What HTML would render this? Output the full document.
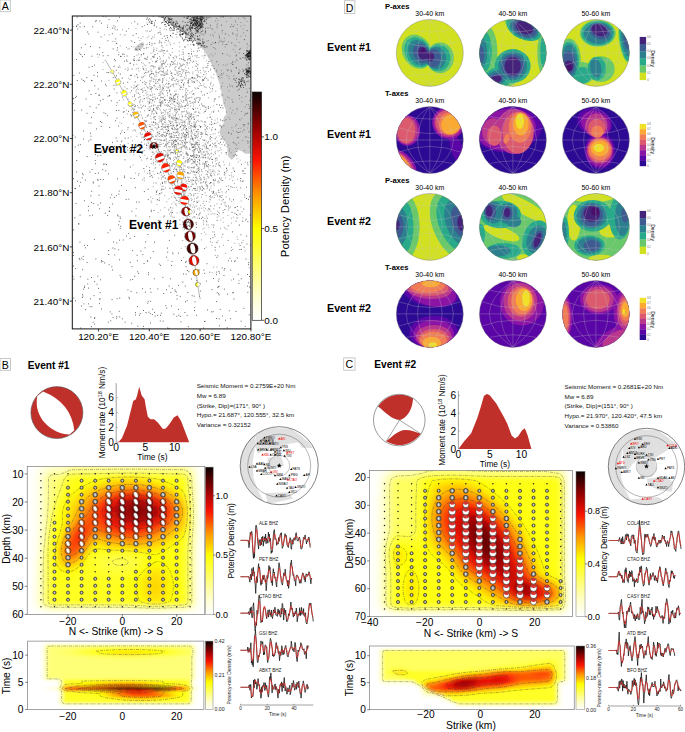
<!DOCTYPE html>
<html><head><meta charset="utf-8"><style>
html,body{margin:0;padding:0;background:#fff;width:685px;height:732px;overflow:hidden}
svg{display:block;font-family:"Liberation Sans",sans-serif}
</style></head><body>
<svg width="685" height="732" viewBox="0 0 685 732">
<defs>
<filter id="bl3" x="-10%" y="-10%" width="120%" height="120%"><feGaussianBlur stdDeviation="2.6"/></filter>
</defs>
<rect x="0" y="0" width="10.3" height="11.7" fill="#fff" stroke="#bbb" stroke-width="0.8"/>
<text x="5.2" y="9.9" font-size="10.6" text-anchor="middle">A</text>
<defs><clipPath id="cA"><rect x="72.3" y="16.0" width="178.6" height="312.9"/></clipPath></defs>
<g clip-path="url(#cA)">
<path d="M159.5 15.5 L173.1 26.3 L187.4 34.5 L197.7 42.7 L205.8 52.9 L210.9 63.1 L216.1 73.4 L220.1 85.6 L222 94.8 L223.2 103.4 L225.7 109.5 L226.3 114.4 L223.8 116.9 L223.2 120.6 L223.8 123 L220.8 126.7 L219.5 131.7 L220.8 136.6 L223.8 140.3 L226.9 144 L227.5 151.3 L228.1 156.3 L231.8 160 L234.3 157.5 L236.1 152.6 L238.6 150.1 L241.7 151.3 L245.3 153.8 L252 153.8 L252 14Z" fill="#cbcbcb"/>
<path d="M134.5 50.5 C134 47 138 44.5 141 42.5 C144 41.5 145 44 143.5 46.5 C141.5 49.5 137 52.5 134.5 50.5Z" fill="#cbcbcb"/>
<path d="M219.8 16h.9M170 16.7h.9M195.2 17h.9M210.4 17.3h.9M220.6 17.1h.9M223.1 17.3h.9M242.5 17.3h.9M162.9 17.9h.9M203.2 18.1h.9M204.8 17.7h.9M216.1 18.3h.9M230.4 17.9h.9M238 18.5h.9M244.1 18h.9M171.8 18.6h.9M189.8 19.4h.9M198.1 19.3h.9M244.5 18.7h.9M167.1 20.4h.9M201.7 20.1h.9M182.8 21.4h.9M215 20.9h.9M217.6 20.6h.9M234.9 20.7h.9M246.5 21.4h.9M149.2 21.6h.9M173.7 22.3h.9M181.9 21.7h.9M190.6 22.1h.9M226 21.6h.9M235.3 22.2h.9M131.2 23h.9M146.4 22.9h.9M172.2 22.9h.9M240.4 22.5h.9M169.8 24.3h.9M217 23.8h.9M231.1 24.3h.9M107.2 25.1h.9M178.8 25.2h.9M186.8 24.7h.9M199.3 24.5h.9M199.5 24.6h.9M201.7 25h.9M216.5 24.8h.9M220.8 25.4h.9M221.2 25h.9M233.7 25h.9M237.1 24.7h.9M243.8 25.2h.9M144 25.5h.9M186 25.5h.9M187.6 25.6h.9M216.6 26.5h.9M240.5 26.3h.9M115.1 26.9h.9M189.8 27.1h.9M196.9 26.8h.9M172.8 27.5h.9M173.9 28.4h.9M189.6 27.5h.9M192.5 28.2h.9M210.1 27.7h.9M216.6 28h.9M128 28.5h.9M135.6 28.6h.9M163.7 29.3h.9M190 29.1h.9M200.1 29.2h.9M211.3 29h.9M212 29h.9M236.6 28.7h.9M242.7 28.9h.9M114.9 29.8h.9M122 29.6h.9M151.1 30h.9M166 29.6h.9M170.9 30h.9M185.4 30.3h.9M202.2 30h.9M145.4 30.9h.9M146.9 30.9h.9M159.6 30.9h.9M184.1 31.2h.9M190.7 30.9h.9M205.1 31.1h.9M237.1 30.7h.9M191.4 32.3h.9M205.2 32.2h.9M214.3 32.2h.9M157.6 32.9h.9M160.3 32.7h.9M172.6 33.1h.9M221.8 33.2h.9M232.3 32.8h.9M243.2 32.8h.9M119.9 34.4h.9M178.8 33.8h.9M201 34h.9M202.5 34h.9M236.9 34.1h.9M104 34.8h.9M108.7 34.9h.9M154.2 34.9h.9M179.2 35.3h.9M194.6 35.5h.9M203.3 35h.9M209.9 34.9h.9M212.3 34.8h.9M218.5 35h.9M228.4 35.3h.9M235.5 35h.9M148.5 36h.9M166.2 35.7h.9M167 35.7h.9M213.1 36.2h.9M236.7 36.2h.9M240.5 36.2h.9M245 35.8h.9M142.6 36.7h.9M152.1 36.8h.9M153.7 37.3h.9M171.7 37.1h.9M176.4 37.1h.9M218.8 37h.9M219.1 37h.9M138.2 37.6h.9M146.8 37.7h.9M190.8 37.9h.9M219.3 38.2h.9M223.9 38.3h.9M140.6 38.5h.9M161.9 38.5h.9M165.1 38.7h.9M190.7 38.9h.9M236.2 39.2h.9M139.3 40.5h.9M168.1 40.3h.9M189.2 40.5h.9M207.9 40.5h.9M220.6 40.2h.9M112.3 41.4h.9M130.7 40.6h.9M159 40.7h.9M165.6 40.5h.9M165.7 40.5h.9M206.5 41.1h.9M219 41.1h.9M223.8 41h.9M114.4 41.5h.9M131.5 41.5h.9M159.4 41.7h.9M160.8 42.3h.9M167.7 41.5h.9M178.8 42.4h.9M215.2 42.4h.9M220.8 41.7h.9M222.5 41.8h.9M222.6 42.2h.9M228.1 41.9h.9M238.7 42.4h.9M116.3 43.4h.9M149.1 42.6h.9M149.3 42.8h.9M151.5 43.2h.9M160.9 43.2h.9M164.5 42.7h.9M169.4 42.9h.9M173.6 43.3h.9M212.3 42.6h.9M214.3 43.3h.9M218.2 42.7h.9M246.6 43.4h.9M141 44.4h.9M146.9 44.2h.9M151.7 44h.9M211.2 44.4h.9M222.2 44.4h.9M142.2 44.6h.9M145.8 44.9h.9M166.4 45h.9M170 44.5h.9M187.5 44.8h.9M190.3 44.7h.9M192.7 44.7h.9M197 45.1h.9M210.2 44.8h.9M224.7 44.7h.9M234.4 45.3h.9M246.8 44.9h.9M119.8 46.1h.9M131.2 46.4h.9M138.3 46.5h.9M151.4 45.8h.9M161 45.8h.9M161.7 45.9h.9M235.5 46.1h.9M248.9 45.8h.9M133.5 46.8h.9M179.3 46.7h.9M184.6 47.5h.9M203.3 47.2h.9M206.9 46.8h.9M224.7 47h.9M126.1 47.5h.9M147.7 47.6h.9M153.5 47.9h.9M156.3 48.3h.9M162.5 47.6h.9M172 48.5h.9M198.7 47.8h.9M200.3 47.6h.9M205.4 47.5h.9M212.8 47.5h.9M214.2 48h.9M240.2 48.4h.9M246.8 47.9h.9M127.6 49h.9M128.9 48.8h.9M135.3 48.9h.9M182.6 49.4h.9M190.7 49.3h.9M215.2 48.9h.9M232.9 49.4h.9M136.6 49.9h.9M140 50.3h.9M153 50h.9M153.7 49.7h.9M155.9 50.4h.9M161.3 49.6h.9M153.4 51.3h.9M158.6 51.2h.9M159.9 51.3h.9M161.4 51.1h.9M161.7 50.6h.9M163.1 50.7h.9M166.7 51.3h.9M166.7 50.7h.9M178.8 51.4h.9M191.1 51.4h.9M193 51.4h.9M199.1 50.5h.9M118.3 52.1h.9M152.7 52.1h.9M171.9 52.4h.9M182.3 51.9h.9M204.3 52.5h.9M234.9 52h.9M150.6 53.2h.9M162.8 52.9h.9M164.4 53.3h.9M183.1 52.7h.9M238.9 53h.9M248.7 53.4h.9M122.8 53.9h.9M123.9 54.4h.9M138.1 54h.9M143.1 54.3h.9M155 54.4h.9M157.1 53.6h.9M168.8 53.9h.9M183.1 54.2h.9M189 53.7h.9M191 53.8h.9M210.8 54.2h.9M214.5 53.7h.9M136.5 55.3h.9M154.1 54.5h.9M179.1 55.2h.9M181.6 54.6h.9M203.8 55.1h.9M204.9 55.2h.9M226.8 54.7h.9M236.2 54.9h.9M123.9 56.4h.9M134 56.4h.9M140.8 55.9h.9M153.7 56h.9M159 56.5h.9M163 55.8h.9M174.7 56.1h.9M176.3 56.4h.9M188.5 56.1h.9M192.1 56.2h.9M194.4 55.7h.9M195.5 56h.9M196.8 55.6h.9M201.6 55.9h.9M204.3 55.9h.9M208.5 56h.9M212.4 55.9h.9M229.5 56h.9M247 55.9h.9M250.6 56.4h.9M97.6 57.2h.9M133.6 56.7h.9M139.2 57.5h.9M152.1 56.5h.9M152.5 56.9h.9M153.8 57.2h.9M168.4 57.2h.9M172.7 57.4h.9M183 57h.9M189.9 57h.9M196.5 57.3h.9M247.5 57.5h.9M144.3 58.2h.9M145.5 58.5h.9M159.8 58h.9M168.8 58.1h.9M172.8 58h.9M173.6 58.2h.9M176 57.6h.9M188.2 58.5h.9M189.1 58.5h.9M198.4 57.6h.9M203.6 58h.9M239.6 58.3h.9M239.8 58.3h.9M133.8 58.6h.9M146.8 59.3h.9M150.7 58.9h.9M159.7 59.3h.9M179 58.7h.9M180.7 58.6h.9M181 59.3h.9M183.1 59.2h.9M183.3 59.2h.9M187.5 59.5h.9M188.9 58.9h.9M190 58.8h.9M236.1 59.3h.9M240.4 58.9h.9M104.7 60.4h.9M138.6 60.4h.9M139.3 59.8h.9M146.1 59.6h.9M165.9 60.1h.9M174.8 60.2h.9M182.5 59.7h.9M187.2 60.1h.9M133.6 60.6h.9M136.4 60.6h.9M152 61.4h.9M156.8 60.6h.9M161.6 61.1h.9M162.9 60.7h.9M163.1 61.4h.9M165.7 61.2h.9M183.6 60.9h.9M195.7 61.3h.9M206.2 60.8h.9M208.3 61.5h.9M211.3 60.9h.9M232.2 61.4h.9M236.8 60.7h.9M246.8 60.6h.9M155 62h.9M155.6 61.7h.9M155.7 61.9h.9M160.2 62h.9M171 61.6h.9M171.2 61.8h.9M171.9 61.9h.9M173.7 61.6h.9M192.3 62.4h.9M208.7 61.7h.9M232.2 62.4h.9M234.7 62h.9M102.5 62.6h.9M129.3 63.4h.9M141 62.6h.9M142.7 63.3h.9M148.6 62.7h.9M149.3 62.9h.9M172.8 62.7h.9M177.1 62.9h.9M186.3 62.9h.9M186.8 62.7h.9M187.2 63.1h.9M189 62.9h.9M230.6 63.5h.9M136.4 64.2h.9M161.5 64.2h.9M161.6 63.6h.9M161.9 63.7h.9M163 63.6h.9M163.4 63.5h.9M164.1 64h.9M167.3 64.3h.9M169.8 63.9h.9M169.9 64.5h.9M172 64.4h.9M172.9 64h.9M174.1 64h.9M174.7 64h.9M176.7 64.4h.9M179 63.7h.9M180 64.2h.9M181.8 64.2h.9M183.1 64.2h.9M196.2 63.5h.9M226.9 64.2h.9M231.9 64.4h.9M143.9 64.9h.9M161 65.1h.9M161.5 64.6h.9M183.8 64.6h.9M186.6 65h.9M197.1 64.9h.9M197.6 64.7h.9M211.3 65.5h.9M217.9 64.8h.9M222.8 64.9h.9M225.3 65.3h.9M246.3 64.7h.9M250.4 65h.9M114.1 66.2h.9M119.2 65.9h.9M145.5 65.6h.9M149.9 66.3h.9M151 65.8h.9M152.9 66.3h.9M159.6 66.1h.9M162.2 66h.9M170.3 65.6h.9M175.6 66.5h.9M180.4 66.1h.9M180.6 65.8h.9M180.8 66.1h.9M182 65.5h.9M195 66.2h.9M196 66.3h.9M212.7 66h.9M247.6 65.6h.9M113.1 66.6h.9M119.6 67.3h.9M142.3 66.6h.9M158.6 67.4h.9M160.9 67.1h.9M169.2 66.8h.9M175 67.1h.9M179.4 66.9h.9M184.9 67.1h.9M192.2 67.2h.9M127.5 67.9h.9M153 68h.9M159.4 68.1h.9M162.6 68.1h.9M163 68.3h.9M174.1 68h.9M178.3 68.1h.9M178.6 68.1h.9M188 68.4h.9M197.1 68.3h.9M207.2 67.8h.9M235.6 68.2h.9M246.4 67.7h.9M124.9 69h.9M127.8 69.5h.9M135.8 68.9h.9M143 69.3h.9M145.8 68.8h.9M150.5 69.2h.9M158.4 69h.9M158.9 69.4h.9M160.5 68.9h.9M178.5 68.7h.9M181.2 69h.9M197 68.7h.9M210 69.1h.9M226.7 69.5h.9M242.1 69.2h.9M249.6 68.8h.9M102.5 69.5h.9M127.2 70.5h.9M143.4 69.8h.9M145.7 70.3h.9M163.2 70.3h.9M167.1 70h.9M174.6 69.9h.9M175.3 70.1h.9M181.9 69.6h.9M182.6 70.5h.9M183.6 69.7h.9M195.5 70.3h.9M199.9 70.5h.9M210.2 70.2h.9M216.2 70h.9M221.2 70.3h.9M228.1 70.1h.9M230.6 70.1h.9M238.6 69.7h.9M244.7 69.5h.9M247.2 70.1h.9M138.4 70.9h.9M147.9 71.2h.9M149.7 70.8h.9M155.5 71.1h.9M160.4 71.1h.9M162.7 71.5h.9M167.1 70.9h.9M170.1 71.1h.9M176.6 71.2h.9M179.6 71.4h.9M185.4 70.6h.9M186.2 70.8h.9M197.4 70.6h.9M203.2 70.7h.9M205.5 71.2h.9M208 71.3h.9M226.9 70.9h.9M230.7 70.9h.9M239.5 71h.9M111.3 71.9h.9M145.4 72.4h.9M148 72h.9M155.5 72.3h.9M155.8 72.4h.9M159 71.7h.9M162.9 72.4h.9M165.6 72h.9M178.1 71.9h.9M179.5 71.5h.9M183.3 71.6h.9M185.7 72.5h.9M187.8 71.9h.9M192.5 72.1h.9M198.1 72.2h.9M204.5 72h.9M216.1 71.7h.9M231 71.8h.9M238.8 72.4h.9M118.3 73.1h.9M144 73.4h.9M144.8 72.8h.9M146.6 72.6h.9M153.1 73.4h.9M157.5 72.8h.9M158.2 72.7h.9M163.9 73.2h.9M166.9 73.2h.9M170.7 73.3h.9M170.8 72.8h.9M171.4 73.1h.9M176.3 73h.9M177 73.1h.9M182.1 72.9h.9M185 72.9h.9M185.2 73.3h.9M187.5 72.5h.9M189.2 73h.9M200.4 72.8h.9M223.2 73.1h.9M149.6 74.3h.9M150.2 74.5h.9M152.9 74.3h.9M156 74.1h.9M165.2 73.9h.9M171.1 73.8h.9M173.9 74.3h.9M178.6 74.1h.9M179.8 73.6h.9M192.2 73.8h.9M205.9 73.7h.9M220.9 73.6h.9M221.5 74.3h.9M244.6 74.5h.9M130 75.4h.9M149.3 75.4h.9M154.4 75.2h.9M160.4 74.8h.9M160.9 75h.9M164.5 75.1h.9M167.5 74.5h.9M175.2 74.7h.9M181 74.8h.9M185.3 75h.9M196 75.1h.9M197.3 75.5h.9M197.4 74.8h.9M213.5 74.5h.9M219.4 75.2h.9M221.6 75.1h.9M226.4 75.4h.9M130.2 75.7h.9M134.4 76.2h.9M136.8 76.1h.9M142.9 76.3h.9M144.5 75.7h.9M149 76.4h.9M156.3 76.2h.9M171 75.6h.9M172.1 76.4h.9M180.1 76.5h.9M181 76.2h.9M185.8 76.2h.9M198.5 76.4h.9M233.3 75.8h.9M140.9 77.1h.9M142.6 77.2h.9M151.3 77.4h.9M154.6 76.7h.9M184.1 77.3h.9M192.3 77.3h.9M198.7 76.8h.9M199.8 77.2h.9M201.8 76.7h.9M205.3 77.4h.9M210.8 77.2h.9M228.4 76.6h.9M246.6 77.5h.9M248.9 76.6h.9M114.9 77.7h.9M121.6 78.1h.9M122.1 78.1h.9M128.3 78.3h.9M141.8 77.9h.9M150.5 77.8h.9M163.8 77.9h.9M169 78.1h.9M171.9 78.3h.9M172.9 78h.9M173.3 78.3h.9M185.7 78.4h.9M191.3 78h.9M191.9 78.1h.9M192.2 77.8h.9M212.7 78.2h.9M219.3 77.8h.9M221.4 77.7h.9M250.6 77.6h.9M151.4 78.8h.9M153.3 78.7h.9M155.7 79.3h.9M159.2 79.2h.9M162.1 78.6h.9M162.4 79.1h.9M182.5 79.3h.9M184.8 78.9h.9M190 79.1h.9M193.4 78.8h.9M195.6 78.9h.9M206.2 78.6h.9M228.7 78.7h.9M234.3 78.9h.9M242.9 78.5h.9M108.5 80.4h.9M129.6 79.5h.9M140.1 80.5h.9M150.5 80.4h.9M153.5 79.5h.9M155.2 80.2h.9M157.9 79.7h.9M158.1 80.1h.9M158.5 80h.9M159.6 80.2h.9M166 80.2h.9M171.1 79.6h.9M171.6 80.1h.9M171.9 80.1h.9M174 80.3h.9M178.5 80.4h.9M180.7 79.9h.9M191.4 80.5h.9M203.1 80.4h.9M203.2 79.7h.9M115.2 80.6h.9M144.2 81.4h.9M148.9 81h.9M168.4 81.4h.9M175.3 80.9h.9M177.1 81.5h.9M181.7 80.8h.9M182.2 80.6h.9M187.7 80.5h.9M187.9 80.6h.9M188 81.4h.9M194.2 81.4h.9M196.5 80.7h.9M196.9 80.9h.9M201.8 81h.9M134.6 82.2h.9M134.8 81.7h.9M150.4 81.6h.9M153.1 81.6h.9M154.9 81.8h.9M157.2 81.5h.9M161.7 82.1h.9M162 81.7h.9M177.9 81.8h.9M187.9 82.3h.9M193.1 81.7h.9M199.1 82.3h.9M240.5 81.7h.9M145.3 82.9h.9M145.9 82.6h.9M149.1 83.3h.9M156.3 83.2h.9M157.7 83.1h.9M162.1 82.6h.9M166.2 83.4h.9M168.5 83.5h.9M184 82.9h.9M210.2 83.4h.9M210.6 82.8h.9M222.4 83.1h.9M143.9 83.9h.9M145 84.5h.9M155 83.5h.9M164.9 84.3h.9M167.7 84.2h.9M173.3 84h.9M175.5 83.6h.9M175.9 84.4h.9M177.6 83.7h.9M187.9 83.6h.9M200 83.5h.9M203.6 83.8h.9M133.9 85.3h.9M149.4 84.7h.9M154.2 85.4h.9M159.3 85h.9M162.8 84.9h.9M171.4 85.1h.9M172.5 84.6h.9M172.9 85.1h.9M178.7 85.2h.9M183 85.2h.9M183.3 85.1h.9M210 84.8h.9M213.2 84.9h.9M229.2 84.8h.9M146.1 86h.9M149.6 86.5h.9M153.3 85.7h.9M159.4 85.5h.9M164.3 86.3h.9M169.9 85.9h.9M180.5 86.1h.9M188.2 86h.9M189.4 86.3h.9M198.7 86h.9M202.8 85.7h.9M211.9 86.1h.9M221.2 86.3h.9M231.7 85.9h.9M124.5 86.9h.9M130.9 87.2h.9M135.1 86.9h.9M136.2 86.5h.9M147.5 87.2h.9M150.6 86.7h.9M154.6 86.7h.9M157.6 87.2h.9M159.4 87h.9M160.2 86.8h.9M166.4 87.2h.9M167.7 86.9h.9M168.2 87.4h.9M169.8 86.6h.9M173.3 86.8h.9M180.1 87.3h.9M180.5 87.2h.9M180.8 87.5h.9M182.9 87.3h.9M209.1 87.1h.9M220.6 87h.9M227.1 87h.9M229.9 86.5h.9M232.2 86.8h.9M133.2 88.1h.9M134.2 87.9h.9M137.1 88.1h.9M143.7 87.8h.9M147 87.7h.9M148.5 88.2h.9M151 88.3h.9M151.4 87.8h.9M152.1 87.7h.9M155.8 88.4h.9M159.8 88.2h.9M162.3 88.1h.9M167.7 88.3h.9M194.5 87.8h.9M196.8 88h.9M205.7 87.7h.9M248.9 88.4h.9M141.2 89.4h.9M141.8 88.8h.9M150.2 88.7h.9M155.3 89.3h.9M161.9 89.4h.9M179.4 89h.9M179.7 89.5h.9M182.2 89.5h.9M185.4 88.6h.9M185.9 89h.9M195.1 88.9h.9M210.3 88.6h.9M219.8 88.9h.9M246.2 89.1h.9M136.2 89.8h.9M137.8 89.5h.9M140.4 89.5h.9M150.2 89.5h.9M150.8 89.7h.9M159.5 89.7h.9M161.5 90.2h.9M163.4 90.4h.9M169.2 90.5h.9M169.3 89.9h.9M187 90.4h.9M237.4 90.5h.9M135.5 91.2h.9M142.1 90.6h.9M143.2 91.1h.9M169.2 90.8h.9M173.9 91.3h.9M175.6 90.8h.9M185 90.8h.9M192 90.8h.9M211.7 91.1h.9M215.3 91.3h.9M228.5 90.8h.9M120.3 92h.9M142.2 92.5h.9M146.5 91.9h.9M151.2 91.6h.9M159.9 91.9h.9M160.8 91.8h.9M169.1 91.7h.9M186.3 92.5h.9M190.8 91.8h.9M209.6 92.2h.9M246.9 91.8h.9M129.8 92.8h.9M136.4 93h.9M145.4 93.2h.9M158.5 93.4h.9M159.7 93.1h.9M161.9 93h.9M167.2 92.6h.9M185.2 93.2h.9M189.4 93h.9M193.1 93.5h.9M246.7 92.6h.9M126.4 94.2h.9M152.3 94.2h.9M154.1 94.3h.9M161.8 93.8h.9M162.9 94h.9M167 93.7h.9M170.1 94.4h.9M170.1 94.2h.9M174.8 94.4h.9M174.9 94h.9M175.6 94.1h.9M175.9 94.3h.9M177.7 94.1h.9M186.8 94.3h.9M192.2 94.4h.9M193.4 93.7h.9M220.8 94.1h.9M134.3 94.5h.9M139.3 94.5h.9M146.3 95h.9M147.6 94.7h.9M149.7 95.1h.9M150 95.4h.9M151.6 95.2h.9M159.5 95.3h.9M159.7 94.7h.9M170.7 94.9h.9M174 95.4h.9M184.7 95.2h.9M185 94.8h.9M193.5 94.7h.9M202.2 95.1h.9M222.3 95h.9M134 95.6h.9M143.4 95.7h.9M158.6 95.6h.9M164.4 96.2h.9M167.1 95.7h.9M172.9 96.4h.9M173.3 95.8h.9M174.8 95.8h.9M177.6 96.1h.9M182 96.3h.9M186 95.9h.9M220.9 95.8h.9M245.2 96.4h.9M107.4 96.5h.9M132.2 96.8h.9M133.8 96.6h.9M139.5 97.1h.9M139.7 96.6h.9M147.8 96.8h.9M154.4 97h.9M160 97.3h.9M160.6 97.4h.9M162.2 97.3h.9M169.5 97.1h.9M173 97.5h.9M182.4 97.2h.9M183.3 96.7h.9M185.7 96.9h.9M190.6 97.4h.9M191.5 97.2h.9M227.3 97.1h.9M241.3 97.4h.9M138 97.7h.9M145.9 98h.9M147.3 98.2h.9M155 98.4h.9M157.3 98.2h.9M160.9 97.7h.9M162.7 97.8h.9M162.9 97.7h.9M169.1 98.2h.9M169.7 97.9h.9M170.4 97.9h.9M171 98.2h.9M171.1 98.3h.9M173.1 98.1h.9M185.5 97.5h.9M187.5 98.2h.9M187.8 98.4h.9M189 97.7h.9M195.8 98.3h.9M200.2 98.1h.9M208.2 97.9h.9M228.7 98h.9M127.6 98.9h.9M142.8 99.1h.9M148.9 98.7h.9M150.3 99.3h.9M150.7 99.5h.9M157 98.5h.9M164.7 99.4h.9M169.7 99.3h.9M171.9 99.1h.9M174.4 98.9h.9M174.5 99h.9M174.7 99.2h.9M177.4 99.2h.9M185.3 98.6h.9M193.9 99h.9M194.2 98.8h.9M214.2 99h.9M239.1 98.8h.9M123.2 99.9h.9M140.3 99.5h.9M149.4 99.8h.9M151.9 100h.9M154.9 99.6h.9M159.1 100h.9M160 99.8h.9M163.9 99.6h.9M164.9 100.4h.9M166.8 100.3h.9M171.7 100.4h.9M173.4 99.8h.9M173.6 100h.9M180.5 100h.9M185.5 99.5h.9M185.5 100.3h.9M185.7 100h.9M186.4 100.4h.9M194.8 99.9h.9M213.7 100h.9M225 99.8h.9M231.6 99.6h.9M250.6 99.6h.9M118.9 100.5h.9M133.9 100.5h.9M139.4 101.4h.9M139.6 100.8h.9M142.1 101.3h.9M147.3 101.2h.9M152 100.8h.9M170.2 101h.9M173.9 101.5h.9M177.2 100.6h.9M183.2 100.6h.9M183.3 101h.9M189.7 101.2h.9M195.2 100.7h.9M199.1 100.6h.9M249.1 100.5h.9M149.7 101.9h.9M154 102h.9M158.9 102h.9M169 102.1h.9M172.8 101.7h.9M173.5 102h.9M178.4 102.1h.9M180.9 101.6h.9M182.6 102.4h.9M186.9 102h.9M189.2 101.5h.9M192.3 102.3h.9M193.6 102h.9M194.4 102.3h.9M194.9 102.3h.9M197.9 101.7h.9M198 102.5h.9M213.8 101.6h.9M241.4 101.9h.9M131.1 103.3h.9M139.3 102.8h.9M148.9 102.8h.9M149.2 103.3h.9M151.4 103.1h.9M159.7 102.8h.9M159.8 102.8h.9M160.1 102.9h.9M160.7 103.4h.9M161.1 102.9h.9M162.3 102.8h.9M162.4 103.1h.9M165.1 102.5h.9M168 102.5h.9M171.3 103.2h.9M176.5 103h.9M177 103.5h.9M177.2 103h.9M179.5 103.5h.9M186.8 103.2h.9M189.9 103.5h.9M191.5 102.9h.9M224.3 103h.9M133.9 104.4h.9M147.8 104h.9M167.4 104.2h.9M172.5 104.1h.9M178.7 104.1h.9M187.7 104.2h.9M192.9 103.9h.9M246.3 104.5h.9M116.1 105.5h.9M132.2 105.5h.9M132.8 105.1h.9M140.3 104.9h.9M153 105.1h.9M154.6 105.2h.9M159.4 105.4h.9M160.6 104.6h.9M163.8 105.1h.9M165.4 105.1h.9M166.2 105.2h.9M167.8 105.4h.9M170.1 104.6h.9M173.9 105.4h.9M177.8 104.8h.9M180.9 105.1h.9M186.2 104.9h.9M199.1 105.3h.9M202.2 105.4h.9M248 104.7h.9M250.8 105.4h.9M134.5 106.3h.9M135 105.9h.9M135.1 105.9h.9M137.1 105.7h.9M143.2 105.6h.9M151.1 105.7h.9M153.1 105.9h.9M160.2 106.2h.9M160.5 106.2h.9M167 106.3h.9M168.2 105.8h.9M175.4 106.2h.9M177.8 106.4h.9M179.3 105.8h.9M181.8 106.3h.9M183.9 106.5h.9M184.6 106h.9M190 106.1h.9M193.1 106.2h.9M204 106h.9M212.8 105.8h.9M249.1 106.3h.9M133.9 106.8h.9M137.7 107.2h.9M142.2 106.6h.9M148.7 106.6h.9M150.6 106.7h.9M156.6 106.9h.9M169.2 106.5h.9M170.5 107.1h.9M178.4 107.1h.9M179.8 107.2h.9M180.7 107h.9M182 106.7h.9M204.6 107.4h.9M205 107.2h.9M244.8 106.9h.9M123.4 108h.9M138.9 107.9h.9M140.7 107.6h.9M140.9 108.2h.9M148.8 107.8h.9M153.1 108.5h.9M156.9 108h.9M157.8 107.5h.9M171.4 108h.9M172.4 108.1h.9M174.5 107.7h.9M187.5 108.3h.9M191.9 108.3h.9M195.1 108.2h.9M197 108.2h.9M206.3 107.9h.9M210.1 107.5h.9M229.8 108.2h.9M236.4 108.3h.9M133.5 109h.9M147.4 108.8h.9M150.1 109.2h.9M153.2 108.6h.9M158.8 109h.9M168.5 109.2h.9M170.2 109.2h.9M174.1 109.4h.9M174.2 109.1h.9M175.4 109.5h.9M175.9 109h.9M177.6 108.9h.9M178.8 108.9h.9M184.2 108.6h.9M192.5 108.5h.9M192.8 109.4h.9M199.9 109.2h.9M126.1 110.4h.9M131.4 109.9h.9M148.7 110.5h.9M148.8 110.5h.9M148.9 110.4h.9M149.3 110.5h.9M152.6 109.9h.9M157 109.6h.9M160.2 110.2h.9M162.9 109.8h.9M165.7 109.6h.9M175.2 110h.9M176.3 110.1h.9M178.3 109.6h.9M178.9 109.6h.9M179 109.9h.9M205.7 109.7h.9M232.3 110.3h.9M236.7 109.7h.9M144.1 110.8h.9M151.3 110.9h.9M153.7 110.6h.9M155.1 111h.9M164.2 110.7h.9M165 111.3h.9M169 111.5h.9M169.8 110.9h.9M174.2 111h.9M184.2 111.2h.9M186 111h.9M203.9 111.3h.9M213.5 110.9h.9M132 112.4h.9M137.4 112h.9M140 111.9h.9M152 111.6h.9M155.7 112.3h.9M160.7 112.1h.9M175.5 112.2h.9M177 111.5h.9M181.1 111.9h.9M182 111.9h.9M182.9 111.7h.9M186.3 112.1h.9M187.5 112.4h.9M194.6 112.3h.9M194.8 111.9h.9M195.5 111.8h.9M211.4 112h.9M226 112h.9M240.9 111.5h.9M133.1 112.7h.9M151.5 112.9h.9M161.2 113.4h.9M161.5 113h.9M162.8 112.6h.9M165.3 112.9h.9M167.3 113.1h.9M167.5 112.6h.9M176.3 112.6h.9M189.3 113h.9M199.4 113.3h.9M203.4 112.9h.9M231.2 112.9h.9M247.3 112.9h.9M126.8 114.1h.9M132.8 114.1h.9M147.8 114.3h.9M151.2 114.2h.9M156.4 113.5h.9M164.4 114.4h.9M169.6 113.9h.9M172.5 114h.9M175.7 113.6h.9M180.7 114.1h.9M186.3 114.1h.9M187.3 113.5h.9M188.5 114.1h.9M193.4 114.4h.9M209.5 114.2h.9M234.7 113.8h.9M245.5 114.2h.9M247 113.7h.9M130.1 114.6h.9M139.1 115h.9M140.9 115.1h.9M167.4 114.7h.9M168.7 115.4h.9M169.5 115.3h.9M175.2 114.6h.9M178.2 114.8h.9M185 115h.9M189.4 115.3h.9M190.2 114.7h.9M191.2 114.9h.9M244.1 115.4h.9M147 116.1h.9M150.1 116.1h.9M158.7 116.2h.9M161.7 116h.9M168.5 116.4h.9M169.6 116.3h.9M173.4 115.8h.9M174.7 115.5h.9M175.1 116.1h.9M182.2 115.8h.9M188.1 116h.9M191.3 116h.9M193.3 116.5h.9M195.8 116h.9M197.4 115.6h.9M197.9 115.8h.9M123 117.5h.9M145.4 117.3h.9M153.6 117.1h.9M154 116.7h.9M155.1 116.6h.9M160.5 117.2h.9M164.9 116.8h.9M171.6 117h.9M173.4 117.4h.9M179 117.1h.9M181.6 116.8h.9M182 116.8h.9M184.6 116.6h.9M185.6 116.6h.9M189.2 117.2h.9M189.6 116.9h.9M190.1 116.5h.9M190.4 117h.9M228.6 117.5h.9M153.1 117.6h.9M158.7 118.2h.9M161.9 118h.9M163 118.1h.9M163.5 117.6h.9M164.9 118.4h.9M168.9 117.5h.9M171.9 117.6h.9M174.4 118.1h.9M176.1 118.3h.9M176.7 118.3h.9M177.5 118.4h.9M187.1 117.6h.9M187.9 118.2h.9M188.1 118.4h.9M190.8 118.3h.9M192.6 117.5h.9M193.5 117.8h.9M206.8 118h.9M209.4 117.5h.9M241.5 118.4h.9M150.6 118.9h.9M153.7 118.8h.9M154.8 119.4h.9M161.4 118.8h.9M163.2 119.1h.9M163.5 119.4h.9M172.3 118.7h.9M173.6 118.7h.9M175.6 118.9h.9M176.2 118.8h.9M176.9 119.1h.9M179.6 119.5h.9M185.7 119.4h.9M187.8 119.4h.9M189.2 119.2h.9M191 119h.9M193.7 118.9h.9M216.9 118.9h.9M229.5 119.5h.9M144.2 120.3h.9M146.3 120.4h.9M155.1 119.6h.9M159.6 120.2h.9M160.6 119.8h.9M161.6 120.2h.9M161.6 120.1h.9M164 119.5h.9M164.8 120.1h.9M172.7 119.6h.9M174.8 120.1h.9M178.2 119.8h.9M180.7 120.3h.9M181.4 119.8h.9M193.8 119.6h.9M194.2 119.5h.9M197.3 120.3h.9M214.5 120.1h.9M224.6 120.4h.9M225.7 119.5h.9M239.1 119.6h.9M239.7 119.9h.9M250 120.1h.9M250.4 119.5h.9M144.6 120.6h.9M145.7 121.5h.9M159.5 121.3h.9M168.3 120.5h.9M169.7 121.1h.9M174.6 120.6h.9M175.6 120.7h.9M182.5 121h.9M184.6 121h.9M188.3 120.9h.9M188.8 121.4h.9M189.8 121.2h.9M195.8 121.3h.9M200.6 120.9h.9M201.7 121.5h.9M119.4 122.3h.9M144.7 121.6h.9M145.5 121.9h.9M151.3 122.2h.9M160.8 121.7h.9M161 121.9h.9M168.8 121.6h.9M169.5 122.1h.9M171.4 121.6h.9M172.3 122.1h.9M175.9 122h.9M180.7 122.5h.9M182.7 122.1h.9M189 122.1h.9M193.6 121.9h.9M198.4 121.5h.9M204.2 121.9h.9M204.6 121.9h.9M205.1 122.1h.9M217.4 122.1h.9M144.2 123.2h.9M154.7 122.8h.9M155.3 122.7h.9M158.5 122.6h.9M161.7 123.4h.9M165.4 122.7h.9M170.2 123.4h.9M170.4 123.2h.9M174.9 122.7h.9M176 122.9h.9M177.5 122.7h.9M179.2 123.1h.9M182.2 122.5h.9M184.7 122.8h.9M187.6 123h.9M189.1 123.1h.9M190.8 123.4h.9M193.4 122.9h.9M195.5 122.7h.9M214 123.3h.9M214 123.4h.9M215.6 123.4h.9M121.2 123.5h.9M132.9 123.9h.9M139.1 123.9h.9M155.3 124.5h.9M155.7 123.6h.9M157.4 124.1h.9M161.9 124.5h.9M163 123.8h.9M164.7 124.5h.9M170 123.8h.9M172.7 124.1h.9M181.3 124.2h.9M184.2 124.3h.9M187.5 124.2h.9M194.8 123.6h.9M203.9 124.5h.9M209.4 124.1h.9M212.4 124.1h.9M242.7 124.5h.9M141.8 125.3h.9M144.8 125.5h.9M148.8 124.7h.9M150.7 124.8h.9M152 124.9h.9M153.5 125.4h.9M157.8 125h.9M167.5 124.7h.9M168.3 124.9h.9M173.4 125.4h.9M177 125.2h.9M177.2 125h.9M179.3 124.5h.9M182 125.3h.9M184.9 125.5h.9M189.1 124.8h.9M190 125.4h.9M193.5 124.9h.9M194.4 124.8h.9M195.2 124.7h.9M205.3 125.4h.9M219.4 125.1h.9M236.2 124.6h.9M243.2 124.6h.9M244.2 124.6h.9M247.8 124.8h.9M142 126.2h.9M144.2 126.2h.9M146 126h.9M162.3 126h.9M165.4 126.3h.9M166.6 126.3h.9M166.8 126.4h.9M168.7 126.5h.9M170.2 125.6h.9M171 125.7h.9M172.5 126.5h.9M176.7 125.6h.9M176.9 125.7h.9M181.4 125.8h.9M183 125.9h.9M183.2 125.8h.9M184.2 126.1h.9M185.7 126.2h.9M190.9 125.6h.9M191.2 125.8h.9M193.4 126h.9M194.2 126.3h.9M194.2 126.3h.9M194.2 126h.9M194.8 126.1h.9M196.4 126.3h.9M199 125.6h.9M200.4 126.4h.9M204.6 126.3h.9M207 126.5h.9M223.4 125.8h.9M235 126h.9M243.3 126.4h.9M244.4 125.6h.9M140.4 127.3h.9M146 127.5h.9M148.9 126.5h.9M149.6 126.5h.9M150.3 126.8h.9M157.9 127.2h.9M158.1 126.8h.9M158.5 127.3h.9M160.9 126.5h.9M161.2 126.7h.9M163.2 127h.9M163.7 127.1h.9M164.7 127.1h.9M167 126.8h.9M168 126.9h.9M176 126.7h.9M180.2 127.3h.9M188.4 126.9h.9M190.4 127.2h.9M191.8 126.6h.9M193.4 127.1h.9M193.8 127h.9M194.2 126.7h.9M199.8 127.3h.9M200.3 127.4h.9M206.1 127.5h.9M143.6 127.9h.9M154.7 127.7h.9M156.6 128.2h.9M161.9 128.3h.9M167.3 127.7h.9M168.1 128.2h.9M171.1 128.4h.9M171.6 127.9h.9M172.1 128.5h.9M173.8 127.6h.9M174.9 128.4h.9M179.3 127.7h.9M183.1 128.1h.9M188.7 128.3h.9M190.3 128.3h.9M194.8 127.9h.9M195 127.5h.9M206.2 128.4h.9M209.2 128h.9M212 127.6h.9M231.4 127.8h.9M240.5 128.2h.9M247.3 128h.9M143.4 129.2h.9M143.7 129.4h.9M151.5 129.3h.9M151.6 129.1h.9M156.5 129h.9M160.4 129.4h.9M161.3 129.3h.9M165.4 129.3h.9M166.1 129.3h.9M171.9 129.2h.9M172.4 129.5h.9M174.3 129.1h.9M176.8 128.8h.9M182.8 128.6h.9M186 128.7h.9M186.3 129.1h.9M206.8 129h.9M211.4 129.4h.9M215 129h.9M238.1 128.5h.9M121.7 130.5h.9M127.4 129.6h.9M141.3 130.5h.9M150.4 129.5h.9M162.7 129.7h.9M166.8 130.1h.9M168.2 130.4h.9M174.3 129.9h.9M175.9 129.6h.9M176.4 130h.9M177.3 129.9h.9M181.3 130.1h.9M181.6 130.1h.9M183.5 129.7h.9M187.5 130.3h.9M191 129.8h.9M193.1 130h.9M194.4 129.7h.9M197.7 129.8h.9M204.4 129.8h.9M205.1 129.7h.9M211.1 130.1h.9M243.6 129.7h.9M243.7 130h.9M249.9 129.8h.9M132.5 130.6h.9M135 131h.9M149.5 131.3h.9M152.7 130.6h.9M167.1 131.2h.9M168.3 130.5h.9M190.8 130.9h.9M190.9 131.1h.9M191.3 131.3h.9M196.2 131.3h.9M205.6 131.4h.9M232.6 130.9h.9M121.3 132h.9M150.7 132.1h.9M157.7 131.9h.9M159.3 131.8h.9M163.6 132.1h.9M165 132.2h.9M166.7 132h.9M168.6 131.7h.9M172.7 132.2h.9M175.7 132.3h.9M176.3 132.4h.9M176.6 132h.9M177.3 131.9h.9M177.9 132.2h.9M186.1 132.1h.9M186.3 132.2h.9M188.3 131.9h.9M190.6 132.1h.9M195.7 131.5h.9M196.4 131.9h.9M196.5 132.1h.9M198.4 131.8h.9M201.2 132.5h.9M228.1 132.2h.9M236.3 131.5h.9M239.8 131.7h.9M242 131.7h.9M248.6 132.1h.9M248.6 131.6h.9M163.5 132.5h.9M166.5 133.5h.9M169.3 133.3h.9M174.9 133h.9M182.8 132.7h.9M183.1 132.9h.9M187 132.9h.9M191.9 133h.9M194.4 133.3h.9M200.3 132.8h.9M202.3 133.3h.9M205.2 132.9h.9M217.9 132.5h.9M227.9 133h.9M228.5 133h.9M236.9 132.7h.9M142 134.2h.9M145.2 134.2h.9M147.9 134.1h.9M156.6 134.5h.9M158.5 133.6h.9M158.8 134h.9M159.2 133.5h.9M167 133.5h.9M168.3 134.4h.9M169 134h.9M170.7 133.6h.9M170.7 133.8h.9M171.4 134.1h.9M178.9 133.8h.9M181.2 133.6h.9M181.6 133.9h.9M183.4 133.6h.9M185.4 134.3h.9M187.7 134.4h.9M188.2 133.8h.9M191.1 134h.9M193.5 134.2h.9M197.3 134.1h.9M198 133.8h.9M199.9 134.4h.9M201.5 134.5h.9M205 134.2h.9M205.7 134.3h.9M205.8 134.4h.9M212.8 134h.9M214.6 133.7h.9M140.8 134.6h.9M148.6 135.1h.9M151.8 134.7h.9M161.5 134.8h.9M163.1 134.8h.9M165.8 135.5h.9M166.1 135.5h.9M173.4 135.2h.9M178.3 135h.9M178.3 135.2h.9M182.3 135.1h.9M184 134.8h.9M184 134.9h.9M185.1 134.8h.9M186.1 135.3h.9M186.2 135.3h.9M187.7 134.9h.9M194.3 135.1h.9M195.5 135.2h.9M206.5 134.6h.9M207.3 135.1h.9M210.3 134.6h.9M136.5 136.4h.9M155 136h.9M155.8 136.4h.9M157.4 135.8h.9M158.9 136.5h.9M161.7 136.2h.9M165.3 136.3h.9M169.3 136.1h.9M170.7 136h.9M174.2 136h.9M175.5 135.5h.9M175.9 135.6h.9M181.5 135.9h.9M183.9 136.4h.9M184.8 136.3h.9M186 136.2h.9M186.1 135.6h.9M190.6 136h.9M190.7 135.7h.9M194.4 135.6h.9M195.1 135.9h.9M196.5 135.8h.9M197.8 136.2h.9M218.7 136h.9M130.5 136.9h.9M141.3 137.2h.9M142.6 137.2h.9M143.6 136.6h.9M144.3 137.2h.9M149.1 136.8h.9M161.8 136.5h.9M164.8 136.7h.9M169.4 137.3h.9M170.1 136.6h.9M171.3 137.5h.9M171.3 137.3h.9M172.9 137.5h.9M174.2 137.4h.9M182.8 136.7h.9M184 137.1h.9M184.9 137.3h.9M187.8 137h.9M188.3 137.1h.9M191 136.9h.9M192 137.3h.9M196 137h.9M201.2 136.7h.9M215.8 137.2h.9M222.1 137h.9M244.9 137.1h.9M245.9 136.7h.9M247.7 137.5h.9M143.3 137.7h.9M151.2 137.9h.9M170.3 138.1h.9M177.2 137.7h.9M178.5 137.6h.9M180.7 137.6h.9M181 138.1h.9M181 137.8h.9M185.6 137.9h.9M195.2 138h.9M197.2 137.6h.9M199.9 138.4h.9M209.3 138h.9M236.8 137.8h.9M153.9 139.3h.9M154.9 139.4h.9M156.6 139.1h.9M165.7 139.1h.9M165.7 138.8h.9M178 138.9h.9M184.4 138.8h.9M190.4 139.1h.9M190.6 138.6h.9M192 138.7h.9M192.1 139h.9M192.9 138.8h.9M202.3 139.5h.9M209.7 138.8h.9M209.8 139.3h.9M220.3 139.1h.9M223.7 139.3h.9M143.6 140.2h.9M149.8 140.1h.9M157.8 140h.9M159.4 139.5h.9M159.9 140.2h.9M160.9 140.1h.9M161.3 140.4h.9M163.6 140.1h.9M163.9 140.1h.9M164 140.4h.9M169.5 140.3h.9M171.1 140.4h.9M172 140.4h.9M172.6 140.1h.9M174 140.5h.9M174.8 140h.9M177 139.9h.9M180.4 140.3h.9M182.1 140.5h.9M185.1 140.1h.9M192.8 139.9h.9M197.5 140.1h.9M204.1 140.4h.9M204.3 140h.9M242.2 140.4h.9M132.1 140.7h.9M163.3 140.8h.9M165.6 140.8h.9M168.8 140.7h.9M174.5 140.8h.9M175 140.9h.9M175.4 141.3h.9M176.1 141.4h.9M176.1 141.2h.9M179.3 140.6h.9M183.2 140.9h.9M189.7 141.3h.9M192.7 141h.9M198.7 140.6h.9M203.2 140.5h.9M205.9 141.2h.9M208.1 141.4h.9M210.3 141.2h.9M216.6 141.1h.9M246.8 141.1h.9M120.8 141.9h.9M147.7 142.3h.9M155.8 141.8h.9M159.5 142.5h.9M166.3 141.8h.9M168.5 142.2h.9M173.4 141.7h.9M180.9 141.8h.9M181.7 142.3h.9M184 142.2h.9M185.4 141.6h.9M186.5 142.1h.9M194.7 142h.9M196.1 142h.9M196.9 142.5h.9M223 142.1h.9M233 142.1h.9M247.5 141.9h.9M248.7 141.8h.9M127.7 143.3h.9M162.8 143.4h.9M166.4 143.2h.9M168.4 142.5h.9M171.3 143.2h.9M171.3 142.7h.9M173.5 142.6h.9M177.4 143.1h.9M177.9 143.1h.9M181.9 143.2h.9M184.1 143h.9M184.6 143.1h.9M184.8 142.9h.9M186.3 142.8h.9M186.7 142.5h.9M189.3 142.7h.9M190.4 143.3h.9M195.5 143h.9M195.5 143.4h.9M196.3 143.1h.9M196.9 142.6h.9M198.7 142.8h.9M204.7 143.1h.9M207 142.9h.9M207.7 142.8h.9M212 143.4h.9M214.7 142.9h.9M218.1 143.4h.9M232.7 142.6h.9M234.4 143.4h.9M238.2 143h.9M135.5 144.4h.9M144 144.2h.9M146 144.2h.9M148 143.6h.9M149.8 144.2h.9M154.1 143.8h.9M158.7 144.3h.9M161 144.2h.9M165.1 144.3h.9M165.9 144.3h.9M167 143.6h.9M167.5 144h.9M171.3 144.3h.9M172.2 144.3h.9M173.2 143.5h.9M175.4 144.3h.9M177.9 143.7h.9M179.7 144.2h.9M180.5 144.4h.9M185.2 144.1h.9M191.4 143.7h.9M191.5 144.3h.9M191.7 144.5h.9M192 144.4h.9M193.7 144.1h.9M194.9 144.4h.9M204.8 144.3h.9M213.3 144.4h.9M214.5 143.5h.9M218.9 143.9h.9M225.7 143.8h.9M235.5 144.2h.9M247.5 143.5h.9M130.9 144.9h.9M140.5 144.7h.9M158.5 144.6h.9M160.3 144.5h.9M165.3 145.3h.9M165.9 145.3h.9M171.1 145.1h.9M173.9 145.2h.9M174.5 144.6h.9M176.3 145.1h.9M177.9 144.8h.9M182.6 145h.9M184.2 145.5h.9M184.5 145.2h.9M190.7 144.6h.9M191.2 145.4h.9M193.3 144.7h.9M194.1 145.2h.9M194.5 144.8h.9M197.1 145h.9M197.7 144.9h.9M198.7 144.6h.9M199 144.7h.9M203.3 145.2h.9M205.8 145h.9M209.2 145.5h.9M209.4 145.5h.9M209.9 144.5h.9M214.5 145.4h.9M221.4 144.5h.9M224.4 144.8h.9M227.9 144.9h.9M236.2 145.2h.9M147.4 145.7h.9M152.4 145.7h.9M158.4 146h.9M159.6 146.5h.9M163.8 146.4h.9M164.3 146.2h.9M165.9 146.1h.9M169.4 146.5h.9M173 145.9h.9M174 146.2h.9M175.6 146.3h.9M182.8 145.9h.9M193.9 146h.9M201.9 145.9h.9M203.8 146.4h.9M205.9 146h.9M210 145.6h.9M215.3 145.6h.9M215.7 145.6h.9M224.2 145.6h.9M226.5 146.4h.9M134.1 147h.9M148.8 147.2h.9M151.9 147.1h.9M152.9 146.7h.9M156.8 147h.9M168.3 146.6h.9M171.8 147.2h.9M172.1 146.5h.9M173.8 146.7h.9M174.2 147.3h.9M175.4 146.8h.9M181.6 146.5h.9M183.6 146.7h.9M183.8 146.7h.9M184.6 147.4h.9M185.6 146.9h.9M186.1 146.8h.9M191.5 147.2h.9M192 146.9h.9M192.6 147.1h.9M192.8 146.7h.9M195.2 146.6h.9M198.1 147.1h.9M198.3 146.5h.9M205.8 146.6h.9M212 146.8h.9M214.5 146.9h.9M216.4 147.1h.9M248.7 146.8h.9M146.3 148h.9M149.4 148.2h.9M158.3 148.1h.9M166.4 147.7h.9M169.4 147.8h.9M176.1 147.9h.9M179.3 148.1h.9M180.5 148h.9M180.9 147.7h.9M181.5 147.6h.9M186.7 147.6h.9M189 148.3h.9M192.3 147.6h.9M194.4 147.5h.9M195.6 148.4h.9M198.9 147.7h.9M204.6 148.1h.9M207.2 148.3h.9M219.8 148h.9M235.2 148.4h.9M237.2 148.4h.9M148.7 149h.9M150.4 149.3h.9M152.3 149.5h.9M173.9 148.8h.9M175.6 149h.9M177.8 148.8h.9M185.3 148.6h.9M186.6 149.2h.9M188.9 149.3h.9M189.6 149.3h.9M197.1 148.7h.9M199.1 149.4h.9M199.3 148.7h.9M200.3 148.6h.9M201.8 149.2h.9M206.4 148.6h.9M207.7 148.5h.9M229.3 148.7h.9M152 149.9h.9M155.6 149.7h.9M158 149.8h.9M163.5 150.4h.9M167.3 150.2h.9M167.8 150.2h.9M169.4 150.4h.9M169.9 149.6h.9M173.4 150.1h.9M181.2 149.9h.9M193.5 149.7h.9M194.4 149.9h.9M197.2 150.2h.9M201.8 149.5h.9M208.8 150h.9M211.1 149.8h.9M220.7 149.8h.9M243.9 150.4h.9M142.7 151h.9M144.3 150.7h.9M164.4 150.8h.9M169.3 150.8h.9M174 150.8h.9M175.1 150.8h.9M176.6 150.7h.9M177.1 151h.9M178.2 150.7h.9M180.6 151.5h.9M191.8 150.8h.9M192.6 151h.9M193.5 151h.9M198.4 151.4h.9M199.6 150.7h.9M200 150.7h.9M206.5 151h.9M214.8 151.3h.9M217.5 151h.9M218.8 150.6h.9M229 150.9h.9M236.4 151.5h.9M129.4 152.2h.9M142.1 151.8h.9M151.7 152.3h.9M152.1 152h.9M153.1 152.2h.9M158.8 151.7h.9M158.8 151.6h.9M160.8 151.5h.9M165.4 151.9h.9M167.7 152h.9M170 152.4h.9M174.1 152.1h.9M177.5 151.6h.9M177.9 151.9h.9M178.6 151.7h.9M179.3 152.4h.9M180.4 151.6h.9M185.6 152h.9M193.3 152h.9M193.7 152.3h.9M198.3 152.2h.9M198.6 152.4h.9M200.1 151.9h.9M201.4 152h.9M203.6 151.8h.9M205.8 151.8h.9M207.3 152.2h.9M153.8 153.4h.9M160.2 152.9h.9M162.6 153.2h.9M166.7 153.2h.9M172.1 152.6h.9M172.7 153.2h.9M172.9 152.5h.9M175.3 152.5h.9M182.5 153h.9M185.8 153h.9M185.9 153.4h.9M186.2 153.1h.9M198.3 152.5h.9M211 153.2h.9M214.4 152.7h.9M220.9 152.9h.9M226 152.5h.9M230.6 152.8h.9M161.6 153.8h.9M166.7 154.1h.9M170.3 153.8h.9M174.8 154.2h.9M177.1 154.3h.9M185.6 154.2h.9M187 153.5h.9M193 153.7h.9M193.6 154.4h.9M200.9 153.9h.9M201.5 154.2h.9M205.2 154.2h.9M207.2 154.2h.9M207.9 153.7h.9M210.4 153.9h.9M215.1 153.7h.9M225.9 154.4h.9M133.3 154.7h.9M144.4 155.2h.9M152.6 154.8h.9M164.5 155.1h.9M165.4 154.8h.9M167.4 155.2h.9M167.9 155.1h.9M168.5 154.5h.9M179.9 154.8h.9M180.8 154.9h.9M180.9 155.1h.9M186.4 154.7h.9M187 154.7h.9M192 155.5h.9M193.2 154.9h.9M195.6 155.4h.9M195.9 154.6h.9M197.2 155.1h.9M202.8 155.2h.9M204.1 155h.9M204.8 155h.9M208.9 155h.9M213.1 154.8h.9M233.8 155.5h.9M138.9 156.2h.9M151.1 156.5h.9M157.5 155.9h.9M157.9 156h.9M158.1 156.1h.9M163.6 156.3h.9M165.1 156.2h.9M165.4 155.6h.9M166.8 156.2h.9M167.3 155.5h.9M167.4 156.1h.9M167.6 155.7h.9M178.4 156.5h.9M183.4 156.4h.9M187.5 155.6h.9M190.6 155.5h.9M191.2 156.3h.9M191.6 156.2h.9M192.5 156h.9M193.3 155.8h.9M194.2 155.8h.9M197.6 155.8h.9M199.1 156.4h.9M204.9 155.7h.9M218.7 155.8h.9M232.9 155.8h.9M159.1 157.5h.9M167.5 156.9h.9M174.6 156.9h.9M175.3 157.4h.9M177 156.6h.9M178.9 156.6h.9M191.4 156.5h.9M193.5 157.2h.9M194.2 156.7h.9M196.2 157h.9M197.8 157.4h.9M201.6 156.9h.9M203 157.2h.9M207.7 157.2h.9M211 156.5h.9M146.5 158.3h.9M147.1 158h.9M163.4 158.2h.9M167.4 157.8h.9M168.6 158.2h.9M169.3 157.6h.9M169.8 158.4h.9M169.9 158.1h.9M173.2 158.1h.9M175.9 157.9h.9M183.4 158h.9M186.7 157.7h.9M189.1 158.4h.9M189.2 158.3h.9M193.1 157.7h.9M195.1 157.7h.9M199.6 157.8h.9M202.4 158h.9M202.7 157.6h.9M205.4 158h.9M207.5 157.9h.9M210 157.9h.9M215.3 158.2h.9M216.6 157.9h.9M146.4 159h.9M150.4 159.2h.9M150.4 159.5h.9M151.3 158.6h.9M166.5 159.5h.9M169.6 158.9h.9M175.9 158.8h.9M182.8 158.5h.9M188.1 159.3h.9M191.6 159.5h.9M194.2 159.4h.9M197.6 159.3h.9M211.5 159.3h.9M212.1 159.5h.9M214.8 158.9h.9M215.6 158.7h.9M236.5 158.8h.9M141.2 160.1h.9M153.1 160h.9M158.1 160.3h.9M166 160.1h.9M170.2 159.6h.9M174 159.6h.9M177.7 160.2h.9M178.1 159.8h.9M187.2 160h.9M187.6 159.6h.9M187.7 159.8h.9M190.4 159.6h.9M195 160.1h.9M216.6 160.2h.9M239.8 160.2h.9M173.1 160.6h.9M177.2 160.6h.9M179.8 161.4h.9M186.7 160.7h.9M188.5 160.9h.9M189.6 161h.9M192.4 160.7h.9M194.4 161.3h.9M194.5 161.3h.9M207 161.5h.9M214.9 161.1h.9M157.3 162.3h.9M166.4 161.6h.9M167.3 162.5h.9M178 162.2h.9M178.4 162.4h.9M180 162.1h.9M183.8 162.1h.9M187.1 162h.9M187.3 161.9h.9M187.6 162.2h.9M192.7 162.4h.9M194.7 162.3h.9M196.9 161.9h.9M197.1 161.7h.9M204.9 162.4h.9M205.3 162.1h.9M212.2 162h.9M223 161.9h.9M237.8 162h.9M244.8 162.2h.9M151.2 163.4h.9M153.1 162.6h.9M164.5 163h.9M166.6 163h.9M174.7 162.6h.9M176.6 162.7h.9M176.8 162.9h.9M178 162.6h.9M181.4 162.9h.9M181.8 163.3h.9M185.3 162.9h.9M194.1 162.8h.9M198.7 163h.9M199.2 163.2h.9M202.6 163.2h.9M204.3 163.5h.9M211.9 163h.9M217.9 163h.9M219.2 162.5h.9M229.1 163.2h.9M152.9 163.9h.9M163.9 163.9h.9M166.7 163.6h.9M166.8 163.6h.9M169.1 163.7h.9M172 163.9h.9M173.2 164.1h.9M173.2 163.7h.9M174.2 164.4h.9M179.1 163.6h.9M180.1 164.1h.9M180.2 163.7h.9M181 164.1h.9M182.6 164h.9M190.9 163.9h.9M192.4 163.5h.9M195.2 164.1h.9M199.4 164.4h.9M202.4 164.2h.9M203.5 164.1h.9M205.4 164.1h.9M206 163.9h.9M215.7 164.1h.9M215.9 163.6h.9M132.6 165.1h.9M154.8 164.7h.9M159.3 164.9h.9M167.4 164.9h.9M169.2 164.9h.9M172 165.1h.9M175.3 164.9h.9M183.6 165.2h.9M196 164.8h.9M196.1 165h.9M196.6 164.7h.9M204.1 164.9h.9M204.2 165.3h.9M218 164.7h.9M223.8 164.7h.9M228.8 165.4h.9M164.6 166.1h.9M169 165.8h.9M169 165.8h.9M170.8 165.8h.9M171.6 166.4h.9M180.3 166h.9M183.5 166.2h.9M184.8 166h.9M196.8 166.3h.9M206.8 166.4h.9M207.6 166.4h.9M209.7 165.7h.9M212.5 166.2h.9M212.9 165.8h.9M215.2 166.2h.9M218.8 165.9h.9M129.6 166.9h.9M130 167.1h.9M146 166.5h.9M149.1 167.4h.9M166.2 166.8h.9M175.4 166.7h.9M177.6 167.2h.9M179.3 167h.9M180 166.9h.9M180.8 167.4h.9M187.3 167.4h.9M187.5 166.8h.9M188.9 167.1h.9M191.8 167.4h.9M193.1 167.3h.9M193.9 166.8h.9M198.6 167.2h.9M204.2 167h.9M204.2 166.7h.9M206.4 166.7h.9M219.9 166.9h.9M154.5 168.3h.9M155.2 167.7h.9M163.4 168.2h.9M174.4 167.9h.9M181.3 168h.9M190.6 167.6h.9M191 167.7h.9M192.7 168.1h.9M194 167.8h.9M198.1 168.2h.9M198.5 168.1h.9M208.2 167.9h.9M164.1 168.6h.9M166.6 169.2h.9M173.9 168.8h.9M175.6 169.4h.9M176 169.4h.9M176 169.4h.9M180.5 169.5h.9M181.2 169.4h.9M188.4 168.6h.9M196.6 169.1h.9M197.6 168.6h.9M203.6 168.5h.9M226 168.7h.9M165.3 169.9h.9M167.6 170.1h.9M173 169.6h.9M175.4 169.5h.9M176.5 169.8h.9M179 170.2h.9M184.4 169.7h.9M190.4 170.2h.9M197.8 170.2h.9M198.3 170.4h.9M198.8 169.6h.9M201 169.5h.9M208.6 169.9h.9M210.3 170.1h.9M212.5 169.8h.9M233.4 170.2h.9M143.9 171.1h.9M152.6 171.4h.9M170.2 170.7h.9M175.9 171h.9M182.1 170.9h.9M183 171.1h.9M184 171.4h.9M191.2 171.3h.9M192.9 171h.9M201.2 171h.9M205.5 170.5h.9M206.9 171.5h.9M211.7 171.4h.9M213.5 171h.9M217.9 170.8h.9M219 171.4h.9M172.7 171.8h.9M182.4 172.2h.9M184.5 172.2h.9M187.4 172.4h.9M192.3 171.8h.9M193.4 172.4h.9M193.8 171.6h.9M194.3 172.5h.9M195.7 171.7h.9M199.2 171.7h.9M201.8 171.9h.9M207.5 172h.9M207.5 172h.9M212.4 171.7h.9M214.6 172h.9M225.8 171.8h.9M250.3 172.2h.9M135.2 173.1h.9M147.2 173.3h.9M149.3 172.9h.9M163.1 173.2h.9M170.5 172.9h.9M181.7 173.2h.9M186.8 172.5h.9M187 173.1h.9M187.4 172.6h.9M188.4 173.2h.9M189.9 173h.9M198 173.3h.9M209.5 173h.9M210.9 173.2h.9M224.7 173.3h.9M231.3 172.7h.9M242.7 173.5h.9M153.8 174.3h.9M158.7 173.7h.9M168 174.2h.9M170.9 173.6h.9M181.2 174.2h.9M181.2 174.1h.9M182.9 174.4h.9M188.4 173.8h.9M206.5 174.1h.9M213.5 174h.9M217.1 174.3h.9M218.5 173.9h.9M223.9 174.4h.9M137.9 175.4h.9M160.9 175.2h.9M193.7 174.6h.9M195.2 175.2h.9M199.2 175h.9M200.9 175h.9M205.7 174.6h.9M207.1 174.8h.9M214.2 175.1h.9M224.3 175.1h.9M228.8 175.5h.9M230.9 175.1h.9M164.1 175.5h.9M168.3 176.3h.9M172 176.3h.9M177.6 175.6h.9M179.1 175.9h.9M180.7 176.4h.9M181.3 176.2h.9M183 175.9h.9M210.5 175.5h.9M161.4 177.5h.9M162.6 177h.9M172.2 176.8h.9M178.4 176.9h.9M181 177.5h.9M184.8 177.4h.9M185.1 177.3h.9M187.4 177.1h.9M188.9 177.4h.9M192.9 177.3h.9M195.4 177.3h.9M199.1 176.6h.9M203.4 177.2h.9M203.9 177.3h.9M207.3 176.6h.9M208.5 176.9h.9M231.4 177.1h.9M233.1 176.9h.9M158.2 178.2h.9M170.2 177.9h.9M173.9 178.3h.9M174.4 177.8h.9M178.7 178h.9M179.6 178.4h.9M184.5 177.9h.9M187.6 177.8h.9M196.4 178.5h.9M200.2 177.7h.9M208.3 177.9h.9M221.1 177.8h.9M225 177.9h.9M160.9 179.1h.9M165.4 178.9h.9M171.5 178.9h.9M173.8 179h.9M176.3 179h.9M177.1 179.1h.9M177.8 178.8h.9M183.1 178.5h.9M188.1 179.3h.9M199.4 178.7h.9M200.8 179h.9M203.7 179.2h.9M204 179.3h.9M205.9 178.8h.9M215 179.3h.9M229.4 179.2h.9M237.2 179.2h.9M142.1 179.9h.9M172.9 180.2h.9M173.5 179.9h.9M174.6 179.7h.9M177.6 180.5h.9M181.7 180.1h.9M184.7 179.8h.9M190 180.2h.9M191.6 180h.9M191.7 180h.9M195 180.2h.9M196.3 180.3h.9M196.7 180h.9M199.8 180.1h.9M200.5 179.7h.9M232.2 180.5h.9M143.8 180.6h.9M165.6 181.5h.9M170.3 181.1h.9M177.3 180.7h.9M186.3 180.9h.9M188 181.3h.9M194.7 181.3h.9M198 181.2h.9M205.7 181.2h.9M212.9 180.6h.9M213.9 180.7h.9M215 180.7h.9M218 180.8h.9M220.8 180.7h.9M243.1 180.9h.9M168.9 182.2h.9M176.9 182.1h.9M181 182.4h.9M185.4 182h.9M189 181.7h.9M191.4 182h.9M200.4 182.3h.9M203 182h.9M203.3 181.7h.9M205 182.3h.9M205.5 182.2h.9M217.3 181.6h.9M219 182.2h.9M153 182.9h.9M165.5 183h.9M168.6 182.8h.9M174 183.1h.9M180.7 183.3h.9M195.1 182.7h.9M195.8 183.4h.9M199.9 183.2h.9M201.5 182.8h.9M205.3 183.4h.9M210.2 183.1h.9M210.9 182.6h.9M213.6 183h.9M217.6 183.1h.9M159.9 184.1h.9M170.4 183.8h.9M177.5 183.9h.9M182.9 183.9h.9M186.7 183.6h.9M191.9 184h.9M193.2 184.2h.9M196 184.3h.9M209 183.6h.9M213.3 184.1h.9M233.9 183.5h.9M171.4 184.8h.9M174.2 184.6h.9M179.8 185.2h.9M180.8 184.5h.9M191.6 184.7h.9M205.6 185.4h.9M206 184.5h.9M206.8 185.4h.9M213.8 185.3h.9M161.4 186h.9M172 185.7h.9M190.4 186.4h.9M201.4 186.2h.9M201.6 186.3h.9M206.5 186.5h.9M206.9 186.1h.9M210.7 186.1h.9M226.1 186.4h.9M228 185.8h.9M152.6 186.6h.9M162.6 186.6h.9M174.9 187.2h.9M179.4 187.3h.9M183.5 187.3h.9M188.2 186.5h.9M188.2 187.4h.9M190.8 186.6h.9M197.3 186.6h.9M199 186.9h.9M199.8 187.1h.9M202.2 187.4h.9M231.8 187.4h.9M233.7 187.5h.9M236 187.3h.9M165 188h.9M169.8 188.1h.9M172 188.2h.9M176.7 188h.9M185.2 187.5h.9M193.5 188.5h.9M197.4 188.2h.9M199.7 188.3h.9M207.3 187.7h.9M210.5 188.2h.9M162.4 189.3h.9M163.4 189.4h.9M169.3 188.6h.9M173.1 188.7h.9M174.1 189.2h.9M186.5 188.7h.9M189 189.5h.9M193 188.6h.9M194.1 188.5h.9M194.5 188.6h.9M194.5 189h.9M195.1 188.5h.9M203.8 189.3h.9M206.6 188.7h.9M220.1 189.3h.9M160.8 190.2h.9M174.3 190.1h.9M185.2 190.5h.9M185.7 190.4h.9M191.9 190.2h.9M194.9 190.5h.9M195.6 190.2h.9M196.9 190.1h.9M201.8 190.4h.9M208.9 190.3h.9M209 189.8h.9M218.2 190.1h.9M236.9 190.1h.9M156.7 190.6h.9M175.8 191.3h.9M177.7 190.8h.9M182.6 190.5h.9M184.4 191.1h.9M198.9 191.1h.9M213.2 191.2h.9M218 190.7h.9M226 191.3h.9M161.3 192.5h.9M174.5 191.9h.9M185.2 191.9h.9M211.3 191.6h.9M213 192.1h.9M221.7 191.9h.9M171.7 193.5h.9M183.3 192.8h.9M195.2 193.5h.9M197.5 193.4h.9M204.6 192.7h.9M213 192.5h.9M215.8 193h.9M217.9 192.6h.9M219.3 192.7h.9M225.4 192.7h.9M155.8 194.5h.9M160.4 193.7h.9M176.2 194.5h.9M178.4 194h.9M179.8 194h.9M183.3 194.4h.9M184.6 193.9h.9M193.5 193.7h.9M214.4 193.9h.9M158.6 194.7h.9M178.6 195.4h.9M180.9 195.3h.9M191 194.8h.9M193.4 195.3h.9M214.4 195.3h.9M216.3 194.7h.9M164.3 195.6h.9M173.4 196h.9M183.1 195.8h.9M187.8 195.5h.9M190.5 195.7h.9M193.2 195.9h.9M205.7 195.7h.9M210.1 195.7h.9M219 196h.9M220.4 195.7h.9M221.7 195.6h.9M150.4 196.9h.9M171.2 197h.9M174.1 197.4h.9M185.6 197.1h.9M197.5 196.7h.9M201 197.1h.9M209.2 196.5h.9M212.1 196.8h.9M219.2 196.9h.9M220.1 196.7h.9M221.2 197.5h.9M225.7 197h.9M244.3 197.2h.9M152.3 198.5h.9M159 198h.9M186.7 198h.9M190.6 198.4h.9M196 198.2h.9M197.2 197.9h.9M213.7 197.6h.9M168.6 198.9h.9M181.9 199.2h.9M186.8 199h.9M191.6 199.4h.9M194 198.9h.9M209.4 199.1h.9M229.2 198.6h.9M157.4 199.9h.9M175.7 200.1h.9M183.2 199.8h.9M210 199.8h.9M218.9 199.9h.9M229.4 199.9h.9M150.7 201h.9M183.3 200.8h.9M186.6 200.9h.9M188 201h.9M190.9 200.6h.9M194.1 201.3h.9M196.4 201.2h.9M198.4 201.1h.9M203.4 201.3h.9M221.6 200.7h.9M231.2 201.4h.9M240.7 201h.9M150.7 202.4h.9M166.4 201.9h.9M173.5 202.1h.9M178.3 201.5h.9M186.6 201.8h.9M193 202h.9M197.2 202.5h.9M206 201.5h.9M208.8 202h.9M223.5 202.3h.9M224.9 202.3h.9M180.7 202.8h.9M183.8 203.4h.9M185.1 203.1h.9M202.7 203.3h.9M171.4 203.8h.9M175.3 204.4h.9M175.5 203.8h.9M178.8 203.6h.9M188.2 203.8h.9M216.4 203.8h.9M224.3 204h.9M156.5 204.6h.9M188.7 204.7h.9M190 205.1h.9M192.9 205h.9M200 205.3h.9M203.9 205.5h.9M225.5 205.5h.9M175.9 205.8h.9M185 206.1h.9M189.7 206.2h.9M194.5 206.4h.9M196.3 206h.9M213.9 205.6h.9M225.8 206.5h.9M187.1 206.6h.9M191.9 207.2h.9M230 207h.9M240.5 207h.9M164.4 207.6h.9M172.5 208h.9M193.9 207.6h.9M198.8 208h.9M200.9 208.3h.9M203.4 207.8h.9M234.4 207.6h.9M135.8 208.6h.9M168.5 209.2h.9M186.5 209.5h.9M197.2 208.8h.9M205.1 208.7h.9M207.9 208.5h.9M208.7 209.4h.9M213.4 208.8h.9M159.9 210.2h.9M168.2 210.3h.9M171.4 210.2h.9M183.7 210h.9M185.3 210.2h.9M188.9 210h.9M193.7 210.1h.9M198.8 210h.9M207.5 210.4h.9M227.8 210.2h.9M183.2 211.3h.9M203.6 210.9h.9M210.3 211.2h.9M216.8 211.1h.9M222.6 210.5h.9M179.7 212.1h.9M181 212.1h.9M182.1 212.2h.9M187.3 211.8h.9M194 211.8h.9M218 212.4h.9M241.5 211.6h.9M157.9 212.6h.9M176.7 212.9h.9M181.6 213.5h.9M189.5 212.6h.9M193.5 213h.9M219 213.3h.9M168.9 214h.9M171.2 213.8h.9M199.1 213.8h.9M207.8 214.2h.9M210.8 214.1h.9M212.4 213.9h.9M214.4 213.9h.9M227.5 215.4h.9M237.3 215.2h.9M189.3 216.4h.9M206.1 216h.9M218.4 216h.9M163 217.1h.9M172.3 217.2h.9M173.6 217.4h.9M201.9 217h.9M202.4 217.5h.9M216.8 217.2h.9M233.2 217.2h.9M182.5 218h.9M192.2 217.8h.9M194.6 217.7h.9M197.2 218.1h.9M204.4 218.4h.9M222.8 217.9h.9M230.9 218.3h.9M242.3 217.9h.9M130.8 220.2h.9M202.9 220.4h.9M220.5 220h.9M173.2 220.9h.9M205.8 220.7h.9M244.8 220.6h.9M182 221.7h.9M196.1 222.3h.9M203.1 222.1h.9M222.7 222.3h.9M194.9 222.8h.9M231 223.1h.9M179.7 224.4h.9M189.2 223.8h.9M203.2 224.3h.9M189 224.6h.9M206 224.9h.9M207.7 225.1h.9M211.4 224.7h.9M213.4 224.6h.9M238.7 225h.9M239.1 225.2h.9M173.8 225.8h.9M213.4 225.7h.9M213 227.3h.9M223.8 227.4h.9M203.8 228.2h.9M208.4 227.7h.9M190.3 229.5h.9M202.5 229.2h.9M220.1 228.6h.9M224.7 228.5h.9M226.5 229.2h.9M204.1 232.1h.9M212.3 231.8h.9M213.9 232.1h.9M188.3 232.5h.9M184.4 233.7h.9M195.1 233.7h.9M200.9 233.6h.9M205.4 234.3h.9M189.9 235.3h.9M214.5 236.6h.9M221.4 237.1h.9M236.7 237h.9M189.2 238h.9M194.1 237.7h.9M237.3 239.5h.9M182.3 240.5h.9M200.9 239.9h.9M242.7 240.4h.9M192.2 240.7h.9M217.6 240.9h.9M188.7 242h.9M210 241.7h.9M211.8 242.5h.9M215.9 242.4h.9M216.7 242.7h.9M234.4 243.2h.9M238.6 243.7h.9M194.7 245.2h.9M211.5 245.3h.9M223.1 245.2h.9M184.8 246.8h.9M187.6 247.4h.9M205.8 247.1h.9M219 246.8h.9M231 247.4h.9M180.7 248.3h.9M232.4 249.5h.9M244.5 250.9h.9M172 252.7h.9M192.1 252.6h.9M225 253.4h.9M194.3 255.3h.9M191.1 256.2h.9M214.8 255.5h.9M183.3 257.4h.9M167.5 260.1h.9M213.2 267.1h.9M216.4 267.1h.9M248.7 267.7h.9M211.7 272.8h.9M231.2 280.1h.9M238.6 280.7h.9M249.9 287.8h.9" stroke="#555" stroke-width=".8" fill="none" opacity=".75"/>
<path d="M81.7 16.1h.9M102.7 16.4h.9M152.8 16.2h.9M166.3 16.4h.9M193.7 16.5h.9M197.2 16.1h.9M197.4 16.3h.9M199.5 16.3h.9M199.9 16.5h.9M200.5 16.4h.9M201.4 16h.9M201.7 16.3h.9M203.4 16.1h.9M76.7 17.1h.9M105.5 16.8h.9M119.2 17.3h.9M158.4 16.6h.9M159.7 17h.9M161.3 17h.9M161.9 17.4h.9M162.9 17.2h.9M165.1 17.5h.9M167.6 17.2h.9M183.7 17.4h.9M187.5 17h.9M187.6 16.6h.9M188 16.6h.9M189.9 16.5h.9M192 17.1h.9M193.4 17.2h.9M195.5 16.9h.9M195.6 17.1h.9M196.4 16.9h.9M197 17.3h.9M197.4 16.6h.9M199.3 17.1h.9M200.6 17.3h.9M201.6 17.4h.9M201.6 17.1h.9M202.1 17.3h.9M222.4 16.5h.9M146.9 17.9h.9M164.8 18.2h.9M168.3 18.3h.9M169.4 18.3h.9M186 18h.9M187 18.3h.9M187.3 18.4h.9M191.3 17.9h.9M191.7 17.8h.9M193.5 18.4h.9M193.5 17.7h.9M193.6 18h.9M193.8 17.9h.9M194.6 18.1h.9M196.1 18h.9M196.4 17.7h.9M197.4 18.2h.9M198.9 18h.9M200.1 18h.9M200.1 18.4h.9M201.3 18h.9M203.2 18.2h.9M203.3 18.1h.9M206.5 17.5h.9M208.5 17.7h.9M146.3 19.3h.9M148.9 18.8h.9M164 18.8h.9M164.2 19.3h.9M168.2 19.1h.9M168.5 18.9h.9M169.3 19h.9M169.5 19.5h.9M170.5 19.4h.9M170.7 19.4h.9M171.3 19.2h.9M190 19h.9M192.9 19.2h.9M193.6 19.2h.9M195.5 18.7h.9M196.3 18.6h.9M196.5 18.5h.9M197.3 19.3h.9M197.5 18.6h.9M197.6 18.8h.9M198.6 18.5h.9M199.5 19h.9M199.7 18.8h.9M200.6 19.4h.9M200.6 19.5h.9M201 18.9h.9M201.9 18.9h.9M202 19.1h.9M204.3 19.2h.9M206.4 18.8h.9M95.7 20.5h.9M108.6 19.6h.9M148.1 20h.9M150.2 20h.9M154.9 20.4h.9M163.5 20.1h.9M164.1 20.4h.9M169.6 19.8h.9M189.5 19.6h.9M190.8 19.5h.9M192.4 20.2h.9M192.5 20.5h.9M193 20h.9M193.2 20.1h.9M193.3 19.9h.9M193.6 20h.9M193.6 20.1h.9M193.6 20.2h.9M193.7 20.4h.9M194.3 20h.9M194.9 20.4h.9M195.1 19.5h.9M196.5 19.8h.9M196.7 20.5h.9M199.7 20.3h.9M199.7 20.1h.9M199.8 20h.9M199.9 19.8h.9M201 19.9h.9M201.1 20.2h.9M201.5 19.7h.9M204.1 20.5h.9M205.7 19.8h.9M99.4 20.9h.9M117 20.8h.9M151.9 21.3h.9M165.4 21.4h.9M168.4 21.4h.9M168.5 20.7h.9M171.6 21h.9M175.7 21.2h.9M189.6 21.2h.9M191.4 20.9h.9M191.4 20.6h.9M194 21.1h.9M194.6 21.2h.9M195 20.8h.9M195 21.1h.9M195.8 20.8h.9M195.9 21h.9M196.9 21h.9M197.2 20.6h.9M197.2 20.7h.9M198.3 21.3h.9M198.5 21.5h.9M200.5 21h.9M200.9 21.2h.9M201.2 21.1h.9M202.8 21.4h.9M203.8 21.4h.9M95.3 21.6h.9M134.3 21.7h.9M148.8 22.3h.9M150.9 22h.9M151 21.7h.9M162.1 22.4h.9M163.5 22h.9M164.9 21.6h.9M165.5 22h.9M165.8 21.9h.9M168.3 22.5h.9M168.6 22.2h.9M169.1 22.4h.9M170.3 21.8h.9M173 22h.9M173.3 22.5h.9M176.5 22.1h.9M187.4 22.4h.9M188.7 21.8h.9M191.1 22.3h.9M191.8 22.3h.9M192.8 21.6h.9M195.7 21.6h.9M196 21.6h.9M196 22.1h.9M196 21.6h.9M196.8 22.4h.9M197.6 22h.9M198.4 22h.9M199.3 22h.9M200.6 22.1h.9M200.7 22.1h.9M200.8 22h.9M204.5 21.5h.9M79.7 23h.9M101.1 23.2h.9M150.6 23.3h.9M151.4 23.5h.9M151.5 23.4h.9M154.1 22.9h.9M161.1 23h.9M166.1 22.6h.9M166.9 23.5h.9M167.8 23h.9M169.9 22.6h.9M170.8 22.9h.9M172.6 23h.9M177.2 23.3h.9M184.8 22.5h.9M190 23h.9M190.4 23.4h.9M190.9 23.4h.9M191.2 22.9h.9M191.8 22.7h.9M193.7 23.4h.9M193.9 22.5h.9M194.6 23.2h.9M194.9 23.5h.9M194.9 23.4h.9M195.2 22.9h.9M195.6 23.2h.9M196.2 22.8h.9M196.7 22.8h.9M196.9 23.4h.9M197 23.1h.9M197.1 23.2h.9M197.6 23h.9M199.1 23.1h.9M199.2 22.9h.9M200 23.3h.9M201.5 23.4h.9M201.7 22.7h.9M206 23.1h.9M137.2 24h.9M147.1 24.5h.9M167.7 24h.9M171.5 24.2h.9M172.7 24.1h.9M174.8 24.4h.9M175.1 24.2h.9M175.2 23.7h.9M176.3 23.8h.9M190 24h.9M191.2 23.5h.9M192.4 24.3h.9M192.5 24.4h.9M193.3 24h.9M193.8 23.7h.9M195.2 24.1h.9M195.5 24h.9M196.6 23.9h.9M197 23.5h.9M197.3 24h.9M197.7 23.9h.9M199.7 23.9h.9M199.7 24h.9M199.9 24.5h.9M200.1 24.2h.9M200.1 24.4h.9M200.6 23.6h.9M201.1 24.2h.9M202.1 24.1h.9M202.4 23.9h.9M77.5 24.7h.9M153.9 24.9h.9M164.2 24.7h.9M164.9 24.6h.9M168.2 25.5h.9M168.4 24.9h.9M168.8 25.5h.9M171.3 25h.9M172.3 25.4h.9M174.6 25.3h.9M185.9 24.9h.9M187.3 25.4h.9M190.1 25.3h.9M192.7 25.3h.9M192.8 24.9h.9M192.9 24.9h.9M192.9 25.1h.9M193.5 24.7h.9M194.5 25.4h.9M194.8 24.8h.9M195 25.2h.9M195.4 24.9h.9M195.8 25.5h.9M196.1 25.2h.9M196.1 25.4h.9M196.5 24.5h.9M196.7 25.2h.9M197.7 24.8h.9M198.2 25.4h.9M198.8 25.2h.9M199 25.1h.9M199.5 24.8h.9M202.7 24.6h.9M209.9 25.3h.9M76.2 26.1h.9M113.4 25.8h.9M153.7 25.7h.9M165.6 26.5h.9M172.7 25.5h.9M175.6 26.1h.9M175.9 25.9h.9M178 26.4h.9M178.5 26.4h.9M179.1 25.9h.9M179.3 25.8h.9M183.5 25.6h.9M189.9 25.7h.9M191.7 25.8h.9M191.9 25.8h.9M192.4 26h.9M194.3 26.4h.9M197.8 26.1h.9M197.9 26.3h.9M198.4 25.9h.9M198.8 25.9h.9M198.8 25.8h.9M199.6 26.1h.9M200 26.4h.9M200.4 25.8h.9M200.7 25.7h.9M201.5 25.7h.9M201.6 26h.9M72.6 26.6h.9M76 26.5h.9M79.6 26.9h.9M83.9 26.6h.9M92.3 26.8h.9M107.1 27.3h.9M141.7 26.6h.9M156.2 27h.9M170.2 27.4h.9M173.3 26.8h.9M173.6 26.6h.9M174.6 26.9h.9M175.9 27.1h.9M177.2 26.6h.9M179 26.7h.9M179.2 27.2h.9M180.5 27.1h.9M183.1 26.9h.9M185 26.8h.9M189.4 26.6h.9M190.7 27.2h.9M195.7 27h.9M196 27.3h.9M196.7 27.5h.9M197.1 26.6h.9M199.8 27.2h.9M200.4 27.4h.9M200.6 26.9h.9M201.1 26.7h.9M202.3 26.7h.9M202.6 27.2h.9M230.3 26.8h.9M232.6 26.6h.9M111.9 28.1h.9M113.8 28.1h.9M159.6 28.3h.9M169.9 27.6h.9M170.8 28.4h.9M173.6 28h.9M179.7 27.8h.9M181.8 27.6h.9M181.8 28.5h.9M182.3 28.3h.9M183.1 27.8h.9M187.8 28.1h.9M189.2 27.8h.9M191 28.2h.9M191 27.8h.9M191.7 27.7h.9M192 27.7h.9M192.2 28.2h.9M195.1 28.3h.9M195.5 27.8h.9M197.2 28.3h.9M197.7 27.8h.9M199.2 28.2h.9M200.2 27.8h.9M200.6 27.8h.9M201.4 27.7h.9M205.2 28.3h.9M207.6 27.9h.9M77.4 29h.9M169 28.8h.9M173.7 28.8h.9M177.3 29h.9M177.6 28.6h.9M178 29.3h.9M179.8 29.4h.9M181.6 28.7h.9M183.2 29h.9M186.4 29.3h.9M189.4 28.6h.9M189.6 29.4h.9M189.6 28.8h.9M190 29.2h.9M194.1 28.5h.9M194.9 28.9h.9M195.8 29.1h.9M198.2 29.3h.9M199.1 28.6h.9M116.8 29.8h.9M172.1 30.1h.9M173.3 30.4h.9M173.8 30.1h.9M176.2 29.7h.9M179.7 30.4h.9M181.7 29.9h.9M183.2 30.2h.9M187.2 30.2h.9M187.2 29.7h.9M195.5 30.1h.9M197.6 30h.9M197.7 29.6h.9M125.9 31.2h.9M149.5 31.4h.9M169.7 30.7h.9M179.8 30.9h.9M180.5 30.8h.9M181.4 31.5h.9M182.4 31.2h.9M189.8 31h.9M190.4 30.7h.9M195.8 31.2h.9M196.3 30.9h.9M196.8 30.5h.9M197.1 30.7h.9M197.4 31.3h.9M200.8 31.5h.9M202.3 31h.9M205.1 31.1h.9M221.8 30.7h.9M246.7 30.6h.9M87.2 32h.9M97.6 32.2h.9M176.8 32.1h.9M179.3 31.7h.9M182.5 31.6h.9M184.5 31.9h.9M184.8 32.1h.9M185.6 32.3h.9M188.4 32.4h.9M197.2 32.1h.9M198.1 31.8h.9M158.5 32.7h.9M172.6 33.4h.9M180.2 32.9h.9M183 33.1h.9M183.9 33h.9M185.3 33.4h.9M185.4 33.2h.9M185.4 33.5h.9M190.9 33.3h.9M194.9 33.3h.9M196.3 32.9h.9M199.7 32.9h.9M204.7 33h.9M88.3 34h.9M111.9 33.7h.9M135.8 33.7h.9M160.4 34.3h.9M181.4 34.3h.9M181.5 34.3h.9M182 34.1h.9M182 34.4h.9M182.4 33.6h.9M182.9 34h.9M185.6 34.4h.9M185.6 34.1h.9M186.6 34.1h.9M187 34.2h.9M188.1 34h.9M190 34.1h.9M191.9 33.6h.9M224.9 33.9h.9M232.4 34h.9M124.5 35h.9M132.7 35.4h.9M175.6 34.5h.9M179.3 34.6h.9M180.1 35h.9M180.3 34.8h.9M182.1 34.6h.9M185.6 35.5h.9M190.9 35h.9M192.8 35.2h.9M192.9 34.6h.9M163.8 36.1h.9M170.1 35.6h.9M170.2 35.8h.9M187.4 35.9h.9M188.6 35.8h.9M190.2 36.4h.9M191 35.6h.9M191.8 36.1h.9M197 36.3h.9M197.2 36.5h.9M199.3 35.7h.9M100.6 36.9h.9M180.4 36.6h.9M185 36.9h.9M186.1 37.2h.9M189.4 37.3h.9M190.1 36.7h.9M191.8 36.8h.9M192.7 37.1h.9M167.1 37.7h.9M181.8 37.9h.9M185.3 37.7h.9M187.4 37.7h.9M188.9 38.5h.9M189.4 38.4h.9M190.4 38.4h.9M190.6 38.2h.9M194.3 38.4h.9M115.3 38.9h.9M151.3 38.7h.9M182 38.9h.9M183.8 39.4h.9M185.5 39.4h.9M188.6 38.7h.9M188.6 38.6h.9M189.6 38.9h.9M191.5 39.4h.9M197.2 38.9h.9M197.5 39.3h.9M198.3 39h.9M199.3 39.1h.9M202.5 39.2h.9M183.5 40.3h.9M187.1 40.2h.9M189.1 40h.9M189.6 40.3h.9M194.4 39.8h.9M197.7 39.7h.9M199.6 40.3h.9M243.9 39.6h.9M107.4 40.8h.9M183.2 40.9h.9M186.9 40.8h.9M188.1 41h.9M189.3 40.5h.9M191.1 40.6h.9M192.6 40.9h.9M193.2 40.7h.9M194.8 40.7h.9M202.3 41.3h.9M191.9 41.7h.9M192.2 42.2h.9M202.6 42.4h.9M203.8 42.2h.9M115.8 43.5h.9M134.2 42.6h.9M154.4 43.4h.9M158.7 42.9h.9M196.3 43.3h.9M196.5 42.9h.9M196.7 43.5h.9M197.9 43h.9M199 43h.9M199.3 43.5h.9M200.2 43.5h.9M202.3 43.1h.9M215.1 42.5h.9M231.3 43h.9M84.8 44.4h.9M192.9 44.3h.9M197.4 44h.9M198.2 43.8h.9M200.1 43.6h.9M203.1 43.6h.9M226.3 44.4h.9M149.2 44.7h.9M193.1 45.1h.9M193.8 45h.9M198.4 44.5h.9M198.4 45h.9M200.6 45h.9M201.2 45.3h.9M202.5 45.4h.9M200.7 46.1h.9M202.5 46.2h.9M204.3 45.5h.9M90.1 46.6h.9M184.5 46.6h.9M204.3 47.1h.9M206.3 46.6h.9M80.9 47.8h.9M99.3 47.7h.9M117 47.8h.9M143.6 48.4h.9M146 47.9h.9M197.8 48.2h.9M112.7 48.9h.9M135.7 49.3h.9M139.1 49.2h.9M239.2 49.3h.9M116.7 50.1h.9M246.2 50.4h.9M249.9 49.5h.9M163.8 50.6h.9M197.1 51.1h.9M246.7 50.6h.9M247.2 51.4h.9M247.7 50.9h.9M248.8 51.4h.9M248.9 51.3h.9M249.2 51.5h.9M249.5 50.5h.9M249.6 51.1h.9M246.4 52h.9M247.8 52.2h.9M248.1 52.4h.9M248.6 52.3h.9M248.6 52.4h.9M249.3 51.7h.9M249.3 52.5h.9M249.9 51.9h.9M250 52.4h.9M79.3 53.2h.9M102.3 52.6h.9M247.7 53.5h.9M247.9 53.4h.9M248 52.8h.9M248.2 53.5h.9M248.3 52.8h.9M248.9 53.5h.9M249 52.6h.9M249.2 53.4h.9M249.4 52.5h.9M249.5 53.1h.9M249.5 53.4h.9M96.8 54.1h.9M122.2 54.2h.9M143.3 53.5h.9M187.9 53.7h.9M191 53.9h.9M222.2 53.6h.9M243 53.5h.9M245.9 54.4h.9M246.1 54.1h.9M247 53.9h.9M247.4 53.6h.9M247.5 54.2h.9M247.5 53.7h.9M247.8 54h.9M248 53.7h.9M248.3 53.9h.9M248.4 54.1h.9M248.5 53.6h.9M248.8 54.2h.9M249.4 53.9h.9M249.8 54h.9M250.1 53.5h.9M250.6 53.8h.9M250.9 54.2h.9M80.4 54.5h.9M84 54.6h.9M98.8 54.8h.9M118.2 54.8h.9M140.8 54.5h.9M170.2 55.2h.9M244.7 55.2h.9M245.2 55.3h.9M246.3 55.4h.9M246.7 54.5h.9M246.8 54.7h.9M247.2 54.6h.9M247.2 54.9h.9M247.8 55.2h.9M248.5 55.5h.9M249.6 54.9h.9M250.4 54.8h.9M250.5 55.1h.9M91.4 56.2h.9M102.7 55.8h.9M107.5 55.6h.9M120.1 56.4h.9M126.6 56h.9M235.7 55.8h.9M245.5 56h.9M246.4 55.7h.9M246.5 56h.9M246.6 56.2h.9M246.7 56h.9M247.4 56.3h.9M247.5 56.3h.9M247.9 56h.9M248 56.1h.9M248.6 56h.9M248.7 56.4h.9M248.9 55.7h.9M248.9 56.2h.9M249.3 56.1h.9M250 56.3h.9M250.2 55.8h.9M82 56.6h.9M120.6 56.5h.9M147.1 57h.9M153.2 57h.9M242.5 57.5h.9M244.9 57.3h.9M246.5 57.3h.9M247.3 56.8h.9M247.3 56.7h.9M248 56.9h.9M248 57h.9M248.1 57h.9M248.4 56.6h.9M248.5 56.8h.9M249.8 56.6h.9M250.3 57.2h.9M250.7 56.8h.9M157.1 58.2h.9M247.1 57.8h.9M249.5 57.6h.9M144.7 58.9h.9M244.6 58.7h.9M246.3 59.1h.9M247.8 59h.9M248.4 58.9h.9M248.5 59.3h.9M249.2 59.2h.9M249.3 59.3h.9M249.5 58.7h.9M249.8 58.6h.9M76 59.6h.9M114.1 59.6h.9M126.2 60h.9M133.2 59.9h.9M133.9 60.4h.9M138.2 60.2h.9M246.1 59.8h.9M249.3 59.9h.9M250.6 59.6h.9M114.9 60.8h.9M124 61.1h.9M126.6 61.4h.9M155.7 61.2h.9M184.5 60.7h.9M190.2 60.7h.9M193.2 61.3h.9M216.3 61.7h.9M130.1 63.2h.9M164.7 62.6h.9M248.2 62.8h.9M207.5 63.6h.9M232.5 64.3h.9M94 65.1h.9M133.3 64.8h.9M152.4 66h.9M165.6 66.4h.9M207.4 65.7h.9M88.6 67.2h.9M91.8 66.5h.9M117.9 67.1h.9M154.6 66.9h.9M205.6 67.4h.9M137.8 68.3h.9M142.7 68.4h.9M202.6 67.9h.9M235.9 67.7h.9M247.7 68.4h.9M248 67.8h.9M249 67.6h.9M131.5 69h.9M158.3 68.7h.9M213.7 68.5h.9M245.6 69.3h.9M245.8 68.8h.9M249.1 68.6h.9M115.8 70.3h.9M243.3 70.4h.9M245.7 70.3h.9M246 70.1h.9M247.1 70.4h.9M247.6 69.5h.9M248.3 70.3h.9M248.7 69.8h.9M151.3 71.3h.9M246.4 70.6h.9M246.6 71.3h.9M246.8 71.5h.9M247.2 71.4h.9M247.3 71h.9M247.7 71.4h.9M248.1 70.9h.9M248.3 71h.9M248.5 71.4h.9M249.2 71.2h.9M249.2 71.3h.9M249.3 71.2h.9M250.1 71.4h.9M97 72.4h.9M161.6 71.7h.9M242.6 71.7h.9M245.8 72h.9M246.2 71.8h.9M246.3 72h.9M247.4 72h.9M247.6 71.9h.9M247.7 71.5h.9M247.8 71.5h.9M247.8 72.1h.9M248 72h.9M248.1 71.9h.9M248.7 72.5h.9M249.8 71.7h.9M78.9 73h.9M106.6 72.5h.9M108.2 72.6h.9M150.9 73.3h.9M238.1 73.2h.9M238.4 73.3h.9M245.6 72.8h.9M246.5 72.6h.9M247 73.2h.9M248.3 72.7h.9M249.7 73.2h.9M249.8 72.9h.9M250.6 73.5h.9M119.9 74.2h.9M136.3 74.4h.9M151.6 73.6h.9M166.3 74.1h.9M244 73.5h.9M246.1 74.1h.9M247 73.6h.9M247.7 74h.9M249.4 73.8h.9M250 73.5h.9M73.4 75.4h.9M93.6 75.3h.9M130.9 75.2h.9M162.5 74.9h.9M163.6 75.4h.9M177.6 75.2h.9M203.3 74.6h.9M245.7 74.8h.9M245.8 74.6h.9M246.8 74.9h.9M247.4 75.1h.9M249.9 75.1h.9M97.2 76.2h.9M116 75.8h.9M246.2 76h.9M247.7 75.8h.9M248.1 76.1h.9M197.1 77h.9M217.9 76.6h.9M242.4 77.5h.9M246.3 77.4h.9M247.5 77.3h.9M249.5 76.5h.9M250.6 77.1h.9M250.7 76.9h.9M86.4 77.7h.9M112.8 77.5h.9M137.3 77.7h.9M191.6 77.5h.9M194.2 78h.9M204.1 78.3h.9M235.8 78.4h.9M241 78.2h.9M242.4 78.2h.9M81.3 79.1h.9M118.3 79.1h.9M176.4 79.3h.9M188.5 79h.9M233.4 79.1h.9M238.3 79.2h.9M239 79.4h.9M76.8 80.5h.9M82.9 80.4h.9M91.4 80.4h.9M162.5 80.2h.9M202.3 79.7h.9M202.6 80.2h.9M207.6 80.1h.9M240.7 79.9h.9M240.9 79.7h.9M242.4 79.9h.9M84.3 81.3h.9M91.4 80.6h.9M101.2 81h.9M234.7 80.6h.9M239.6 80.9h.9M240.4 81.5h.9M241.6 80.6h.9M243.5 81.1h.9M243.7 81h.9M247.8 81.1h.9M127.3 82.3h.9M142.3 82.3h.9M187.4 82.4h.9M191.7 82.1h.9M193.9 82.5h.9M235.8 82.4h.9M238.4 81.8h.9M241.1 81.6h.9M241.3 81.8h.9M243.6 82.2h.9M244.2 82.5h.9M246.5 81.7h.9M123 83.2h.9M180.9 82.5h.9M238.4 83.1h.9M238.8 82.8h.9M239 83.1h.9M105 84.3h.9M168.4 83.8h.9M183 84.1h.9M241.1 83.6h.9M244.7 83.9h.9M113.5 85.3h.9M115.6 85.3h.9M137.4 85h.9M200.6 85.3h.9M238 85h.9M238.6 84.9h.9M240 85.4h.9M240.1 85.2h.9M241.4 84.7h.9M241.9 84.7h.9M245 85h.9M94.4 85.9h.9M105.8 85.9h.9M136.1 86.2h.9M236.7 86.2h.9M239.9 85.7h.9M242.7 85.6h.9M162.5 87.1h.9M204.4 86.9h.9M236.4 86.8h.9M240.1 86.6h.9M240.7 87.4h.9M162.9 88.4h.9M197.9 88.4h.9M243 87.6h.9M97.8 89.1h.9M113.7 89h.9M126.6 88.8h.9M157.2 89.5h.9M212 88.8h.9M238.7 89.2h.9M122.9 90.2h.9M144.8 90.4h.9M88.6 90.8h.9M124.6 91.3h.9M131 90.8h.9M166.4 90.6h.9M122.7 91.8h.9M200.8 91.8h.9M95.4 93.5h.9M116.5 92.8h.9M138 93.1h.9M206.8 93.4h.9M90.6 94.4h.9M98.6 95.5h.9M98.8 94.9h.9M203.9 94.9h.9M238.8 95.5h.9M76 96.3h.9M108.7 95.8h.9M109.2 95.7h.9M75 97.5h.9M122.2 97.1h.9M152.5 97.3h.9M177 97.2h.9M218.6 96.9h.9M72.6 98.3h.9M196.6 97.7h.9M198.5 97.6h.9M73.2 98.7h.9M85.6 99.1h.9M102.6 99.4h.9M135.2 99h.9M144.1 98.7h.9M171.4 98.8h.9M199.4 99.2h.9M214.8 98.8h.9M152.6 100.1h.9M164.1 100h.9M100.1 100.8h.9M110.9 100.8h.9M162.3 101h.9M169.2 100.6h.9M128.8 102.2h.9M148.8 102.1h.9M160.8 101.7h.9M174.4 101.7h.9M232.4 102h.9M116.7 102.6h.9M72.8 103.6h.9M201.2 104h.9M98.4 104.6h.9M160.1 105.1h.9M216.5 104.6h.9M219.1 105h.9M221.4 105.4h.9M144.9 106.2h.9M157.6 105.6h.9M185.1 105.9h.9M187.4 105.6h.9M202.6 106.1h.9M89.7 106.6h.9M207.9 106.7h.9M95.8 107.9h.9M155.9 108.1h.9M208.1 108.3h.9M220 107.6h.9M222.5 107.9h.9M248.7 108.5h.9M133.7 109.2h.9M193.2 109.5h.9M74.2 110.3h.9M81.2 110h.9M116.1 110.4h.9M153.2 109.8h.9M118.4 110.5h.9M128 111.4h.9M205 111.3h.9M218 111h.9M122.9 112.2h.9M123.7 111.6h.9M198.2 112.2h.9M213 112h.9M86.5 113.3h.9M93.3 112.5h.9M103.5 112.8h.9M156.1 113.2h.9M105.4 113.7h.9M153.4 113.9h.9M190.8 113.8h.9M245.5 113.5h.9M131.4 115.2h.9M133.7 114.9h.9M107.3 115.7h.9M130.8 116h.9M138 116.4h.9M147.6 115.7h.9M162.7 115.8h.9M91.1 117.4h.9M209.9 117h.9M116.5 118.2h.9M134.5 118.2h.9M141.9 118h.9M171 117.9h.9M175.6 118.1h.9M211.4 119.2h.9M220.1 119.9h.9M99.9 121.5h.9M115.2 120.8h.9M222.2 120.7h.9M101.3 122.4h.9M153.1 122.3h.9M153.3 122.1h.9M164.4 122.1h.9M184 121.9h.9M211.1 121.9h.9M88.5 123h.9M90.6 123.2h.9M247.8 123.2h.9M210.9 124.4h.9M144.6 124.7h.9M176.3 125.2h.9M100.7 126.4h.9M118 126.1h.9M172.7 125.6h.9M219.8 125.9h.9M164.8 127.3h.9M180 126.5h.9M184.4 127.3h.9M200.1 126.7h.9M221.2 127h.9M109.3 127.6h.9M127.6 127.6h.9M96.1 128.9h.9M177.5 128.9h.9M185.9 128.6h.9M134.3 129.9h.9M168 130.4h.9M185.3 130h.9M197.5 129.5h.9M214.7 129.7h.9M83 131h.9M124.1 132.5h.9M147.1 131.5h.9M238.4 132.5h.9M90 133.2h.9M139.9 133h.9M156.9 132.6h.9M173.5 132.7h.9M186.4 132.5h.9M120.1 133.7h.9M165.9 133.9h.9M201.3 133.9h.9M230.9 133.9h.9M72.5 135.4h.9M161.8 134.7h.9M90.5 136.2h.9M160.5 135.7h.9M163.8 135.9h.9M171.5 136.3h.9M210.1 136.4h.9M74.8 137.1h.9M146.9 136.7h.9M152.6 136.7h.9M176.4 137.4h.9M237.7 137.4h.9M115.7 138h.9M124.6 138.2h.9M127.8 138h.9M194.7 137.9h.9M211.3 137.6h.9M72.3 138.5h.9M83 139.1h.9M144 139.5h.9M184.8 139.4h.9M191.9 139h.9M214.8 138.8h.9M221.4 139h.9M90.4 139.7h.9M175.4 140.1h.9M88.3 141h.9M116.7 141.1h.9M121.3 141.1h.9M141.2 142.2h.9M173.1 141.9h.9M220.1 142.3h.9M112 142.6h.9M196.5 144.2h.9M77.8 145.2h.9M79.9 144.7h.9M119.9 144.8h.9M174.9 144.6h.9M114.1 146.4h.9M122 145.9h.9M136.1 146.3h.9M146 145.5h.9M74.7 147h.9M127 147.4h.9M139.3 147h.9M192.8 147.4h.9M116.8 148.1h.9M132.7 147.6h.9M141.7 147.6h.9M206.1 147.8h.9M108.8 149.4h.9M117 148.5h.9M117.6 149.3h.9M129.3 148.6h.9M176.4 149.2h.9M195.2 149.1h.9M127.4 150.1h.9M157.9 150.1h.9M193.8 149.8h.9M101.1 151h.9M79 151.7h.9M109.9 152.2h.9M171.2 152.4h.9M203.3 152.1h.9M102.6 153.3h.9M175 153.3h.9M225.5 152.8h.9M141.6 153.6h.9M95.1 154.7h.9M100.4 155.5h.9M187.6 154.9h.9M235.3 154.7h.9M97.3 155.9h.9M190 155.8h.9M199.1 155.9h.9M236.4 155.7h.9M86.7 156.6h.9M160.1 157h.9M250.3 156.8h.9M140.1 157.5h.9M196 157.5h.9M204.8 157.6h.9M191.4 159.3h.9M208.9 159.1h.9M211.6 159.4h.9M76.3 160.5h.9M124.6 159.8h.9M199 160.1h.9M199.2 160.2h.9M94.8 160.6h.9M185.2 161h.9M155.3 161.9h.9M193.3 161.6h.9M205.4 161.6h.9M249.7 161.8h.9M247.2 162.9h.9M95 163.7h.9M103.1 164.2h.9M104.4 164.1h.9M241 164.3h.9M106.1 164.6h.9M165.5 165.1h.9M208 164.7h.9M219.3 165.4h.9M247.5 164.8h.9M167.5 165.6h.9M206.3 165.6h.9M143.4 168.5h.9M163.5 167.7h.9M226.1 168.2h.9M232.6 168.1h.9M244.6 168.3h.9M91.7 169.5h.9M182.8 169.2h.9M102.3 169.6h.9M149.1 170.4h.9M226.7 170.3h.9M105.3 170.8h.9M149.5 170.9h.9M242.3 171.1h.9M242.7 170.8h.9M76.2 171.9h.9M89.5 172h.9M160.1 171.9h.9M173.2 171.6h.9M176.9 171.8h.9M197.2 171.9h.9M224 172.3h.9M234.1 171.5h.9M97.9 173.1h.9M157.1 173.3h.9M160.5 172.7h.9M196.1 172.6h.9M82 173.7h.9M94.8 173.5h.9M108.2 173.9h.9M138.5 173.8h.9M149.6 173.9h.9M244.5 173.6h.9M82.7 174.8h.9M180.9 174.6h.9M210.2 174.9h.9M124.1 176.1h.9M149.5 176.4h.9M151.2 175.6h.9M162.6 176.3h.9M211.2 176h.9M151.9 177.3h.9M195.6 177.3h.9M81.9 177.9h.9M124.2 177.6h.9M130.5 178.2h.9M143.7 178h.9M164.7 177.9h.9M219 178h.9M240.3 178.5h.9M73.1 178.7h.9M99.9 179.4h.9M102.8 179.5h.9M117.1 178.8h.9M133.9 178.5h.9M220.4 179.2h.9M84.9 180.1h.9M97.2 179.9h.9M97.6 180h.9M175.3 179.6h.9M193.1 180.4h.9M213.1 179.7h.9M222.3 180.5h.9M77.1 181.2h.9M240.2 180.9h.9M242.1 181.3h.9M80.2 182.3h.9M92.9 182.1h.9M161.9 182.4h.9M164 182h.9M176.9 181.6h.9M92.8 183h.9M155.6 183h.9M162.1 183.5h.9M210.2 182.6h.9M79.1 186h.9M98.5 186h.9M121.1 185.7h.9M230.5 186.7h.9M246 187.2h.9M74.5 188.4h.9M134.9 187.7h.9M203.2 188.4h.9M240.3 187.9h.9M74.9 188.6h.9M147.7 189.4h.9M161.2 189.1h.9M199.8 189.2h.9M126 190.4h.9M201.8 190.1h.9M228.2 189.7h.9M91.3 191.3h.9M118.7 191.1h.9M143.9 191.6h.9M155.9 192h.9M156.1 191.9h.9M212.8 191.9h.9M159.2 193.5h.9M212.4 193.4h.9M118.4 194.2h.9M181.2 194.4h.9M189.7 193.6h.9M201.7 194.5h.9M98.6 195.2h.9M111.3 194.8h.9M244.2 195h.9M90.4 195.8h.9M115.9 195.7h.9M217 196h.9M113.9 197.4h.9M178.5 197.4h.9M210.4 197.2h.9M249.2 196.7h.9M109.9 197.9h.9M175.1 198h.9M246.1 198.5h.9M128.4 199.2h.9M222.7 199.4h.9M248.1 199.3h.9M125.7 199.5h.9M147.8 199.6h.9M156.8 199.7h.9M158.9 200.3h.9M176.5 200.3h.9M233 199.8h.9M84 200.8h.9M136.2 202.1h.9M138.6 202.1h.9M91.2 202.5h.9M100.2 202.9h.9M196.7 202.6h.9M75.5 203.6h.9M93.3 203.6h.9M112.2 204.1h.9M220.8 204.1h.9M97.6 204.9h.9M87.9 206.4h.9M210.3 206h.9M228.2 206h.9M236.9 206.5h.9M234.8 207.4h.9M109.1 207.6h.9M170.2 207.7h.9M219.3 207.8h.9M228.5 208.1h.9M99 208.8h.9M209.3 209.1h.9M224.4 209.5h.9M243.3 209.1h.9M150.8 210.1h.9M153.6 210.5h.9M237.4 210.4h.9M88.2 210.7h.9M108.8 211.2h.9M108.8 211.3h.9M131.5 211.2h.9M150.9 211.4h.9M170.5 212.2h.9M172.1 212.4h.9M182.4 212.1h.9M231.6 212.3h.9M104.9 213.2h.9M187.5 213h.9M199.7 213h.9M222.7 212.6h.9M234.4 213.3h.9M196 214.3h.9M216.9 214.5h.9M236 214.4h.9M239.6 214.1h.9M79.6 215.1h.9M91.9 215.2h.9M117.3 215.1h.9M198.5 215h.9M249.8 215.2h.9M89.4 215.7h.9M107.3 215.6h.9M117.6 216h.9M135.4 215.9h.9M163.8 216h.9M170.6 216h.9M119.7 216.9h.9M149.2 216.8h.9M193.7 216.7h.9M74.4 217.8h.9M119.8 218.4h.9M199 218.3h.9M206.8 218.2h.9M236.6 218h.9M201.2 218.6h.9M245.7 219.3h.9M157.9 220.3h.9M179.4 219.9h.9M216.7 220.4h.9M118.8 221.3h.9M235.6 221.2h.9M242.3 221.2h.9M186.1 222.3h.9M206.3 221.7h.9M247.4 221.7h.9M78 223.9h.9M78.5 223.9h.9M146.8 224.2h.9M196 224.2h.9M118.2 224.8h.9M141.2 225.2h.9M120.3 226.3h.9M227.8 225.8h.9M135.2 227.3h.9M145.4 227.3h.9M183.1 226.9h.9M195.9 227.4h.9M119.8 228.3h.9M130.7 228.2h.9M182.6 227.6h.9M184.1 229h.9M73.2 229.9h.9M109.8 230.1h.9M157.9 229.9h.9M162.8 231.2h.9M232.1 231.9h.9M107.6 232.8h.9M194.3 232.9h.9M128.3 233.6h.9M147.4 234.5h.9M222.3 234.3h.9M174.2 235.2h.9M214.2 234.7h.9M240.5 234.8h.9M126.1 236h.9M134.2 236.5h.9M246.2 236.1h.9M212.5 237.7h.9M129.6 238.5h.9M209.9 238.7h.9M93.9 239.6h.9M119.1 240.2h.9M122.8 240h.9M168.9 240.4h.9M227.6 240.4h.9M79.5 242.1h.9M113.1 242h.9M145.2 241.8h.9M154.1 242.2h.9M116.4 242.8h.9M241.4 242.8h.9M246.5 244h.9M84 245.3h.9M250.2 245.1h.9M87 245.5h.9M239.7 245.5h.9M196.8 246.5h.9M214.7 247.3h.9M243.6 247.1h.9M84.9 247.8h.9M112.4 248h.9M144.6 247.8h.9M167.1 248.1h.9M190.6 248.2h.9M114.5 248.8h.9M204.2 248.6h.9M241 249.5h.9M118.2 249.8h.9M214.8 250.1h.9M239.4 249.5h.9M108.1 250.7h.9M132.2 250.6h.9M140.4 251.1h.9M230.8 250.6h.9M73 252.4h.9M152.8 251.5h.9M167.2 252.1h.9M177.9 253.1h.9M108.4 254.5h.9M172.6 253.8h.9M114.3 254.9h.9M136.6 255.3h.9M142.4 254.6h.9M191.6 255.2h.9M73.1 255.6h.9M82.8 256.4h.9M217.3 255.9h.9M166.2 257.1h.9M78.9 258.4h.9M81.3 258.2h.9M150.2 257.9h.9M216.4 257.6h.9M229.5 258.2h.9M236.7 258h.9M95.4 259h.9M245.5 259h.9M79.4 259.7h.9M82.7 259.7h.9M119 259.8h.9M181 260.5h.9M101 260.6h.9M136.9 260.8h.9M146.9 261.2h.9M147.2 260.8h.9M171.5 261.4h.9M185.7 261.4h.9M191.9 261.3h.9M227.9 260.7h.9M231.1 261h.9M234.1 261.3h.9M234.8 260.8h.9M100.9 261.9h.9M102.4 261.6h.9M129.8 262.3h.9M185.3 262.4h.9M196.8 262.2h.9M86.7 262.5h.9M104.2 262.9h.9M189.8 262.9h.9M248.2 262.7h.9M143.6 263.5h.9M158.8 264.1h.9M189.2 263.8h.9M206.5 263.7h.9M108.6 264.8h.9M160.1 265.3h.9M248 264.7h.9M73 266.1h.9M171.2 265.5h.9M111.4 266.8h.9M131.7 266.6h.9M185.6 266.8h.9M221.7 267.9h.9M75.2 268.5h.9M224.3 268.5h.9M82.2 269.7h.9M112.1 269.9h.9M198.7 269.9h.9M203.4 270.1h.9M223.7 270.1h.9M230.2 270.1h.9M186.9 270.5h.9M218.5 271.4h.9M137.2 271.8h.9M188.5 271.7h.9M209.3 272.2h.9M216.3 272.1h.9M138.2 273.4h.9M148 272.7h.9M204.2 273.4h.9M219 273.2h.9M183.1 274h.9M185.6 274.2h.9M237.8 274.3h.9M247 274.5h.9M119.6 275.3h.9M148.1 274.7h.9M216 274.6h.9M223.5 275.5h.9M72.6 276.4h.9M97.4 276.1h.9M134.3 276.3h.9M249.1 276.5h.9M79.9 276.7h.9M120.5 277.3h.9M162.4 277.3h.9M91 277.5h.9M213 278.5h.9M73.5 279.1h.9M87.4 279.2h.9M132.2 279.4h.9M153.8 278.8h.9M169.9 278.8h.9M191.1 279h.9M218.6 279h.9M233.1 279h.9M240.8 278.8h.9M100 279.8h.9M130.1 279.9h.9M196.4 280.5h.9M205.9 281h.9M217.9 281.2h.9M94.2 281.6h.9M182.4 282h.9M197.3 282.7h.9M238.5 283.4h.9M248.2 282.8h.9M87.3 283.9h.9M96.6 284.2h.9M199.7 283.7h.9M178 285.4h.9M84.2 286h.9M168.7 286h.9M184.8 286h.9M218.6 286.3h.9M247.1 286.1h.9M217.3 287.3h.9M218.1 286.8h.9M249.2 287h.9M84.1 287.5h.9M88 288.1h.9M98.1 288.4h.9M171.8 288.4h.9M83.2 289.1h.9M142.1 288.7h.9M149.8 288.8h.9M157.4 288.9h.9M223.9 289.1h.9M127.5 289.9h.9M166.1 289.8h.9M174.6 289.9h.9M211.6 289.6h.9M130.7 291.4h.9M174.8 291.3h.9M200.2 291.1h.9M144.9 292.2h.9M150.6 292.2h.9M170.4 292.4h.9M175.9 292.1h.9M232.7 292.5h.9M247.4 292.4h.9M99.7 292.7h.9M136.4 292.7h.9M163.2 293.5h.9M187.4 292.5h.9M216.8 292.7h.9M232.5 292.9h.9M218 293.7h.9M227.1 294.1h.9M82.1 294.7h.9M176.6 295.4h.9M218.7 294.9h.9M82.5 296.1h.9M93.5 295.6h.9M179.8 296.4h.9M191.7 295.7h.9M193.7 296.2h.9M199 296.3h.9M81.9 297.5h.9M128.5 297.3h.9M73.3 298.1h.9M119.3 298h.9M199.6 298.1h.9M90.1 298.8h.9M99.3 299.1h.9M99.6 298.9h.9M116.7 298.7h.9M129.1 298.6h.9M176.5 299h.9M233.5 299h.9M111.6 299.6h.9M75.1 300.8h.9M147.7 301.2h.9M150 301.4h.9M186.7 300.7h.9M185 301.8h.9M194.6 301.9h.9M216 301.6h.9M147.4 303.2h.9M83.5 303.9h.9M88 303.9h.9M99 303.6h.9M250.6 305.5h.9M81 306h.9M165.4 305.6h.9M171.1 306h.9M89.6 306.6h.9M91.4 306.7h.9M137 306.6h.9M194.2 307.5h.9M166.3 308.1h.9M243.4 308.4h.9M101.1 309h.9M152.2 309.2h.9M178 309.4h.9M219.8 309.4h.9M85.2 309.6h.9M207.1 309.9h.9M118.8 311.3h.9M143 310.5h.9M194.1 310.6h.9M228.8 310.8h.9M235.6 311.5h.9M109.8 311.9h.9M148.4 312.2h.9M154.1 312.4h.9M211.2 311.9h.9M212.7 311.7h.9M135 312.6h.9M145.6 312.6h.9M160.8 313.2h.9M184.4 312.5h.9M111.5 314h.9M139.8 313.5h.9M149.8 313.5h.9M151.9 314.5h.9M173.4 314.2h.9M135.1 315h.9M139 315.2h.9M157.2 315.4h.9M160.1 315.3h.9M178.4 315.2h.9M186.7 315.3h.9M196 315.3h.9M248.8 314.8h.9M154.6 316.1h.9M176.4 316.3h.9M179.9 316.4h.9M222 316h.9M90.5 317.1h.9M116.4 316.6h.9M119.3 316.9h.9M94 318.4h.9M94.4 317.7h.9M112.7 317.6h.9M116 318.2h.9M121.9 318.8h.9M216 318.5h.9M218.7 318.9h.9M230 318.7h.9M225.1 320.2h.9M110.3 320.8h.9M159.8 321h.9M162.7 321.1h.9M204.3 321.5h.9M204.4 321.3h.9M240.7 321.2h.9M92.7 322.2h.9M107.9 322.1h.9M124.7 322.2h.9M180.5 321.8h.9M131.3 323.2h.9M150.1 323h.9M94.2 324h.9M137.4 326.1h.9M218.9 325.8h.9M244.8 326.3h.9M91 326.7h.9M143 326.5h.9M187.9 326.7h.9M80.3 328h.9M167.2 328h.9M168.5 328.4h.9M203.2 328.1h.9M226.7 327.8h.9M142.5 328.5h.9" stroke="#1a1a1a" stroke-width=".9" fill="none" opacity=".8"/>
<path d="M105.8 60.8 L112.4 71.8 L118.2 82.3 L124.4 93.4 L130.1 104.2 L136.1 114.9 L142 125.8 L148.2 136.5 L154 147 L159.9 157.5 L165.9 168 L171.8 179.7 L178.3 190.2 L184.4 200.2 L186.1 211.5 L188.3 224.2 L190.1 236.2 L192.5 248.5 L194 260.6 L196.1 272.5 L197.7 284.5 L199.6 296.6" stroke="#888" stroke-width=".6" fill="none"/>
<path d="M176.8 151.1 L179.1 163.4 L180.3 175.6 L183.5 187.7 L186.1 211.5" stroke="#999" stroke-width=".5" fill="none"/>
<g transform="translate(112.4 71.8) rotate(-20)"><circle r="1.6" fill="#fff" stroke="#555" stroke-width=".45"/><path d="M-1.6 -0.2A1.6 1.6 0 0 1 1.6 -0.2Z" fill="#ffff44"/><path d="M-1.4 0.8A1.6 1.6 0 0 0 1.4 0.8Z" fill="#ffff44"/></g>
<g transform="translate(118.2 82.3) rotate(-20)"><circle r="2.6" fill="#fff" stroke="#555" stroke-width=".45"/><path d="M-2.6 -0.4A2.6 2.6 0 0 1 2.6 -0.4Z" fill="#ffff16"/><path d="M-2.3 1.3A2.6 2.6 0 0 0 2.3 1.3Z" fill="#ffff16"/></g>
<g transform="translate(124.4 93.4) rotate(-20)"><circle r="2.6" fill="#fff" stroke="#555" stroke-width=".45"/><path d="M-2.6 -0.4A2.6 2.6 0 0 1 2.6 -0.4Z" fill="#ffff0a"/><path d="M-2.3 1.3A2.6 2.6 0 0 0 2.3 1.3Z" fill="#ffff0a"/></g>
<g transform="translate(130.1 104.2) rotate(-20)"><circle r="2.1" fill="#fff" stroke="#555" stroke-width=".45"/><path d="M-2.1 -0.3A2.1 2.1 0 0 1 2.1 -0.3Z" fill="#ffff1c"/><path d="M-1.8 1.1A2.1 2.1 0 0 0 1.8 1.1Z" fill="#ffff1c"/></g>
<g transform="translate(136.1 114.9) rotate(-20)"><circle r="2.8" fill="#fff" stroke="#555" stroke-width=".45"/><path d="M-2.8 -0.4A2.8 2.8 0 0 1 2.8 -0.4Z" fill="#ffba00"/><path d="M-2.4 1.4A2.8 2.8 0 0 0 2.4 1.4Z" fill="#ffba00"/></g>
<g transform="translate(142 125.8) rotate(-20)"><circle r="3.3" fill="#fff" stroke="#555" stroke-width=".45"/><path d="M-3.3 -0.5A3.3 3.3 0 0 1 3.3 -0.5Z" fill="#fc5400"/><path d="M-2.9 1.6A3.3 3.3 0 0 0 2.9 1.6Z" fill="#fc5400"/></g>
<g transform="translate(148.2 136.5) rotate(-20)"><circle r="3.6" fill="#fff" stroke="#555" stroke-width=".45"/><path d="M-3.6 -0.5A3.6 3.6 0 0 1 3.6 -0.5Z" fill="#ea1000"/><path d="M-3.1 1.8A3.6 3.6 0 0 0 3.1 1.8Z" fill="#ea1000"/></g>
<g transform="translate(159.9 157.5) rotate(-20)"><circle r="4.6" fill="#fff" stroke="#555" stroke-width=".45"/><path d="M-4.5 -0.7A4.6 4.6 0 0 1 4.5 -0.7Z" fill="#d90d00"/><path d="M-4 2.3A4.6 4.6 0 0 0 4 2.3Z" fill="#d90d00"/></g>
<g transform="translate(165.9 168) rotate(-20)"><circle r="4.2" fill="#fff" stroke="#555" stroke-width=".45"/><path d="M-4.2 -0.6A4.2 4.2 0 0 1 4.2 -0.6Z" fill="#fb2300"/><path d="M-3.6 2.1A4.2 4.2 0 0 0 3.6 2.1Z" fill="#fb2300"/></g>
<g transform="translate(176.8 151.1) rotate(10)"><circle r="1.5" fill="#fff" stroke="#555" stroke-width=".45"/><path d="M-1.5 -0.2A1.5 1.5 0 0 1 1.5 -0.2Z" fill="#ffff1c"/><path d="M-1.3 0.8A1.5 1.5 0 0 0 1.3 0.8Z" fill="#ffff1c"/></g>
<g transform="translate(179.1 163.4) rotate(10)"><circle r="2.8" fill="#fff" stroke="#555" stroke-width=".45"/><path d="M-2.8 -0.4A2.8 2.8 0 0 1 2.8 -0.4Z" fill="#fffe00"/><path d="M-2.4 1.4A2.8 2.8 0 0 0 2.4 1.4Z" fill="#fffe00"/></g>
<g transform="translate(180.3 175.6) rotate(10)"><circle r="3.5" fill="#fff" stroke="#555" stroke-width=".45"/><path d="M-3.5 -0.5A3.5 3.5 0 0 1 3.5 -0.5Z" fill="#ffa400"/><path d="M-3 1.8A3.5 3.5 0 0 0 3 1.8Z" fill="#ffa400"/></g>
<g transform="translate(171.8 179.7) rotate(-20)"><circle r="3.8" fill="#fff" stroke="#555" stroke-width=".45"/><path d="M-3.8 -0.6A3.8 3.8 0 0 1 3.8 -0.6Z" fill="#fc4600"/><path d="M-3.3 1.9A3.8 3.8 0 0 0 3.3 1.9Z" fill="#fc4600"/></g>
<g transform="translate(183.5 187.7) rotate(10)"><circle r="3.5" fill="#fff" stroke="#555" stroke-width=".45"/><path d="M-3.5 -0.5A3.5 3.5 0 0 1 3.5 -0.5Z" fill="#f51300"/><path d="M-3 1.8A3.5 3.5 0 0 0 3 1.8Z" fill="#f51300"/></g>
<g transform="translate(178.3 190.2) rotate(10)"><circle r="4.5" fill="#fff" stroke="#555" stroke-width=".45"/><path d="M-4.4 -0.7A4.5 4.5 0 0 1 4.4 -0.7Z" fill="#ea1000"/><path d="M-3.9 2.2A4.5 4.5 0 0 0 3.9 2.2Z" fill="#ea1000"/></g>
<g transform="translate(184.4 200.2) rotate(10)"><circle r="4.5" fill="#fff" stroke="#555" stroke-width=".45"/><path d="M-4.4 -0.7A4.5 4.5 0 0 1 4.4 -0.7Z" fill="#fa1c00"/><path d="M-3.9 2.2A4.5 4.5 0 0 0 3.9 2.2Z" fill="#fa1c00"/></g>
<circle cx="186.1" cy="211.5" r="4.5" fill="#940000" stroke="#333" stroke-width=".5"/>
<ellipse cx="186.4" cy="211.7" rx="1.9" ry="4" fill="#fff" transform="rotate(-10 186.1 211.5)"/>
<circle cx="189.9" cy="211.8" r="2.1" fill="#ffff1c" stroke="#333" stroke-width=".5"/>
<path d="M189.9 209.7 A2.1 2.1 0 0 1 189.9 213.9 Z" fill="#fff"/>
<circle cx="154" cy="146.6" r="4.1" fill="#7f0000" stroke="#333" stroke-width=".5"/>
<ellipse cx="154.3" cy="146.8" rx="1.7" ry="3.7" fill="#fff" transform="rotate(-10 154 146.6)"/>
<circle cx="188.3" cy="224.2" r="5.2" fill="#4d0000" stroke="#333" stroke-width=".5"/>
<ellipse cx="188.6" cy="224.4" rx="2.2" ry="4.7" fill="#fff" transform="rotate(-10 188.3 224.2)"/>
<circle cx="190.1" cy="236.2" r="5.3" fill="#710000" stroke="#333" stroke-width=".5"/>
<ellipse cx="190.4" cy="236.4" rx="2.2" ry="4.8" fill="#fff" transform="rotate(-10 190.1 236.2)"/>
<circle cx="192.5" cy="248.5" r="5.6" fill="#3f0000" stroke="#333" stroke-width=".5"/>
<ellipse cx="192.8" cy="248.7" rx="2.4" ry="5" fill="#fff" transform="rotate(-10 192.5 248.5)"/>
<circle cx="194" cy="260.6" r="5" fill="#df0e00" stroke="#333" stroke-width=".5"/>
<ellipse cx="194.3" cy="260.8" rx="2.1" ry="4.5" fill="#fff" transform="rotate(-10 194 260.6)"/>
<circle cx="196.1" cy="272.5" r="3.2" fill="#ffaa00" stroke="#333" stroke-width=".5"/>
<ellipse cx="196.4" cy="272.7" rx="1.3" ry="2.9" fill="#fff" transform="rotate(-10 196.1 272.5)"/>
<circle cx="197.7" cy="284.5" r="2.2" fill="#ffff1c" stroke="#333" stroke-width=".5"/>
<path d="M197.7 282.3 A2.2 2.2 0 0 1 197.7 286.7 Z" fill="#fff"/>
<path d="M150 148.2A4.1 4.1 0 0 0 158 148.2Z" fill="#fff"/>
<path d="M154 143.3 L154.8 145.5 L157.1 145.6 L155.3 147 L155.9 149.3 L154 148 L152.1 149.3 L152.7 147 L150.9 145.6 L153.2 145.5Z" fill="#000" stroke="none" stroke-width=".5"/>
<path d="M188.3 220.6 L189.2 223 L191.7 223.1 L189.7 224.7 L190.4 227.1 L188.3 225.7 L186.2 227.1 L186.9 224.7 L184.9 223.1 L187.4 223Z" fill="#fff" stroke="#000" stroke-width=".5"/>
</g>
<rect x="72.3" y="16.0" width="178.6" height="312.9" fill="none" stroke="#111" stroke-width="1"/>
<text x="93.7" y="152.5" font-size="12" font-weight="bold">Event #2</text>
<text x="129" y="228.7" font-size="12" font-weight="bold">Event #1</text>
<line x1="69.8" y1="30.1" x2="72.3" y2="30.1" stroke="#111" stroke-width=".8"/>
<text x="69.3" y="33.7" font-size="9.9" text-anchor="end">22.40°N</text>
<line x1="69.8" y1="84.3" x2="72.3" y2="84.3" stroke="#111" stroke-width=".8"/>
<text x="69.3" y="87.9" font-size="9.9" text-anchor="end">22.20°N</text>
<line x1="69.8" y1="138.5" x2="72.3" y2="138.5" stroke="#111" stroke-width=".8"/>
<text x="69.3" y="142.1" font-size="9.9" text-anchor="end">22.00°N</text>
<line x1="69.8" y1="192.7" x2="72.3" y2="192.7" stroke="#111" stroke-width=".8"/>
<text x="69.3" y="196.3" font-size="9.9" text-anchor="end">21.80°N</text>
<line x1="69.8" y1="246.9" x2="72.3" y2="246.9" stroke="#111" stroke-width=".8"/>
<text x="69.3" y="250.5" font-size="9.9" text-anchor="end">21.60°N</text>
<line x1="69.8" y1="301.1" x2="72.3" y2="301.1" stroke="#111" stroke-width=".8"/>
<text x="69.3" y="304.7" font-size="9.9" text-anchor="end">21.40°N</text>
<line x1="98.5" y1="328.9" x2="98.5" y2="331.4" stroke="#111" stroke-width=".8"/>
<text x="98.5" y="339.8" font-size="9.9" text-anchor="middle">120.20°E</text>
<line x1="149.3" y1="328.9" x2="149.3" y2="331.4" stroke="#111" stroke-width=".8"/>
<text x="149.3" y="339.8" font-size="9.9" text-anchor="middle">120.40°E</text>
<line x1="200.1" y1="328.9" x2="200.1" y2="331.4" stroke="#111" stroke-width=".8"/>
<text x="200.1" y="339.8" font-size="9.9" text-anchor="middle">120.60°E</text>
<line x1="250.9" y1="328.9" x2="250.9" y2="331.4" stroke="#111" stroke-width=".8"/>
<text x="250.9" y="339.8" font-size="9.9" text-anchor="middle">120.80°E</text>
<defs><linearGradient id="gHot" x1="0" y1="1" x2="0" y2="0"><stop offset="0.000" stop-color="#ffffff"/><stop offset="0.050" stop-color="#ffffe8"/><stop offset="0.100" stop-color="#ffffd1"/><stop offset="0.150" stop-color="#ffffb3"/><stop offset="0.200" stop-color="#ffff8f"/><stop offset="0.250" stop-color="#ffff6b"/><stop offset="0.300" stop-color="#ffff47"/><stop offset="0.350" stop-color="#ffff24"/><stop offset="0.400" stop-color="#ffff00"/><stop offset="0.450" stop-color="#ffdc00"/><stop offset="0.500" stop-color="#ffb900"/><stop offset="0.550" stop-color="#ff9600"/><stop offset="0.600" stop-color="#fd6b00"/><stop offset="0.650" stop-color="#fc3f00"/><stop offset="0.700" stop-color="#fa1400"/><stop offset="0.750" stop-color="#d70c00"/><stop offset="0.800" stop-color="#b50500"/><stop offset="0.850" stop-color="#8e0000"/><stop offset="0.900" stop-color="#620000"/><stop offset="0.950" stop-color="#360000"/><stop offset="1.000" stop-color="#0a0000"/></linearGradient></defs>
<rect x="252.2" y="92" width="9.4" height="228.3" fill="url(#gHot)" stroke="#222" stroke-width=".7"/>
<line x1="261.6" y1="136.9" x2="264" y2="136.9" stroke="#111" stroke-width=".7"/>
<text x="264.2" y="140.4" font-size="9.9">1.0</text>
<line x1="261.6" y1="228.6" x2="264" y2="228.6" stroke="#111" stroke-width=".7"/>
<text x="264.2" y="232.1" font-size="9.9">0.5</text>
<line x1="261.6" y1="320.3" x2="264" y2="320.3" stroke="#111" stroke-width=".7"/>
<text x="264.2" y="323.8" font-size="9.9">0.0</text>
<text x="289.4" y="206.3" font-size="11.3" text-anchor="middle" transform="rotate(-90 289.4 206.3)">Potency Density (m)</text>
<rect x="344.4" y="0.7" width="10.5" height="12.8" fill="#fff" stroke="#bbb" stroke-width="0.8"/>
<text x="349.6" y="11.7" font-size="10.6" text-anchor="middle">D</text>
<text x="384.9" y="8.8" font-size="7.6" font-weight="bold">P-axes</text>
<text x="327" y="51" font-size="11.8" font-weight="bold" textLength="44" lengthAdjust="spacingAndGlyphs">Event #1</text>
<text x="429.8" y="15.8" font-size="6.95" text-anchor="middle">30-40 km</text>
<defs><clipPath id="d00"><circle cx="429.8" cy="52.9" r="33.5"/></clipPath></defs>
<g clip-path="url(#d00)">
<rect x="395.4" y="18.4" width="68.9" height="68.9" fill="#d2e11f"/>
<ellipse cx="417" cy="51.7" rx="14.3" ry="17.9" fill="#68c86a" transform="rotate(-30 417 51.7)"/>
<ellipse cx="440" cy="57.9" rx="13.8" ry="15.3" fill="#68c86a"/>
<ellipse cx="417.7" cy="52.2" rx="12.3" ry="15.8" fill="#27a98a" transform="rotate(-30 417.7 52.2)"/>
<ellipse cx="438.4" cy="57.9" rx="11.8" ry="13.3" fill="#27a98a"/>
<ellipse cx="419.3" cy="52.7" rx="10.2" ry="13.3" fill="#2c7f8e" transform="rotate(-30 419.3 52.7)"/>
<ellipse cx="436.4" cy="58.1" rx="9.7" ry="11.2" fill="#2c7f8e"/>
<ellipse cx="421.4" cy="53.3" rx="7.7" ry="10.2" fill="#3e5a91" transform="rotate(-30 421.4 53.3)"/>
<ellipse cx="433.3" cy="58.1" rx="7.7" ry="9" fill="#3e5a91"/>
<ellipse cx="422.8" cy="53.3" rx="4.9" ry="6.5" fill="#46237a" transform="rotate(-20 422.8 53.3)"/>
<ellipse cx="430.3" cy="56.6" rx="3.9" ry="4.9" fill="#46237a"/>
<ellipse cx="422.8" cy="50.7" rx="1.6" ry="3.1" fill="#48106a" transform="rotate(30 422.8 50.7)"/>
<ellipse cx="429.4" cy="56" rx="1.2" ry="2.5" fill="#48106a"/>
<path d="M429.8 19.4 Q454.3 52.9 429.8 86.3M429.8 19.4 Q405.3 52.9 429.8 86.3M429.8 19.4 Q477.1 52.9 429.8 86.3M429.8 19.4 Q382.5 52.9 429.8 86.3M429.8 19.4V86.3M396.4 52.9H463.2M398.7 65.1 Q429.8 53.5 460.9 65.1M398.7 40.7 Q429.8 52.3 460.9 40.7M406.1 76.5 Q429.8 71.2 453.5 76.5M406.1 29.3 Q429.8 34.6 453.5 29.3" stroke="#c8c8c8" stroke-width=".5" fill="none" opacity=".55"/>
</g>
<circle cx="429.8" cy="52.9" r="33.5" fill="none" stroke="#777" stroke-width=".4"/>
<text x="512.9" y="15.8" font-size="6.95" text-anchor="middle">40-50 km</text>
<defs><clipPath id="d01"><circle cx="512.9" cy="52.9" r="33.5"/></clipPath></defs>
<g clip-path="url(#d01)">
<rect x="478.4" y="18.4" width="68.9" height="68.9" fill="#d2e11f"/>
<ellipse cx="486.2" cy="51.7" rx="11.2" ry="26.6" fill="#68c86a"/>
<ellipse cx="501.5" cy="74.2" rx="23.5" ry="14.3" fill="#68c86a" transform="rotate(-20 501.5 74.2)"/>
<ellipse cx="525" cy="26.2" rx="21.5" ry="12.3" fill="#68c86a" transform="rotate(25 525 26.2)"/>
<ellipse cx="543.4" cy="52.7" rx="6.1" ry="22.5" fill="#68c86a"/>
<ellipse cx="484.1" cy="51.7" rx="7.7" ry="20.4" fill="#27a98a"/>
<ellipse cx="496.4" cy="79.3" rx="19.4" ry="11.2" fill="#27a98a" transform="rotate(-30 496.4 79.3)"/>
<ellipse cx="524" cy="28.2" rx="18.4" ry="11.2" fill="#27a98a" transform="rotate(25 524 28.2)"/>
<ellipse cx="512.7" cy="66" rx="17.9" ry="16.9" fill="#27a98a"/>
<ellipse cx="543.9" cy="51.7" rx="3.6" ry="16.3" fill="#27a98a"/>
<ellipse cx="482.1" cy="52.7" rx="5.1" ry="14.3" fill="#2c7f8e"/>
<ellipse cx="493.3" cy="80.3" rx="15.3" ry="8.2" fill="#2c7f8e" transform="rotate(-30 493.3 80.3)"/>
<ellipse cx="524" cy="28.2" rx="15.3" ry="9.7" fill="#2c7f8e" transform="rotate(25 524 28.2)"/>
<ellipse cx="512.7" cy="66" rx="14.3" ry="14.3" fill="#2c7f8e"/>
<ellipse cx="480" cy="54.8" rx="4.1" ry="9.2" fill="#3e5a91"/>
<ellipse cx="492.3" cy="81.4" rx="12.3" ry="6.1" fill="#3e5a91" transform="rotate(-30 492.3 81.4)"/>
<ellipse cx="524.5" cy="28.2" rx="12.8" ry="8.2" fill="#3e5a91" transform="rotate(25 524.5 28.2)"/>
<ellipse cx="512.7" cy="66" rx="11.2" ry="11.8" fill="#3e5a91"/>
<ellipse cx="492.3" cy="81.9" rx="10.2" ry="4.6" fill="#46237a" transform="rotate(-30 492.3 81.9)"/>
<ellipse cx="524.5" cy="27.7" rx="9.2" ry="6.1" fill="#46237a" transform="rotate(25 524.5 27.7)"/>
<ellipse cx="512.7" cy="66" rx="8.2" ry="9.2" fill="#46237a"/>
<path d="M512.9 19.4 Q537.4 52.9 512.9 86.3M512.9 19.4 Q488.4 52.9 512.9 86.3M512.9 19.4 Q560.2 52.9 512.9 86.3M512.9 19.4 Q465.6 52.9 512.9 86.3M512.9 19.4V86.3M479.4 52.9H546.4M481.8 65.1 Q512.9 53.5 544 65.1M481.8 40.7 Q512.9 52.3 544 40.7M489.2 76.5 Q512.9 71.2 536.6 76.5M489.2 29.3 Q512.9 34.6 536.6 29.3" stroke="#c8c8c8" stroke-width=".5" fill="none" opacity=".55"/>
</g>
<circle cx="512.9" cy="52.9" r="33.5" fill="none" stroke="#777" stroke-width=".4"/>
<text x="595.9" y="15.8" font-size="6.95" text-anchor="middle">50-60 km</text>
<defs><clipPath id="d02"><circle cx="595.9" cy="52.9" r="33.5"/></clipPath></defs>
<g clip-path="url(#d02)">
<rect x="561.4" y="18.4" width="68.9" height="68.9" fill="#d2e11f"/>
<ellipse cx="597.8" cy="33.3" rx="17.9" ry="13.3" fill="#68c86a"/>
<ellipse cx="569.2" cy="61.9" rx="11.8" ry="23.5" fill="#68c86a"/>
<ellipse cx="600.9" cy="69.1" rx="13.8" ry="12.8" fill="#68c86a"/>
<ellipse cx="581.4" cy="73.2" rx="13.3" ry="11.2" fill="#68c86a"/>
<ellipse cx="625.4" cy="42.5" rx="6.1" ry="20.4" fill="#68c86a" transform="rotate(-10 625.4 42.5)"/>
<ellipse cx="597.8" cy="33.3" rx="16.3" ry="12.3" fill="#27a98a"/>
<ellipse cx="569.2" cy="61.9" rx="9.7" ry="20.4" fill="#27a98a"/>
<ellipse cx="596.8" cy="68.6" rx="9.2" ry="11.8" fill="#27a98a"/>
<ellipse cx="582.5" cy="75.2" rx="9.2" ry="8.2" fill="#27a98a"/>
<ellipse cx="624.9" cy="42.5" rx="4.6" ry="18.4" fill="#27a98a" transform="rotate(-10 624.9 42.5)"/>
<ellipse cx="598.3" cy="33.3" rx="14.3" ry="10.7" fill="#2c7f8e"/>
<ellipse cx="569.2" cy="61.9" rx="8.2" ry="17.4" fill="#2c7f8e"/>
<ellipse cx="595.7" cy="68.1" rx="5.6" ry="9.7" fill="#2c7f8e" transform="rotate(-10 595.7 68.1)"/>
<ellipse cx="625.4" cy="41.5" rx="3.6" ry="15.3" fill="#2c7f8e" transform="rotate(-10 625.4 41.5)"/>
<ellipse cx="599.8" cy="31.3" rx="10.7" ry="7.7" fill="#3e5a91" transform="rotate(20 599.8 31.3)"/>
<ellipse cx="568.7" cy="63" rx="6.6" ry="12.3" fill="#3e5a91"/>
<ellipse cx="626.4" cy="40.5" rx="2.6" ry="9.2" fill="#3e5a91" transform="rotate(-10 626.4 40.5)"/>
<ellipse cx="599.3" cy="30.3" rx="8.2" ry="5.6" fill="#46237a" transform="rotate(20 599.3 30.3)"/>
<ellipse cx="568.7" cy="66" rx="4.6" ry="5.6" fill="#46237a"/>
<ellipse cx="569.2" cy="68.1" rx="2.6" ry="3.1" fill="#48106a"/>
<path d="M595.9 19.4 Q620.4 52.9 595.9 86.3M595.9 19.4 Q571.4 52.9 595.9 86.3M595.9 19.4 Q643.2 52.9 595.9 86.3M595.9 19.4 Q548.6 52.9 595.9 86.3M595.9 19.4V86.3M562.4 52.9H629.4M564.8 65.1 Q595.9 53.5 627 65.1M564.8 40.7 Q595.9 52.3 627 40.7M572.2 76.5 Q595.9 71.2 619.6 76.5M572.2 29.3 Q595.9 34.6 619.6 29.3" stroke="#c8c8c8" stroke-width=".5" fill="none" opacity=".55"/>
</g>
<circle cx="595.9" cy="52.9" r="33.5" fill="none" stroke="#777" stroke-width=".4"/>
<rect x="639.7" y="36.9" width="6.4" height="7.4" fill="#46237a"/>
<text x="647.2" y="37.9" font-size="2.6" fill="#666">0.6</text>
<rect x="639.7" y="44" width="6.4" height="7.4" fill="#3e5a91"/>
<text x="647.2" y="45" font-size="2.6" fill="#666">0.5</text>
<rect x="639.7" y="51.2" width="6.4" height="7.4" fill="#2c7f8e"/>
<text x="647.2" y="52.2" font-size="2.6" fill="#666">0.4</text>
<rect x="639.7" y="58.3" width="6.4" height="7.4" fill="#27a98a"/>
<text x="647.2" y="59.3" font-size="2.6" fill="#666">0.3</text>
<rect x="639.7" y="65.5" width="6.4" height="7.4" fill="#68c86a"/>
<text x="647.2" y="66.5" font-size="2.6" fill="#666">0.2</text>
<rect x="639.7" y="72.7" width="6.4" height="7.4" fill="#d2e11f"/>
<text x="647.2" y="73.7" font-size="2.6" fill="#666">0.1</text>
<text x="647.2" y="80.8" font-size="2.6" fill="#666">0</text>
<text x="651.3" y="58.6" font-size="5" text-anchor="middle" transform="rotate(90 651.3 58.6)">Density</text>
<text x="384.9" y="95.9" font-size="7.6" font-weight="bold">T-axes</text>
<text x="327" y="138.1" font-size="11.8" font-weight="bold" textLength="44" lengthAdjust="spacingAndGlyphs">Event #1</text>
<text x="429.8" y="102.9" font-size="6.95" text-anchor="middle">30-40 km</text>
<defs><clipPath id="d10"><circle cx="429.8" cy="140" r="33.5"/></clipPath></defs>
<g clip-path="url(#d10)">
<rect x="395.4" y="105.5" width="68.9" height="68.9" fill="#2d0a94"/>
<ellipse cx="457.3" cy="150" rx="6.1" ry="17.4" fill="#5a05a5" transform="rotate(-20 457.3 150)"/>
<ellipse cx="407.3" cy="130.5" rx="12.8" ry="15.3" fill="#8c14a5"/>
<ellipse cx="448.1" cy="123.4" rx="16.3" ry="15.3" fill="#8c14a5" transform="rotate(40 448.1 123.4)"/>
<ellipse cx="406.2" cy="162.2" rx="6.1" ry="14.3" fill="#8c14a5" transform="rotate(-40 406.2 162.2)"/>
<ellipse cx="406.8" cy="130.5" rx="11" ry="13.8" fill="#b9378c"/>
<ellipse cx="448.1" cy="123.2" rx="14.3" ry="13.5" fill="#b9378c" transform="rotate(40 448.1 123.2)"/>
<ellipse cx="405.2" cy="162.2" rx="4.6" ry="12.3" fill="#b9378c" transform="rotate(-40 405.2 162.2)"/>
<ellipse cx="406.2" cy="130.5" rx="9.2" ry="12.8" fill="#dc5a6e"/>
<ellipse cx="448.1" cy="122.9" rx="12.8" ry="12.3" fill="#dc5a6e" transform="rotate(40 448.1 122.9)"/>
<ellipse cx="404.7" cy="162.2" rx="3.6" ry="11.2" fill="#dc5a6e" transform="rotate(-40 404.7 162.2)"/>
<ellipse cx="450.2" cy="123.4" rx="11.2" ry="11.4" fill="#f07d55" transform="rotate(40 450.2 123.4)"/>
<ellipse cx="404.2" cy="161.7" rx="2.6" ry="9.7" fill="#f07d55" transform="rotate(-40 404.2 161.7)"/>
<ellipse cx="451" cy="124.2" rx="9.4" ry="10.4" fill="#faaa32" transform="rotate(40 451 124.2)"/>
<ellipse cx="403.7" cy="161.2" rx="1.8" ry="8.2" fill="#faaa32" transform="rotate(-40 403.7 161.2)"/>
<path d="M429.8 106.5 Q454.3 140 429.8 173.4M429.8 106.5 Q405.3 140 429.8 173.4M429.8 106.5 Q477.1 140 429.8 173.4M429.8 106.5 Q382.5 140 429.8 173.4M429.8 106.5V173.4M396.4 140H463.2M398.7 152.2 Q429.8 140.6 460.9 152.2M398.7 127.8 Q429.8 139.4 460.9 127.8M406.1 163.6 Q429.8 158.3 453.5 163.6M406.1 116.4 Q429.8 121.7 453.5 116.4" stroke="#c8c8c8" stroke-width=".5" fill="none" opacity=".55"/>
</g>
<circle cx="429.8" cy="140" r="33.5" fill="none" stroke="#777" stroke-width=".4"/>
<text x="512.9" y="102.9" font-size="6.95" text-anchor="middle">40-50 km</text>
<defs><clipPath id="d11"><circle cx="512.9" cy="140" r="33.5"/></clipPath></defs>
<g clip-path="url(#d11)">
<rect x="478.4" y="105.5" width="68.9" height="68.9" fill="#2d0a94"/>
<ellipse cx="508.7" cy="128.5" rx="33.7" ry="23.5" fill="#5a05a5" transform="rotate(-10 508.7 128.5)"/>
<ellipse cx="506.6" cy="129.5" rx="29.6" ry="20.4" fill="#8c14a5" transform="rotate(-10 506.6 129.5)"/>
<ellipse cx="514.8" cy="131.6" rx="19.4" ry="22.5" fill="#b9378c"/>
<ellipse cx="493.3" cy="131.6" rx="11.2" ry="13.3" fill="#b9378c"/>
<ellipse cx="517.9" cy="132.6" rx="15.3" ry="20.9" fill="#dc5a6e"/>
<ellipse cx="494.3" cy="135.7" rx="7.2" ry="10.2" fill="#dc5a6e"/>
<ellipse cx="519.9" cy="127.5" rx="11.2" ry="15.3" fill="#f07d55"/>
<ellipse cx="506.6" cy="138.7" rx="2.6" ry="5.1" fill="#f07d55" transform="rotate(20 506.6 138.7)"/>
<ellipse cx="520.9" cy="124.4" rx="7.7" ry="11.2" fill="#faaa32"/>
<ellipse cx="519.9" cy="121.3" rx="4.1" ry="7.7" fill="#f0e128"/>
<path d="M512.9 106.5 Q537.4 140 512.9 173.4M512.9 106.5 Q488.4 140 512.9 173.4M512.9 106.5 Q560.2 140 512.9 173.4M512.9 106.5 Q465.6 140 512.9 173.4M512.9 106.5V173.4M479.4 140H546.4M481.8 152.2 Q512.9 140.6 544 152.2M481.8 127.8 Q512.9 139.4 544 127.8M489.2 163.6 Q512.9 158.3 536.6 163.6M489.2 116.4 Q512.9 121.7 536.6 116.4" stroke="#c8c8c8" stroke-width=".5" fill="none" opacity=".55"/>
</g>
<circle cx="512.9" cy="140" r="33.5" fill="none" stroke="#777" stroke-width=".4"/>
<text x="595.9" y="102.9" font-size="6.95" text-anchor="middle">50-60 km</text>
<defs><clipPath id="d12"><circle cx="595.9" cy="140" r="33.5"/></clipPath></defs>
<g clip-path="url(#d12)">
<rect x="561.4" y="105.5" width="68.9" height="68.9" fill="#2d0a94"/>
<ellipse cx="594.7" cy="122.4" rx="17.9" ry="13.8" fill="#5a05a5" transform="rotate(20 594.7 122.4)"/>
<ellipse cx="599.8" cy="151" rx="15.3" ry="17.9" fill="#5a05a5"/>
<ellipse cx="595.7" cy="123.4" rx="15.3" ry="11.8" fill="#8c14a5" transform="rotate(20 595.7 123.4)"/>
<ellipse cx="599.8" cy="151" rx="13.8" ry="15.8" fill="#8c14a5"/>
<ellipse cx="596.3" cy="125.4" rx="11.2" ry="11.8" fill="#b9378c" transform="rotate(10 596.3 125.4)"/>
<ellipse cx="599.8" cy="150.5" rx="12.8" ry="13.3" fill="#b9378c"/>
<ellipse cx="596.8" cy="128" rx="8.7" ry="9.2" fill="#dc5a6e"/>
<ellipse cx="599.8" cy="150" rx="12.1" ry="12.3" fill="#dc5a6e"/>
<ellipse cx="597.3" cy="131.6" rx="6.1" ry="6.1" fill="#f07d55"/>
<ellipse cx="599.8" cy="149.5" rx="11" ry="10.7" fill="#f07d55"/>
<ellipse cx="599.8" cy="148.4" rx="9" ry="8" fill="#faaa32"/>
<ellipse cx="598.8" cy="147.9" rx="5.3" ry="4.1" fill="#f0e128"/>
<path d="M595.9 106.5 Q620.4 140 595.9 173.4M595.9 106.5 Q571.4 140 595.9 173.4M595.9 106.5 Q643.2 140 595.9 173.4M595.9 106.5 Q548.6 140 595.9 173.4M595.9 106.5V173.4M562.4 140H629.4M564.8 152.2 Q595.9 140.6 627 152.2M564.8 127.8 Q595.9 139.4 627 127.8M572.2 163.6 Q595.9 158.3 619.6 163.6M572.2 116.4 Q595.9 121.7 619.6 116.4" stroke="#c8c8c8" stroke-width=".5" fill="none" opacity=".55"/>
</g>
<circle cx="595.9" cy="140" r="33.5" fill="none" stroke="#777" stroke-width=".4"/>
<rect x="639.7" y="123.9" width="6.4" height="5.5" fill="#f0e128"/>
<text x="647.2" y="124.9" font-size="2.6" fill="#666">0.8</text>
<rect x="639.7" y="129.2" width="6.4" height="5.5" fill="#faaa32"/>
<text x="647.2" y="130.2" font-size="2.6" fill="#666">0.7</text>
<rect x="639.7" y="134.4" width="6.4" height="5.5" fill="#f07d55"/>
<text x="647.2" y="135.4" font-size="2.6" fill="#666">0.6</text>
<rect x="639.7" y="139.7" width="6.4" height="5.5" fill="#dc5a6e"/>
<text x="647.2" y="140.7" font-size="2.6" fill="#666">0.5</text>
<rect x="639.7" y="144.9" width="6.4" height="5.5" fill="#b9378c"/>
<text x="647.2" y="145.9" font-size="2.6" fill="#666">0.4</text>
<rect x="639.7" y="150.2" width="6.4" height="5.5" fill="#8c14a5"/>
<text x="647.2" y="151.2" font-size="2.6" fill="#666">0.3</text>
<rect x="639.7" y="155.4" width="6.4" height="5.5" fill="#5a05a5"/>
<text x="647.2" y="156.4" font-size="2.6" fill="#666">0.2</text>
<rect x="639.7" y="160.7" width="6.4" height="5.5" fill="#2d0a94"/>
<text x="647.2" y="161.7" font-size="2.6" fill="#666">0.1</text>
<text x="647.2" y="166.9" font-size="2.6" fill="#666">0</text>
<text x="651.3" y="145.7" font-size="5" text-anchor="middle" transform="rotate(90 651.3 145.7)">Density</text>
<text x="384.9" y="182.8" font-size="7.6" font-weight="bold">P-axes</text>
<text x="327" y="225" font-size="11.8" font-weight="bold" textLength="44" lengthAdjust="spacingAndGlyphs">Event #2</text>
<text x="429.8" y="189.8" font-size="6.95" text-anchor="middle">30-40 km</text>
<defs><clipPath id="d20"><circle cx="429.8" cy="226.9" r="33.5"/></clipPath></defs>
<g clip-path="url(#d20)">
<rect x="395.4" y="192.4" width="68.9" height="68.9" fill="#d2e11f"/>
<ellipse cx="402.2" cy="226.7" rx="17.4" ry="34.7" fill="#68c86a"/>
<ellipse cx="455.3" cy="225.7" rx="22" ry="37.8" fill="#68c86a" transform="rotate(-25 455.3 225.7)"/>
<ellipse cx="399.1" cy="226.7" rx="14.3" ry="30.7" fill="#27a98a"/>
<ellipse cx="457.8" cy="223.7" rx="18.4" ry="31.7" fill="#27a98a" transform="rotate(-25 457.8 223.7)"/>
<ellipse cx="395.5" cy="226.2" rx="12.3" ry="21.5" fill="#2c7f8e"/>
<ellipse cx="460.4" cy="222.7" rx="14.3" ry="24.5" fill="#2c7f8e" transform="rotate(-22 460.4 222.7)"/>
<ellipse cx="394" cy="225.7" rx="9.7" ry="14.3" fill="#3e5a91"/>
<ellipse cx="462.4" cy="221.6" rx="10.7" ry="17.4" fill="#3e5a91" transform="rotate(-20 462.4 221.6)"/>
<ellipse cx="396.5" cy="224.7" rx="3.1" ry="5.6" fill="#46237a"/>
<ellipse cx="461.9" cy="222.7" rx="4.6" ry="8.2" fill="#46237a"/>
<path d="M429.8 193.4 Q454.3 226.9 429.8 260.4M429.8 193.4 Q405.3 226.9 429.8 260.4M429.8 193.4 Q477.1 226.9 429.8 260.4M429.8 193.4 Q382.5 226.9 429.8 260.4M429.8 193.4V260.4M396.4 226.9H463.2M398.7 239.1 Q429.8 227.5 460.9 239.1M398.7 214.7 Q429.8 226.3 460.9 214.7M406.1 250.5 Q429.8 245.2 453.5 250.5M406.1 203.3 Q429.8 208.6 453.5 203.3" stroke="#c8c8c8" stroke-width=".5" fill="none" opacity=".55"/>
</g>
<circle cx="429.8" cy="226.9" r="33.5" fill="none" stroke="#777" stroke-width=".4"/>
<text x="512.9" y="189.8" font-size="6.95" text-anchor="middle">40-50 km</text>
<defs><clipPath id="d21"><circle cx="512.9" cy="226.9" r="33.5"/></clipPath></defs>
<g clip-path="url(#d21)">
<rect x="478.4" y="192.4" width="68.9" height="68.9" fill="#68c86a"/>
<ellipse cx="526" cy="208.3" rx="27.6" ry="6.9" fill="#d2e11f" transform="rotate(30 526 208.3)"/>
<ellipse cx="501.5" cy="232.9" rx="18.9" ry="5.9" fill="#d2e11f" transform="rotate(20 501.5 232.9)"/>
<ellipse cx="524" cy="257.9" rx="7.2" ry="3.6" fill="#d2e11f"/>
<ellipse cx="500.5" cy="214.5" rx="20.4" ry="13.8" fill="#27a98a"/>
<ellipse cx="535.7" cy="238.5" rx="12.8" ry="18.9" fill="#27a98a" transform="rotate(20 535.7 238.5)"/>
<ellipse cx="503.5" cy="250.8" rx="17.4" ry="7.7" fill="#27a98a"/>
<ellipse cx="480" cy="234.9" rx="5.1" ry="11.2" fill="#27a98a"/>
<ellipse cx="493.3" cy="212.4" rx="9.4" ry="11" fill="#2c7f8e"/>
<ellipse cx="507.6" cy="213.7" rx="10" ry="10.4" fill="#2c7f8e"/>
<ellipse cx="513.8" cy="221.6" rx="7.4" ry="5.9" fill="#2c7f8e"/>
<ellipse cx="536.5" cy="239.2" rx="9.4" ry="14.3" fill="#2c7f8e" transform="rotate(20 536.5 239.2)"/>
<ellipse cx="498.4" cy="250.8" rx="12.1" ry="5.6" fill="#2c7f8e"/>
<ellipse cx="490.3" cy="211.4" rx="5.9" ry="8.7" fill="#3e5a91"/>
<ellipse cx="507.1" cy="213.5" rx="5.6" ry="7.2" fill="#3e5a91"/>
<ellipse cx="537.3" cy="240" rx="5.1" ry="10.2" fill="#3e5a91" transform="rotate(20 537.3 240)"/>
<ellipse cx="489.2" cy="211.4" rx="3.3" ry="5.9" fill="#46237a"/>
<ellipse cx="507.1" cy="212.6" rx="3.1" ry="4.6" fill="#46237a"/>
<ellipse cx="537.5" cy="240.2" rx="2.9" ry="7.7" fill="#46237a" transform="rotate(20 537.5 240.2)"/>
<path d="M512.9 193.4 Q537.4 226.9 512.9 260.4M512.9 193.4 Q488.4 226.9 512.9 260.4M512.9 193.4 Q560.2 226.9 512.9 260.4M512.9 193.4 Q465.6 226.9 512.9 260.4M512.9 193.4V260.4M479.4 226.9H546.4M481.8 239.1 Q512.9 227.5 544 239.1M481.8 214.7 Q512.9 226.3 544 214.7M489.2 250.5 Q512.9 245.2 536.6 250.5M489.2 203.3 Q512.9 208.6 536.6 203.3" stroke="#c8c8c8" stroke-width=".5" fill="none" opacity=".55"/>
</g>
<circle cx="512.9" cy="226.9" r="33.5" fill="none" stroke="#777" stroke-width=".4"/>
<text x="595.9" y="189.8" font-size="6.95" text-anchor="middle">50-60 km</text>
<defs><clipPath id="d22"><circle cx="595.9" cy="226.9" r="33.5"/></clipPath></defs>
<g clip-path="url(#d22)">
<rect x="561.4" y="192.4" width="68.9" height="68.9" fill="#68c86a"/>
<ellipse cx="591.7" cy="196.1" rx="23.5" ry="6.1" fill="#d2e11f"/>
<ellipse cx="573.8" cy="222.7" rx="6.6" ry="17.9" fill="#d2e11f"/>
<ellipse cx="610" cy="231.3" rx="10.7" ry="6.3" fill="#d2e11f"/>
<ellipse cx="601.9" cy="258.9" rx="13.3" ry="4.1" fill="#d2e11f"/>
<ellipse cx="592.7" cy="215.7" rx="18.9" ry="15.8" fill="#27a98a"/>
<ellipse cx="619.8" cy="217.5" rx="10.7" ry="22" fill="#27a98a"/>
<ellipse cx="589.6" cy="245.6" rx="15.3" ry="10.2" fill="#27a98a"/>
<ellipse cx="564.6" cy="232.9" rx="4.3" ry="16.3" fill="#27a98a"/>
<ellipse cx="591.7" cy="215.5" rx="15.1" ry="13.1" fill="#2c7f8e"/>
<ellipse cx="622.3" cy="217.5" rx="7.4" ry="18.2" fill="#2c7f8e"/>
<ellipse cx="589.6" cy="245.6" rx="12.3" ry="8.4" fill="#2c7f8e"/>
<ellipse cx="563.6" cy="233.9" rx="2.9" ry="12.3" fill="#2c7f8e"/>
<ellipse cx="591.7" cy="215.5" rx="11.2" ry="11" fill="#3e5a91"/>
<ellipse cx="625.2" cy="214.5" rx="3.9" ry="8.2" fill="#3e5a91"/>
<ellipse cx="591.7" cy="245.6" rx="8" ry="5.6" fill="#3e5a91"/>
<ellipse cx="591.7" cy="214" rx="8.2" ry="8" fill="#46237a"/>
<ellipse cx="595.2" cy="211.4" rx="4.1" ry="4.1" fill="#48106a"/>
<path d="M595.9 193.4 Q620.4 226.9 595.9 260.4M595.9 193.4 Q571.4 226.9 595.9 260.4M595.9 193.4 Q643.2 226.9 595.9 260.4M595.9 193.4 Q548.6 226.9 595.9 260.4M595.9 193.4V260.4M562.4 226.9H629.4M564.8 239.1 Q595.9 227.5 627 239.1M564.8 214.7 Q595.9 226.3 627 214.7M572.2 250.5 Q595.9 245.2 619.6 250.5M572.2 203.3 Q595.9 208.6 619.6 203.3" stroke="#c8c8c8" stroke-width=".5" fill="none" opacity=".55"/>
</g>
<circle cx="595.9" cy="226.9" r="33.5" fill="none" stroke="#777" stroke-width=".4"/>
<rect x="639.7" y="210.9" width="6.4" height="7.4" fill="#46237a"/>
<text x="647.2" y="211.9" font-size="2.6" fill="#666">0.6</text>
<rect x="639.7" y="218.1" width="6.4" height="7.4" fill="#3e5a91"/>
<text x="647.2" y="219.1" font-size="2.6" fill="#666">0.5</text>
<rect x="639.7" y="225.2" width="6.4" height="7.4" fill="#2c7f8e"/>
<text x="647.2" y="226.2" font-size="2.6" fill="#666">0.4</text>
<rect x="639.7" y="232.3" width="6.4" height="7.4" fill="#27a98a"/>
<text x="647.2" y="233.3" font-size="2.6" fill="#666">0.3</text>
<rect x="639.7" y="239.5" width="6.4" height="7.4" fill="#68c86a"/>
<text x="647.2" y="240.5" font-size="2.6" fill="#666">0.2</text>
<rect x="639.7" y="246.7" width="6.4" height="7.4" fill="#d2e11f"/>
<text x="647.2" y="247.7" font-size="2.6" fill="#666">0.1</text>
<text x="647.2" y="254.8" font-size="2.6" fill="#666">0</text>
<text x="651.3" y="232.6" font-size="5" text-anchor="middle" transform="rotate(90 651.3 232.6)">Density</text>
<text x="384.9" y="269.8" font-size="7.6" font-weight="bold">T-axes</text>
<text x="327" y="312" font-size="11.8" font-weight="bold" textLength="44" lengthAdjust="spacingAndGlyphs">Event #2</text>
<text x="429.8" y="276.8" font-size="6.95" text-anchor="middle">30-40 km</text>
<defs><clipPath id="d30"><circle cx="429.8" cy="313.9" r="33.5"/></clipPath></defs>
<g clip-path="url(#d30)">
<rect x="395.4" y="279.4" width="68.9" height="68.9" fill="#2d0a94"/>
<ellipse cx="430.8" cy="292.3" rx="28.6" ry="14.3" fill="#5a05a5" transform="rotate(10 430.8 292.3)"/>
<ellipse cx="433.8" cy="333.2" rx="24.5" ry="17.4" fill="#5a05a5"/>
<ellipse cx="432.8" cy="293.3" rx="23.5" ry="12.8" fill="#8c14a5" transform="rotate(10 432.8 293.3)"/>
<ellipse cx="433.8" cy="334.2" rx="20.4" ry="14.3" fill="#8c14a5"/>
<ellipse cx="428.7" cy="288.7" rx="23" ry="10.2" fill="#b9378c" transform="rotate(5 428.7 288.7)"/>
<ellipse cx="433.8" cy="336.7" rx="17.9" ry="11.8" fill="#b9378c"/>
<ellipse cx="427.7" cy="286.7" rx="20.9" ry="9" fill="#dc5a6e" transform="rotate(5 427.7 286.7)"/>
<ellipse cx="433.8" cy="338.8" rx="15.3" ry="9.7" fill="#dc5a6e"/>
<ellipse cx="427.7" cy="285.1" rx="17.4" ry="7.7" fill="#f07d55"/>
<ellipse cx="433.3" cy="340.3" rx="13.3" ry="8.7" fill="#f07d55"/>
<ellipse cx="430.8" cy="283.1" rx="9.2" ry="4.1" fill="#faaa32"/>
<ellipse cx="431.8" cy="342.9" rx="9.2" ry="6.1" fill="#faaa32"/>
<ellipse cx="432.8" cy="345.4" rx="4.1" ry="3.1" fill="#f0e128"/>
<path d="M429.8 280.4 Q454.3 313.9 429.8 347.3M429.8 280.4 Q405.3 313.9 429.8 347.3M429.8 280.4 Q477.1 313.9 429.8 347.3M429.8 280.4 Q382.5 313.9 429.8 347.3M429.8 280.4V347.3M396.4 313.9H463.2M398.7 326.1 Q429.8 314.5 460.9 326.1M398.7 301.7 Q429.8 313.3 460.9 301.7M406.1 337.5 Q429.8 332.2 453.5 337.5M406.1 290.3 Q429.8 295.6 453.5 290.3" stroke="#c8c8c8" stroke-width=".5" fill="none" opacity=".55"/>
</g>
<circle cx="429.8" cy="313.9" r="33.5" fill="none" stroke="#777" stroke-width=".4"/>
<text x="512.9" y="276.8" font-size="6.95" text-anchor="middle">40-50 km</text>
<defs><clipPath id="d31"><circle cx="512.9" cy="313.9" r="33.5"/></clipPath></defs>
<g clip-path="url(#d31)">
<rect x="478.4" y="279.4" width="68.9" height="68.9" fill="#5a05a5"/>
<ellipse cx="498.4" cy="340.3" rx="12.3" ry="9.2" fill="#5a05a5" transform="rotate(-30 498.4 340.3)"/>
<ellipse cx="521.9" cy="302.5" rx="22" ry="23" fill="#8c14a5"/>
<ellipse cx="520.4" cy="302" rx="16.9" ry="18.9" fill="#b9378c"/>
<ellipse cx="520.9" cy="301.5" rx="13.3" ry="15.3" fill="#dc5a6e"/>
<ellipse cx="521.9" cy="301" rx="10.7" ry="13.3" fill="#f07d55"/>
<ellipse cx="524" cy="299.9" rx="8.2" ry="11.2" fill="#faaa32"/>
<ellipse cx="526" cy="298.4" rx="3.9" ry="8.2" fill="#f0e128"/>
<path d="M512.9 280.4 Q537.4 313.9 512.9 347.3M512.9 280.4 Q488.4 313.9 512.9 347.3M512.9 280.4 Q560.2 313.9 512.9 347.3M512.9 280.4 Q465.6 313.9 512.9 347.3M512.9 280.4V347.3M479.4 313.9H546.4M481.8 326.1 Q512.9 314.5 544 326.1M481.8 301.7 Q512.9 313.3 544 301.7M489.2 337.5 Q512.9 332.2 536.6 337.5M489.2 290.3 Q512.9 295.6 536.6 290.3" stroke="#c8c8c8" stroke-width=".5" fill="none" opacity=".55"/>
</g>
<circle cx="512.9" cy="313.9" r="33.5" fill="none" stroke="#777" stroke-width=".4"/>
<text x="595.9" y="276.8" font-size="6.95" text-anchor="middle">50-60 km</text>
<defs><clipPath id="d32"><circle cx="595.9" cy="313.9" r="33.5"/></clipPath></defs>
<g clip-path="url(#d32)">
<rect x="561.4" y="279.4" width="68.9" height="68.9" fill="#5a05a5"/>
<ellipse cx="598.8" cy="299.4" rx="18.9" ry="14.8" fill="#8c14a5"/>
<ellipse cx="625.4" cy="311.7" rx="11.8" ry="22" fill="#8c14a5"/>
<ellipse cx="564.1" cy="317.8" rx="8.2" ry="22.5" fill="#8c14a5"/>
<ellipse cx="614.1" cy="339.3" rx="21.5" ry="10.2" fill="#8c14a5" transform="rotate(-30 614.1 339.3)"/>
<ellipse cx="598.3" cy="299.4" rx="15.3" ry="12.8" fill="#b9378c"/>
<ellipse cx="625.4" cy="311.7" rx="8.7" ry="17.9" fill="#b9378c"/>
<ellipse cx="616.2" cy="339.3" rx="15.3" ry="7.2" fill="#b9378c" transform="rotate(-30 616.2 339.3)"/>
<ellipse cx="564.1" cy="317.8" rx="6.6" ry="19.4" fill="#b9378c"/>
<ellipse cx="598" cy="299.4" rx="11.8" ry="10.2" fill="#dc5a6e"/>
<ellipse cx="625.9" cy="310.7" rx="7.4" ry="14.3" fill="#dc5a6e"/>
<ellipse cx="564.1" cy="317.8" rx="5.6" ry="16.3" fill="#dc5a6e"/>
<ellipse cx="625.9" cy="310.2" rx="5.8" ry="11" fill="#f07d55"/>
<ellipse cx="564.1" cy="317.8" rx="4.1" ry="13.3" fill="#f07d55"/>
<ellipse cx="625.4" cy="309.7" rx="3.9" ry="7.4" fill="#faaa32"/>
<ellipse cx="623.8" cy="311.7" rx="1.2" ry="2.9" fill="#f0e128"/>
<path d="M595.9 280.4 Q620.4 313.9 595.9 347.3M595.9 280.4 Q571.4 313.9 595.9 347.3M595.9 280.4 Q643.2 313.9 595.9 347.3M595.9 280.4 Q548.6 313.9 595.9 347.3M595.9 280.4V347.3M562.4 313.9H629.4M564.8 326.1 Q595.9 314.5 627 326.1M564.8 301.7 Q595.9 313.3 627 301.7M572.2 337.5 Q595.9 332.2 619.6 337.5M572.2 290.3 Q595.9 295.6 619.6 290.3" stroke="#c8c8c8" stroke-width=".5" fill="none" opacity=".55"/>
</g>
<circle cx="595.9" cy="313.9" r="33.5" fill="none" stroke="#777" stroke-width=".4"/>
<rect x="639.7" y="297.8" width="6.4" height="5.5" fill="#f0e128"/>
<text x="647.2" y="298.8" font-size="2.6" fill="#666">0.8</text>
<rect x="639.7" y="303" width="6.4" height="5.5" fill="#faaa32"/>
<text x="647.2" y="304" font-size="2.6" fill="#666">0.7</text>
<rect x="639.7" y="308.3" width="6.4" height="5.5" fill="#f07d55"/>
<text x="647.2" y="309.3" font-size="2.6" fill="#666">0.6</text>
<rect x="639.7" y="313.5" width="6.4" height="5.5" fill="#dc5a6e"/>
<text x="647.2" y="314.5" font-size="2.6" fill="#666">0.5</text>
<rect x="639.7" y="318.8" width="6.4" height="5.5" fill="#b9378c"/>
<text x="647.2" y="319.8" font-size="2.6" fill="#666">0.4</text>
<rect x="639.7" y="324" width="6.4" height="5.5" fill="#8c14a5"/>
<text x="647.2" y="325" font-size="2.6" fill="#666">0.3</text>
<rect x="639.7" y="329.3" width="6.4" height="5.5" fill="#5a05a5"/>
<text x="647.2" y="330.3" font-size="2.6" fill="#666">0.2</text>
<rect x="639.7" y="334.5" width="6.4" height="5.5" fill="#2d0a94"/>
<text x="647.2" y="335.5" font-size="2.6" fill="#666">0.1</text>
<text x="647.2" y="340.8" font-size="2.6" fill="#666">0</text>
<text x="651.3" y="319.6" font-size="5" text-anchor="middle" transform="rotate(90 651.3 319.6)">Density</text>
<rect x="0" y="358.6" width="10.4" height="11.7" fill="#fff" stroke="#bbb" stroke-width="0.8"/>
<text x="5.2" y="368.5" font-size="10.6" text-anchor="middle">B</text>
<text x="27.8" y="368.5" font-size="10.5" font-weight="bold" textLength="41.7" lengthAdjust="spacingAndGlyphs">Event #1</text>
<circle cx="56.9" cy="412.6" r="26" fill="#c0302a" stroke="#555" stroke-width=".6"/>
<path d="M43 391.4 Q71 402.4 74.3 430.3 L69.6 434.6 C52 434 33 418 37.3 396 Z" fill="#fff"/>
<path d="M116.2 442.3 L119.1 441.5 L122 437.9 L127.1 425.5 L133.2 401 L135.9 399.2 L137.3 394.8 L139.2 386.8 L141.7 395.5 L144.6 399.2 L145.8 406.5 L147.8 416.7 L150.5 419.3 L154.1 419.3 L157.8 422.6 L162.9 429.1 L165.8 428.4 L169.5 424 L173.8 417.4 L177.5 415.3 L181.1 421.1 L189.2 442.3Z" fill="#c0302a"/>
<path d="M116.2 383.1V442.3" stroke="#888" stroke-width=".8"/>
<line x1="116.2" y1="442.3" x2="117.7" y2="442.3" stroke="#888" stroke-width=".6"/>
<text x="114" y="445.9" font-size="10.2" text-anchor="end">0</text>
<line x1="116.2" y1="427.4" x2="117.7" y2="427.4" stroke="#888" stroke-width=".6"/>
<text x="114" y="431" font-size="10.2" text-anchor="end">2</text>
<line x1="116.2" y1="412.5" x2="117.7" y2="412.5" stroke="#888" stroke-width=".6"/>
<text x="114" y="416.1" font-size="10.2" text-anchor="end">4</text>
<line x1="116.2" y1="397.6" x2="117.7" y2="397.6" stroke="#888" stroke-width=".6"/>
<text x="114" y="401.2" font-size="10.2" text-anchor="end">6</text>
<text x="116.2" y="451.4" font-size="10.2" text-anchor="middle">0</text>
<text x="145.4" y="451.4" font-size="10.2" text-anchor="middle">5</text>
<text x="174.6" y="451.4" font-size="10.2" text-anchor="middle">10</text>
<text x="152.4" y="459.8" font-size="8.3" text-anchor="middle">Time (s)</text>
<text x="104.6" y="412.5" font-size="8.3" text-anchor="middle" transform="rotate(-90 104.6 412.5)">Moment rate (10<tspan font-size="5.5" dy="-3">18</tspan><tspan dy="3"> Nm/s)</tspan></text>
<text x="196.7" y="387.8" font-size="6.25" fill="#111">Seismic Moment = 0.2759E+20 Nm</text>
<text x="196.7" y="397.7" font-size="6.25" fill="#111">Mw = 6.89</text>
<text x="196.7" y="407.5" font-size="6.25" fill="#111">(Strike, Dip)=(171°, 90° )</text>
<text x="196.7" y="417.4" font-size="6.25" fill="#111">Hypo.= 21.687°, 120.555°, 32.5 km</text>
<text x="196.7" y="427.2" font-size="6.25" fill="#111">Variance = 0.32152</text>
<defs><clipPath id="sm279"><circle cx="279.2" cy="465.7" r="39"/></clipPath></defs>
<circle cx="279.2" cy="465.7" r="39" fill="#fff"/>
<g clip-path="url(#sm279)">
<path d="M236.3 422.8 L255.8 432.6 L255.1 446.2 L252.7 461.8 L253.5 477.4 L257.4 489.1 L263.6 501.6 L236.3 508.6Z" fill="#e0e0e0"/>
<path d="M255.8 432.6 L271.4 427.9 L290.9 428.6 L303.4 437.6 L298.8 442.3 L287.1 444.2 L279.2 449.3 L267.6 448.1 L257.8 454 L255.1 446.2Z" fill="#e0e0e0"/>
<path d="M267.6 457.9 L281.2 455.9 L283.9 465.7 L277.3 468 L267.6 465.7Z" fill="#e0e0e0"/>
<path d="M265.6 493 L289 492.2 L292.9 498.8 L267.6 503.9Z" fill="#e0e0e0"/>
<path d="M290.9 430.6 L308.5 441.5 L312.8 448.1 L301.9 447.8Z" fill="#e0e0e0"/>
</g>
<circle cx="279.2" cy="465.7" r="39" fill="none" stroke="#333" stroke-width=".6"/>
<circle cx="279.2" cy="465.7" r="31.5" fill="none" stroke="#444" stroke-width=".4"/>
<circle cx="279.2" cy="465.7" r="10.5" fill="none" stroke="#555" stroke-width=".35"/>
<path d="M279.2 463.1 L279.9 464.8 L281.7 464.9 L280.3 466 L280.8 467.8 L279.2 466.8 L277.7 467.8 L278.2 466 L276.8 464.9 L278.6 464.8Z" fill="#000" stroke="none" stroke-width=".5"/>
<path d="M264.4 436.4l1.2 2h-2.4z" fill="#000"/>
<text x="265.7" y="438.6" font-size="3" fill="#000">KMBO</text>
<path d="M279.2 437.6l1.2 2h-2.4z" fill="#e00"/>
<text x="280.6" y="439.8" font-size="3" fill="#e00">AKI</text>
<path d="M260.9 439.5l1.2 2h-2.4z" fill="#000"/>
<text x="262.2" y="441.7" font-size="3" fill="#000">PALK</text>
<path d="M266.4 439.5l1.2 2h-2.4z" fill="#000"/>
<text x="267.7" y="441.7" font-size="3" fill="#000">HYB</text>
<path d="M257.8 442.3l1.2 2h-2.4z" fill="#000"/>
<text x="259.1" y="444.5" font-size="3" fill="#000">ANTO</text>
<path d="M263.6 442.3l1.2 2h-2.4z" fill="#000"/>
<text x="264.9" y="444.5" font-size="3" fill="#000">KURK</text>
<path d="M269.9 442.3l1.2 2h-2.4z" fill="#000"/>
<text x="271.2" y="444.5" font-size="3" fill="#000">TATO</text>
<path d="M280.8 446.2l1.2 2h-2.4z" fill="#000"/>
<text x="282.1" y="448.4" font-size="3" fill="#000">YSS</text>
<path d="M283.9 449.3l1.2 2h-2.4z" fill="#000"/>
<text x="285.2" y="451.5" font-size="3" fill="#000">INU</text>
<path d="M258.2 448.5l1.2 2h-2.4z" fill="#000"/>
<text x="259.5" y="450.7" font-size="3" fill="#000">BRVK</text>
<path d="M266.8 448.5l1.2 2h-2.4z" fill="#000"/>
<text x="268.1" y="450.7" font-size="3" fill="#000">LZH</text>
<path d="M271.1 448.5l1.2 2h-2.4z" fill="#000"/>
<text x="272.4" y="450.7" font-size="3" fill="#000">WMQ</text>
<path d="M275 450.5l1.2 2h-2.4z" fill="#000"/>
<text x="276.3" y="452.7" font-size="3" fill="#000">BJT</text>
<path d="M287.1 451.6l1.2 2h-2.4z" fill="#e00"/>
<text x="288.4" y="453.8" font-size="3" fill="#e00">PET</text>
<path d="M262.5 453.6l1.2 2h-2.4z" fill="#e00"/>
<text x="263.8" y="455.8" font-size="3" fill="#e00">KBL</text>
<path d="M270.7 453.6l1.2 2h-2.4z" fill="#000"/>
<text x="272" y="455.8" font-size="3" fill="#000">CHTO</text>
<path d="M275 453.6l1.2 2h-2.4z" fill="#000"/>
<text x="276.3" y="455.8" font-size="3" fill="#000">QIZ</text>
<path d="M284.7 454.8l1.2 2h-2.4z" fill="#000"/>
<text x="286" y="456.9" font-size="3" fill="#000">TIXI</text>
<path d="M257 462.6l1.2 2h-2.4z" fill="#000"/>
<text x="258.3" y="464.8" font-size="3" fill="#000">AAK</text>
<path d="M264.4 463.3l1.2 2h-2.4z" fill="#000"/>
<text x="265.7" y="465.5" font-size="3" fill="#000">NIL</text>
<path d="M249.6 465.7l1.2 2h-2.4z" fill="#000"/>
<text x="250.9" y="467.9" font-size="3" fill="#000">LSA</text>
<path d="M265.2 466.8l1.2 2h-2.4z" fill="#000"/>
<text x="266.5" y="469" font-size="3" fill="#000">GUMO</text>
<path d="M257 469.6l1.2 2h-2.4z" fill="#000"/>
<text x="258.3" y="471.8" font-size="3" fill="#000">MBAR</text>
<path d="M271.1 470.7l1.2 2h-2.4z" fill="#e00"/>
<text x="272.4" y="472.9" font-size="3" fill="#e00">GSI</text>
<path d="M261.3 473.1l1.2 2h-2.4z" fill="#000"/>
<text x="262.6" y="475.3" font-size="3" fill="#000">COCO</text>
<path d="M291.3 468l1.2 2h-2.4z" fill="#000"/>
<text x="292.6" y="470.2" font-size="3" fill="#000">PATS</text>
<path d="M275 474.2l1.2 2h-2.4z" fill="#000"/>
<text x="276.3" y="476.4" font-size="3" fill="#000">SBM</text>
<path d="M289.4 474.2l1.2 2h-2.4z" fill="#000"/>
<text x="290.7" y="476.4" font-size="3" fill="#000">PMG</text>
<path d="M304.2 473.9l1.2 2h-2.4z" fill="#000"/>
<text x="305.5" y="476.1" font-size="3" fill="#000">AFI</text>
<path d="M280.4 478.1l1.2 2h-2.4z" fill="#000"/>
<text x="281.7" y="480.3" font-size="3" fill="#000">MAKZ</text>
<path d="M287.8 478.5l1.2 2h-2.4z" fill="#e00"/>
<text x="289.1" y="480.7" font-size="3" fill="#e00">CTAO</text>
<path d="M277.3 482.8l1.2 2h-2.4z" fill="#000"/>
<text x="278.6" y="485" font-size="3" fill="#000">NWAO</text>
<path d="M287.1 486.7l1.2 2h-2.4z" fill="#000"/>
<text x="288.4" y="488.9" font-size="3" fill="#000">TAU</text>
<path d="M295.6 485.9l1.2 2h-2.4z" fill="#000"/>
<text x="296.9" y="488.1" font-size="3" fill="#000">SNZO</text>
<path d="M289.4 491l1.2 2h-2.4z" fill="#000"/>
<text x="290.7" y="493.2" font-size="3" fill="#000">WCI</text>
<path d="M276.5 494.5l1.2 2h-2.4z" fill="#000"/>
<text x="277.8" y="496.7" font-size="3" fill="#000">CASY</text>
<defs><clipPath id="hB"><rect x="27.2" y="466.4" width="177.6" height="148"/></clipPath><filter id="hBf" x="-5%" y="-5%" width="110%" height="110%"><feGaussianBlur stdDeviation="2.6"/></filter></defs>
<g clip-path="url(#hB)"><g filter="url(#hBf)">
<path fill="#ffffff" d="M22.2 461.4h10.3v5.3h-10.3zM202.2 461.4h15.3v5.3h-15.3zM22.2 466.4h10.3v5.3h-10.3zM202.2 466.4h15.3v5.3h-15.3zM22.2 471.4h10.3v5.3h-10.3zM202.2 471.4h15.3v5.3h-15.3zM22.2 476.4h10.3v5.3h-10.3zM202.2 476.4h15.3v5.3h-15.3zM22.2 481.4h10.3v5.3h-10.3zM202.2 481.4h15.3v5.3h-15.3zM22.2 486.4h10.3v5.3h-10.3zM202.2 486.4h15.3v5.3h-15.3zM22.2 491.4h10.3v5.3h-10.3zM202.2 491.4h15.3v5.3h-15.3zM22.2 496.4h10.3v5.3h-10.3zM202.2 496.4h15.3v5.3h-15.3zM22.2 501.4h10.3v5.3h-10.3zM202.2 501.4h15.3v5.3h-15.3zM22.2 506.4h10.3v5.3h-10.3zM202.2 506.4h15.3v5.3h-15.3zM22.2 511.4h10.3v5.3h-10.3zM202.2 511.4h15.3v5.3h-15.3zM22.2 516.4h10.3v5.3h-10.3zM202.2 516.4h15.3v5.3h-15.3zM22.2 521.4h10.3v5.3h-10.3zM202.2 521.4h15.3v5.3h-15.3zM22.2 526.4h10.3v5.3h-10.3zM202.2 526.4h15.3v5.3h-15.3zM22.2 531.4h10.3v5.3h-10.3zM202.2 531.4h15.3v5.3h-15.3zM22.2 536.4h10.3v5.3h-10.3zM202.2 536.4h15.3v5.3h-15.3zM22.2 541.4h10.3v5.3h-10.3zM202.2 541.4h15.3v5.3h-15.3zM22.2 546.4h10.3v5.3h-10.3zM202.2 546.4h15.3v5.3h-15.3zM22.2 551.4h10.3v5.3h-10.3zM202.2 551.4h15.3v5.3h-15.3zM22.2 556.4h10.3v5.3h-10.3zM202.2 556.4h15.3v5.3h-15.3zM22.2 561.4h10.3v5.3h-10.3zM202.2 561.4h15.3v5.3h-15.3zM22.2 566.4h10.3v5.3h-10.3zM202.2 566.4h15.3v5.3h-15.3zM22.2 571.4h10.3v5.3h-10.3zM202.2 571.4h15.3v5.3h-15.3zM22.2 576.4h10.3v5.3h-10.3zM202.2 576.4h15.3v5.3h-15.3zM22.2 581.4h10.3v5.3h-10.3zM202.2 581.4h15.3v5.3h-15.3zM22.2 586.4h10.3v5.3h-10.3zM202.2 586.4h15.3v5.3h-15.3zM22.2 591.4h10.3v5.3h-10.3zM202.2 591.4h15.3v5.3h-15.3zM22.2 596.4h10.3v5.3h-10.3zM202.2 596.4h15.3v5.3h-15.3zM22.2 601.4h10.3v5.3h-10.3zM202.2 601.4h15.3v5.3h-15.3zM22.2 606.4h10.3v5.3h-10.3zM202.2 606.4h15.3v5.3h-15.3zM22.2 611.4h120.3v5.3h-120.3zM167.2 611.4h50.3v5.3h-50.3zM22.2 616.4h195.3v5.3h-195.3zM22.2 621.4h195.3v5.3h-195.3z"/>
<path fill="#fffffa" d="M32.2 461.4h5.3v5.3h-5.3zM197.2 461.4h5.3v5.3h-5.3zM32.2 466.4h5.3v5.3h-5.3zM197.2 466.4h5.3v5.3h-5.3zM32.2 606.4h5.3v5.3h-5.3zM197.2 606.4h5.3v5.3h-5.3zM142.2 611.4h25.3v5.3h-25.3z"/>
<path fill="#fffff0" d="M37.2 461.4h5.3v5.3h-5.3zM197.2 481.4h5.3v5.3h-5.3zM197.2 486.4h5.3v5.3h-5.3zM197.2 491.4h5.3v5.3h-5.3zM197.2 496.4h5.3v5.3h-5.3zM197.2 501.4h5.3v5.3h-5.3zM197.2 521.4h5.3v5.3h-5.3zM197.2 526.4h5.3v5.3h-5.3zM197.2 531.4h5.3v5.3h-5.3zM197.2 536.4h5.3v5.3h-5.3zM197.2 541.4h5.3v5.3h-5.3zM32.2 556.4h5.3v5.3h-5.3zM32.2 561.4h5.3v5.3h-5.3zM32.2 566.4h5.3v5.3h-5.3zM32.2 571.4h5.3v5.3h-5.3zM32.2 576.4h5.3v5.3h-5.3zM32.2 601.4h5.3v5.3h-5.3z"/>
<path fill="#ffffe0" d="M42.2 461.4h5.3v5.3h-5.3zM192.2 466.4h5.3v5.3h-5.3zM37.2 471.4h5.3v5.3h-5.3z"/>
<path fill="#ffffd1" d="M47.2 461.4h5.3v5.3h-5.3zM192.2 471.4h5.3v5.3h-5.3zM37.2 546.4h5.3v5.3h-5.3zM37.2 551.4h5.3v5.3h-5.3z"/>
<path fill="#ffffcc" d="M52.2 461.4h10.3v5.3h-10.3zM47.2 466.4h5.3v5.3h-5.3zM37.2 556.4h5.3v5.3h-5.3zM47.2 606.4h5.3v5.3h-5.3z"/>
<path fill="#ffffc6" d="M62.2 461.4h5.3v5.3h-5.3zM187.2 461.4h5.3v5.3h-5.3zM52.2 466.4h10.3v5.3h-10.3zM42.2 471.4h5.3v5.3h-5.3zM192.2 476.4h5.3v5.3h-5.3zM192.2 481.4h5.3v5.3h-5.3zM192.2 541.4h5.3v5.3h-5.3zM192.2 546.4h5.3v5.3h-5.3zM192.2 551.4h5.3v5.3h-5.3zM192.2 556.4h5.3v5.3h-5.3zM37.2 561.4h5.3v5.3h-5.3zM192.2 561.4h5.3v5.3h-5.3zM37.2 566.4h5.3v5.3h-5.3zM192.2 566.4h5.3v5.3h-5.3zM37.2 571.4h5.3v5.3h-5.3zM192.2 571.4h5.3v5.3h-5.3zM37.2 576.4h5.3v5.3h-5.3zM192.2 576.4h5.3v5.3h-5.3zM37.2 581.4h5.3v5.3h-5.3zM192.2 581.4h5.3v5.3h-5.3zM37.2 586.4h5.3v5.3h-5.3zM192.2 586.4h5.3v5.3h-5.3zM37.2 591.4h5.3v5.3h-5.3zM192.2 591.4h5.3v5.3h-5.3zM37.2 596.4h5.3v5.3h-5.3zM192.2 596.4h5.3v5.3h-5.3zM37.2 601.4h5.3v5.3h-5.3zM192.2 601.4h5.3v5.3h-5.3zM52.2 606.4h75.3v5.3h-75.3zM182.2 606.4h5.3v5.3h-5.3z"/>
<path fill="#ffffb7" d="M67.2 461.4h5.3v5.3h-5.3zM192.2 496.4h5.3v5.3h-5.3zM192.2 526.4h5.3v5.3h-5.3zM137.2 606.4h5.3v5.3h-5.3zM167.2 606.4h5.3v5.3h-5.3z"/>
<path fill="#ffffa7" d="M72.2 461.4h110.3v5.3h-110.3zM67.2 466.4h5.3v5.3h-5.3zM42.2 526.4h5.3v5.3h-5.3zM152.2 606.4h5.3v5.3h-5.3z"/>
<path fill="#ffffaf" d="M182.2 461.4h5.3v5.3h-5.3zM42.2 476.4h5.3v5.3h-5.3zM42.2 481.4h5.3v5.3h-5.3zM42.2 486.4h5.3v5.3h-5.3zM42.2 491.4h5.3v5.3h-5.3zM42.2 496.4h5.3v5.3h-5.3zM42.2 501.4h5.3v5.3h-5.3zM192.2 501.4h5.3v5.3h-5.3zM42.2 506.4h5.3v5.3h-5.3zM192.2 506.4h5.3v5.3h-5.3zM42.2 511.4h5.3v5.3h-5.3zM192.2 511.4h5.3v5.3h-5.3zM42.2 516.4h5.3v5.3h-5.3zM192.2 516.4h5.3v5.3h-5.3zM42.2 521.4h5.3v5.3h-5.3zM192.2 521.4h5.3v5.3h-5.3zM142.2 606.4h10.3v5.3h-10.3zM157.2 606.4h10.3v5.3h-10.3z"/>
<path fill="#ffffe6" d="M192.2 461.4h5.3v5.3h-5.3z"/>
<path fill="#ffffeb" d="M37.2 466.4h5.3v5.3h-5.3zM197.2 506.4h5.3v5.3h-5.3zM197.2 511.4h5.3v5.3h-5.3zM197.2 516.4h5.3v5.3h-5.3zM32.2 581.4h5.3v5.3h-5.3zM32.2 586.4h5.3v5.3h-5.3zM32.2 591.4h5.3v5.3h-5.3zM32.2 596.4h5.3v5.3h-5.3zM37.2 606.4h5.3v5.3h-5.3zM192.2 606.4h5.3v5.3h-5.3z"/>
<path fill="#ffffdb" d="M42.2 466.4h5.3v5.3h-5.3zM37.2 476.4h5.3v5.3h-5.3zM37.2 481.4h5.3v5.3h-5.3zM37.2 486.4h5.3v5.3h-5.3zM37.2 491.4h5.3v5.3h-5.3zM37.2 496.4h5.3v5.3h-5.3zM37.2 501.4h5.3v5.3h-5.3zM37.2 506.4h5.3v5.3h-5.3zM37.2 511.4h5.3v5.3h-5.3zM37.2 516.4h5.3v5.3h-5.3zM37.2 521.4h5.3v5.3h-5.3zM37.2 526.4h5.3v5.3h-5.3zM37.2 531.4h5.3v5.3h-5.3zM42.2 606.4h5.3v5.3h-5.3z"/>
<path fill="#ffffbe" d="M62.2 466.4h5.3v5.3h-5.3zM187.2 466.4h5.3v5.3h-5.3zM192.2 486.4h5.3v5.3h-5.3zM192.2 491.4h5.3v5.3h-5.3zM192.2 531.4h5.3v5.3h-5.3zM192.2 536.4h5.3v5.3h-5.3zM127.2 606.4h10.3v5.3h-10.3zM172.2 606.4h10.3v5.3h-10.3z"/>
<path fill="#ffff97" d="M72.2 466.4h110.3v5.3h-110.3zM52.2 471.4h10.3v5.3h-10.3zM42.2 536.4h5.3v5.3h-5.3z"/>
<path fill="#ffff9f" d="M182.2 466.4h5.3v5.3h-5.3zM47.2 471.4h5.3v5.3h-5.3zM42.2 531.4h5.3v5.3h-5.3z"/>
<path fill="#fffff5" d="M32.2 471.4h5.3v5.3h-5.3zM197.2 471.4h5.3v5.3h-5.3zM32.2 476.4h5.3v5.3h-5.3zM197.2 476.4h5.3v5.3h-5.3zM32.2 481.4h5.3v5.3h-5.3zM32.2 486.4h5.3v5.3h-5.3zM32.2 491.4h5.3v5.3h-5.3zM32.2 496.4h5.3v5.3h-5.3zM32.2 501.4h5.3v5.3h-5.3zM32.2 506.4h5.3v5.3h-5.3zM32.2 511.4h5.3v5.3h-5.3zM32.2 516.4h5.3v5.3h-5.3zM32.2 521.4h5.3v5.3h-5.3zM32.2 526.4h5.3v5.3h-5.3zM32.2 531.4h5.3v5.3h-5.3zM32.2 536.4h5.3v5.3h-5.3zM32.2 541.4h5.3v5.3h-5.3zM32.2 546.4h5.3v5.3h-5.3zM197.2 546.4h5.3v5.3h-5.3zM32.2 551.4h5.3v5.3h-5.3zM197.2 551.4h5.3v5.3h-5.3zM197.2 556.4h5.3v5.3h-5.3zM197.2 561.4h5.3v5.3h-5.3zM197.2 566.4h5.3v5.3h-5.3zM197.2 571.4h5.3v5.3h-5.3zM197.2 576.4h5.3v5.3h-5.3zM197.2 581.4h5.3v5.3h-5.3zM197.2 586.4h5.3v5.3h-5.3zM197.2 591.4h5.3v5.3h-5.3zM197.2 596.4h5.3v5.3h-5.3zM197.2 601.4h5.3v5.3h-5.3z"/>
<path fill="#ffff77" d="M62.2 471.4h5.3v5.3h-5.3zM52.2 476.4h5.3v5.3h-5.3zM52.2 481.4h5.3v5.3h-5.3zM52.2 486.4h5.3v5.3h-5.3zM42.2 551.4h5.3v5.3h-5.3zM42.2 556.4h5.3v5.3h-5.3zM42.2 561.4h5.3v5.3h-5.3zM42.2 566.4h5.3v5.3h-5.3zM42.2 571.4h5.3v5.3h-5.3zM42.2 576.4h5.3v5.3h-5.3zM42.2 581.4h5.3v5.3h-5.3zM42.2 586.4h5.3v5.3h-5.3zM42.2 591.4h5.3v5.3h-5.3zM42.2 596.4h5.3v5.3h-5.3z"/>
<path fill="#ffff4f" d="M67.2 471.4h5.3v5.3h-5.3zM182.2 471.4h5.3v5.3h-5.3zM57.2 486.4h5.3v5.3h-5.3zM52.2 501.4h5.3v5.3h-5.3zM47.2 526.4h5.3v5.3h-5.3zM187.2 531.4h5.3v5.3h-5.3zM117.2 561.4h5.3v5.3h-5.3z"/>
<path fill="#ffff47" d="M72.2 471.4h25.3v5.3h-25.3zM162.2 471.4h20.3v5.3h-20.3zM187.2 496.4h5.3v5.3h-5.3zM187.2 526.4h5.3v5.3h-5.3zM112.2 556.4h15.3v5.3h-15.3zM112.2 561.4h5.3v5.3h-5.3zM122.2 561.4h5.3v5.3h-5.3z"/>
<path fill="#ffff3f" d="M97.2 471.4h15.3v5.3h-15.3zM147.2 471.4h15.3v5.3h-15.3zM62.2 476.4h5.3v5.3h-5.3zM57.2 491.4h5.3v5.3h-5.3zM187.2 501.4h5.3v5.3h-5.3zM52.2 506.4h5.3v5.3h-5.3zM187.2 521.4h5.3v5.3h-5.3zM47.2 531.4h5.3v5.3h-5.3zM107.2 556.4h5.3v5.3h-5.3zM127.2 556.4h5.3v5.3h-5.3zM107.2 561.4h5.3v5.3h-5.3zM127.2 561.4h5.3v5.3h-5.3zM47.2 601.4h5.3v5.3h-5.3z"/>
<path fill="#ffff38" d="M112.2 471.4h35.3v5.3h-35.3zM187.2 506.4h5.3v5.3h-5.3zM187.2 511.4h5.3v5.3h-5.3zM187.2 516.4h5.3v5.3h-5.3zM47.2 536.4h5.3v5.3h-5.3zM102.2 556.4h5.3v5.3h-5.3zM102.2 561.4h5.3v5.3h-5.3zM132.2 561.4h5.3v5.3h-5.3zM112.2 566.4h15.3v5.3h-15.3zM47.2 571.4h5.3v5.3h-5.3zM47.2 576.4h5.3v5.3h-5.3zM47.2 581.4h5.3v5.3h-5.3zM47.2 586.4h5.3v5.3h-5.3zM47.2 591.4h5.3v5.3h-5.3zM47.2 596.4h5.3v5.3h-5.3z"/>
<path fill="#ffff87" d="M187.2 471.4h5.3v5.3h-5.3zM47.2 476.4h5.3v5.3h-5.3zM47.2 481.4h5.3v5.3h-5.3zM47.2 486.4h5.3v5.3h-5.3zM47.2 491.4h5.3v5.3h-5.3zM47.2 496.4h5.3v5.3h-5.3zM42.2 541.4h5.3v5.3h-5.3z"/>
<path fill="#ffff6f" d="M57.2 476.4h5.3v5.3h-5.3zM52.2 491.4h5.3v5.3h-5.3zM47.2 511.4h5.3v5.3h-5.3zM187.2 601.4h5.3v5.3h-5.3z"/>
<path fill="#ffff20" d="M67.2 476.4h5.3v5.3h-5.3zM182.2 476.4h5.3v5.3h-5.3zM62.2 486.4h5.3v5.3h-5.3zM52.2 516.4h5.3v5.3h-5.3zM182.2 546.4h5.3v5.3h-5.3zM97.2 551.4h20.3v5.3h-20.3zM122.2 551.4h10.3v5.3h-10.3zM182.2 551.4h5.3v5.3h-5.3zM182.2 556.4h5.3v5.3h-5.3zM87.2 561.4h5.3v5.3h-5.3zM182.2 561.4h5.3v5.3h-5.3zM87.2 566.4h10.3v5.3h-10.3zM132.2 566.4h5.3v5.3h-5.3zM182.2 566.4h5.3v5.3h-5.3zM82.2 571.4h25.3v5.3h-25.3zM122.2 571.4h5.3v5.3h-5.3zM182.2 571.4h5.3v5.3h-5.3zM77.2 576.4h45.3v5.3h-45.3zM182.2 576.4h5.3v5.3h-5.3zM52.2 581.4h5.3v5.3h-5.3zM67.2 581.4h50.3v5.3h-50.3zM182.2 581.4h5.3v5.3h-5.3zM52.2 586.4h60.3v5.3h-60.3zM182.2 586.4h5.3v5.3h-5.3zM52.2 591.4h60.3v5.3h-60.3zM182.2 591.4h5.3v5.3h-5.3zM52.2 596.4h65.3v5.3h-65.3zM182.2 596.4h5.3v5.3h-5.3zM127.2 601.4h5.3v5.3h-5.3zM177.2 601.4h5.3v5.3h-5.3z"/>
<path fill="#ffff18" d="M72.2 476.4h10.3v5.3h-10.3zM177.2 476.4h5.3v5.3h-5.3zM67.2 481.4h5.3v5.3h-5.3zM182.2 481.4h5.3v5.3h-5.3zM57.2 501.4h5.3v5.3h-5.3zM52.2 521.4h5.3v5.3h-5.3zM52.2 526.4h5.3v5.3h-5.3zM52.2 531.4h5.3v5.3h-5.3zM182.2 541.4h5.3v5.3h-5.3zM92.2 551.4h5.3v5.3h-5.3zM132.2 551.4h5.3v5.3h-5.3zM177.2 551.4h5.3v5.3h-5.3zM87.2 556.4h5.3v5.3h-5.3zM142.2 556.4h5.3v5.3h-5.3zM177.2 556.4h5.3v5.3h-5.3zM177.2 561.4h5.3v5.3h-5.3zM82.2 566.4h5.3v5.3h-5.3zM52.2 571.4h5.3v5.3h-5.3zM77.2 571.4h5.3v5.3h-5.3zM127.2 571.4h5.3v5.3h-5.3zM52.2 576.4h25.3v5.3h-25.3zM122.2 576.4h5.3v5.3h-5.3zM57.2 581.4h10.3v5.3h-10.3zM117.2 581.4h10.3v5.3h-10.3zM112.2 586.4h15.3v5.3h-15.3zM112.2 591.4h15.3v5.3h-15.3zM117.2 596.4h10.3v5.3h-10.3zM132.2 601.4h5.3v5.3h-5.3zM172.2 601.4h5.3v5.3h-5.3z"/>
<path fill="#ffff10" d="M82.2 476.4h10.3v5.3h-10.3zM167.2 476.4h10.3v5.3h-10.3zM72.2 481.4h10.3v5.3h-10.3zM177.2 481.4h5.3v5.3h-5.3zM67.2 486.4h5.3v5.3h-5.3zM182.2 486.4h5.3v5.3h-5.3zM62.2 491.4h5.3v5.3h-5.3zM52.2 536.4h5.3v5.3h-5.3zM182.2 536.4h5.3v5.3h-5.3zM52.2 541.4h5.3v5.3h-5.3zM172.2 546.4h10.3v5.3h-10.3zM137.2 551.4h5.3v5.3h-5.3zM167.2 551.4h10.3v5.3h-10.3zM167.2 556.4h10.3v5.3h-10.3zM82.2 561.4h5.3v5.3h-5.3zM142.2 561.4h5.3v5.3h-5.3zM172.2 561.4h5.3v5.3h-5.3zM52.2 566.4h5.3v5.3h-5.3zM77.2 566.4h5.3v5.3h-5.3zM137.2 566.4h5.3v5.3h-5.3zM177.2 566.4h5.3v5.3h-5.3zM57.2 571.4h5.3v5.3h-5.3zM72.2 571.4h5.3v5.3h-5.3zM132.2 571.4h5.3v5.3h-5.3zM177.2 571.4h5.3v5.3h-5.3zM127.2 576.4h5.3v5.3h-5.3zM177.2 576.4h5.3v5.3h-5.3zM127.2 581.4h5.3v5.3h-5.3zM177.2 581.4h5.3v5.3h-5.3zM127.2 586.4h5.3v5.3h-5.3zM177.2 586.4h5.3v5.3h-5.3zM127.2 591.4h5.3v5.3h-5.3zM177.2 591.4h5.3v5.3h-5.3zM127.2 596.4h5.3v5.3h-5.3zM177.2 596.4h5.3v5.3h-5.3zM137.2 601.4h5.3v5.3h-5.3zM167.2 601.4h5.3v5.3h-5.3z"/>
<path fill="#ffff08" d="M92.2 476.4h5.3v5.3h-5.3zM157.2 476.4h10.3v5.3h-10.3zM82.2 481.4h5.3v5.3h-5.3zM172.2 481.4h5.3v5.3h-5.3zM72.2 486.4h5.3v5.3h-5.3zM67.2 491.4h5.3v5.3h-5.3zM62.2 496.4h5.3v5.3h-5.3zM57.2 506.4h5.3v5.3h-5.3zM57.2 511.4h5.3v5.3h-5.3zM57.2 516.4h5.3v5.3h-5.3zM57.2 521.4h5.3v5.3h-5.3zM57.2 526.4h5.3v5.3h-5.3zM177.2 541.4h5.3v5.3h-5.3zM52.2 546.4h5.3v5.3h-5.3zM167.2 546.4h5.3v5.3h-5.3zM52.2 551.4h5.3v5.3h-5.3zM87.2 551.4h5.3v5.3h-5.3zM142.2 551.4h5.3v5.3h-5.3zM162.2 551.4h5.3v5.3h-5.3zM52.2 556.4h5.3v5.3h-5.3zM147.2 556.4h5.3v5.3h-5.3zM162.2 556.4h5.3v5.3h-5.3zM52.2 561.4h5.3v5.3h-5.3zM147.2 561.4h5.3v5.3h-5.3zM167.2 561.4h5.3v5.3h-5.3zM172.2 566.4h5.3v5.3h-5.3zM62.2 571.4h10.3v5.3h-10.3zM172.2 571.4h5.3v5.3h-5.3zM132.2 576.4h5.3v5.3h-5.3zM172.2 576.4h5.3v5.3h-5.3zM132.2 581.4h5.3v5.3h-5.3zM132.2 586.4h5.3v5.3h-5.3zM132.2 591.4h5.3v5.3h-5.3zM172.2 591.4h5.3v5.3h-5.3zM132.2 596.4h5.3v5.3h-5.3zM172.2 596.4h5.3v5.3h-5.3zM142.2 601.4h5.3v5.3h-5.3zM162.2 601.4h5.3v5.3h-5.3z"/>
<path fill="#ffff00" d="M97.2 476.4h10.3v5.3h-10.3zM152.2 476.4h5.3v5.3h-5.3zM87.2 481.4h5.3v5.3h-5.3zM167.2 481.4h5.3v5.3h-5.3zM77.2 486.4h5.3v5.3h-5.3zM177.2 486.4h5.3v5.3h-5.3zM182.2 491.4h5.3v5.3h-5.3zM62.2 501.4h5.3v5.3h-5.3zM57.2 531.4h5.3v5.3h-5.3zM182.2 531.4h5.3v5.3h-5.3zM172.2 541.4h5.3v5.3h-5.3zM92.2 546.4h10.3v5.3h-10.3zM162.2 546.4h5.3v5.3h-5.3zM147.2 551.4h15.3v5.3h-15.3zM152.2 556.4h10.3v5.3h-10.3zM152.2 561.4h15.3v5.3h-15.3zM57.2 566.4h5.3v5.3h-5.3zM142.2 566.4h5.3v5.3h-5.3zM167.2 566.4h5.3v5.3h-5.3zM137.2 571.4h5.3v5.3h-5.3zM167.2 571.4h5.3v5.3h-5.3zM172.2 581.4h5.3v5.3h-5.3zM172.2 586.4h5.3v5.3h-5.3zM137.2 596.4h5.3v5.3h-5.3zM167.2 596.4h5.3v5.3h-5.3zM147.2 601.4h5.3v5.3h-5.3zM157.2 601.4h5.3v5.3h-5.3z"/>
<path fill="#fff700" d="M107.2 476.4h5.3v5.3h-5.3zM147.2 476.4h5.3v5.3h-5.3zM72.2 491.4h5.3v5.3h-5.3zM67.2 496.4h5.3v5.3h-5.3zM62.2 506.4h5.3v5.3h-5.3zM62.2 511.4h5.3v5.3h-5.3zM62.2 516.4h5.3v5.3h-5.3zM177.2 536.4h5.3v5.3h-5.3zM167.2 541.4h5.3v5.3h-5.3zM102.2 546.4h10.3v5.3h-10.3zM82.2 556.4h5.3v5.3h-5.3zM72.2 566.4h5.3v5.3h-5.3zM147.2 566.4h5.3v5.3h-5.3zM162.2 566.4h5.3v5.3h-5.3zM142.2 571.4h5.3v5.3h-5.3zM137.2 576.4h5.3v5.3h-5.3zM167.2 576.4h5.3v5.3h-5.3zM137.2 581.4h5.3v5.3h-5.3zM167.2 581.4h5.3v5.3h-5.3zM137.2 586.4h5.3v5.3h-5.3zM167.2 586.4h5.3v5.3h-5.3zM137.2 591.4h5.3v5.3h-5.3zM167.2 591.4h5.3v5.3h-5.3zM152.2 601.4h5.3v5.3h-5.3z"/>
<path fill="#ffef00" d="M112.2 476.4h10.3v5.3h-10.3zM137.2 476.4h10.3v5.3h-10.3zM92.2 481.4h5.3v5.3h-5.3zM162.2 481.4h5.3v5.3h-5.3zM82.2 486.4h5.3v5.3h-5.3zM172.2 486.4h5.3v5.3h-5.3zM182.2 496.4h5.3v5.3h-5.3zM67.2 501.4h5.3v5.3h-5.3zM62.2 521.4h5.3v5.3h-5.3zM182.2 526.4h5.3v5.3h-5.3zM57.2 536.4h5.3v5.3h-5.3zM172.2 536.4h5.3v5.3h-5.3zM112.2 546.4h15.3v5.3h-15.3zM152.2 546.4h10.3v5.3h-10.3zM77.2 561.4h5.3v5.3h-5.3zM62.2 566.4h10.3v5.3h-10.3zM152.2 566.4h10.3v5.3h-10.3zM162.2 571.4h5.3v5.3h-5.3zM142.2 596.4h5.3v5.3h-5.3zM162.2 596.4h5.3v5.3h-5.3z"/>
<path fill="#ffe800" d="M122.2 476.4h15.3v5.3h-15.3zM97.2 481.4h5.3v5.3h-5.3zM157.2 481.4h5.3v5.3h-5.3zM77.2 491.4h5.3v5.3h-5.3zM177.2 491.4h5.3v5.3h-5.3zM72.2 496.4h5.3v5.3h-5.3zM67.2 506.4h5.3v5.3h-5.3zM177.2 531.4h5.3v5.3h-5.3zM162.2 541.4h5.3v5.3h-5.3zM127.2 546.4h25.3v5.3h-25.3zM57.2 561.4h5.3v5.3h-5.3zM147.2 571.4h5.3v5.3h-5.3zM157.2 571.4h5.3v5.3h-5.3zM142.2 576.4h5.3v5.3h-5.3zM162.2 576.4h5.3v5.3h-5.3zM142.2 581.4h5.3v5.3h-5.3zM162.2 581.4h5.3v5.3h-5.3zM142.2 586.4h5.3v5.3h-5.3zM162.2 586.4h5.3v5.3h-5.3zM142.2 591.4h5.3v5.3h-5.3zM162.2 591.4h5.3v5.3h-5.3zM147.2 596.4h5.3v5.3h-5.3zM157.2 596.4h5.3v5.3h-5.3z"/>
<path fill="#ffff67" d="M187.2 476.4h5.3v5.3h-5.3zM47.2 516.4h5.3v5.3h-5.3zM187.2 546.4h5.3v5.3h-5.3zM187.2 551.4h5.3v5.3h-5.3zM187.2 556.4h5.3v5.3h-5.3zM187.2 561.4h5.3v5.3h-5.3zM187.2 566.4h5.3v5.3h-5.3zM187.2 571.4h5.3v5.3h-5.3zM187.2 576.4h5.3v5.3h-5.3zM187.2 581.4h5.3v5.3h-5.3zM187.2 586.4h5.3v5.3h-5.3zM187.2 591.4h5.3v5.3h-5.3zM187.2 596.4h5.3v5.3h-5.3z"/>
<path fill="#ffff5f" d="M57.2 481.4h5.3v5.3h-5.3zM187.2 481.4h5.3v5.3h-5.3zM187.2 486.4h5.3v5.3h-5.3zM52.2 496.4h5.3v5.3h-5.3zM187.2 536.4h5.3v5.3h-5.3zM187.2 541.4h5.3v5.3h-5.3z"/>
<path fill="#ffff30" d="M62.2 481.4h5.3v5.3h-5.3zM52.2 511.4h5.3v5.3h-5.3zM47.2 541.4h5.3v5.3h-5.3zM47.2 546.4h5.3v5.3h-5.3zM47.2 551.4h5.3v5.3h-5.3zM47.2 556.4h5.3v5.3h-5.3zM97.2 556.4h5.3v5.3h-5.3zM132.2 556.4h5.3v5.3h-5.3zM47.2 561.4h5.3v5.3h-5.3zM97.2 561.4h5.3v5.3h-5.3zM47.2 566.4h5.3v5.3h-5.3zM102.2 566.4h10.3v5.3h-10.3zM127.2 566.4h5.3v5.3h-5.3zM182.2 601.4h5.3v5.3h-5.3z"/>
<path fill="#ffe000" d="M102.2 481.4h5.3v5.3h-5.3zM152.2 481.4h5.3v5.3h-5.3zM87.2 486.4h5.3v5.3h-5.3zM167.2 486.4h5.3v5.3h-5.3zM182.2 501.4h5.3v5.3h-5.3zM67.2 511.4h5.3v5.3h-5.3zM182.2 521.4h5.3v5.3h-5.3zM62.2 526.4h5.3v5.3h-5.3zM57.2 541.4h5.3v5.3h-5.3zM92.2 541.4h10.3v5.3h-10.3zM87.2 546.4h5.3v5.3h-5.3zM152.2 571.4h5.3v5.3h-5.3zM147.2 576.4h5.3v5.3h-5.3zM157.2 576.4h5.3v5.3h-5.3zM147.2 591.4h5.3v5.3h-5.3zM157.2 591.4h5.3v5.3h-5.3zM152.2 596.4h5.3v5.3h-5.3z"/>
<path fill="#ffd000" d="M107.2 481.4h5.3v5.3h-5.3zM147.2 481.4h5.3v5.3h-5.3zM92.2 486.4h5.3v5.3h-5.3zM162.2 486.4h5.3v5.3h-5.3zM172.2 491.4h5.3v5.3h-5.3zM177.2 496.4h5.3v5.3h-5.3zM72.2 506.4h5.3v5.3h-5.3zM182.2 506.4h5.3v5.3h-5.3zM182.2 511.4h5.3v5.3h-5.3zM177.2 526.4h5.3v5.3h-5.3zM172.2 531.4h5.3v5.3h-5.3zM102.2 541.4h5.3v5.3h-5.3zM152.2 541.4h5.3v5.3h-5.3zM57.2 546.4h5.3v5.3h-5.3zM57.2 551.4h5.3v5.3h-5.3zM82.2 551.4h5.3v5.3h-5.3zM72.2 561.4h5.3v5.3h-5.3z"/>
<path fill="#ffc900" d="M112.2 481.4h5.3v5.3h-5.3zM142.2 481.4h5.3v5.3h-5.3zM67.2 521.4h5.3v5.3h-5.3zM62.2 531.4h5.3v5.3h-5.3zM162.2 536.4h5.3v5.3h-5.3zM107.2 541.4h5.3v5.3h-5.3zM77.2 556.4h5.3v5.3h-5.3zM62.2 561.4h5.3v5.3h-5.3z"/>
<path fill="#ffc100" d="M117.2 481.4h25.3v5.3h-25.3zM97.2 486.4h5.3v5.3h-5.3zM157.2 486.4h5.3v5.3h-5.3zM87.2 491.4h5.3v5.3h-5.3zM82.2 496.4h5.3v5.3h-5.3zM77.2 501.4h5.3v5.3h-5.3zM72.2 511.4h5.3v5.3h-5.3zM177.2 521.4h5.3v5.3h-5.3zM167.2 531.4h5.3v5.3h-5.3zM112.2 541.4h5.3v5.3h-5.3zM147.2 541.4h5.3v5.3h-5.3zM67.2 561.4h5.3v5.3h-5.3z"/>
<path fill="#ffb100" d="M102.2 486.4h5.3v5.3h-5.3zM92.2 491.4h5.3v5.3h-5.3zM172.2 496.4h5.3v5.3h-5.3zM177.2 501.4h5.3v5.3h-5.3zM77.2 506.4h5.3v5.3h-5.3zM72.2 516.4h5.3v5.3h-5.3zM177.2 516.4h5.3v5.3h-5.3zM92.2 536.4h5.3v5.3h-5.3zM127.2 541.4h10.3v5.3h-10.3z"/>
<path fill="#ffa200" d="M107.2 486.4h5.3v5.3h-5.3zM162.2 491.4h5.3v5.3h-5.3zM87.2 496.4h5.3v5.3h-5.3zM177.2 506.4h5.3v5.3h-5.3zM77.2 511.4h5.3v5.3h-5.3zM177.2 511.4h5.3v5.3h-5.3zM172.2 521.4h5.3v5.3h-5.3zM67.2 526.4h5.3v5.3h-5.3zM167.2 526.4h5.3v5.3h-5.3zM82.2 546.4h5.3v5.3h-5.3z"/>
<path fill="#ff9a00" d="M112.2 486.4h5.3v5.3h-5.3zM147.2 486.4h5.3v5.3h-5.3zM97.2 491.4h5.3v5.3h-5.3zM107.2 536.4h5.3v5.3h-5.3zM147.2 536.4h5.3v5.3h-5.3zM72.2 556.4h5.3v5.3h-5.3z"/>
<path fill="#fe8800" d="M117.2 486.4h10.3v5.3h-10.3zM137.2 486.4h5.3v5.3h-5.3zM92.2 496.4h5.3v5.3h-5.3zM167.2 496.4h5.3v5.3h-5.3zM87.2 501.4h5.3v5.3h-5.3zM172.2 501.4h5.3v5.3h-5.3zM77.2 516.4h5.3v5.3h-5.3zM172.2 516.4h5.3v5.3h-5.3zM92.2 531.4h10.3v5.3h-10.3zM117.2 536.4h5.3v5.3h-5.3zM137.2 536.4h5.3v5.3h-5.3zM62.2 546.4h5.3v5.3h-5.3z"/>
<path fill="#fe7e00" d="M127.2 486.4h10.3v5.3h-10.3zM102.2 491.4h5.3v5.3h-5.3zM157.2 491.4h5.3v5.3h-5.3zM82.2 511.4h5.3v5.3h-5.3zM162.2 526.4h5.3v5.3h-5.3zM67.2 531.4h5.3v5.3h-5.3zM102.2 531.4h5.3v5.3h-5.3zM152.2 531.4h5.3v5.3h-5.3zM122.2 536.4h15.3v5.3h-15.3z"/>
<path fill="#ff9100" d="M142.2 486.4h5.3v5.3h-5.3zM82.2 506.4h5.3v5.3h-5.3zM72.2 521.4h5.3v5.3h-5.3zM157.2 531.4h5.3v5.3h-5.3zM87.2 536.4h5.3v5.3h-5.3zM112.2 536.4h5.3v5.3h-5.3zM142.2 536.4h5.3v5.3h-5.3zM62.2 541.4h5.3v5.3h-5.3zM62.2 551.4h5.3v5.3h-5.3zM77.2 551.4h5.3v5.3h-5.3zM67.2 556.4h5.3v5.3h-5.3z"/>
<path fill="#ffa900" d="M152.2 486.4h5.3v5.3h-5.3zM82.2 501.4h5.3v5.3h-5.3zM162.2 531.4h5.3v5.3h-5.3zM62.2 536.4h5.3v5.3h-5.3zM102.2 536.4h5.3v5.3h-5.3zM152.2 536.4h5.3v5.3h-5.3zM62.2 556.4h5.3v5.3h-5.3z"/>
<path fill="#ffd800" d="M82.2 491.4h5.3v5.3h-5.3zM77.2 496.4h5.3v5.3h-5.3zM72.2 501.4h5.3v5.3h-5.3zM67.2 516.4h5.3v5.3h-5.3zM182.2 516.4h5.3v5.3h-5.3zM167.2 536.4h5.3v5.3h-5.3zM157.2 541.4h5.3v5.3h-5.3zM57.2 556.4h5.3v5.3h-5.3zM152.2 576.4h5.3v5.3h-5.3zM147.2 581.4h15.3v5.3h-15.3zM147.2 586.4h15.3v5.3h-15.3zM152.2 591.4h5.3v5.3h-5.3z"/>
<path fill="#fd6b00" d="M107.2 491.4h5.3v5.3h-5.3zM97.2 496.4h5.3v5.3h-5.3zM92.2 526.4h5.3v5.3h-5.3zM107.2 531.4h5.3v5.3h-5.3z"/>
<path fill="#fc4e00" d="M112.2 491.4h5.3v5.3h-5.3zM102.2 496.4h5.3v5.3h-5.3zM92.2 506.4h5.3v5.3h-5.3zM87.2 516.4h5.3v5.3h-5.3zM87.2 521.4h10.3v5.3h-10.3zM162.2 521.4h5.3v5.3h-5.3zM87.2 526.4h5.3v5.3h-5.3zM102.2 526.4h5.3v5.3h-5.3zM117.2 531.4h5.3v5.3h-5.3zM137.2 531.4h5.3v5.3h-5.3zM82.2 536.4h5.3v5.3h-5.3zM67.2 541.4h5.3v5.3h-5.3zM67.2 546.4h5.3v5.3h-5.3z"/>
<path fill="#fb3b00" d="M117.2 491.4h5.3v5.3h-5.3zM167.2 506.4h5.3v5.3h-5.3zM167.2 511.4h5.3v5.3h-5.3zM107.2 526.4h5.3v5.3h-5.3zM72.2 531.4h5.3v5.3h-5.3zM72.2 541.4h10.3v5.3h-10.3z"/>
<path fill="#fb3100" d="M122.2 491.4h5.3v5.3h-5.3zM142.2 491.4h5.3v5.3h-5.3zM157.2 496.4h5.3v5.3h-5.3zM97.2 516.4h5.3v5.3h-5.3zM102.2 521.4h5.3v5.3h-5.3zM77.2 526.4h10.3v5.3h-10.3zM147.2 526.4h5.3v5.3h-5.3zM82.2 531.4h5.3v5.3h-5.3zM72.2 536.4h5.3v5.3h-5.3z"/>
<path fill="#fb2700" d="M127.2 491.4h15.3v5.3h-15.3zM107.2 496.4h5.3v5.3h-5.3zM162.2 501.4h5.3v5.3h-5.3zM97.2 506.4h5.3v5.3h-5.3zM97.2 511.4h5.3v5.3h-5.3zM162.2 516.4h5.3v5.3h-5.3zM157.2 521.4h5.3v5.3h-5.3zM112.2 526.4h5.3v5.3h-5.3zM77.2 531.4h5.3v5.3h-5.3zM77.2 536.4h5.3v5.3h-5.3z"/>
<path fill="#fc4400" d="M147.2 491.4h5.3v5.3h-5.3zM97.2 501.4h5.3v5.3h-5.3zM92.2 511.4h5.3v5.3h-5.3zM92.2 516.4h5.3v5.3h-5.3zM82.2 521.4h5.3v5.3h-5.3zM97.2 521.4h5.3v5.3h-5.3zM152.2 526.4h5.3v5.3h-5.3zM122.2 531.4h15.3v5.3h-15.3zM72.2 546.4h5.3v5.3h-5.3z"/>
<path fill="#fd6100" d="M152.2 491.4h5.3v5.3h-5.3zM92.2 501.4h5.3v5.3h-5.3zM87.2 511.4h5.3v5.3h-5.3zM82.2 516.4h5.3v5.3h-5.3zM72.2 526.4h5.3v5.3h-5.3zM97.2 526.4h5.3v5.3h-5.3zM157.2 526.4h5.3v5.3h-5.3zM87.2 531.4h5.3v5.3h-5.3zM147.2 531.4h5.3v5.3h-5.3zM77.2 546.4h5.3v5.3h-5.3zM67.2 551.4h10.3v5.3h-10.3z"/>
<path fill="#ffb900" d="M167.2 491.4h5.3v5.3h-5.3zM172.2 526.4h5.3v5.3h-5.3zM97.2 536.4h5.3v5.3h-5.3zM157.2 536.4h5.3v5.3h-5.3zM87.2 541.4h5.3v5.3h-5.3zM117.2 541.4h10.3v5.3h-10.3zM137.2 541.4h10.3v5.3h-10.3z"/>
<path fill="#ffff57" d="M187.2 491.4h5.3v5.3h-5.3zM47.2 521.4h5.3v5.3h-5.3z"/>
<path fill="#ffff28" d="M57.2 496.4h5.3v5.3h-5.3zM117.2 551.4h5.3v5.3h-5.3zM92.2 556.4h5.3v5.3h-5.3zM137.2 556.4h5.3v5.3h-5.3zM92.2 561.4h5.3v5.3h-5.3zM137.2 561.4h5.3v5.3h-5.3zM97.2 566.4h5.3v5.3h-5.3zM107.2 571.4h15.3v5.3h-15.3zM52.2 601.4h75.3v5.3h-75.3z"/>
<path fill="#fa1400" d="M112.2 496.4h5.3v5.3h-5.3zM102.2 516.4h5.3v5.3h-5.3zM107.2 521.4h5.3v5.3h-5.3zM122.2 526.4h20.3v5.3h-20.3z"/>
<path fill="#e30f00" d="M117.2 496.4h5.3v5.3h-5.3zM157.2 501.4h5.3v5.3h-5.3zM107.2 516.4h5.3v5.3h-5.3zM157.2 516.4h5.3v5.3h-5.3zM117.2 521.4h5.3v5.3h-5.3zM147.2 521.4h5.3v5.3h-5.3z"/>
<path fill="#d40b00" d="M122.2 496.4h5.3v5.3h-5.3zM107.2 506.4h5.3v5.3h-5.3zM107.2 511.4h5.3v5.3h-5.3zM112.2 516.4h5.3v5.3h-5.3zM127.2 521.4h5.3v5.3h-5.3zM142.2 521.4h5.3v5.3h-5.3z"/>
<path fill="#cc0a00" d="M127.2 496.4h5.3v5.3h-5.3zM142.2 496.4h5.3v5.3h-5.3zM112.2 501.4h5.3v5.3h-5.3zM157.2 506.4h5.3v5.3h-5.3zM157.2 511.4h5.3v5.3h-5.3zM152.2 516.4h5.3v5.3h-5.3zM132.2 521.4h10.3v5.3h-10.3z"/>
<path fill="#c40800" d="M132.2 496.4h10.3v5.3h-10.3zM152.2 501.4h5.3v5.3h-5.3zM112.2 511.4h5.3v5.3h-5.3zM117.2 516.4h5.3v5.3h-5.3z"/>
<path fill="#db0d00" d="M147.2 496.4h5.3v5.3h-5.3zM122.2 521.4h5.3v5.3h-5.3z"/>
<path fill="#f21200" d="M152.2 496.4h5.3v5.3h-5.3zM102.2 506.4h5.3v5.3h-5.3zM162.2 506.4h5.3v5.3h-5.3zM102.2 511.4h5.3v5.3h-5.3zM162.2 511.4h5.3v5.3h-5.3zM152.2 521.4h5.3v5.3h-5.3z"/>
<path fill="#fd5700" d="M162.2 496.4h5.3v5.3h-5.3zM167.2 501.4h5.3v5.3h-5.3zM167.2 516.4h5.3v5.3h-5.3zM77.2 521.4h5.3v5.3h-5.3zM112.2 531.4h5.3v5.3h-5.3zM142.2 531.4h5.3v5.3h-5.3zM67.2 536.4h5.3v5.3h-5.3z"/>
<path fill="#ffff7f" d="M47.2 501.4h5.3v5.3h-5.3zM47.2 506.4h5.3v5.3h-5.3zM42.2 546.4h5.3v5.3h-5.3zM42.2 601.4h5.3v5.3h-5.3z"/>
<path fill="#fa1e00" d="M102.2 501.4h5.3v5.3h-5.3zM117.2 526.4h5.3v5.3h-5.3zM142.2 526.4h5.3v5.3h-5.3z"/>
<path fill="#eb1100" d="M107.2 501.4h5.3v5.3h-5.3zM112.2 521.4h5.3v5.3h-5.3z"/>
<path fill="#bc0600" d="M117.2 501.4h5.3v5.3h-5.3zM112.2 506.4h5.3v5.3h-5.3z"/>
<path fill="#ad0300" d="M122.2 501.4h5.3v5.3h-5.3zM147.2 501.4h5.3v5.3h-5.3zM117.2 506.4h5.3v5.3h-5.3zM152.2 506.4h5.3v5.3h-5.3zM117.2 511.4h5.3v5.3h-5.3zM152.2 511.4h5.3v5.3h-5.3zM127.2 516.4h5.3v5.3h-5.3zM142.2 516.4h5.3v5.3h-5.3z"/>
<path fill="#9d0000" d="M127.2 501.4h15.3v5.3h-15.3zM122.2 506.4h5.3v5.3h-5.3zM147.2 506.4h5.3v5.3h-5.3zM122.2 511.4h5.3v5.3h-5.3zM147.2 511.4h5.3v5.3h-5.3z"/>
<path fill="#a50100" d="M142.2 501.4h5.3v5.3h-5.3zM132.2 516.4h10.3v5.3h-10.3z"/>
<path fill="#fe7400" d="M87.2 506.4h5.3v5.3h-5.3zM172.2 506.4h5.3v5.3h-5.3zM172.2 511.4h5.3v5.3h-5.3zM167.2 521.4h5.3v5.3h-5.3zM82.2 541.4h5.3v5.3h-5.3z"/>
<path fill="#890000" d="M127.2 506.4h15.3v5.3h-15.3zM132.2 511.4h10.3v5.3h-10.3z"/>
<path fill="#930000" d="M142.2 506.4h5.3v5.3h-5.3zM127.2 511.4h5.3v5.3h-5.3zM142.2 511.4h5.3v5.3h-5.3z"/>
<path fill="#b50500" d="M122.2 516.4h5.3v5.3h-5.3zM147.2 516.4h5.3v5.3h-5.3z"/>
<path fill="#ffffd6" d="M37.2 536.4h5.3v5.3h-5.3zM37.2 541.4h5.3v5.3h-5.3zM187.2 606.4h5.3v5.3h-5.3z"/>
</g>
<path d="M69.7 470.4 67.2 471.4 64.7 472.4 62.2 473.5 60.8 473.9 59.7 474.3 57.2 474.5 54.7 474.5 52.2 474.8 49.7 476.1 49.4 476.4 48.5 478.9 48.5 481.4 48.5 483.9 48.5 486.4 48.5 488.9 48.4 491.4 48.4 493.9 48.4 496.4 48.3 498.9 48.2 501.4 48.2 503.9 48.1 506.4 47.9 508.9 47.8 511.4 47.6 513.9 47.4 516.4 47.2 518.6 47.2 518.9 46.9 521.4 46.6 523.9 46.3 526.4 46 528.9 45.8 531.4 45.5 533.9 45.2 536.4 45 538.9 44.7 541.4 44.7 541.6 44.5 543.9 44.2 546.4 44 548.9 43.8 551.4 43.6 553.9 43.5 556.4 43.4 558.9 43.3 561.4 43.2 563.9 43.2 566.4 43.2 568.9 43.2 571.4 43.2 573.9 43.2 576.4 43.2 578.9 43.2 581.4 43.2 583.9 43.2 586.4 43.2 588.9 43.2 591.4 43.2 593.9 43.2 596.4 43.2 598.9 43.2 601.4 43.7 603.9 44.7 604.7 47.2 606.1 47.9 606.4 49.7 606.9 52.2 607.2 54.7 607.3 57.2 607.3 59.7 607.3 62.2 607.3 64.7 607.3 67.2 607.3 69.7 607.3 72.2 607.3 74.7 607.3 77.2 607.3 79.7 607.3 82.2 607.3 84.7 607.3 87.2 607.3 89.7 607.3 92.2 607.3 94.7 607.3 97.2 607.3 99.7 607.3 102.2 607.3 104.7 607.3 107.2 607.3 109.7 607.3 112.2 607.3 114.7 607.3 117.2 607.3 119.7 607.3 122.2 607.4 124.7 607.4 127.2 607.4 129.7 607.5 132.2 607.5 134.7 607.6 137.2 607.7 139.7 607.8 142.2 607.9 144.7 608 147.2 608.1 149.7 608.2 152.2 608.2 154.7 608.2 157.2 608.2 159.7 608.2 162.2 608.1 164.7 608 167.2 607.9 169.7 607.8 172.2 607.7 174.7 607.6 177.2 607.6 179.7 607.5 182.2 607.4 184.7 607.3 187.2 606.7 188.1 606.4 189.7 605.5 191.4 603.9 191.8 601.4 191.8 598.9 191.8 596.4 191.8 593.9 191.9 591.4 191.9 588.9 191.9 586.4 191.9 583.9 191.9 581.4 191.8 578.9 191.8 576.4 191.8 573.9 191.8 571.4 191.8 568.9 191.8 566.4 191.8 563.9 191.8 561.4 191.8 558.9 191.8 556.4 191.8 553.9 191.8 551.4 191.9 548.9 191.9 546.4 192 543.9 192.1 541.4 192.2 539.5 192.2 538.9 192.4 536.4 192.5 533.9 192.7 531.4 192.9 528.9 193 526.4 193.2 523.9 193.3 521.4 193.4 518.9 193.5 516.4 193.5 513.9 193.5 511.4 193.4 508.9 193.3 506.4 193.2 503.9 193 501.4 192.8 498.9 192.6 496.4 192.5 493.9 192.3 491.4 192.2 489.7 192.2 488.9 192 486.4 191.9 483.9 191.9 481.4 191.8 478.9 191.5 476.4 190.1 473.9 189.7 473.4 187.5 471.4 187.2 471.2 184.7 469.9 182.2 469.6 179.7 469.6 177.2 469.6 174.7 469.6 172.2 469.6 169.7 469.5 167.2 469.5 164.7 469.5 162.2 469.5 159.7 469.4 157.2 469.4 154.7 469.4 152.2 469.3 149.7 469.3 147.2 469.3 144.7 469.3 142.2 469.2 139.7 469.2 137.2 469.2 134.7 469.2 132.2 469.2 129.7 469.2 127.2 469.2 124.7 469.2 122.2 469.2 119.7 469.2 117.2 469.2 114.7 469.2 112.2 469.3 109.7 469.3 107.2 469.3 104.7 469.4 102.2 469.4 99.7 469.4 97.2 469.4 94.7 469.5 92.2 469.5 89.7 469.5 87.2 469.5 84.7 469.6 82.2 469.6 79.7 469.6 77.2 469.6 74.7 469.6 72.2 469.8 69.7 470.4M67.2 471.4 67.2 471.4M87.2 473.9 85.9 473.9 84.7 473.9 82.2 474 79.7 474 77.2 474 74.7 474.1 72.2 474.1 69.7 474.6 67.2 475.7 66.1 476.4 64.7 478.2 64.2 478.9 63.3 481.4 62.5 483.9 62.2 484.7 61.6 486.4 60.7 488.9 59.8 491.4 59.7 491.6 58.8 493.9 57.9 496.4 57.2 498.5 57.1 498.9 56.2 501.4 55.3 503.9 54.7 505.9 54.5 506.4 53.8 508.9 53.2 511.4 52.6 513.9 52.2 515.4 52 516.4 51.5 518.9 51.1 521.4 50.7 523.9 50.4 526.4 50 528.9 49.7 530.6 49.6 531.4 49.3 533.9 49 536.4 48.8 538.9 48.6 541.4 48.4 543.9 48.2 546.4 48.1 548.9 48 551.4 48 553.9 48 556.4 48 558.9 48 561.4 48 563.9 48 566.4 48.1 568.9 48.1 571.4 48.1 573.9 48.1 576.4 48.1 578.9 48.1 581.4 48.2 583.9 48.2 586.4 48.2 588.9 48.2 591.4 48.2 593.9 48.2 596.4 48.2 598.9 48.2 601.4 49.2 603.9 49.7 604.1 52.2 604.8 54.7 604.9 57.2 604.9 59.7 604.9 62.2 604.9 64.7 604.9 67.2 604.9 69.7 604.9 72.2 604.9 74.7 604.9 77.2 604.9 79.7 604.9 82.2 604.9 84.7 604.9 87.2 604.9 89.7 604.9 92.2 604.9 94.7 604.9 97.2 604.9 99.7 604.9 102.2 604.9 104.7 604.9 107.2 604.9 109.7 604.9 112.2 605 114.7 605 117.2 605 119.7 605 122.2 605 124.7 605.1 127.2 605.1 129.7 605.2 132.2 605.3 134.7 605.4 137.2 605.6 139.7 605.7 142.2 605.9 144.7 606 147.2 606.2 149.7 606.3 152.2 606.3 154.7 606.4 157.2 606.3 159.7 606.3 162.2 606.2 164.7 606.1 167.2 605.9 169.7 605.8 172.2 605.6 174.7 605.5 177.2 605.3 179.7 605.2 182.2 605.1 184.7 604.9 187.1 603.9 187.2 603.7 187.9 601.4 187.9 598.9 187.9 596.4 187.9 593.9 187.9 591.4 187.9 588.9 188 586.4 188 583.9 187.9 581.4 187.9 578.9 187.9 576.4 187.9 573.9 187.9 571.4 187.9 568.9 187.9 566.4 187.8 563.9 187.8 561.4 187.8 558.9 187.8 556.4 187.8 553.9 187.9 551.4 188 548.9 188.1 546.4 188.2 543.9 188.4 541.4 188.6 538.9 188.8 536.4 189.1 533.9 189.4 531.4 189.6 528.9 189.7 528.1 189.8 526.4 190 523.9 190.2 521.4 190.3 518.9 190.4 516.4 190.5 513.9 190.5 511.4 190.4 508.9 190.3 506.4 190.1 503.9 189.9 501.4 189.7 499.8 189.6 498.9 189.3 496.4 189 493.9 188.7 491.4 188.5 488.9 188.3 486.4 188.1 483.9 188 481.4 187.9 478.9 187.2 476.4 184.7 474.5 182.2 474.1 179.7 474 177.2 474 174.7 473.9 172.3 473.9 172.2 473.9 169.7 473.9 167.2 473.8 164.7 473.7 162.2 473.7 159.7 473.6 157.2 473.6 154.7 473.5 152.2 473.4 149.7 473.4 147.2 473.3 144.7 473.3 142.2 473.2 139.7 473.2 137.2 473.1 134.7 473.1 132.2 473.1 129.7 473.1 127.2 473.1 124.7 473.1 122.2 473.1 119.7 473.2 117.2 473.2 114.7 473.2 112.2 473.3 109.7 473.3 107.2 473.4 104.7 473.5 102.2 473.5 99.7 473.6 97.2 473.7 94.7 473.7 92.2 473.8 89.7 473.8 87.2 473.9M187.2 476.4 187.2 476.4M119.7 558.7 117.6 558.9 117.2 559 114.7 559.9 112.2 561.4 113.5 563.9 114.7 564.4 117.2 565.1 119.7 565.4 122.2 565.3 124.7 564.8 127.2 563.9 127.2 563.9 128.4 561.4 127.2 560.5 124.7 559.3 123.3 558.9 122.2 558.8 119.7 558.7M102.2 478.9 102 478.9 99.7 479.5 97.2 480.2 94.7 481.1 93.9 481.4 92.2 482 89.7 483 87.9 483.9 87.2 484.2 84.7 485.4 82.9 486.4 82.2 486.8 79.7 488.3 78.9 488.9 77.2 490 75.4 491.4 74.7 492 72.5 493.9 72.2 494.2 70.1 496.4 69.7 496.9 68 498.9 67.2 500.1 66.3 501.4 65 503.9 64.7 504.5 63.9 506.4 63.1 508.9 62.6 511.4 62.4 513.9 62.3 516.4 62.4 518.9 62.4 521.4 62.2 523.9 62.2 524.1 61.8 526.4 61.1 528.9 60.4 531.4 59.7 533.9 59.7 534.1 58.8 536.4 58 538.9 57.4 541.4 57.2 542.1 56.6 543.9 56 546.4 55.6 548.9 55.3 551.4 55.2 553.9 55.2 556.4 55.4 558.9 55.8 561.4 56.6 563.9 57.2 565.3 57.8 566.4 59.6 568.9 59.7 569 62.2 570.9 63.6 571.4 64.7 571.8 67.2 572.1 69.7 571.8 70.7 571.4 72.2 571 74.7 569.8 75.9 568.9 77.2 568.1 79.1 566.4 79.7 565.9 81.6 563.9 82.2 563.2 83.7 561.4 84.7 560 85.5 558.9 87.2 556.4 89.2 553.9 89.7 553.2 91.5 551.4 92.2 550.6 94.7 549.1 96 548.9 97.2 548.7 99.7 548.9 100.1 548.9 102.2 549.2 104.7 549.5 107.2 549.7 109.7 549.9 112.2 550 114.7 550.2 117.2 550.3 119.7 550.4 122.2 550.5 124.7 550.7 127.2 550.8 129.7 551 132.2 551.2 133.8 551.4 134.7 551.5 137.2 551.8 139.7 552.2 142.2 552.6 144.7 553 147.2 553.5 149.7 553.9 149.8 553.9 152.2 554.4 154.7 554.7 157.2 554.4 158.2 553.9 159.7 553.4 162.2 552 163 551.4 164.7 550.4 166.9 548.9 167.2 548.7 169.7 547.2 170.8 546.4 172.2 545.6 174.6 543.9 174.7 543.9 177.2 542.2 178.3 541.4 179.7 540.4 181.7 538.9 182.2 538.5 183.4 536.4 184.7 533.9 184.7 533.8 185.2 531.4 185.7 528.9 186.2 526.4 186.6 523.9 186.9 521.4 187.2 518.9 187.2 518.4 187.3 516.4 187.4 513.9 187.4 511.4 187.3 508.9 187.2 507.7 187.1 506.4 186.7 503.9 186.3 501.4 185.7 498.9 185.2 496.4 184.7 494.6 184.3 493.9 182.8 491.4 182.2 490.4 179.9 488.9 179.7 488.8 177.2 487.2 175.7 486.4 174.7 485.8 172.2 484.5 170.7 483.9 169.7 483.4 167.2 482.3 164.7 481.5 164.5 481.4 162.2 480.5 159.7 479.7 157.2 479.1 156.4 478.9 154.7 478.7 152.2 478.4 149.7 478.1 147.2 477.8 144.7 477.6 142.2 477.4 139.7 477.3 137.2 477.2 134.7 477.1 132.2 477 129.7 477 127.2 477 124.7 477.1 122.2 477.1 119.7 477.2 117.2 477.4 114.7 477.5 112.2 477.7 109.7 478 107.2 478.2 104.7 478.5 102.2 478.9M87.2 556.4 87.2 556.4M154.7 562.3 152.4 563.9 152.2 564 149.7 565.8 149.1 566.4 147.2 567.8 146 568.9 144.7 570 143.2 571.4 142.2 572.4 140.8 573.9 139.7 575.4 139 576.4 137.8 578.9 137.2 580.9 137 581.4 136.6 583.9 136.5 586.4 136.6 588.9 136.9 591.4 137.2 593.4 137.3 593.9 137.9 596.4 138.7 598.9 139.7 601.2 139.8 601.4 142.2 602.2 144.7 602.9 147.2 603.6 149 603.9 149.7 603.9 152.2 604 154.7 604 157.2 604 159.7 604 160.8 603.9 162.2 603.7 164.7 603.1 167.2 602.3 169.7 601.5 170.1 601.4 171.2 598.9 172 596.4 172.2 595.5 172.6 593.9 173 591.4 173.3 588.9 173.4 586.4 173.3 583.9 173.1 581.4 172.6 578.9 172.2 577.1 172 576.4 171.2 573.9 170.1 571.4 169.7 570.6 168.7 568.9 167.2 566.9 166.7 566.4 164.7 564.4 164 563.9 162.2 562.6 159.7 561.7 157.2 561.6 154.7 562.3M112.2 486.3 111.6 486.4 109.7 486.8 107.2 487.5 104.7 488.2 102.8 488.9 102.2 489.1 99.7 490.1 97.2 491.2 96.8 491.4 94.7 492.5 92.2 493.9 89.7 495.6 88.6 496.4 87.2 497.5 85.6 498.9 84.7 499.9 83.3 501.4 82.2 502.8 81.3 503.9 79.8 506.4 79.7 506.6 78.5 508.9 77.3 511.4 77.2 511.6 76.2 513.9 75 516.4 74.7 516.9 73.7 518.9 72.3 521.4 72.2 521.6 70.9 523.9 69.7 526.1 69.6 526.4 68.2 528.9 67.2 530.9 67 531.4 65.8 533.9 64.7 536.4 63.7 538.9 62.9 541.4 62.2 543.9 62.2 544 61.7 546.4 61.3 548.9 61.2 551.4 61.3 553.9 61.8 556.4 62.2 557.7 62.7 558.9 64.4 561.4 64.7 561.7 67.2 563.1 69.7 563.4 72.2 562.9 74.7 561.8 75.3 561.4 77.2 560.1 78.5 558.9 79.7 557.7 80.8 556.4 82.2 554.8 82.8 553.9 84.6 551.4 84.7 551.3 86.3 548.9 87.2 547.5 88 546.4 89.7 543.9 92 541.4 92.2 541.1 94.7 539.5 97.2 539 99.7 539.3 102.2 540.1 104.7 540.8 106.7 541.4 107.2 541.5 109.7 542.2 112.2 542.7 114.7 543.1 117.2 543.5 119.7 543.8 121.3 543.9 122.2 544 124.7 544.2 127.2 544.3 129.7 544.3 132.2 544.4 134.7 544.3 137.2 544.2 139.7 544.1 141.7 543.9 142.2 543.9 144.7 543.5 147.2 543.1 149.7 542.6 152.2 541.9 153.7 541.4 154.7 541.1 157.2 540.1 159.7 539 160 538.9 162.2 537.8 164.7 536.4 164.7 536.4 167.2 534.8 168.6 533.9 169.7 533.1 171.8 531.4 172.2 531 174.5 528.9 174.7 528.7 176.8 526.4 177.2 525.9 178.7 523.9 179.7 522.3 180.2 521.4 181.4 518.9 182.2 516.4 182.2 516.2 182.5 513.9 182.5 511.4 182.3 508.9 182.2 508.7 181.5 506.4 180.3 503.9 179.7 503.1 178.5 501.4 177.2 499.9 176.2 498.9 174.7 497.5 173.3 496.4 172.2 495.6 169.7 494 169.5 493.9 167.2 492.6 164.8 491.4 164.7 491.4 162.2 490.2 159.7 489.3 158.5 488.9 157.2 488.4 154.7 487.7 152.2 487 149.7 486.5 149.4 486.4 147.2 485.9 144.7 485.5 142.2 485.1 139.7 484.8 137.2 484.6 134.7 484.5 132.2 484.4 129.7 484.4 127.2 484.4 124.7 484.6 122.2 484.7 119.7 485 117.2 485.3 114.7 485.8 112.2 486.3M92.2 493.9 92.2 493.9M64.7 536.4 64.7 536.4M89.7 543.9 89.7 543.9M119.7 491.1 118.3 491.4 117.2 491.6 114.7 492.2 112.2 492.9 109.7 493.7 109.2 493.9 107.2 494.7 104.7 495.8 103.6 496.4 102.2 497.2 99.7 498.7 99.4 498.9 97.2 500.6 96.3 501.4 94.7 503 93.8 503.9 92.2 506.1 92 506.4 90.4 508.9 89.7 510.3 89.1 511.4 87.6 513.9 87.2 514.5 85.8 516.4 84.7 517.4 83.3 518.9 82.2 519.7 80.5 521.4 79.7 522 77.9 523.9 77.2 524.6 75.7 526.4 74.7 527.6 73.8 528.9 72.2 531.2 72.1 531.4 70.8 533.9 69.7 536 69.5 536.4 68.6 538.9 67.7 541.4 67.2 543.3 67.1 543.9 66.7 546.4 66.7 548.9 67.1 551.4 67.2 551.9 68.5 553.9 69.7 555 72.2 555.4 74.7 554.6 75.7 553.9 77.2 552.8 78.6 551.4 79.7 550.3 80.7 548.9 82.2 547 82.6 546.4 84.2 543.9 84.7 543.1 85.7 541.4 87.2 538.9 87.2 538.8 88.6 536.4 89.7 534.6 90.2 533.9 92.1 531.4 92.2 531.3 94.7 529.6 97.2 529.4 99.7 530 102.2 531.1 102.7 531.4 104.7 532.3 107.2 533.3 108.6 533.9 109.7 534.3 112.2 535 114.7 535.7 117.2 536.2 118.2 536.4 119.7 536.6 122.2 537 124.7 537.2 127.2 537.3 129.7 537.4 132.2 537.3 134.7 537.2 137.2 537 139.7 536.7 141.7 536.4 142.2 536.3 144.7 535.8 147.2 535.2 149.7 534.4 151.2 533.9 152.2 533.5 154.7 532.5 157 531.4 157.2 531.3 159.7 530 161.5 528.9 162.2 528.5 164.7 526.7 165.1 526.4 167.2 524.7 168 523.9 169.7 522.1 170.3 521.4 172.1 518.9 172.2 518.7 173.3 516.4 174 513.9 174.2 511.4 173.9 508.9 173 506.4 172.2 505.1 171.5 503.9 169.7 501.8 169.3 501.4 167.2 499.6 166.3 498.9 164.7 497.8 162.2 496.4 159.7 495.2 157.2 494.1 156.5 493.9 154.7 493.3 152.2 492.5 149.7 491.9 147.5 491.4 147.2 491.3 144.7 490.9 142.2 490.5 139.7 490.3 137.2 490.1 134.7 490 132.2 490 129.7 490 127.2 490.2 124.7 490.4 122.2 490.7 119.7 491.1M162.2 496.4 162.2 496.4M122.2 496.1 121 496.4 119.7 496.8 117.2 497.6 114.7 498.5 113.8 498.9 112.2 499.7 109.7 501.2 109.4 501.4 107.2 503.2 106.3 503.9 104.7 505.9 104.3 506.4 103 508.9 102.5 511.4 102.6 513.9 103.3 516.4 104.7 518.6 104.9 518.9 107.2 521.4 107.3 521.4 109.7 523.2 110.8 523.9 112.2 524.7 114.7 525.9 116.1 526.4 117.2 526.8 119.7 527.5 122.2 528.1 124.7 528.6 127.2 528.9 127.4 528.9 129.7 529.1 132.2 529.2 134.7 529.2 137.2 529 138.5 528.9 139.7 528.8 142.2 528.5 144.7 528 147.2 527.4 149.7 526.7 150.4 526.4 152.2 525.8 154.7 524.7 156.3 523.9 157.2 523.4 159.7 521.8 160.2 521.4 162.2 519.7 163 518.9 164.7 516.7 164.9 516.4 166 513.9 166.3 511.4 166 508.9 164.9 506.4 164.7 506.1 163 503.9 162.2 503.2 160.1 501.4 159.7 501.1 157.2 499.7 155.7 498.9 154.7 498.5 152.2 497.5 149.7 496.7 148.6 496.4 147.2 496.1 144.7 495.6 142.2 495.2 139.7 495 137.2 494.8 134.7 494.8 132.2 494.8 129.7 495 127.2 495.2 124.7 495.6 122.2 496.1M127.2 501.4 127.2 501.4 129.7 500.9 132.2 500.6 134.7 500.4 137.2 500.4 139.7 500.6 142.2 500.9 144.7 501.4 144.8 501.4 147.2 502.3 149.7 503.3 150.9 503.9 152.2 504.9 154.1 506.4 154.7 507.3 155.7 508.9 156.2 511.4 155.5 513.9 154.7 515 153.5 516.4 152.2 517.3 149.7 518.8 149.5 518.9 147.2 519.7 144.7 520.4 142.2 520.8 139.7 521.1 137.2 521.1 134.7 521 132.2 520.7 129.7 520.2 127.2 519.6 125.2 518.9 124.7 518.7 122.2 517.4 120.5 516.4 119.7 515.7 117.9 513.9 117.2 512.5 116.7 511.4 116.8 508.9 117.2 508.2 118.2 506.4 119.7 505.1 121.2 503.9 122.2 503.4 124.7 502.3 127.2 501.4" stroke="#333" stroke-width=".45" fill="none" opacity=".8" stroke-dasharray="3 1 1 1"/>
</g>
<rect x="27.2" y="466.4" width="177.6" height="148" fill="none" stroke="#666" stroke-width=".6"/>
<defs><g id="bB15_65"><circle r="1.6" fill="#888" stroke="#111" stroke-width=".55"/><ellipse rx="0.5" ry="1" fill="#ddd" transform="rotate(-25)"/></g></defs>
<use href="#bB15_65" x="81.6" y="480.7"/>
<use href="#bB15_65" x="95.2" y="480.7"/>
<use href="#bB15_65" x="108.7" y="480.7"/>
<use href="#bB15_65" x="122.3" y="480.7"/>
<use href="#bB15_65" x="135.9" y="480.7"/>
<use href="#bB15_65" x="149.4" y="480.7"/>
<use href="#bB15_65" x="163" y="480.7"/>
<use href="#bB15_65" x="176.6" y="480.7"/>
<use href="#bB15_65" x="68" y="487.7"/>
<use href="#bB15_65" x="81.6" y="487.7"/>
<use href="#bB15_65" x="95.2" y="487.7"/>
<defs><g id="bB24_65"><circle r="2.4" fill="#888" stroke="#111" stroke-width=".55"/><ellipse rx="0.8" ry="1.5" fill="#ddd" transform="rotate(-25)"/></g></defs>
<use href="#bB24_65" x="108.7" y="487.7"/>
<use href="#bB24_65" x="122.3" y="487.7"/>
<use href="#bB24_65" x="135.9" y="487.7"/>
<use href="#bB24_65" x="149.4" y="487.7"/>
<use href="#bB15_65" x="163" y="487.7"/>
<use href="#bB15_65" x="176.6" y="487.7"/>
<use href="#bB15_65" x="68" y="494.7"/>
<use href="#bB15_65" x="81.6" y="494.7"/>
<use href="#bB24_65" x="95.2" y="494.7"/>
<defs><g id="bB30_65"><circle r="3" fill="none" stroke="#1a1a1a" stroke-width=".55"/><ellipse rx="1.7" ry="2.8" fill="#fff" stroke="#222" stroke-width=".3" transform="rotate(-25)"/></g></defs>
<use href="#bB30_65" x="108.7" y="494.7"/>
<use href="#bB30_65" x="122.3" y="494.7"/>
<defs><g id="bB34_65"><circle r="3.4" fill="none" stroke="#1a1a1a" stroke-width=".55"/><ellipse rx="1.9" ry="3.2" fill="#fff" stroke="#222" stroke-width=".3" transform="rotate(-25)"/></g></defs>
<use href="#bB34_65" x="135.9" y="494.7"/>
<use href="#bB30_65" x="149.4" y="494.7"/>
<use href="#bB24_65" x="163" y="494.7"/>
<use href="#bB15_65" x="176.6" y="494.7"/>
<use href="#bB15_65" x="68" y="501.7"/>
<use href="#bB24_65" x="81.6" y="501.7"/>
<use href="#bB24_65" x="95.2" y="501.7"/>
<use href="#bB34_65" x="108.7" y="501.7"/>
<use href="#bB34_65" x="122.3" y="501.7"/>
<use href="#bB34_65" x="135.9" y="501.7"/>
<use href="#bB34_65" x="149.4" y="501.7"/>
<use href="#bB30_65" x="163" y="501.7"/>
<use href="#bB24_65" x="176.6" y="501.7"/>
<use href="#bB15_65" x="68" y="508.7"/>
<use href="#bB24_65" x="81.6" y="508.7"/>
<use href="#bB30_65" x="95.2" y="508.7"/>
<use href="#bB34_65" x="108.7" y="508.7"/>
<use href="#bB34_65" x="122.3" y="508.7"/>
<use href="#bB34_65" x="135.9" y="508.7"/>
<use href="#bB34_65" x="149.4" y="508.7"/>
<use href="#bB34_65" x="163" y="508.7"/>
<use href="#bB24_65" x="176.6" y="508.7"/>
<use href="#bB15_65" x="68" y="515.7"/>
<use href="#bB24_65" x="81.6" y="515.7"/>
<use href="#bB30_65" x="95.2" y="515.7"/>
<use href="#bB34_65" x="108.7" y="515.7"/>
<use href="#bB34_65" x="122.3" y="515.7"/>
<use href="#bB34_65" x="135.9" y="515.7"/>
<use href="#bB34_65" x="149.4" y="515.7"/>
<use href="#bB34_65" x="163" y="515.7"/>
<use href="#bB24_65" x="176.6" y="515.7"/>
<use href="#bB15_65" x="54.5" y="522.7"/>
<use href="#bB15_65" x="68" y="522.7"/>
<use href="#bB30_65" x="81.6" y="522.7"/>
<use href="#bB30_65" x="95.2" y="522.7"/>
<use href="#bB34_65" x="108.7" y="522.7"/>
<use href="#bB34_65" x="122.3" y="522.7"/>
<use href="#bB34_65" x="135.9" y="522.7"/>
<use href="#bB34_65" x="149.4" y="522.7"/>
<use href="#bB30_65" x="163" y="522.7"/>
<use href="#bB24_65" x="176.6" y="522.7"/>
<use href="#bB15_65" x="54.5" y="529.7"/>
<use href="#bB24_65" x="68" y="529.7"/>
<use href="#bB30_65" x="81.6" y="529.7"/>
<use href="#bB24_65" x="95.2" y="529.7"/>
<use href="#bB30_65" x="108.7" y="529.7"/>
<use href="#bB34_65" x="122.3" y="529.7"/>
<use href="#bB34_65" x="135.9" y="529.7"/>
<use href="#bB30_65" x="149.4" y="529.7"/>
<use href="#bB24_65" x="163" y="529.7"/>
<use href="#bB15_65" x="176.6" y="529.7"/>
<use href="#bB15_65" x="54.5" y="536.7"/>
<use href="#bB24_65" x="68" y="536.7"/>
<use href="#bB30_65" x="81.6" y="536.7"/>
<use href="#bB24_65" x="95.2" y="536.7"/>
<use href="#bB24_65" x="108.7" y="536.7"/>
<use href="#bB30_65" x="122.3" y="536.7"/>
<use href="#bB30_65" x="135.9" y="536.7"/>
<use href="#bB24_65" x="149.4" y="536.7"/>
<use href="#bB24_65" x="163" y="536.7"/>
<use href="#bB15_65" x="176.6" y="536.7"/>
<use href="#bB15_65" x="54.5" y="543.7"/>
<use href="#bB30_65" x="68" y="543.7"/>
<use href="#bB30_65" x="81.6" y="543.7"/>
<use href="#bB15_65" x="95.2" y="543.7"/>
<use href="#bB15_65" x="108.7" y="543.7"/>
<use href="#bB24_65" x="122.3" y="543.7"/>
<use href="#bB24_65" x="135.9" y="543.7"/>
<use href="#bB24_65" x="149.4" y="543.7"/>
<use href="#bB15_65" x="163" y="543.7"/>
<use href="#bB15_65" x="176.6" y="543.7"/>
<use href="#bB15_65" x="54.5" y="550.7"/>
<use href="#bB30_65" x="68" y="550.7"/>
<use href="#bB24_65" x="81.6" y="550.7"/>
<use href="#bB15_65" x="95.2" y="550.7"/>
<use href="#bB15_65" x="108.7" y="550.7"/>
<use href="#bB15_65" x="122.3" y="550.7"/>
<use href="#bB15_65" x="135.9" y="550.7"/>
<use href="#bB15_65" x="149.4" y="550.7"/>
<use href="#bB15_65" x="163" y="550.7"/>
<use href="#bB15_65" x="176.6" y="550.7"/>
<use href="#bB15_65" x="54.5" y="557.7"/>
<use href="#bB24_65" x="68" y="557.7"/>
<use href="#bB15_65" x="81.6" y="557.7"/>
<use href="#bB15_65" x="149.4" y="557.7"/>
<use href="#bB15_65" x="163" y="557.7"/>
<use href="#bB15_65" x="176.6" y="557.7"/>
<use href="#bB15_65" x="54.5" y="564.7"/>
<use href="#bB24_65" x="68" y="564.7"/>
<use href="#bB15_65" x="81.6" y="564.7"/>
<use href="#bB15_65" x="149.4" y="564.7"/>
<use href="#bB15_65" x="163" y="564.7"/>
<use href="#bB15_65" x="176.6" y="564.7"/>
<use href="#bB15_65" x="54.5" y="571.7"/>
<use href="#bB15_65" x="68" y="571.7"/>
<use href="#bB15_65" x="81.6" y="571.7"/>
<use href="#bB15_65" x="135.9" y="571.7"/>
<use href="#bB15_65" x="149.4" y="571.7"/>
<use href="#bB15_65" x="163" y="571.7"/>
<use href="#bB15_65" x="176.6" y="571.7"/>
<use href="#bB15_65" x="54.5" y="578.7"/>
<use href="#bB15_65" x="68" y="578.7"/>
<use href="#bB15_65" x="81.6" y="578.7"/>
<use href="#bB15_65" x="95.2" y="578.7"/>
<use href="#bB15_65" x="108.7" y="578.7"/>
<use href="#bB15_65" x="122.3" y="578.7"/>
<use href="#bB15_65" x="135.9" y="578.7"/>
<use href="#bB15_65" x="149.4" y="578.7"/>
<use href="#bB15_65" x="163" y="578.7"/>
<use href="#bB15_65" x="176.6" y="578.7"/>
<use href="#bB15_65" x="54.5" y="585.7"/>
<use href="#bB15_65" x="68" y="585.7"/>
<use href="#bB15_65" x="81.6" y="585.7"/>
<use href="#bB15_65" x="95.2" y="585.7"/>
<use href="#bB15_65" x="108.7" y="585.7"/>
<use href="#bB15_65" x="122.3" y="585.7"/>
<use href="#bB15_65" x="135.9" y="585.7"/>
<use href="#bB15_65" x="149.4" y="585.7"/>
<use href="#bB15_65" x="163" y="585.7"/>
<use href="#bB15_65" x="176.6" y="585.7"/>
<use href="#bB15_65" x="54.5" y="592.7"/>
<use href="#bB15_65" x="68" y="592.7"/>
<use href="#bB15_65" x="81.6" y="592.7"/>
<use href="#bB15_65" x="95.2" y="592.7"/>
<use href="#bB15_65" x="108.7" y="592.7"/>
<use href="#bB15_65" x="122.3" y="592.7"/>
<use href="#bB15_65" x="135.9" y="592.7"/>
<use href="#bB15_65" x="149.4" y="592.7"/>
<use href="#bB15_65" x="163" y="592.7"/>
<use href="#bB15_65" x="176.6" y="592.7"/>
<use href="#bB15_65" x="54.5" y="599.7"/>
<use href="#bB15_65" x="68" y="599.7"/>
<use href="#bB15_65" x="81.6" y="599.7"/>
<use href="#bB15_65" x="95.2" y="599.7"/>
<use href="#bB15_65" x="108.7" y="599.7"/>
<use href="#bB15_65" x="122.3" y="599.7"/>
<use href="#bB15_65" x="135.9" y="599.7"/>
<use href="#bB15_65" x="149.4" y="599.7"/>
<use href="#bB15_65" x="163" y="599.7"/>
<use href="#bB15_65" x="176.6" y="599.7"/>
<path d="M40.9 473.7h.01M54.5 473.7h.01M68 473.7h.01M81.6 473.7h.01M95.2 473.7h.01M108.7 473.7h.01M122.3 473.7h.01M135.9 473.7h.01M149.4 473.7h.01M163 473.7h.01M176.6 473.7h.01M190.1 473.7h.01M40.9 480.7h.01M54.5 480.7h.01M68 480.7h.01M190.1 480.7h.01M40.9 487.7h.01M54.5 487.7h.01M190.1 487.7h.01M40.9 494.7h.01M54.5 494.7h.01M190.1 494.7h.01M40.9 501.7h.01M54.5 501.7h.01M190.1 501.7h.01M40.9 508.7h.01M54.5 508.7h.01M190.1 508.7h.01M40.9 515.7h.01M54.5 515.7h.01M190.1 515.7h.01M40.9 522.7h.01M190.1 522.7h.01M40.9 529.7h.01M190.1 529.7h.01M40.9 536.7h.01M190.1 536.7h.01M40.9 543.7h.01M190.1 543.7h.01M40.9 550.7h.01M190.1 550.7h.01M40.9 557.7h.01M95.2 557.7h.01M108.7 557.7h.01M122.3 557.7h.01M135.9 557.7h.01M190.1 557.7h.01M40.9 564.7h.01M95.2 564.7h.01M108.7 564.7h.01M122.3 564.7h.01M135.9 564.7h.01M190.1 564.7h.01M40.9 571.7h.01M95.2 571.7h.01M108.7 571.7h.01M122.3 571.7h.01M190.1 571.7h.01M40.9 578.7h.01M190.1 578.7h.01M40.9 585.7h.01M190.1 585.7h.01M40.9 592.7h.01M190.1 592.7h.01M40.9 599.7h.01M190.1 599.7h.01M40.9 606.7h.01M54.5 606.7h.01M68 606.7h.01M81.6 606.7h.01M95.2 606.7h.01M108.7 606.7h.01M122.3 606.7h.01M135.9 606.7h.01M149.4 606.7h.01M163 606.7h.01M176.6 606.7h.01M190.1 606.7h.01" stroke="#222" stroke-width="1.5" stroke-linecap="round"/>
<rect x="205.4" y="467.1" width="7.8" height="147.3" fill="url(#gHot)" stroke="#777" stroke-width=".5"/>
<line x1="213.2" y1="495.8" x2="215" y2="495.8" stroke="#333" stroke-width=".6"/>
<text x="215.5" y="499" font-size="9">1.0</text>
<line x1="213.2" y1="555.1" x2="215" y2="555.1" stroke="#333" stroke-width=".6"/>
<text x="215.5" y="558.3" font-size="9">0.5</text>
<line x1="213.2" y1="614.4" x2="215" y2="614.4" stroke="#333" stroke-width=".6"/>
<text x="215.5" y="617.6" font-size="9">0.0</text>
<text x="234" y="540.8" font-size="8.4" text-anchor="middle" transform="rotate(-90 234 540.8)">Potency Density (m)</text>
<line x1="24.7" y1="473.9" x2="27.2" y2="473.9" stroke="#333" stroke-width=".6"/>
<text x="23.5" y="477.5" font-size="10.2" text-anchor="end">10</text>
<line x1="24.7" y1="502" x2="27.2" y2="502" stroke="#333" stroke-width=".6"/>
<text x="23.5" y="505.6" font-size="10.2" text-anchor="end">20</text>
<line x1="24.7" y1="530.1" x2="27.2" y2="530.1" stroke="#333" stroke-width=".6"/>
<text x="23.5" y="533.7" font-size="10.2" text-anchor="end">30</text>
<line x1="24.7" y1="558.2" x2="27.2" y2="558.2" stroke="#333" stroke-width=".6"/>
<text x="23.5" y="561.8" font-size="10.2" text-anchor="end">40</text>
<line x1="24.7" y1="586.3" x2="27.2" y2="586.3" stroke="#333" stroke-width=".6"/>
<text x="23.5" y="589.9" font-size="10.2" text-anchor="end">50</text>
<line x1="24.7" y1="614.4" x2="27.2" y2="614.4" stroke="#333" stroke-width=".6"/>
<text x="23.5" y="618" font-size="10.2" text-anchor="end">60</text>
<line x1="67.9" y1="614.4" x2="67.9" y2="616.8" stroke="#333" stroke-width=".6"/>
<text x="67.9" y="625" font-size="10.2" text-anchor="middle">−20</text>
<line x1="122.3" y1="614.4" x2="122.3" y2="616.8" stroke="#333" stroke-width=".6"/>
<text x="122.3" y="625" font-size="10.2" text-anchor="middle">0</text>
<line x1="176.7" y1="614.4" x2="176.7" y2="616.8" stroke="#333" stroke-width=".6"/>
<text x="176.7" y="625" font-size="10.2" text-anchor="middle">20</text>
<text x="116" y="634.7" font-size="10.3" text-anchor="middle">N &lt;- Strike (km) -&gt; S</text>
<text x="10.1" y="538.8" font-size="10.1" text-anchor="middle" transform="rotate(-90 10.1 538.8)">Depth (km)</text>
<defs><clipPath id="hBl"><rect x="27.7" y="641.1" width="176.2" height="68.4"/></clipPath><filter id="hBlf" x="-5%" y="-5%" width="110%" height="110%"><feGaussianBlur stdDeviation="1.6"/></filter></defs>
<g clip-path="url(#hBl)"><g filter="url(#hBlf)">
<path fill="#ffffff" d="M24.2 637.6h189.3v3.8h-189.3zM24.2 641.1h189.3v3.8h-189.3zM24.2 644.6h17.8v3.8h-17.8zM199.2 644.6h14.3v3.8h-14.3zM24.2 648.1h17.8v3.8h-17.8zM202.7 648.1h10.8v3.8h-10.8zM24.2 651.6h17.8v3.8h-17.8zM202.7 651.6h10.8v3.8h-10.8zM24.2 655.1h17.8v3.8h-17.8zM199.2 655.1h14.3v3.8h-14.3zM24.2 658.6h17.8v3.8h-17.8zM199.2 658.6h14.3v3.8h-14.3zM24.2 662.1h17.8v3.8h-17.8zM199.2 662.1h14.3v3.8h-14.3zM24.2 665.6h17.8v3.8h-17.8zM199.2 665.6h14.3v3.8h-14.3zM24.2 669.1h17.8v3.8h-17.8zM199.2 669.1h14.3v3.8h-14.3zM24.2 672.6h17.8v3.8h-17.8zM199.2 672.6h14.3v3.8h-14.3zM24.2 676.1h17.8v3.8h-17.8zM199.2 676.1h14.3v3.8h-14.3zM24.2 679.6h28.3v3.8h-28.3zM195.7 679.6h17.8v3.8h-17.8zM24.2 683.1h35.3v3.8h-35.3zM195.7 683.1h17.8v3.8h-17.8zM24.2 686.6h17.8v3.8h-17.8zM202.7 686.6h10.8v3.8h-10.8zM24.2 690.1h35.3v3.8h-35.3zM195.7 690.1h17.8v3.8h-17.8zM24.2 693.6h35.3v3.8h-35.3zM195.7 693.6h17.8v3.8h-17.8zM24.2 697.1h35.3v3.8h-35.3zM195.7 697.1h17.8v3.8h-17.8zM24.2 700.6h35.3v3.8h-35.3zM195.7 700.6h17.8v3.8h-17.8zM24.2 704.1h35.3v3.8h-35.3zM192.2 704.1h21.3v3.8h-21.3zM24.2 707.6h189.3v3.8h-189.3zM24.2 711.1h189.3v3.8h-189.3zM24.2 714.6h189.3v3.8h-189.3z"/>
<path fill="#ffffe6" d="M41.7 644.6h3.8v3.8h-3.8zM41.7 655.1h3.8v3.8h-3.8zM41.7 658.6h3.8v3.8h-3.8zM41.7 662.1h3.8v3.8h-3.8zM41.7 665.6h3.8v3.8h-3.8zM41.7 669.1h3.8v3.8h-3.8zM41.7 672.6h3.8v3.8h-3.8zM41.7 676.1h3.8v3.8h-3.8z"/>
<path fill="#ffff97" d="M45.2 644.6h3.8v3.8h-3.8z"/>
<path fill="#ffff7f" d="M48.7 644.6h38.8v3.8h-38.8zM174.7 644.6h17.8v3.8h-17.8zM188.7 700.6h3.8v3.8h-3.8z"/>
<path fill="#ffff77" d="M87.2 644.6h31.8v3.8h-31.8zM139.7 644.6h35.3v3.8h-35.3zM48.7 648.1h10.8v3.8h-10.8zM48.7 651.6h7.3v3.8h-7.3zM48.7 655.1h38.8v3.8h-38.8zM174.7 655.1h17.8v3.8h-17.8zM48.7 658.6h143.8v3.8h-143.8zM48.7 662.1h143.8v3.8h-143.8zM48.7 665.6h143.8v3.8h-143.8zM48.7 669.1h143.8v3.8h-143.8zM48.7 672.6h143.8v3.8h-143.8zM48.7 676.1h143.8v3.8h-143.8z"/>
<path fill="#ffff6f" d="M118.7 644.6h21.3v3.8h-21.3zM59.2 648.1h7.3v3.8h-7.3zM55.7 651.6h7.3v3.8h-7.3zM87.2 655.1h10.8v3.8h-10.8zM160.7 655.1h14.3v3.8h-14.3zM188.7 683.1h3.8v3.8h-3.8zM188.7 697.1h3.8v3.8h-3.8z"/>
<path fill="#ffffbe" d="M192.2 644.6h3.8v3.8h-3.8zM192.2 655.1h3.8v3.8h-3.8zM192.2 658.6h3.8v3.8h-3.8zM192.2 662.1h3.8v3.8h-3.8zM192.2 665.6h3.8v3.8h-3.8zM192.2 669.1h3.8v3.8h-3.8zM192.2 672.6h3.8v3.8h-3.8zM192.2 676.1h3.8v3.8h-3.8z"/>
<path fill="#fffffa" d="M195.7 644.6h3.8v3.8h-3.8zM199.2 648.1h3.8v3.8h-3.8zM199.2 651.6h3.8v3.8h-3.8zM195.7 655.1h3.8v3.8h-3.8zM195.7 658.6h3.8v3.8h-3.8zM195.7 662.1h3.8v3.8h-3.8zM195.7 665.6h3.8v3.8h-3.8zM195.7 669.1h3.8v3.8h-3.8zM195.7 672.6h3.8v3.8h-3.8zM195.7 676.1h3.8v3.8h-3.8zM52.2 679.6h7.3v3.8h-7.3zM41.7 686.6h3.8v3.8h-3.8zM199.2 686.6h3.8v3.8h-3.8zM59.2 704.1h3.8v3.8h-3.8z"/>
<path fill="#ffffe0" d="M41.7 648.1h3.8v3.8h-3.8zM41.7 651.6h3.8v3.8h-3.8z"/>
<path fill="#ffff8f" d="M45.2 648.1h3.8v3.8h-3.8zM45.2 651.6h3.8v3.8h-3.8zM45.2 655.1h3.8v3.8h-3.8zM45.2 658.6h3.8v3.8h-3.8zM45.2 662.1h3.8v3.8h-3.8zM45.2 665.6h3.8v3.8h-3.8zM45.2 669.1h3.8v3.8h-3.8zM45.2 672.6h3.8v3.8h-3.8zM45.2 676.1h3.8v3.8h-3.8z"/>
<path fill="#ffff67" d="M66.2 648.1h7.3v3.8h-7.3zM188.7 648.1h3.8v3.8h-3.8zM62.7 651.6h7.3v3.8h-7.3zM97.7 655.1h14.3v3.8h-14.3zM150.2 655.1h10.8v3.8h-10.8zM188.7 679.6h3.8v3.8h-3.8zM188.7 690.1h3.8v3.8h-3.8zM188.7 693.6h3.8v3.8h-3.8z"/>
<path fill="#ffff5f" d="M73.2 648.1h3.8v3.8h-3.8zM185.2 648.1h3.8v3.8h-3.8zM69.7 651.6h3.8v3.8h-3.8zM188.7 651.6h3.8v3.8h-3.8zM111.7 655.1h38.8v3.8h-38.8z"/>
<path fill="#ffff57" d="M76.7 648.1h3.8v3.8h-3.8zM181.7 648.1h3.8v3.8h-3.8zM73.2 651.6h3.8v3.8h-3.8zM185.2 651.6h3.8v3.8h-3.8z"/>
<path fill="#ffff4f" d="M80.2 648.1h3.8v3.8h-3.8zM178.2 648.1h3.8v3.8h-3.8zM76.7 651.6h3.8v3.8h-3.8zM181.7 651.6h3.8v3.8h-3.8z"/>
<path fill="#ffff47" d="M83.7 648.1h3.8v3.8h-3.8zM174.7 648.1h3.8v3.8h-3.8zM178.2 651.6h3.8v3.8h-3.8z"/>
<path fill="#ffff3f" d="M87.2 648.1h3.8v3.8h-3.8zM171.2 648.1h3.8v3.8h-3.8zM80.2 651.6h3.8v3.8h-3.8zM62.7 700.6h3.8v3.8h-3.8z"/>
<path fill="#ffff30" d="M90.7 648.1h3.8v3.8h-3.8zM87.2 651.6h3.8v3.8h-3.8zM171.2 651.6h3.8v3.8h-3.8zM62.7 690.1h3.8v3.8h-3.8zM62.7 693.6h3.8v3.8h-3.8zM62.7 697.1h3.8v3.8h-3.8z"/>
<path fill="#ffff28" d="M94.2 648.1h3.8v3.8h-3.8zM164.2 648.1h3.8v3.8h-3.8zM167.7 651.6h3.8v3.8h-3.8zM62.7 679.6h3.8v3.8h-3.8zM185.2 679.6h3.8v3.8h-3.8zM62.7 683.1h3.8v3.8h-3.8zM181.7 683.1h7.3v3.8h-7.3zM66.2 690.1h10.8v3.8h-10.8zM66.2 693.6h24.8v3.8h-24.8zM66.2 697.1h35.3v3.8h-35.3zM181.7 697.1h7.3v3.8h-7.3z"/>
<path fill="#ffff20" d="M97.7 648.1h3.8v3.8h-3.8zM160.7 648.1h3.8v3.8h-3.8zM90.7 651.6h3.8v3.8h-3.8zM66.2 679.6h3.8v3.8h-3.8zM174.7 679.6h10.8v3.8h-10.8zM66.2 683.1h7.3v3.8h-7.3zM174.7 683.1h7.3v3.8h-7.3zM188.7 686.6h3.8v3.8h-3.8zM76.7 690.1h7.3v3.8h-7.3zM185.2 690.1h3.8v3.8h-3.8zM90.7 693.6h3.8v3.8h-3.8zM101.2 697.1h7.3v3.8h-7.3zM174.7 697.1h7.3v3.8h-7.3z"/>
<path fill="#ffff18" d="M101.2 648.1h3.8v3.8h-3.8zM157.2 648.1h3.8v3.8h-3.8zM94.2 651.6h3.8v3.8h-3.8zM164.2 651.6h3.8v3.8h-3.8zM69.7 679.6h7.3v3.8h-7.3zM167.7 679.6h7.3v3.8h-7.3zM73.2 683.1h3.8v3.8h-3.8zM171.2 683.1h3.8v3.8h-3.8zM83.7 690.1h3.8v3.8h-3.8zM181.7 690.1h3.8v3.8h-3.8zM94.2 693.6h3.8v3.8h-3.8zM185.2 693.6h3.8v3.8h-3.8zM108.2 697.1h3.8v3.8h-3.8zM171.2 697.1h3.8v3.8h-3.8z"/>
<path fill="#ffff10" d="M104.7 648.1h3.8v3.8h-3.8zM153.7 648.1h3.8v3.8h-3.8zM97.7 651.6h3.8v3.8h-3.8zM160.7 651.6h3.8v3.8h-3.8zM76.7 679.6h7.3v3.8h-7.3zM160.7 679.6h7.3v3.8h-7.3zM167.7 683.1h3.8v3.8h-3.8zM87.2 690.1h3.8v3.8h-3.8zM178.2 690.1h3.8v3.8h-3.8zM97.7 693.6h3.8v3.8h-3.8zM181.7 693.6h3.8v3.8h-3.8zM111.7 697.1h3.8v3.8h-3.8zM167.7 697.1h3.8v3.8h-3.8z"/>
<path fill="#ffff08" d="M108.2 648.1h3.8v3.8h-3.8zM146.7 648.1h7.3v3.8h-7.3zM101.2 651.6h3.8v3.8h-3.8zM157.2 651.6h3.8v3.8h-3.8zM83.7 679.6h7.3v3.8h-7.3zM153.7 679.6h7.3v3.8h-7.3zM76.7 683.1h3.8v3.8h-3.8zM90.7 690.1h3.8v3.8h-3.8zM115.2 697.1h3.8v3.8h-3.8zM164.2 697.1h3.8v3.8h-3.8z"/>
<path fill="#ffff00" d="M111.7 648.1h7.3v3.8h-7.3zM143.2 648.1h3.8v3.8h-3.8zM104.7 651.6h3.8v3.8h-3.8zM153.7 651.6h3.8v3.8h-3.8zM90.7 679.6h7.3v3.8h-7.3zM146.7 679.6h7.3v3.8h-7.3zM80.2 683.1h3.8v3.8h-3.8zM164.2 683.1h3.8v3.8h-3.8zM174.7 690.1h3.8v3.8h-3.8zM101.2 693.6h3.8v3.8h-3.8zM178.2 693.6h3.8v3.8h-3.8zM118.7 697.1h3.8v3.8h-3.8zM160.7 697.1h3.8v3.8h-3.8z"/>
<path fill="#fff700" d="M118.7 648.1h24.8v3.8h-24.8zM108.2 651.6h3.8v3.8h-3.8zM150.2 651.6h3.8v3.8h-3.8zM97.7 679.6h10.8v3.8h-10.8zM136.2 679.6h10.8v3.8h-10.8zM94.2 690.1h3.8v3.8h-3.8zM122.2 697.1h3.8v3.8h-3.8zM157.2 697.1h3.8v3.8h-3.8z"/>
<path fill="#ffff38" d="M167.7 648.1h3.8v3.8h-3.8zM83.7 651.6h3.8v3.8h-3.8zM174.7 651.6h3.8v3.8h-3.8zM59.2 686.6h3.8v3.8h-3.8zM66.2 700.6h122.8v3.8h-122.8z"/>
<path fill="#ffffaf" d="M192.2 648.1h3.8v3.8h-3.8zM192.2 651.6h3.8v3.8h-3.8zM59.2 690.1h3.8v3.8h-3.8zM59.2 693.6h3.8v3.8h-3.8zM59.2 697.1h3.8v3.8h-3.8z"/>
<path fill="#fffff5" d="M195.7 648.1h3.8v3.8h-3.8zM45.2 686.6h3.8v3.8h-3.8zM188.7 704.1h3.8v3.8h-3.8z"/>
<path fill="#ffef00" d="M111.7 651.6h7.3v3.8h-7.3zM139.7 651.6h10.8v3.8h-10.8zM108.2 679.6h28.3v3.8h-28.3zM83.7 683.1h3.8v3.8h-3.8zM160.7 683.1h3.8v3.8h-3.8zM171.2 690.1h3.8v3.8h-3.8zM125.7 697.1h3.8v3.8h-3.8zM153.7 697.1h3.8v3.8h-3.8z"/>
<path fill="#ffe800" d="M118.7 651.6h21.3v3.8h-21.3zM87.2 683.1h3.8v3.8h-3.8zM97.7 690.1h3.8v3.8h-3.8zM104.7 693.6h3.8v3.8h-3.8zM174.7 693.6h3.8v3.8h-3.8zM129.2 697.1h3.8v3.8h-3.8zM150.2 697.1h3.8v3.8h-3.8z"/>
<path fill="#fffff0" d="M195.7 651.6h3.8v3.8h-3.8zM195.7 686.6h3.8v3.8h-3.8zM62.7 704.1h126.3v3.8h-126.3z"/>
<path fill="#ffff9f" d="M59.2 679.6h3.8v3.8h-3.8z"/>
<path fill="#ffffeb" d="M192.2 679.6h3.8v3.8h-3.8zM192.2 683.1h3.8v3.8h-3.8zM48.7 686.6h3.8v3.8h-3.8zM192.2 690.1h3.8v3.8h-3.8zM192.2 693.6h3.8v3.8h-3.8zM192.2 697.1h3.8v3.8h-3.8zM192.2 700.6h3.8v3.8h-3.8z"/>
<path fill="#ffffa7" d="M59.2 683.1h3.8v3.8h-3.8z"/>
<path fill="#ffd800" d="M90.7 683.1h3.8v3.8h-3.8zM153.7 683.1h3.8v3.8h-3.8zM101.2 690.1h3.8v3.8h-3.8zM171.2 693.6h3.8v3.8h-3.8zM136.2 697.1h10.8v3.8h-10.8z"/>
<path fill="#ffc900" d="M94.2 683.1h3.8v3.8h-3.8zM150.2 683.1h3.8v3.8h-3.8zM104.7 690.1h3.8v3.8h-3.8zM164.2 690.1h3.8v3.8h-3.8z"/>
<path fill="#ffb900" d="M97.7 683.1h3.8v3.8h-3.8zM146.7 683.1h3.8v3.8h-3.8zM185.2 686.6h3.8v3.8h-3.8zM111.7 693.6h3.8v3.8h-3.8zM167.7 693.6h3.8v3.8h-3.8z"/>
<path fill="#ffb100" d="M101.2 683.1h3.8v3.8h-3.8zM108.2 690.1h3.8v3.8h-3.8zM160.7 690.1h3.8v3.8h-3.8z"/>
<path fill="#ffa200" d="M104.7 683.1h3.8v3.8h-3.8zM115.2 693.6h3.8v3.8h-3.8zM164.2 693.6h3.8v3.8h-3.8z"/>
<path fill="#ff9a00" d="M108.2 683.1h3.8v3.8h-3.8zM139.7 683.1h3.8v3.8h-3.8zM62.7 686.6h3.8v3.8h-3.8zM111.7 690.1h3.8v3.8h-3.8zM157.2 690.1h3.8v3.8h-3.8z"/>
<path fill="#ff9100" d="M111.7 683.1h3.8v3.8h-3.8zM136.2 683.1h3.8v3.8h-3.8zM181.7 686.6h3.8v3.8h-3.8zM160.7 693.6h3.8v3.8h-3.8z"/>
<path fill="#fe8800" d="M115.2 683.1h3.8v3.8h-3.8zM132.7 683.1h3.8v3.8h-3.8zM115.2 690.1h3.8v3.8h-3.8zM118.7 693.6h3.8v3.8h-3.8z"/>
<path fill="#fe7e00" d="M118.7 683.1h14.3v3.8h-14.3zM153.7 690.1h3.8v3.8h-3.8z"/>
<path fill="#ffa900" d="M143.2 683.1h3.8v3.8h-3.8z"/>
<path fill="#ffe000" d="M157.2 683.1h3.8v3.8h-3.8zM167.7 690.1h3.8v3.8h-3.8zM132.7 697.1h3.8v3.8h-3.8zM146.7 697.1h3.8v3.8h-3.8z"/>
<path fill="#ffffdb" d="M52.2 686.6h3.8v3.8h-3.8z"/>
<path fill="#ffffcc" d="M55.7 686.6h3.8v3.8h-3.8zM192.2 686.6h3.8v3.8h-3.8z"/>
<path fill="#fd6b00" d="M66.2 686.6h3.8v3.8h-3.8zM118.7 690.1h3.8v3.8h-3.8z"/>
<path fill="#fc4400" d="M69.7 686.6h3.8v3.8h-3.8zM125.7 690.1h3.8v3.8h-3.8z"/>
<path fill="#fb2700" d="M73.2 686.6h3.8v3.8h-3.8zM136.2 690.1h3.8v3.8h-3.8z"/>
<path fill="#f21200" d="M76.7 686.6h3.8v3.8h-3.8z"/>
<path fill="#e30f00" d="M80.2 686.6h3.8v3.8h-3.8z"/>
<path fill="#d40b00" d="M83.7 686.6h3.8v3.8h-3.8z"/>
<path fill="#c40800" d="M87.2 686.6h3.8v3.8h-3.8z"/>
<path fill="#bc0600" d="M90.7 686.6h3.8v3.8h-3.8z"/>
<path fill="#ad0300" d="M94.2 686.6h3.8v3.8h-3.8z"/>
<path fill="#a50100" d="M97.7 686.6h3.8v3.8h-3.8zM167.7 686.6h3.8v3.8h-3.8z"/>
<path fill="#930000" d="M101.2 686.6h3.8v3.8h-3.8z"/>
<path fill="#890000" d="M104.7 686.6h3.8v3.8h-3.8z"/>
<path fill="#760000" d="M108.2 686.6h3.8v3.8h-3.8zM164.2 686.6h3.8v3.8h-3.8z"/>
<path fill="#620000" d="M111.7 686.6h3.8v3.8h-3.8z"/>
<path fill="#450000" d="M115.2 686.6h3.8v3.8h-3.8z"/>
<path fill="#310000" d="M118.7 686.6h3.8v3.8h-3.8zM157.2 686.6h3.8v3.8h-3.8z"/>
<path fill="#270000" d="M122.2 686.6h3.8v3.8h-3.8z"/>
<path fill="#140000" d="M125.7 686.6h3.8v3.8h-3.8zM153.7 686.6h3.8v3.8h-3.8z"/>
<path fill="#0a0000" d="M129.2 686.6h24.8v3.8h-24.8z"/>
<path fill="#4f0000" d="M160.7 686.6h3.8v3.8h-3.8z"/>
<path fill="#cc0a00" d="M171.2 686.6h3.8v3.8h-3.8z"/>
<path fill="#fa1400" d="M174.7 686.6h3.8v3.8h-3.8z"/>
<path fill="#fc4e00" d="M178.2 686.6h3.8v3.8h-3.8zM146.7 690.1h3.8v3.8h-3.8zM132.7 693.6h17.8v3.8h-17.8z"/>
<path fill="#fd5700" d="M122.2 690.1h3.8v3.8h-3.8zM129.2 693.6h3.8v3.8h-3.8zM150.2 693.6h3.8v3.8h-3.8z"/>
<path fill="#fb3100" d="M129.2 690.1h7.3v3.8h-7.3zM139.7 690.1h3.8v3.8h-3.8z"/>
<path fill="#fb3b00" d="M143.2 690.1h3.8v3.8h-3.8z"/>
<path fill="#fd6100" d="M150.2 690.1h3.8v3.8h-3.8zM125.7 693.6h3.8v3.8h-3.8zM153.7 693.6h3.8v3.8h-3.8z"/>
<path fill="#ffd000" d="M108.2 693.6h3.8v3.8h-3.8z"/>
<path fill="#fe7400" d="M122.2 693.6h3.8v3.8h-3.8zM157.2 693.6h3.8v3.8h-3.8z"/>
<path fill="#ffffb7" d="M59.2 700.6h3.8v3.8h-3.8z"/>
</g>
<path d="M50.2 646 49.2 646.1 47.7 646.8 47.2 648.6 47.1 651.1 47.1 653.6 47.2 656.1 47.2 658.6 47.2 661.1 47.2 663.6 47.2 666.1 47.2 668.6 47.2 671.1 47.2 673.6 47.2 676.1 47.2 678.6 47.7 678.8 50.2 678.9 52.7 678.9 55.2 678.9 57.7 679 60.2 679.4 61.4 681.1 61.4 683.6 60.8 686.1 60.2 687.1 59.2 688.6 60.2 689.7 61.5 691.1 61.6 693.6 61.6 696.1 61.6 698.6 61.6 701.1 62.7 702.9 63.9 703.6 65.2 703.9 67.7 703.9 70.2 703.9 72.7 703.9 75.2 703.9 77.7 703.9 80.2 703.9 82.7 703.9 85.2 703.9 87.7 703.9 90.2 703.9 92.7 703.9 95.2 703.9 97.7 703.9 100.2 703.9 102.7 703.9 105.2 703.9 107.7 703.9 110.2 703.9 112.7 703.9 115.2 703.9 117.7 703.9 120.2 703.9 122.7 703.9 125.2 703.9 127.7 703.9 130.2 703.9 132.7 703.9 135.2 703.9 137.7 703.9 140.2 703.9 142.7 703.9 145.2 703.9 147.7 703.9 150.2 703.9 152.7 703.9 155.2 703.9 157.7 703.9 160.2 703.9 162.7 703.9 165.2 703.9 167.7 703.9 170.2 703.9 172.7 703.9 175.2 703.9 177.7 703.9 180.2 703.9 182.7 703.9 185.2 703.9 187.7 703.9 188.9 703.6 190.2 702.8 191.2 701.1 191.2 698.6 191.3 696.1 191.3 693.6 191.3 691.1 192.5 688.6 191.5 686.1 191.3 683.6 191.3 681.1 191.8 678.6 191.8 676.1 191.8 673.6 191.8 671.1 191.8 668.6 191.8 666.1 191.8 663.6 191.8 661.1 191.8 658.6 192 656.1 192.7 654.6 192.9 653.6 193 651.1 192.7 649.5 192.3 648.6 190.5 646.1 190.2 646 187.7 646 185.2 646 182.7 646 180.2 646 177.7 646 175.2 646 172.7 646 170.2 646 167.7 646 165.2 646 162.7 646 160.2 646 157.7 646 155.2 646 152.7 646 150.2 646 147.7 645.9 145.2 645.9 142.7 645.9 140.2 645.9 137.7 645.9 135.2 645.9 132.7 645.9 130.2 645.9 127.7 645.9 125.2 645.9 122.7 645.9 120.2 645.9 117.7 645.9 115.2 645.9 112.7 645.9 110.2 646 107.7 646 105.2 646 102.7 646 100.2 646 97.7 646 95.2 646 92.7 646 90.2 646 87.7 646 85.2 646 82.7 646 80.2 646 77.7 646 75.2 646 72.7 646 70.2 646 67.7 646 65.2 646 62.7 646 60.2 646 57.7 646 55.2 646 52.7 646 50.2 646M97.7 651 96.5 651.1 97.7 651.8 100.2 653.2 100.9 653.6 102.7 653.7 105.2 653.9 107.7 654.1 110.2 654.2 112.7 654.3 115.2 654.4 117.7 654.4 120.2 654.5 122.7 654.5 125.2 654.6 127.7 654.6 130.2 654.6 132.7 654.6 135.2 654.6 137.7 654.5 140.2 654.5 142.7 654.5 145.2 654.4 147.7 654.3 150.2 654.2 152.7 654.1 155.2 653.9 157.7 653.8 160 653.6 160.2 653.5 162.7 652.1 164.4 651.1 162.7 650.9 160.2 650.7 157.7 650.4 155.2 650.3 152.7 650.1 150.2 650 147.7 649.8 145.2 649.7 142.7 649.7 140.2 649.6 137.7 649.5 135.2 649.5 132.7 649.5 130.2 649.5 127.7 649.5 125.2 649.5 122.7 649.5 120.2 649.6 117.7 649.7 115.2 649.8 112.7 649.9 110.2 650 107.7 650.1 105.2 650.3 102.7 650.5 100.2 650.7 97.7 651M82.7 681.1 81.9 681.1 82.1 683.6 80.2 683.6 77.7 683.7 75.2 683.8 72.7 683.9 70.2 684 67.7 684.2 65.2 684.5 64.1 686.1 62.7 687.3 61.9 688.6 62.7 689.5 65.2 690.8 67.7 690.9 70.2 691 71.4 691.1 72.7 691.4 75.2 691.9 77.7 692.3 80.2 692.5 82.7 692.7 85.2 692.9 87.7 693 90.2 693.1 92.7 693.2 95.2 693.3 97.7 693.5 99.7 693.6 100.2 695.6 100.3 696.1 102.7 696.9 105.2 697.6 107.7 698 110.2 698.4 112.1 698.6 112.7 698.7 115.2 699.2 117.7 699.6 120.2 699.8 122.7 700 125.2 700.2 127.7 700.3 130.2 700.3 132.7 700.4 135.2 700.5 137.7 700.5 140.2 700.5 142.7 700.5 145.2 700.5 147.7 700.5 150.2 700.4 152.7 700.3 155.2 700.3 157.7 700.1 160.2 700 162.7 699.8 165.2 699.5 167.7 699.2 170.2 698.7 170.5 698.6 172.7 698.4 175.2 698 177.7 697.5 180.2 696.9 182.4 696.1 182.7 694.7 183 693.6 182.7 692.9 182.1 691.1 182.7 691.1 185.2 690.9 187.7 690.6 189.9 688.6 187.7 686.1 187.5 686.1 185.2 685.2 182.7 684.7 180.2 684.3 177.7 684.1 175.2 683.9 172.7 683.8 170.2 683.7 167.7 683.7 165.2 683.6 163.3 683.6 162.7 681.1 160.2 681 157.7 681 155.2 680.9 152.7 680.9 150.2 680.8 147.7 680.8 145.2 680.7 142.7 680.7 140.2 680.7 137.7 680.6 135.2 680.6 132.7 680.6 130.2 680.6 127.7 680.6 125.2 680.6 122.7 680.6 120.2 680.6 117.7 680.6 115.2 680.6 112.7 680.6 110.2 680.6 107.7 680.6 105.2 680.7 102.7 680.7 100.2 680.7 97.7 680.8 95.2 680.8 92.7 680.9 90.2 680.9 87.7 681 85.2 681 82.7 681.1M162.7 681.1 162.7 681.1M77.7 686.1 77.7 686.1 80.2 685.8 82.7 685.5 85.2 685.3 87.7 685.2 90.2 685 92.7 684.9 95.2 684.8 97.7 684.7 100.2 684.7 102.7 684.6 105.2 684.6 107.7 684.5 110.2 684.5 112.7 684.5 115.2 684.4 117.7 684.4 120.2 684.4 122.7 684.4 125.2 684.3 127.7 684.3 130.2 684.3 132.7 684.3 135.2 684.3 137.7 684.4 140.2 684.4 142.7 684.4 145.2 684.4 147.7 684.5 150.2 684.5 152.7 684.6 155.2 684.7 157.7 684.8 160.2 684.9 162.7 685.1 165.2 685.3 167.7 685.5 170.2 685.9 171.5 686.1 172.7 686.3 175.2 686.7 177.7 687.1 180.2 687.6 182.7 688.3 183.8 688.6 182.7 688.9 180.2 689.3 177.7 689.7 175.2 690.1 172.7 690.3 170.2 690.6 167.7 690.9 165.4 691.1 165.2 691.4 162.7 693.5 162.6 693.6 161.3 696.1 160.2 696.3 157.7 696.6 155.2 696.8 152.7 697 150.2 697.1 147.7 697.2 145.2 697.3 142.7 697.3 140.2 697.3 137.7 697.3 135.2 697.2 132.7 697.1 130.2 697 127.7 696.8 125.2 696.6 122.7 696.3 121.3 696.1 120.2 693.8 120.1 693.6 117.7 693.3 115.2 693.1 112.7 692.8 110.2 692.5 107.7 692.3 105.2 692 102.7 691.8 100.2 691.6 97.7 691.3 95.5 691.1 95.2 691.1 92.7 690.9 90.2 690.7 87.7 690.5 85.2 690.4 82.7 690.2 80.2 690.1 77.7 689.9 75.2 689.7 72.7 689.5 70.2 689.3 67.7 689 65.2 688.6 65.2 688.6 67.7 688 70.2 687.5 72.7 687 75.2 686.5 77.7 686.1M65.2 688.6 65.2 688.6M95.2 686.1 94.7 686.1 92.7 686.4 90.2 686.8 87.7 687.2 85.2 687.5 82.7 687.9 80.2 688.2 77.7 688.6 77.7 688.6 77.7 688.6 80.2 688.8 82.7 688.9 85.2 689.1 87.7 689.2 90.2 689.3 92.7 689.5 95.2 689.6 97.7 689.8 100.2 689.9 102.7 690.1 105.2 690.3 107.7 690.5 110.2 690.8 112.7 691 113.2 691.1 115.2 691.3 117.7 691.6 120.2 691.8 122.7 692.1 125.2 692.3 127.7 692.4 130.2 692.6 132.7 692.7 135.2 692.7 137.7 692.8 140.2 692.7 142.7 692.7 145.2 692.6 147.7 692.4 150.2 692.1 152.7 691.7 154.8 691.1 155.2 691.1 157.7 690.8 160.2 690.5 162.7 690.3 165.2 690 167.7 689.7 170.2 689.4 172.7 689.1 175.2 688.8 176.1 688.6 175.2 688.4 172.7 687.9 170.2 687.5 167.7 687.1 165.2 686.7 162.7 686.4 160.4 686.1 160.2 686.1 157.7 685.9 155.2 685.7 152.7 685.6 150.2 685.5 147.7 685.4 145.2 685.3 142.7 685.3 140.2 685.3 137.7 685.2 135.2 685.2 132.7 685.2 130.2 685.2 127.7 685.2 125.2 685.3 122.7 685.3 120.2 685.3 117.7 685.4 115.2 685.4 112.7 685.5 110.2 685.5 107.7 685.6 105.2 685.7 102.7 685.8 100.2 685.8 97.7 686 95.2 686.1" stroke="#333" stroke-width=".45" fill="none" opacity=".8" stroke-dasharray="3 1 1 1"/>
</g>
<rect x="27.7" y="641.1" width="176.2" height="68.4" fill="none" stroke="#666" stroke-width=".6"/>
<rect x="205.5" y="641.1" width="7.5" height="68.4" fill="url(#gHot)" stroke="#777" stroke-width=".5"/>
<text x="214.5" y="642.9" font-size="5.2" fill="#222">0.42</text>
<text x="214.5" y="677.1" font-size="5.2" fill="#222">0.21</text>
<text x="214.5" y="711.3" font-size="5.2" fill="#222">0.00</text>
<text x="230.8" y="675" font-size="5" text-anchor="middle" fill="#222" transform="rotate(-90 230.8 675)">Potency-rate Density (m/s)</text>
<line x1="25.2" y1="709.5" x2="27.7" y2="709.5" stroke="#333" stroke-width=".6"/>
<text x="23.5" y="713.1" font-size="10.2" text-anchor="end">0</text>
<line x1="25.2" y1="682.3" x2="27.7" y2="682.3" stroke="#333" stroke-width=".6"/>
<text x="23.5" y="685.9" font-size="10.2" text-anchor="end">5</text>
<line x1="25.2" y1="655.1" x2="27.7" y2="655.1" stroke="#333" stroke-width=".6"/>
<text x="23.5" y="658.7" font-size="10.2" text-anchor="end">10</text>
<text x="67.9" y="720.4" font-size="10.2" text-anchor="middle">−20</text>
<text x="122.3" y="720.4" font-size="10.2" text-anchor="middle">0</text>
<text x="176.7" y="720.4" font-size="10.2" text-anchor="middle">20</text>
<text x="10.1" y="676" font-size="10.1" text-anchor="middle" transform="rotate(-90 10.1 676)">Time (s)</text>
<path d="M240.5 540.4 241 540.4 241.4 540.4 241.9 540.4 242.4 540.4 242.8 540.4 243.3 540.4 243.8 540.4 244.2 540.4 244.7 540.4 245.1 540.4 245.6 540.4 246.1 540.4 246.5 540.4 247 540.4 247.5 540.4 247.9 540.4 248.4 540.4 248.9 547.7 249.3 546.8 249.8 538 250.3 532.3 250.7 535 251.2 533 251.7 531.4 252.1 533.5 252.6 547 253 553.3 253.5 558.4 254 552.1 254.4 557.6 254.9 546.5 255.4 534.6 255.8 525.5 256.3 525.3 256.8 527.9 257.2 532.8 257.7 541.8 258.2 545.5 258.6 549.1 259.1 539.7 259.5 541.5 260 543.4 260.5 545.6 260.9 539.4 261.4 544.9 261.9 537 262.3 541.3 262.8 536.3 263.3 546.2 263.7 541.1 264.2 541.8 264.7 536.8 265.1 540.6 265.6 534.1 266.1 543.7 266.5 538.4 267 540.3 267.4 540 267.9 543.2 268.4 532.1 268.8 536.9 269.3 534 269.8 541.5 270.2 538.2 270.7 542.5 271.2 553.4 271.6 550.8 272.1 552.3 272.6 549.3 273 542.1 273.5 533.1 274 530.4 274.4 529.6 274.9 539.4 275.3 538.5 275.8 538.6 276.3 540.2 276.7 545.3 277.2 542.9 277.7 542.7 278.1 544.1 278.6 537.6 279.1 541.4 279.5 539.6 280 535.3 280.5 533.5 280.9 534.5 281.4 532.7 281.8 541.5 282.3 548.3 282.8 546.9 283.2 546.2 283.7 542.6 284.2 540.2 284.6 535.9 285.1 533.7 285.6 536.4 286 535.2 286.5 536.2 287 545 287.4 545.4 287.9 547 288.4 547.5 288.8 543.1 289.3 542.9 289.7 539.7 290.2 537.6 290.7 540.3 291.1 549 291.6 549.2 292.1 539.6 292.5 541.6 293 544.3 293.5 538.9 293.9 537.9 294.4 537.8 294.9 540.4 295.3 539.4 295.8 533.3 296.3 532.7 296.7 537 297.2 540.6 297.6 540.4 298.1 541.2 298.6 538.8 299 537.9 299.5 537 300 539.8 300.4 540.2 300.9 549 301.4 549 301.8 548.8 302.3 547.1 302.8 543.5 303.2 540 303.7 537.2 304.2 537.8 304.6 539.3 305.1 534.9 305.5 539.1 306 539.4 306.5 544 306.9 541 307.4 541.5 307.9 539.7 308.3 540.1 308.8 537 309.3 538.5 309.7 542.2 310.2 547.6" stroke="#1a1a1a" stroke-width=".8" fill="none"/>
<path d="M240.5 540.4 241 540.4 241.4 540.4 241.9 540.4 242.4 540.4 242.8 540.4 243.3 540.4 243.8 540.4 244.2 540.4 244.7 540.4 245.1 540.4 245.6 540.4 246.1 540.4 246.5 540.4 247 540.4 247.5 540.4 247.9 541.5 248.4 542.5 248.9 542.5 249.3 541.6 249.8 539.9 250.3 536.5 250.7 534 251.2 533 251.7 534.8 252.1 538.9 252.6 544.6 253 547.9 253.5 552.2 254 553.2 254.4 550 254.9 544.4 255.4 539.4 255.8 533.4 256.3 529.4 256.8 530.5 257.2 533.1 257.7 537.3 258.2 540.2 258.6 543.1 259.1 543.9 259.5 545.2 260 544.1 260.5 544.6 260.9 543 261.4 542 261.9 538.9 262.3 539.4 262.8 538.3 263.3 539.3 263.7 538.6 264.2 539.8 264.7 538.6 265.1 539.9 265.6 539.4 266.1 540.6 266.5 540.4 267 540.8 267.4 538.6 267.9 537.8 268.4 536.5 268.8 537.3 269.3 537.5 269.8 539.7 270.2 542.6 270.7 545.8 271.2 547.7 271.6 549.3 272.1 548.7 272.6 545.6 273 541.4 273.5 537.3 274 534.9 274.4 534.1 274.9 534 275.3 535.6 275.8 538.8 276.3 539.9 276.7 541.1 277.2 543.3 277.7 543.1 278.1 541.8 278.6 541.1 279.1 539.1 279.5 537.5 280 536.9 280.5 535.3 280.9 536.1 281.4 539.2 281.8 541.4 282.3 543.3 282.8 545.3 283.2 544.5 283.7 541.6 284.2 539.4 284.6 537.6 285.1 536.2 285.6 535.8 286 537.9 286.5 539.9 287 541.7 287.4 544.3 287.9 545.9 288.4 545.2 288.8 543.6 289.3 541.5 289.7 539.5 290.2 541 290.7 541.8 291.1 541.9 291.6 542.9 292.1 543.9 292.5 541.5 293 540.4 293.5 540.1 293.9 540 294.4 539 294.9 537.7 295.3 536.6 295.8 536.3 296.3 536 296.7 535.9 297.2 537.3 297.6 537.7 298.1 538.4 298.6 538.2 299 538.4 299.5 539.1 300 541.5 300.4 543.7 300.9 546.3 301.4 547.4 301.8 547.1 302.3 545.1 302.8 542.7 303.2 540.5 303.7 539 304.2 538.1 304.6 538.1 305.1 538.1 305.5 538.8 306 539.5 306.5 539.9 306.9 539.8 307.4 539.6 307.9 538.5 308.3 538.8 308.8 540.5 309.3 542.4 309.7 543.4 310.2 545.4" stroke="#ee2a24" stroke-width=".75" fill="none"/>
<text x="259" y="524.9" font-size="4.6" fill="#222">ALE BHZ</text>
<path d="M240.5 576.7 241 576.7 241.5 576.7 241.9 576.7 242.4 576.7 242.9 576.7 243.4 576.7 243.8 576.7 244.3 576.7 244.8 576.7 245.3 576.7 245.7 576.7 246.2 576.7 246.7 576.7 247.2 576.7 247.6 576.7 248.1 576.7 248.6 576.7 249.1 576.7 249.5 580.9 250 582.2 250.5 574.2 251 575.3 251.4 579.8 251.9 568.5 252.4 571.5 252.9 576.2 253.3 567.3 253.8 572.9 254.3 571.8 254.8 581.7 255.3 585.1 255.7 593.4 256.2 582.7 256.7 576.6 257.2 582.6 257.6 577.1 258.1 568 258.6 563.7 259.1 568.7 259.5 567 260 571.6 260.5 583.1 261 585.3 261.4 580.3 261.9 584 262.4 578.1 262.9 575.4 263.3 579.7 263.8 575.4 264.3 575.3 264.8 577.5 265.2 581.7 265.7 579.9 266.2 590.7 266.7 585.1 267.1 575.4 267.6 578.8 268.1 576.9 268.6 568.5 269 565.5 269.5 570.4 270 567.3 270.5 574.6 271 579.6 271.4 582.7 271.9 580.6 272.4 585.6 272.9 574 273.3 568.7 273.8 573 274.3 572.1 274.8 578.3 275.2 577.4 275.7 578.7 276.2 584.7 276.7 587 277.1 577.5 277.6 578.1 278.1 572.6 278.6 567.2 279 562.7 279.5 565.1 280 569.8 280.5 576.5 280.9 576.3 281.4 582.8 281.9 583.7 282.4 585.1 282.8 582.4 283.3 577.2 283.8 572.8 284.3 575.7 284.8 575.4 285.2 569.1 285.7 575 286.2 579.5 286.7 579.8 287.1 580.1 287.6 586.1 288.1 580.3 288.6 588.4 289 584.9 289.5 580.3 290 574.8 290.5 563.5 290.9 564.2 291.4 560 291.9 566.4 292.4 566.9 292.8 574.6 293.3 575.8 293.8 574.5 294.3 580.7 294.7 580.5 295.2 580.4 295.7 585.9 296.2 576.4 296.6 575.3 297.1 574.9 297.6 575.7 298.1 577.5 298.6 578.8 299 579.2 299.5 583.2 300 582.1 300.5 579.8 300.9 583.3 301.4 580.2 301.9 576.6 302.4 574.3 302.8 572.8 303.3 573.9 303.8 575.7 304.3 579.8 304.7 576.6 305.2 582.1 305.7 576.6 306.2 573.8 306.6 575 307.1 574.3 307.6 576.3 308.1 574.6 308.5 574.8 309 571.6 309.5 573.7 310 576.1 310.4 579.7 310.9 583.8 311.4 578 311.9 578.9" stroke="#1a1a1a" stroke-width=".8" fill="none"/>
<path d="M240.5 576.7 241 576.7 241.5 576.7 241.9 576.7 242.4 576.7 242.9 576.7 243.4 576.7 243.8 576.7 244.3 576.7 244.8 576.7 245.3 576.7 245.7 576.7 246.2 576.7 246.7 576.7 247.2 576.7 247.6 576.7 248.1 576.7 248.6 577.4 249.1 578.3 249.5 578.5 250 578.1 250.5 578.7 251 577.4 251.4 575.4 251.9 574.2 252.4 572.8 252.9 570.9 253.3 571.3 253.8 572.9 254.3 575.3 254.8 579.8 255.3 582.4 255.7 582.1 256.2 582.9 256.7 581.3 257.2 576.5 257.6 572.9 258.1 572.2 258.6 569 259.1 567.6 259.5 570.5 260 574.7 260.5 577.8 261 581.1 261.4 582.6 261.9 581.1 262.4 579.3 262.9 576.8 263.3 575.1 263.8 576 264.3 577.6 264.8 577.9 265.2 580.9 265.7 583.1 266.2 582 266.7 580.9 267.1 580 267.6 576 268.1 572.2 268.6 571.5 269 569.7 269.5 569.5 270 572 270.5 575.2 271 577.9 271.4 581.2 271.9 581.1 272.4 579.2 272.9 577.1 273.3 575 273.8 573.9 274.3 574.8 274.8 576.2 275.2 578.2 275.7 580.4 276.2 581.1 276.7 581.5 277.1 580.6 277.6 577.9 278.1 573.4 278.6 570.3 279 568.2 279.5 568.7 280 570.6 280.5 574.4 280.9 577.4 281.4 580.7 281.9 581.8 282.4 581.8 282.8 579.6 283.3 578 283.8 575.9 284.3 573.9 284.8 573.2 285.2 574.9 285.7 576.2 286.2 577.4 286.7 580.7 287.1 582.4 287.6 583.6 288.1 585.2 288.6 585.1 289 582.3 289.5 579.1 290 574.6 290.5 569.5 290.9 567 291.4 565.1 291.9 566.7 292.4 569.5 292.8 571.8 293.3 573.6 293.8 576.7 294.3 577.7 294.7 579.1 295.2 580.2 295.7 579.8 296.2 578.6 296.6 577.6 297.1 576 297.6 575.6 298.1 576.5 298.6 578.5 299 579.7 299.5 580.5 300 581.2 300.5 581.6 300.9 579.8 301.4 578.4 301.9 576.7 302.4 575 302.8 573.9 303.3 574.5 303.8 575.7 304.3 578 304.7 578.7 305.2 578 305.7 577.9 306.2 577.1 306.6 576 307.1 575.1 307.6 575.4 308.1 574.3 308.5 573.6 309 573.1 309.5 574.2 310 576 310.4 577.1 310.9 578.2 311.4 579.2 311.9 579.6" stroke="#ee2a24" stroke-width=".75" fill="none"/>
<text x="259" y="561.2" font-size="4.6" fill="#222">PET BHZ</text>
<path d="M240.5 613.2 241 613.2 241.5 613.2 242 613.2 242.4 613.2 242.9 613.2 243.4 613.2 243.9 613.2 244.4 613.2 244.9 613.2 245.4 613.2 245.8 613.2 246.3 613.2 246.8 613.2 247.3 613.2 247.8 613.2 248.3 613.2 248.7 611.7 249.2 614.8 249.7 613.7 250.2 608.1 250.7 613.2 251.2 606.9 251.7 616 252.1 617.9 252.6 617.5 253.1 606 253.6 602.8 254.1 611.3 254.6 623.6 255.1 631 255.5 628.5 256 622.4 256.5 625.4 257 610.3 257.5 614.6 258 612.9 258.4 603.8 258.9 595.4 259.4 595.6 259.9 598.9 260.4 613.8 260.9 622.7 261.4 622 261.8 620.6 262.3 622 262.8 618.2 263.3 610 263.8 607.7 264.3 607.5 264.8 607.7 265.2 609.2 265.7 611.7 266.2 615.2 266.7 618.7 267.2 614 267.7 613.1 268.1 609.9 268.6 617.1 269.1 611.8 269.6 609.7 270.1 614.9 270.6 613.2 271.1 616.7 271.5 610 272 616.4 272.5 618.6 273 615 273.5 609.8 274 611.9 274.5 612.9 274.9 607.2 275.4 610.6 275.9 615.2 276.4 615 276.9 615.3 277.4 616.4 277.8 609.1 278.3 609.1 278.8 614.2 279.3 610.4 279.8 615 280.3 616.8 280.8 617.2 281.2 608.4 281.7 614.1 282.2 603.4 282.7 604.1 283.2 612.2 283.7 620.1 284.2 608.2 284.6 613.5 285.1 614.9 285.6 610 286.1 615.6 286.6 621.5 287.1 621 287.5 621.3 288 618.4 288.5 613.7 289 615.8 289.5 613.7 290 611.5 290.5 606.8 290.9 602 291.4 609.4 291.9 608.6 292.4 608.1 292.9 614.7 293.4 617.1 293.9 612.8 294.3 616 294.8 614.1 295.3 611.4 295.8 613.9 296.3 608 296.8 612.4 297.2 621.8 297.7 618 298.2 614 298.7 614.1 299.2 614.9 299.7 607.7 300.2 615.8 300.6 610.8 301.1 614.6 301.6 607.4 302.1 611.7 302.6 613 303.1 614.5 303.6 608.6 304 615.9 304.5 616.3 305 612.9 305.5 612.9 306 622.7 306.5 622.9 306.9 624 307.4 621.4 307.9 618.1 308.4 615.5 308.9 606.4 309.4 603.3 309.9 605.3 310.3 605.3 310.8 603 311.3 606.6 311.8 612.6 312.3 614.8 312.8 617.8 313.3 621.5" stroke="#1a1a1a" stroke-width=".8" fill="none"/>
<path d="M240.5 613.2 241 613.2 241.5 613.2 242 613.2 242.4 613.2 242.9 613.2 243.4 613.2 243.9 613.2 244.4 613.2 244.9 613.2 245.4 613.2 245.8 613.2 246.3 613.2 246.8 613.2 247.3 613.2 247.8 613 248.3 613 248.7 613 249.2 612.9 249.7 613.3 250.2 611.9 250.7 611.4 251.2 611.9 251.7 612.6 252.1 610.7 252.6 611.2 253.1 611.9 253.6 613.6 254.1 616.3 254.6 620.4 255.1 623.3 255.5 625.6 256 624.1 256.5 621 257 618 257.5 614.7 258 608.7 258.4 603.5 258.9 601 259.4 601.4 259.9 604.2 260.4 609.9 260.9 616 261.4 620 261.8 621.4 262.3 619.7 262.8 616.2 263.3 612.3 263.8 608.4 264.3 606.1 264.8 606.6 265.2 609.1 265.7 612.9 266.2 616.1 266.7 617 267.2 616.5 267.7 615.8 268.1 614.1 268.6 612.5 269.1 612.9 269.6 612.9 270.1 613 270.6 612.4 271.1 614.2 271.5 614.8 272 615.6 272.5 614.4 273 614.8 273.5 613.2 274 611.1 274.5 609.9 274.9 611.4 275.4 611.7 275.9 612.1 276.4 613.8 276.9 613.9 277.4 613.2 277.8 613.1 278.3 612.8 278.8 613 279.3 614.3 279.8 614.8 280.3 613.9 280.8 614 281.2 611.7 281.7 609.2 282.2 608.9 282.7 610.3 283.2 609.7 283.7 611.6 284.2 613.1 284.6 612.8 285.1 612.8 285.6 615.3 286.1 616.4 286.6 617.8 287.1 619 287.5 619.7 288 618.7 288.5 617.5 289 615.5 289.5 613 290 609.3 290.5 607.5 290.9 606.7 291.4 606.2 291.9 608.3 292.4 611.3 292.9 612.7 293.4 613.9 293.9 615.5 294.3 614.5 294.8 613.9 295.3 613 295.8 612.1 296.3 613.4 296.8 614.5 297.2 614.9 297.7 615.6 298.2 616.4 298.7 613.6 299.2 613.2 299.7 612 300.2 612.4 300.6 611 301.1 612 301.6 611.2 302.1 612.7 302.6 611.4 303.1 613 303.6 613.9 304 614.1 304.5 613.7 305 616.8 305.5 618 306 619 306.5 620.9 306.9 621.9 307.4 619.5 307.9 616 308.4 612.3 308.9 608.9 309.4 606.2 309.9 603.8 310.3 604.3 310.8 606.7 311.3 608.6 311.8 611 312.3 614.9 312.8 616.7 313.3 617.1" stroke="#ee2a24" stroke-width=".75" fill="none"/>
<text x="259" y="597.7" font-size="4.6" fill="#222">CTAO BHZ</text>
<path d="M240.5 650.3 241 650.3 241.4 650.3 241.9 650.3 242.3 650.3 242.8 650.3 243.2 650.3 243.7 650.3 244.1 650.3 244.6 650.3 245 650.3 245.5 650.3 245.9 650.3 246.4 650.3 246.8 650.3 247.3 650.3 247.8 647 248.2 652.4 248.7 650.5 249.1 648.4 249.6 651.1 250 652 250.5 646.7 250.9 642.8 251.4 663 251.8 661.4 252.3 664.8 252.7 659.7 253.2 666.8 253.7 655.9 254.1 645 254.6 635.5 255 634.8 255.5 630.5 255.9 636.9 256.4 642.9 256.8 652.7 257.3 661.9 257.7 662.7 258.2 661.3 258.6 655.4 259.1 656.7 259.5 653.7 260 653.8 260.5 647.4 260.9 640.9 261.4 642.4 261.8 643.8 262.3 643.7 262.7 641.6 263.2 648.1 263.6 655 264.1 652.1 264.5 654.4 265 645.1 265.4 644.9 265.9 645.8 266.3 647.4 266.8 647 267.3 659.5 267.7 662.5 268.2 659.5 268.6 658.9 269.1 655.6 269.5 647.3 270 641.8 270.4 638.4 270.9 639.9 271.3 641.7 271.8 646.8 272.2 648.1 272.7 656 273.2 654.5 273.6 656.7 274.1 655.3 274.5 655.8 275 653.6 275.4 652.9 275.9 643.1 276.3 642.5 276.8 647.7 277.2 648.8 277.7 646.4 278.1 652.7 278.6 653.7 279 651.2 279.5 660.7 280 656 280.4 652 280.9 655.4 281.3 653 281.8 645.7 282.2 648.2 282.7 653 283.1 654.9 283.6 650.6 284 654.1 284.5 649.7 284.9 647.6 285.4 646.3 285.8 645.4 286.3 649.5 286.8 652.4 287.2 655.9 287.7 656.2 288.1 657 288.6 653.3 289 652 289.5 649.8 289.9 649.2 290.4 647.8 290.8 647.9 291.3 641.2 291.7 644.3 292.2 648.7 292.7 650.3 293.1 649 293.6 648.6 294 651.9 294.5 647.6 294.9 642.4 295.4 642.9 295.8 648.5 296.3 655.3 296.7 659.4 297.2 661.6 297.6 656.3 298.1 650 298.5 651.7 299 650.5 299.5 649.2 299.9 647 300.4 646.8 300.8 642.7 301.3 644.5 301.7 644.3 302.2 648.8 302.6 649.6 303.1 650 303.5 650.1 304 648.7 304.4 654.2 304.9 654.2 305.3 651.4 305.8 653.2 306.3 658.8 306.7 648.5 307.2 645.7 307.6 648.9 308.1 646.3 308.5 645.5" stroke="#1a1a1a" stroke-width=".8" fill="none"/>
<path d="M240.5 650.3 241 650.3 241.4 650.3 241.9 650.3 242.3 650.3 242.8 650.3 243.2 650.3 243.7 650.3 244.1 650.3 244.6 650.3 245 650.3 245.5 650.3 245.9 650.3 246.4 650.3 246.8 649.9 247.3 650.6 247.8 651.4 248.2 651.3 248.7 651.5 249.1 652.2 249.6 650.3 250 648.7 250.5 650.9 250.9 653 251.4 655.5 251.8 658.2 252.3 661.3 252.7 660.3 253.2 657 253.7 651.1 254.1 646.7 254.6 640.1 255 636 255.5 635.6 255.9 639.5 256.4 644.4 256.8 650.5 257.3 655.4 257.7 658.4 258.2 659.4 258.6 657.7 259.1 656.6 259.5 654.5 260 651.6 260.5 647.8 260.9 646 261.4 644.5 261.8 644 262.3 645.6 262.7 648 263.2 650.1 263.6 651.6 264.1 651.2 264.5 649.6 265 647.9 265.4 646.7 265.9 646.1 266.3 649.4 266.8 653.6 267.3 656.7 267.7 658.8 268.2 659.7 268.6 657.4 269.1 653.2 269.5 649.6 270 646 270.4 643.1 270.9 641.9 271.3 643 271.8 645.2 272.2 648.8 272.7 651.7 273.2 654.1 273.6 655.1 274.1 655 274.5 653.7 275 651.6 275.4 649 275.9 647.4 276.3 645.8 276.8 644.8 277.2 646.2 277.7 648 278.1 649.4 278.6 652.6 279 654.7 279.5 654.5 280 655.1 280.4 655 280.9 651.4 281.3 649.9 281.8 650.5 282.2 650 282.7 649.7 283.1 652.5 283.6 652.7 284 651.8 284.5 650.6 284.9 649.4 285.4 647.6 285.8 647.7 286.3 648.3 286.8 650.2 287.2 652.7 287.7 654.2 288.1 654.8 288.6 654.2 289 652.7 289.5 650.9 289.9 649.5 290.4 647.5 290.8 646.9 291.3 647.5 291.7 647.5 292.2 647.6 292.7 648.6 293.1 649.2 293.6 648.8 294 647.8 294.5 647 294.9 647 295.4 647.7 295.8 649.7 296.3 653.4 296.7 656.4 297.2 657.2 297.6 657.1 298.1 655.6 298.5 653.3 299 651.2 299.5 650.4 299.9 648.5 300.4 646.5 300.8 645.6 301.3 645.8 301.7 645.8 302.2 647.3 302.6 649 303.1 649.6 303.5 650.1 304 651.2 304.4 651.5 304.9 652.1 305.3 653.7 305.8 653.2 306.3 651.6 306.7 651 307.2 649.7 307.6 647.3 308.1 646.8 308.5 646.9" stroke="#ee2a24" stroke-width=".75" fill="none"/>
<text x="259" y="634.8" font-size="4.6" fill="#222">GSI BHZ</text>
<path d="M240.5 687.3 241 687.3 241.4 687.3 241.9 687.3 242.3 687.3 242.8 687.3 243.2 687.3 243.7 687.3 244.1 687.3 244.6 687.3 245 687.3 245.5 687.3 245.9 687.3 246.4 687.3 246.8 687.3 247.3 687.3 247.7 687.3 248.2 687.3 248.6 687.7 249.1 684.8 249.5 685 250 690.3 250.4 684.6 250.9 684.5 251.3 698 251.8 696.4 252.2 696.1 252.7 697 253.2 695.2 253.6 680.1 254.1 688.1 254.5 679.4 255 679.5 255.4 684 255.9 681.8 256.3 683.1 256.8 689.3 257.2 687.9 257.7 682.2 258.1 678.6 258.6 683.7 259 685.8 259.5 684.8 259.9 691.9 260.4 689.5 260.8 698.2 261.3 697.2 261.7 686.8 262.2 692.2 262.6 685.5 263.1 686.1 263.5 686 264 682.5 264.4 688.7 264.9 690.5 265.4 682.8 265.8 688.5 266.3 689.2 266.7 685.4 267.2 691 267.6 691.5 268.1 696.2 268.5 697.1 269 691.7 269.4 680.6 269.9 676.6 270.3 680.2 270.8 672.9 271.2 676.5 271.7 684 272.1 692.9 272.6 685.3 273 687.2 273.5 688.3 273.9 689.4 274.4 686.5 274.8 684.2 275.3 684 275.7 689.7 276.2 686.4 276.7 689.4 277.1 688.8 277.6 695 278 698.1 278.5 691.1 278.9 689 279.4 693.2 279.8 686.5 280.3 684 280.7 683.8 281.2 686.4 281.6 681.9 282.1 691.6 282.5 683.5 283 685.1 283.4 687.9 283.9 680.3 284.3 677.5 284.8 686.9 285.2 690.9 285.7 686.6 286.1 688.3 286.6 692.6 287 694.2 287.5 691.8 287.9 687.8 288.4 691.7 288.9 689.6 289.3 687.9 289.8 685.3 290.2 694.7 290.7 692.8 291.1 688.8 291.6 689.2 292 683 292.5 684.9 292.9 687.3 293.4 680.5 293.8 683 294.3 687.4 294.7 690.2 295.2 688.1 295.6 688.1 296.1 683.9 296.5 689.3 297 682.2 297.4 683 297.9 685.4 298.3 687.6 298.8 681 299.2 685.6 299.7 688.4 300.1 693.4 300.6 692.8 301.1 698.1 301.5 692.8 302 686.8 302.4 685.4 302.9 683.7 303.3 680.9 303.8 683.4 304.2 687 304.7 689 305.1 692.4 305.6 690.7 306 688.4 306.5 684.8 306.9 684.6 307.4 684.4 307.8 689.2 308.3 686.4" stroke="#1a1a1a" stroke-width=".8" fill="none"/>
<path d="M240.5 687.3 241 687.3 241.4 687.3 241.9 687.3 242.3 687.3 242.8 687.3 243.2 687.3 243.7 687.3 244.1 687.3 244.6 687.3 245 687.3 245.5 687.3 245.9 687.3 246.4 687.3 246.8 687.3 247.3 687.3 247.7 687.4 248.2 687.1 248.6 687 249.1 687.5 249.5 687.3 250 687 250.4 689.4 250.9 691.6 251.3 693.3 251.8 695.3 252.2 696.9 252.7 693.9 253.2 692 253.6 687.8 254.1 684.6 254.5 681.8 255 681.6 255.4 679.9 255.9 682 256.3 682.7 256.8 682.7 257.2 682.5 257.7 683.1 258.1 682.1 258.6 683 259 685.1 259.5 687.7 259.9 690.6 260.4 692.9 260.8 693.3 261.3 693.5 261.7 692.3 262.2 690.5 262.6 688.2 263.1 686.5 263.5 685.8 264 686.7 264.4 685.5 264.9 686.1 265.4 687.5 265.8 687.3 266.3 687.1 266.7 689.1 267.2 691.1 267.6 692.7 268.1 693.8 268.5 691.8 269 689 269.4 686.2 269.9 681.5 270.3 678.5 270.8 679.2 271.2 681.6 271.7 682.7 272.1 686.1 272.6 688.3 273 689.3 273.5 688.4 273.9 688.3 274.4 687 274.8 686.9 275.3 686.3 275.7 686.6 276.2 687 276.7 688.9 277.1 690.7 277.6 692.3 278 692.9 278.5 693.3 278.9 691.5 279.4 688.7 279.8 686.5 280.3 685 280.7 683.6 281.2 684.4 281.6 684.7 282.1 685.4 282.5 686.1 283 685.2 283.4 682.8 283.9 683.3 284.3 683.5 284.8 682.9 285.2 685 285.7 688.2 286.1 689.5 286.6 690.1 287 690.5 287.5 690.8 287.9 691.2 288.4 689.6 288.9 689.1 289.3 690.9 289.8 691.5 290.2 690.4 290.7 691 291.1 690.5 291.6 688.5 292 687.3 292.5 685.4 292.9 684.3 293.4 684.3 293.8 685.1 294.3 685.1 294.7 686.9 295.2 687.3 295.6 687.4 296.1 685.8 296.5 685.2 297 684 297.4 684.2 297.9 683.5 298.3 684.2 298.8 684.8 299.2 686.5 299.7 688.1 300.1 691.2 300.6 692.8 301.1 692.7 301.5 691.7 302 689.6 302.4 686 302.9 684 303.3 683.9 303.8 684.5 304.2 686.2 304.7 688.4 305.1 689.2 305.6 688.6 306 687.6 306.5 686.5 306.9 686.1 307.4 686.1 307.8 686.7 308.3 687.3" stroke="#ee2a24" stroke-width=".75" fill="none"/>
<text x="259" y="671.8" font-size="4.6" fill="#222">ABKT BHZ</text>
<path d="M240.5 705H313.4" stroke="#444" stroke-width=".5"/>
<path d="M240.5 705v-1.2" stroke="#444" stroke-width=".5"/>
<text x="240.5" y="710.2" font-size="4.6" text-anchor="middle" fill="#222">0</text>
<path d="M267.2 705v-1.2" stroke="#444" stroke-width=".5"/>
<text x="267.2" y="710.2" font-size="4.6" text-anchor="middle" fill="#222">20</text>
<path d="M294 705v-1.2" stroke="#444" stroke-width=".5"/>
<text x="294" y="710.2" font-size="4.6" text-anchor="middle" fill="#222">40</text>
<text x="277.6" y="716.2" font-size="4.8" text-anchor="middle" fill="#222">Time (s)</text>
<rect x="343.7" y="357.9" width="11.3" height="12.3" fill="#fff" stroke="#bbb" stroke-width="0.8"/>
<text x="349.3" y="368.4" font-size="10.6" text-anchor="middle">C</text>
<text x="374.2" y="367.9" font-size="10.5" font-weight="bold" textLength="42" lengthAdjust="spacingAndGlyphs">Event #2</text>
<circle cx="399.3" cy="420.1" r="25.8" fill="#fff"/>
<path d="M378.1 406.2L420.8 433.8M413 398.5L386.2 441.3" stroke="#333" stroke-width=".45"/>
<path d="M378.1 406.2A25.8 25.8 0 0 1 413 398.5C412.5 406 410 415.5 401.5 419.5C394 421.5 386 413 378.1 406.2Z" fill="#c0302a"/>
<path d="M386.2 441.3C392 437 398 430 405.4 430C411 430 416 432 420.8 433.8A25.8 25.8 0 0 1 386.2 441.3Z" fill="#c0302a"/>
<circle cx="399.3" cy="420.1" r="25.8" fill="none" stroke="#555" stroke-width=".6"/>
<path d="M458.4 448.9 L464.2 441.3 L471.2 433.3 L477.3 418 L481 406.3 L483.9 396.1 L486.8 393.9 L489.7 395.3 L496.3 403.4 L503.6 416.5 L507.3 423.8 L511.6 435.5 L515 438.4 L518.2 436.2 L521.9 430.4 L524.8 428.2 L527.7 435.5 L531.4 448.9Z" fill="#c0302a"/>
<path d="M458.4 391V448.9" stroke="#888" stroke-width=".8"/>
<line x1="458.4" y1="448.9" x2="459.9" y2="448.9" stroke="#888" stroke-width=".6"/>
<text x="456.2" y="452.5" font-size="10.2" text-anchor="end">0</text>
<line x1="458.4" y1="431.1" x2="459.9" y2="431.1" stroke="#888" stroke-width=".6"/>
<text x="456.2" y="434.7" font-size="10.2" text-anchor="end">2</text>
<line x1="458.4" y1="413.3" x2="459.9" y2="413.3" stroke="#888" stroke-width=".6"/>
<text x="456.2" y="416.9" font-size="10.2" text-anchor="end">4</text>
<line x1="458.4" y1="395.5" x2="459.9" y2="395.5" stroke="#888" stroke-width=".6"/>
<text x="456.2" y="399.1" font-size="10.2" text-anchor="end">6</text>
<text x="458.4" y="458" font-size="10.2" text-anchor="middle">0</text>
<text x="489.9" y="458" font-size="10.2" text-anchor="middle">5</text>
<text x="521.4" y="458" font-size="10.2" text-anchor="middle">10</text>
<text x="494.9" y="467.3" font-size="8.3" text-anchor="middle">Time (s)</text>
<text x="445.4" y="420" font-size="8.3" text-anchor="middle" transform="rotate(-90 445.4 420)">Moment rate (10<tspan font-size="5.5" dy="-3">18</tspan><tspan dy="3"> Nm/s)</tspan></text>
<text x="564.5" y="388.6" font-size="6.25" fill="#111">Seismic Moment = 0.2681E+20 Nm</text>
<text x="564.5" y="398.5" font-size="6.25" fill="#111">Mw = 6.89</text>
<text x="564.5" y="408.3" font-size="6.25" fill="#111">(Strike, Dip)=(151°, 90° )</text>
<text x="564.5" y="418.2" font-size="6.25" fill="#111">Hypo.= 21.970°, 120.420°, 47.5 km</text>
<text x="564.5" y="428" font-size="6.25" fill="#111">Variance = 0.53860</text>
<defs><clipPath id="sm646"><circle cx="646.5" cy="466.5" r="38.2"/></clipPath></defs>
<circle cx="646.5" cy="466.5" r="38.2" fill="#fff"/>
<g clip-path="url(#sm646)">
<path d="M604.5 424.5 L623.6 434 L622.8 447.4 L620.5 462.7 L621.3 478 L625.1 489.4 L631.2 501.6 L604.5 508.5Z" fill="#e0e0e0"/>
<path d="M623.6 434 L638.9 429.4 L658 430.2 L670.2 439 L668.7 449.3 L659.9 455 L654.1 458.1 L650.3 461.9 L646.5 458.9 L638.9 458.9 L633.1 463.4 L627.4 471.1 L623.6 466.5 L622.8 447.4Z" fill="#e0e0e0"/>
<path d="M637 460.8 L654.1 458.9 L656.8 469.6 L652.2 476.8 L642.7 478 L637 470.3Z" fill="#e0e0e0"/>
<path d="M646.5 478.7 L663.7 476.4 L673.2 481.8 L671.7 491.7 L659.9 490.6 L648.4 485.6Z" fill="#e0e0e0"/>
<path d="M629.3 499.4 L658 497.1 L667.5 502.8 L635 508.5Z" fill="#e0e0e0"/>
<path d="M658 432.1 L675.1 442.8 L679.4 449.3 L668.7 448.9Z" fill="#e0e0e0"/>
</g>
<circle cx="646.5" cy="466.5" r="38.2" fill="none" stroke="#333" stroke-width=".6"/>
<circle cx="646.5" cy="466.5" r="30.8" fill="none" stroke="#444" stroke-width=".4"/>
<circle cx="646.5" cy="466.5" r="10.3" fill="none" stroke="#555" stroke-width=".35"/>
<path d="M646.5 463.9 L647.1 465.6 L649 465.7 L647.5 466.8 L648 468.6 L646.5 467.6 L645 468.6 L645.5 466.8 L644 465.7 L645.9 465.6Z" fill="#000" stroke="none" stroke-width=".5"/>
<path d="M635 437.8l1.2 2h-2.4z" fill="#000"/>
<text x="636.3" y="440" font-size="3" fill="#000">ESK</text>
<path d="M631.2 442.4l1.2 2h-2.4z" fill="#e00"/>
<text x="632.5" y="444.6" font-size="3" fill="#e00">BFO</text>
<path d="M642.7 443.1l1.2 2h-2.4z" fill="#000"/>
<text x="644" y="445.3" font-size="3" fill="#000">KEV</text>
<path d="M629.3 447l1.2 2h-2.4z" fill="#000"/>
<text x="630.6" y="449.2" font-size="3" fill="#000">KIV</text>
<path d="M638.9 446.2l1.2 2h-2.4z" fill="#000"/>
<text x="640.2" y="448.4" font-size="3" fill="#000">ARU</text>
<path d="M667.5 444.3l1.2 2h-2.4z" fill="#e00"/>
<text x="668.8" y="446.5" font-size="3" fill="#e00">COLA</text>
<path d="M669.4 447l1.2 2h-2.4z" fill="#000"/>
<text x="670.7" y="449.2" font-size="3" fill="#000">ADK</text>
<path d="M627.4 451.9l1.2 2h-2.4z" fill="#000"/>
<text x="628.7" y="454.1" font-size="3" fill="#000">ANTO</text>
<path d="M635 453.1l1.2 2h-2.4z" fill="#000"/>
<text x="636.3" y="455.3" font-size="3" fill="#000">KURK</text>
<path d="M646.5 453.8l1.2 2h-2.4z" fill="#000"/>
<text x="647.8" y="456" font-size="3" fill="#000">TIXI</text>
<path d="M623.6 455.8l1.2 2h-2.4z" fill="#000"/>
<text x="624.9" y="457.9" font-size="3" fill="#000">LSZ</text>
<path d="M635 456.9l1.2 2h-2.4z" fill="#000"/>
<text x="636.3" y="459.1" font-size="3" fill="#000">BRVK</text>
<path d="M648.4 458.4l1.2 2h-2.4z" fill="#000"/>
<text x="649.7" y="460.6" font-size="3" fill="#000">YSS</text>
<path d="M658 457.7l1.2 2h-2.4z" fill="#000"/>
<text x="659.3" y="459.9" font-size="3" fill="#000">PET</text>
<path d="M638.9 461.5l1.2 2h-2.4z" fill="#000"/>
<text x="640.2" y="463.7" font-size="3" fill="#000">WMQ</text>
<path d="M617.9 462.2l1.2 2h-2.4z" fill="#e00"/>
<text x="619.1" y="464.4" font-size="3" fill="#e00">ATD</text>
<path d="M615.9 467.2l1.2 2h-2.4z" fill="#000"/>
<text x="617.2" y="469.4" font-size="3" fill="#000">KMBO</text>
<path d="M621.7 471l1.2 2h-2.4z" fill="#000"/>
<text x="623" y="473.2" font-size="3" fill="#000">ABKT</text>
<path d="M665.6 467.2l1.2 2h-2.4z" fill="#000"/>
<text x="666.9" y="469.4" font-size="3" fill="#000">PATS</text>
<path d="M638.9 476.8l1.2 2h-2.4z" fill="#000"/>
<text x="640.2" y="479" font-size="3" fill="#000">NIL</text>
<path d="M658 476.8l1.2 2h-2.4z" fill="#000"/>
<text x="659.3" y="479" font-size="3" fill="#000">KDAK</text>
<path d="M669.4 476.8l1.2 2h-2.4z" fill="#000"/>
<text x="670.7" y="479" font-size="3" fill="#000">AK</text>
<path d="M654.1 479.8l1.2 2h-2.4z" fill="#e00"/>
<text x="655.4" y="482" font-size="3" fill="#e00">CTAO</text>
<path d="M646.5 483.6l1.2 2h-2.4z" fill="#000"/>
<text x="647.8" y="485.8" font-size="3" fill="#000">TAU</text>
<path d="M658 486.3l1.2 2h-2.4z" fill="#000"/>
<text x="659.3" y="488.5" font-size="3" fill="#000">SNZO</text>
<path d="M642.7 497.8l1.2 2h-2.4z" fill="#e00"/>
<text x="644" y="500" font-size="3" fill="#e00">CASY</text>
<defs><clipPath id="hC"><rect x="369.6" y="470.6" width="203" height="146.1"/></clipPath><filter id="hCf" x="-5%" y="-5%" width="110%" height="110%"><feGaussianBlur stdDeviation="2.6"/></filter></defs>
<g clip-path="url(#hC)"><g filter="url(#hCf)">
<path fill="#ffffff" d="M364.6 465.6h10.3v5.3h-10.3zM569.6 465.6h15.3v5.3h-15.3zM364.6 470.6h10.3v5.3h-10.3zM569.6 470.6h15.3v5.3h-15.3zM364.6 475.6h10.3v5.3h-10.3zM569.6 475.6h15.3v5.3h-15.3zM364.6 480.6h10.3v5.3h-10.3zM569.6 480.6h15.3v5.3h-15.3zM364.6 485.6h10.3v5.3h-10.3zM569.6 485.6h15.3v5.3h-15.3zM364.6 490.6h10.3v5.3h-10.3zM569.6 490.6h15.3v5.3h-15.3zM364.6 495.6h10.3v5.3h-10.3zM569.6 495.6h15.3v5.3h-15.3zM364.6 500.6h10.3v5.3h-10.3zM569.6 500.6h15.3v5.3h-15.3zM364.6 505.6h10.3v5.3h-10.3zM569.6 505.6h15.3v5.3h-15.3zM364.6 510.6h10.3v5.3h-10.3zM569.6 510.6h15.3v5.3h-15.3zM364.6 515.6h10.3v5.3h-10.3zM569.6 515.6h15.3v5.3h-15.3zM364.6 520.6h10.3v5.3h-10.3zM569.6 520.6h15.3v5.3h-15.3zM364.6 525.6h10.3v5.3h-10.3zM569.6 525.6h15.3v5.3h-15.3zM364.6 530.6h10.3v5.3h-10.3zM569.6 530.6h15.3v5.3h-15.3zM364.6 535.6h10.3v5.3h-10.3zM569.6 535.6h15.3v5.3h-15.3zM364.6 540.6h10.3v5.3h-10.3zM569.6 540.6h15.3v5.3h-15.3zM364.6 545.6h10.3v5.3h-10.3zM569.6 545.6h15.3v5.3h-15.3zM364.6 550.6h10.3v5.3h-10.3zM569.6 550.6h15.3v5.3h-15.3zM364.6 555.6h10.3v5.3h-10.3zM569.6 555.6h15.3v5.3h-15.3zM364.6 560.6h10.3v5.3h-10.3zM569.6 560.6h15.3v5.3h-15.3zM364.6 565.6h10.3v5.3h-10.3zM569.6 565.6h15.3v5.3h-15.3zM364.6 570.6h10.3v5.3h-10.3zM569.6 570.6h15.3v5.3h-15.3zM364.6 575.6h10.3v5.3h-10.3zM569.6 575.6h15.3v5.3h-15.3zM364.6 580.6h10.3v5.3h-10.3zM569.6 580.6h15.3v5.3h-15.3zM364.6 585.6h10.3v5.3h-10.3zM569.6 585.6h15.3v5.3h-15.3zM364.6 590.6h10.3v5.3h-10.3zM569.6 590.6h15.3v5.3h-15.3zM364.6 595.6h10.3v5.3h-10.3zM569.6 595.6h15.3v5.3h-15.3zM364.6 600.6h10.3v5.3h-10.3zM569.6 600.6h15.3v5.3h-15.3zM364.6 605.6h10.3v5.3h-10.3zM569.6 605.6h15.3v5.3h-15.3zM364.6 610.6h15.3v5.3h-15.3zM569.6 610.6h15.3v5.3h-15.3zM364.6 615.6h220.3v5.3h-220.3zM364.6 620.6h220.3v5.3h-220.3zM364.6 625.6h220.3v5.3h-220.3z"/>
<path fill="#fffffa" d="M374.6 465.6h5.3v5.3h-5.3zM374.6 470.6h5.3v5.3h-5.3zM379.6 610.6h5.3v5.3h-5.3zM564.6 610.6h5.3v5.3h-5.3z"/>
<path fill="#fffff0" d="M379.6 465.6h5.3v5.3h-5.3zM564.6 465.6h5.3v5.3h-5.3zM379.6 470.6h5.3v5.3h-5.3zM374.6 495.6h5.3v5.3h-5.3zM374.6 500.6h5.3v5.3h-5.3zM374.6 505.6h5.3v5.3h-5.3zM374.6 510.6h5.3v5.3h-5.3zM374.6 515.6h5.3v5.3h-5.3zM374.6 520.6h5.3v5.3h-5.3zM374.6 525.6h5.3v5.3h-5.3zM374.6 530.6h5.3v5.3h-5.3zM374.6 535.6h5.3v5.3h-5.3zM374.6 540.6h5.3v5.3h-5.3zM374.6 545.6h5.3v5.3h-5.3zM374.6 595.6h5.3v5.3h-5.3zM374.6 600.6h5.3v5.3h-5.3z"/>
<path fill="#ffffe6" d="M384.6 465.6h5.3v5.3h-5.3zM399.6 610.6h100.3v5.3h-100.3zM539.6 610.6h20.3v5.3h-20.3z"/>
<path fill="#ffffd6" d="M389.6 465.6h5.3v5.3h-5.3zM379.6 485.6h5.3v5.3h-5.3zM564.6 485.6h5.3v5.3h-5.3zM379.6 490.6h5.3v5.3h-5.3zM564.6 490.6h5.3v5.3h-5.3zM379.6 495.6h5.3v5.3h-5.3zM564.6 495.6h5.3v5.3h-5.3zM379.6 500.6h5.3v5.3h-5.3zM564.6 500.6h5.3v5.3h-5.3zM379.6 505.6h5.3v5.3h-5.3zM564.6 505.6h5.3v5.3h-5.3zM379.6 510.6h5.3v5.3h-5.3zM564.6 510.6h5.3v5.3h-5.3zM379.6 515.6h5.3v5.3h-5.3zM564.6 515.6h5.3v5.3h-5.3zM379.6 520.6h5.3v5.3h-5.3zM564.6 520.6h5.3v5.3h-5.3zM379.6 525.6h5.3v5.3h-5.3zM564.6 525.6h5.3v5.3h-5.3zM379.6 530.6h5.3v5.3h-5.3zM564.6 530.6h5.3v5.3h-5.3zM564.6 535.6h5.3v5.3h-5.3zM564.6 540.6h5.3v5.3h-5.3zM564.6 545.6h5.3v5.3h-5.3zM564.6 550.6h5.3v5.3h-5.3zM564.6 555.6h5.3v5.3h-5.3zM564.6 560.6h5.3v5.3h-5.3zM564.6 565.6h5.3v5.3h-5.3zM564.6 570.6h5.3v5.3h-5.3zM564.6 575.6h5.3v5.3h-5.3z"/>
<path fill="#ffffcc" d="M394.6 465.6h5.3v5.3h-5.3zM389.6 470.6h5.3v5.3h-5.3zM379.6 540.6h5.3v5.3h-5.3zM564.6 595.6h5.3v5.3h-5.3zM379.6 600.6h5.3v5.3h-5.3z"/>
<path fill="#ffffc6" d="M399.6 465.6h5.3v5.3h-5.3zM559.6 465.6h5.3v5.3h-5.3zM379.6 545.6h5.3v5.3h-5.3zM379.6 550.6h5.3v5.3h-5.3zM379.6 555.6h5.3v5.3h-5.3zM379.6 560.6h5.3v5.3h-5.3zM379.6 565.6h5.3v5.3h-5.3zM379.6 570.6h5.3v5.3h-5.3zM379.6 575.6h5.3v5.3h-5.3zM379.6 580.6h5.3v5.3h-5.3zM379.6 585.6h5.3v5.3h-5.3zM564.6 585.6h5.3v5.3h-5.3zM379.6 590.6h5.3v5.3h-5.3zM564.6 590.6h5.3v5.3h-5.3zM379.6 595.6h5.3v5.3h-5.3z"/>
<path fill="#ffffbe" d="M404.6 465.6h5.3v5.3h-5.3zM384.6 475.6h5.3v5.3h-5.3z"/>
<path fill="#ffffb7" d="M409.6 465.6h5.3v5.3h-5.3zM394.6 470.6h10.3v5.3h-10.3zM559.6 470.6h5.3v5.3h-5.3z"/>
<path fill="#ffffaf" d="M414.6 465.6h5.3v5.3h-5.3zM404.6 470.6h10.3v5.3h-10.3zM384.6 480.6h5.3v5.3h-5.3zM384.6 605.6h5.3v5.3h-5.3z"/>
<path fill="#ffffa7" d="M419.6 465.6h5.3v5.3h-5.3zM554.6 465.6h5.3v5.3h-5.3zM384.6 485.6h5.3v5.3h-5.3zM384.6 490.6h5.3v5.3h-5.3zM384.6 495.6h5.3v5.3h-5.3zM384.6 500.6h5.3v5.3h-5.3zM384.6 505.6h5.3v5.3h-5.3zM384.6 510.6h5.3v5.3h-5.3zM384.6 515.6h5.3v5.3h-5.3zM384.6 520.6h5.3v5.3h-5.3zM384.6 525.6h5.3v5.3h-5.3zM384.6 530.6h5.3v5.3h-5.3z"/>
<path fill="#ffff97" d="M424.6 465.6h5.3v5.3h-5.3zM474.6 465.6h75.3v5.3h-75.3zM384.6 535.6h5.3v5.3h-5.3z"/>
<path fill="#ffff8f" d="M429.6 465.6h15.3v5.3h-15.3zM454.6 465.6h20.3v5.3h-20.3zM419.6 470.6h5.3v5.3h-5.3zM554.6 470.6h5.3v5.3h-5.3zM389.6 475.6h5.3v5.3h-5.3z"/>
<path fill="#ffff87" d="M444.6 465.6h10.3v5.3h-10.3zM424.6 470.6h5.3v5.3h-5.3zM504.6 470.6h50.3v5.3h-50.3zM384.6 540.6h5.3v5.3h-5.3z"/>
<path fill="#ffff9f" d="M549.6 465.6h5.3v5.3h-5.3zM414.6 470.6h5.3v5.3h-5.3z"/>
<path fill="#ffffdb" d="M384.6 470.6h5.3v5.3h-5.3zM379.6 480.6h5.3v5.3h-5.3zM564.6 480.6h5.3v5.3h-5.3zM379.6 605.6h5.3v5.3h-5.3z"/>
<path fill="#ffff77" d="M429.6 470.6h15.3v5.3h-15.3zM454.6 470.6h15.3v5.3h-15.3zM394.6 475.6h5.3v5.3h-5.3zM389.6 480.6h5.3v5.3h-5.3zM389.6 485.6h5.3v5.3h-5.3zM389.6 490.6h5.3v5.3h-5.3zM389.6 495.6h5.3v5.3h-5.3zM389.6 500.6h5.3v5.3h-5.3zM389.6 505.6h5.3v5.3h-5.3zM389.6 510.6h5.3v5.3h-5.3zM389.6 515.6h5.3v5.3h-5.3zM389.6 520.6h5.3v5.3h-5.3zM389.6 525.6h5.3v5.3h-5.3zM384.6 545.6h5.3v5.3h-5.3zM384.6 560.6h5.3v5.3h-5.3zM384.6 565.6h5.3v5.3h-5.3zM389.6 605.6h5.3v5.3h-5.3zM559.6 605.6h5.3v5.3h-5.3z"/>
<path fill="#ffff6f" d="M444.6 470.6h10.3v5.3h-10.3zM399.6 475.6h10.3v5.3h-10.3zM559.6 475.6h5.3v5.3h-5.3zM389.6 530.6h5.3v5.3h-5.3zM384.6 550.6h5.3v5.3h-5.3zM384.6 555.6h5.3v5.3h-5.3z"/>
<path fill="#ffff7f" d="M469.6 470.6h35.3v5.3h-35.3zM384.6 570.6h5.3v5.3h-5.3zM384.6 575.6h5.3v5.3h-5.3zM384.6 580.6h5.3v5.3h-5.3zM384.6 585.6h5.3v5.3h-5.3zM384.6 590.6h5.3v5.3h-5.3zM384.6 595.6h5.3v5.3h-5.3zM384.6 600.6h5.3v5.3h-5.3z"/>
<path fill="#ffffeb" d="M564.6 470.6h5.3v5.3h-5.3zM374.6 550.6h5.3v5.3h-5.3zM374.6 555.6h5.3v5.3h-5.3zM374.6 560.6h5.3v5.3h-5.3zM374.6 565.6h5.3v5.3h-5.3zM374.6 570.6h5.3v5.3h-5.3zM374.6 575.6h5.3v5.3h-5.3zM374.6 580.6h5.3v5.3h-5.3zM374.6 585.6h5.3v5.3h-5.3zM374.6 590.6h5.3v5.3h-5.3zM389.6 610.6h10.3v5.3h-10.3zM559.6 610.6h5.3v5.3h-5.3z"/>
<path fill="#fffff5" d="M374.6 475.6h5.3v5.3h-5.3zM374.6 480.6h5.3v5.3h-5.3zM374.6 485.6h5.3v5.3h-5.3zM374.6 490.6h5.3v5.3h-5.3zM374.6 605.6h5.3v5.3h-5.3zM384.6 610.6h5.3v5.3h-5.3z"/>
<path fill="#ffffe0" d="M379.6 475.6h5.3v5.3h-5.3zM564.6 475.6h5.3v5.3h-5.3zM564.6 605.6h5.3v5.3h-5.3zM499.6 610.6h40.3v5.3h-40.3z"/>
<path fill="#ffff67" d="M409.6 475.6h5.3v5.3h-5.3z"/>
<path fill="#ffff57" d="M414.6 475.6h5.3v5.3h-5.3zM409.6 480.6h5.3v5.3h-5.3zM409.6 485.6h5.3v5.3h-5.3zM409.6 490.6h5.3v5.3h-5.3zM409.6 495.6h5.3v5.3h-5.3zM409.6 500.6h5.3v5.3h-5.3zM409.6 505.6h5.3v5.3h-5.3zM409.6 510.6h5.3v5.3h-5.3zM409.6 515.6h5.3v5.3h-5.3zM409.6 520.6h5.3v5.3h-5.3zM409.6 525.6h5.3v5.3h-5.3zM394.6 530.6h15.3v5.3h-15.3zM389.6 535.6h5.3v5.3h-5.3zM394.6 605.6h5.3v5.3h-5.3zM424.6 605.6h55.3v5.3h-55.3z"/>
<path fill="#ffff3f" d="M419.6 475.6h5.3v5.3h-5.3zM414.6 490.6h5.3v5.3h-5.3zM414.6 495.6h5.3v5.3h-5.3zM414.6 500.6h5.3v5.3h-5.3zM414.6 505.6h5.3v5.3h-5.3zM414.6 510.6h5.3v5.3h-5.3zM414.6 515.6h5.3v5.3h-5.3zM414.6 520.6h5.3v5.3h-5.3zM414.6 525.6h5.3v5.3h-5.3zM414.6 530.6h5.3v5.3h-5.3zM399.6 535.6h15.3v5.3h-15.3zM389.6 540.6h5.3v5.3h-5.3zM559.6 575.6h5.3v5.3h-5.3zM499.6 605.6h5.3v5.3h-5.3zM549.6 605.6h5.3v5.3h-5.3z"/>
<path fill="#ffff28" d="M424.6 475.6h5.3v5.3h-5.3zM484.6 475.6h70.3v5.3h-70.3zM419.6 480.6h5.3v5.3h-5.3zM419.6 485.6h5.3v5.3h-5.3zM419.6 490.6h5.3v5.3h-5.3zM404.6 540.6h10.3v5.3h-10.3zM514.6 605.6h5.3v5.3h-5.3zM539.6 605.6h5.3v5.3h-5.3z"/>
<path fill="#ffff18" d="M429.6 475.6h10.3v5.3h-10.3zM469.6 475.6h5.3v5.3h-5.3zM499.6 480.6h60.3v5.3h-60.3zM504.6 485.6h55.3v5.3h-55.3zM509.6 490.6h50.3v5.3h-50.3zM514.6 495.6h45.3v5.3h-45.3zM519.6 500.6h40.3v5.3h-40.3zM419.6 505.6h5.3v5.3h-5.3zM524.6 505.6h35.3v5.3h-35.3zM419.6 510.6h5.3v5.3h-5.3zM529.6 510.6h30.3v5.3h-30.3zM419.6 515.6h5.3v5.3h-5.3zM529.6 515.6h30.3v5.3h-30.3zM419.6 520.6h5.3v5.3h-5.3zM534.6 520.6h25.3v5.3h-25.3zM419.6 525.6h5.3v5.3h-5.3zM539.6 525.6h20.3v5.3h-20.3zM419.6 530.6h5.3v5.3h-5.3zM539.6 530.6h20.3v5.3h-20.3zM419.6 535.6h5.3v5.3h-5.3zM544.6 535.6h15.3v5.3h-15.3zM394.6 540.6h5.3v5.3h-5.3zM544.6 540.6h15.3v5.3h-15.3zM409.6 545.6h10.3v5.3h-10.3zM549.6 545.6h10.3v5.3h-10.3zM549.6 550.6h10.3v5.3h-10.3zM389.6 555.6h5.3v5.3h-5.3zM549.6 555.6h10.3v5.3h-10.3zM554.6 560.6h5.3v5.3h-5.3zM554.6 565.6h5.3v5.3h-5.3zM424.6 570.6h5.3v5.3h-5.3zM424.6 575.6h15.3v5.3h-15.3zM424.6 580.6h20.3v5.3h-20.3zM424.6 585.6h25.3v5.3h-25.3zM559.6 585.6h5.3v5.3h-5.3zM424.6 590.6h30.3v5.3h-30.3zM424.6 595.6h35.3v5.3h-35.3zM559.6 595.6h5.3v5.3h-5.3zM424.6 600.6h45.3v5.3h-45.3zM524.6 605.6h5.3v5.3h-5.3z"/>
<path fill="#ffff10" d="M439.6 475.6h5.3v5.3h-5.3zM459.6 475.6h10.3v5.3h-10.3zM424.6 480.6h5.3v5.3h-5.3zM489.6 480.6h10.3v5.3h-10.3zM494.6 485.6h10.3v5.3h-10.3zM499.6 490.6h10.3v5.3h-10.3zM504.6 495.6h10.3v5.3h-10.3zM509.6 500.6h10.3v5.3h-10.3zM514.6 505.6h10.3v5.3h-10.3zM519.6 510.6h10.3v5.3h-10.3zM524.6 515.6h5.3v5.3h-5.3zM524.6 520.6h10.3v5.3h-10.3zM529.6 525.6h10.3v5.3h-10.3zM534.6 530.6h5.3v5.3h-5.3zM534.6 535.6h10.3v5.3h-10.3zM419.6 540.6h5.3v5.3h-5.3zM539.6 540.6h5.3v5.3h-5.3zM404.6 545.6h5.3v5.3h-5.3zM419.6 545.6h5.3v5.3h-5.3zM539.6 545.6h10.3v5.3h-10.3zM389.6 550.6h5.3v5.3h-5.3zM409.6 550.6h15.3v5.3h-15.3zM544.6 550.6h5.3v5.3h-5.3zM409.6 555.6h20.3v5.3h-20.3zM544.6 555.6h5.3v5.3h-5.3zM414.6 560.6h20.3v5.3h-20.3zM544.6 560.6h10.3v5.3h-10.3zM419.6 565.6h20.3v5.3h-20.3zM549.6 565.6h5.3v5.3h-5.3zM394.6 570.6h5.3v5.3h-5.3zM419.6 570.6h5.3v5.3h-5.3zM429.6 570.6h15.3v5.3h-15.3zM549.6 570.6h10.3v5.3h-10.3zM394.6 575.6h5.3v5.3h-5.3zM419.6 575.6h5.3v5.3h-5.3zM439.6 575.6h10.3v5.3h-10.3zM394.6 580.6h5.3v5.3h-5.3zM419.6 580.6h5.3v5.3h-5.3zM444.6 580.6h10.3v5.3h-10.3zM394.6 585.6h5.3v5.3h-5.3zM419.6 585.6h5.3v5.3h-5.3zM449.6 585.6h10.3v5.3h-10.3zM394.6 590.6h5.3v5.3h-5.3zM419.6 590.6h5.3v5.3h-5.3zM454.6 590.6h10.3v5.3h-10.3zM394.6 595.6h5.3v5.3h-5.3zM419.6 595.6h5.3v5.3h-5.3zM459.6 595.6h15.3v5.3h-15.3zM394.6 600.6h5.3v5.3h-5.3zM419.6 600.6h5.3v5.3h-5.3zM469.6 600.6h10.3v5.3h-10.3z"/>
<path fill="#ffff08" d="M444.6 475.6h15.3v5.3h-15.3zM484.6 480.6h5.3v5.3h-5.3zM424.6 485.6h5.3v5.3h-5.3zM489.6 485.6h5.3v5.3h-5.3zM494.6 490.6h5.3v5.3h-5.3zM499.6 495.6h5.3v5.3h-5.3zM504.6 500.6h5.3v5.3h-5.3zM509.6 505.6h5.3v5.3h-5.3zM514.6 510.6h5.3v5.3h-5.3zM519.6 515.6h5.3v5.3h-5.3zM524.6 525.6h5.3v5.3h-5.3zM529.6 530.6h5.3v5.3h-5.3zM534.6 540.6h5.3v5.3h-5.3zM424.6 550.6h5.3v5.3h-5.3zM539.6 550.6h5.3v5.3h-5.3zM429.6 555.6h5.3v5.3h-5.3zM539.6 555.6h5.3v5.3h-5.3zM404.6 560.6h10.3v5.3h-10.3zM434.6 560.6h5.3v5.3h-5.3zM394.6 565.6h10.3v5.3h-10.3zM414.6 565.6h5.3v5.3h-5.3zM439.6 565.6h5.3v5.3h-5.3zM544.6 565.6h5.3v5.3h-5.3zM399.6 570.6h5.3v5.3h-5.3zM414.6 570.6h5.3v5.3h-5.3zM444.6 570.6h5.3v5.3h-5.3zM399.6 575.6h5.3v5.3h-5.3zM449.6 575.6h5.3v5.3h-5.3zM554.6 575.6h5.3v5.3h-5.3zM399.6 580.6h5.3v5.3h-5.3zM454.6 580.6h5.3v5.3h-5.3zM399.6 585.6h5.3v5.3h-5.3zM459.6 585.6h5.3v5.3h-5.3zM399.6 590.6h5.3v5.3h-5.3zM464.6 590.6h5.3v5.3h-5.3zM559.6 590.6h5.3v5.3h-5.3zM399.6 595.6h5.3v5.3h-5.3zM474.6 595.6h5.3v5.3h-5.3zM399.6 600.6h5.3v5.3h-5.3zM414.6 600.6h5.3v5.3h-5.3zM479.6 600.6h5.3v5.3h-5.3z"/>
<path fill="#ffff20" d="M474.6 475.6h10.3v5.3h-10.3zM419.6 495.6h5.3v5.3h-5.3zM419.6 500.6h5.3v5.3h-5.3zM399.6 540.6h5.3v5.3h-5.3zM414.6 540.6h5.3v5.3h-5.3zM389.6 545.6h5.3v5.3h-5.3zM389.6 560.6h5.3v5.3h-5.3zM519.6 605.6h5.3v5.3h-5.3zM529.6 605.6h10.3v5.3h-10.3z"/>
<path fill="#ffff30" d="M554.6 475.6h5.3v5.3h-5.3zM414.6 535.6h5.3v5.3h-5.3zM389.6 565.6h5.3v5.3h-5.3zM559.6 580.6h5.3v5.3h-5.3zM559.6 600.6h5.3v5.3h-5.3zM509.6 605.6h5.3v5.3h-5.3z"/>
<path fill="#ffff5f" d="M394.6 480.6h15.3v5.3h-15.3zM394.6 485.6h15.3v5.3h-15.3zM394.6 490.6h15.3v5.3h-15.3zM394.6 495.6h15.3v5.3h-15.3zM394.6 500.6h15.3v5.3h-15.3zM394.6 505.6h15.3v5.3h-15.3zM394.6 510.6h15.3v5.3h-15.3zM394.6 515.6h15.3v5.3h-15.3zM394.6 520.6h15.3v5.3h-15.3zM394.6 525.6h15.3v5.3h-15.3z"/>
<path fill="#ffff47" d="M414.6 480.6h5.3v5.3h-5.3zM414.6 485.6h5.3v5.3h-5.3zM559.6 485.6h5.3v5.3h-5.3zM559.6 490.6h5.3v5.3h-5.3zM559.6 495.6h5.3v5.3h-5.3zM559.6 500.6h5.3v5.3h-5.3zM559.6 505.6h5.3v5.3h-5.3zM559.6 510.6h5.3v5.3h-5.3zM559.6 515.6h5.3v5.3h-5.3zM559.6 520.6h5.3v5.3h-5.3zM559.6 525.6h5.3v5.3h-5.3zM559.6 530.6h5.3v5.3h-5.3zM559.6 535.6h5.3v5.3h-5.3zM559.6 540.6h5.3v5.3h-5.3zM559.6 545.6h5.3v5.3h-5.3zM559.6 550.6h5.3v5.3h-5.3zM559.6 555.6h5.3v5.3h-5.3zM559.6 560.6h5.3v5.3h-5.3zM559.6 565.6h5.3v5.3h-5.3zM559.6 570.6h5.3v5.3h-5.3zM404.6 605.6h10.3v5.3h-10.3zM489.6 605.6h10.3v5.3h-10.3zM554.6 605.6h5.3v5.3h-5.3z"/>
<path fill="#ffff00" d="M429.6 480.6h5.3v5.3h-5.3zM479.6 480.6h5.3v5.3h-5.3zM484.6 485.6h5.3v5.3h-5.3zM424.6 490.6h5.3v5.3h-5.3zM519.6 520.6h5.3v5.3h-5.3zM529.6 535.6h5.3v5.3h-5.3zM399.6 545.6h5.3v5.3h-5.3zM424.6 545.6h5.3v5.3h-5.3zM534.6 545.6h5.3v5.3h-5.3zM404.6 550.6h5.3v5.3h-5.3zM429.6 550.6h5.3v5.3h-5.3zM404.6 555.6h5.3v5.3h-5.3zM434.6 555.6h5.3v5.3h-5.3zM399.6 560.6h5.3v5.3h-5.3zM439.6 560.6h5.3v5.3h-5.3zM539.6 560.6h5.3v5.3h-5.3zM404.6 565.6h10.3v5.3h-10.3zM444.6 565.6h5.3v5.3h-5.3zM404.6 570.6h5.3v5.3h-5.3zM449.6 570.6h5.3v5.3h-5.3zM544.6 570.6h5.3v5.3h-5.3zM414.6 575.6h5.3v5.3h-5.3zM464.6 585.6h5.3v5.3h-5.3zM469.6 590.6h5.3v5.3h-5.3zM414.6 595.6h5.3v5.3h-5.3zM404.6 600.6h5.3v5.3h-5.3zM484.6 600.6h5.3v5.3h-5.3z"/>
<path fill="#ffef00" d="M434.6 480.6h5.3v5.3h-5.3zM469.6 480.6h5.3v5.3h-5.3zM429.6 485.6h5.3v5.3h-5.3zM479.6 485.6h5.3v5.3h-5.3zM499.6 500.6h5.3v5.3h-5.3zM424.6 505.6h5.3v5.3h-5.3zM504.6 505.6h5.3v5.3h-5.3zM424.6 525.6h5.3v5.3h-5.3zM519.6 525.6h5.3v5.3h-5.3zM424.6 530.6h5.3v5.3h-5.3zM524.6 535.6h5.3v5.3h-5.3zM429.6 545.6h5.3v5.3h-5.3zM529.6 545.6h5.3v5.3h-5.3zM399.6 550.6h5.3v5.3h-5.3zM434.6 550.6h5.3v5.3h-5.3zM399.6 555.6h5.3v5.3h-5.3zM439.6 555.6h5.3v5.3h-5.3zM534.6 555.6h5.3v5.3h-5.3zM444.6 560.6h5.3v5.3h-5.3zM539.6 570.6h5.3v5.3h-5.3zM409.6 575.6h5.3v5.3h-5.3zM404.6 580.6h5.3v5.3h-5.3zM404.6 585.6h5.3v5.3h-5.3zM469.6 585.6h5.3v5.3h-5.3zM404.6 590.6h5.3v5.3h-5.3zM409.6 595.6h5.3v5.3h-5.3zM484.6 595.6h5.3v5.3h-5.3z"/>
<path fill="#ffe800" d="M439.6 480.6h5.3v5.3h-5.3zM464.6 480.6h5.3v5.3h-5.3zM429.6 490.6h5.3v5.3h-5.3zM484.6 490.6h5.3v5.3h-5.3zM424.6 510.6h5.3v5.3h-5.3zM424.6 515.6h5.3v5.3h-5.3zM424.6 520.6h5.3v5.3h-5.3zM514.6 520.6h5.3v5.3h-5.3zM394.6 555.6h5.3v5.3h-5.3zM534.6 560.6h5.3v5.3h-5.3zM449.6 565.6h5.3v5.3h-5.3zM409.6 580.6h5.3v5.3h-5.3zM464.6 580.6h5.3v5.3h-5.3zM409.6 585.6h5.3v5.3h-5.3zM409.6 590.6h5.3v5.3h-5.3zM479.6 590.6h5.3v5.3h-5.3zM494.6 600.6h5.3v5.3h-5.3zM554.6 600.6h5.3v5.3h-5.3z"/>
<path fill="#ffe000" d="M444.6 480.6h20.3v5.3h-20.3zM434.6 485.6h5.3v5.3h-5.3zM474.6 485.6h5.3v5.3h-5.3zM489.6 495.6h5.3v5.3h-5.3zM494.6 500.6h5.3v5.3h-5.3zM504.6 510.6h5.3v5.3h-5.3zM509.6 515.6h5.3v5.3h-5.3zM519.6 530.6h5.3v5.3h-5.3zM429.6 540.6h5.3v5.3h-5.3zM524.6 540.6h5.3v5.3h-5.3zM394.6 550.6h5.3v5.3h-5.3zM529.6 550.6h5.3v5.3h-5.3zM454.6 570.6h5.3v5.3h-5.3zM459.6 575.6h5.3v5.3h-5.3zM544.6 575.6h5.3v5.3h-5.3zM554.6 580.6h5.3v5.3h-5.3zM489.6 595.6h5.3v5.3h-5.3zM499.6 600.6h5.3v5.3h-5.3z"/>
<path fill="#fff700" d="M474.6 480.6h5.3v5.3h-5.3zM489.6 490.6h5.3v5.3h-5.3zM424.6 495.6h5.3v5.3h-5.3zM494.6 495.6h5.3v5.3h-5.3zM424.6 500.6h5.3v5.3h-5.3zM509.6 510.6h5.3v5.3h-5.3zM514.6 515.6h5.3v5.3h-5.3zM524.6 530.6h5.3v5.3h-5.3zM424.6 535.6h5.3v5.3h-5.3zM424.6 540.6h5.3v5.3h-5.3zM529.6 540.6h5.3v5.3h-5.3zM394.6 545.6h5.3v5.3h-5.3zM534.6 550.6h5.3v5.3h-5.3zM394.6 560.6h5.3v5.3h-5.3zM539.6 565.6h5.3v5.3h-5.3zM409.6 570.6h5.3v5.3h-5.3zM404.6 575.6h5.3v5.3h-5.3zM454.6 575.6h5.3v5.3h-5.3zM549.6 575.6h5.3v5.3h-5.3zM414.6 580.6h5.3v5.3h-5.3zM459.6 580.6h5.3v5.3h-5.3zM414.6 585.6h5.3v5.3h-5.3zM414.6 590.6h5.3v5.3h-5.3zM474.6 590.6h5.3v5.3h-5.3zM404.6 595.6h5.3v5.3h-5.3zM479.6 595.6h5.3v5.3h-5.3zM409.6 600.6h5.3v5.3h-5.3zM489.6 600.6h5.3v5.3h-5.3z"/>
<path fill="#ffff4f" d="M559.6 480.6h5.3v5.3h-5.3zM409.6 530.6h5.3v5.3h-5.3zM399.6 605.6h5.3v5.3h-5.3zM414.6 605.6h10.3v5.3h-10.3zM479.6 605.6h10.3v5.3h-10.3z"/>
<path fill="#ffd000" d="M439.6 485.6h5.3v5.3h-5.3zM434.6 490.6h5.3v5.3h-5.3zM514.6 525.6h5.3v5.3h-5.3zM529.6 555.6h5.3v5.3h-5.3zM469.6 580.6h5.3v5.3h-5.3zM484.6 590.6h5.3v5.3h-5.3z"/>
<path fill="#ffc900" d="M444.6 485.6h5.3v5.3h-5.3zM464.6 485.6h5.3v5.3h-5.3zM484.6 495.6h5.3v5.3h-5.3zM429.6 500.6h5.3v5.3h-5.3zM509.6 520.6h5.3v5.3h-5.3zM429.6 530.6h5.3v5.3h-5.3zM519.6 535.6h5.3v5.3h-5.3zM434.6 540.6h5.3v5.3h-5.3zM524.6 545.6h5.3v5.3h-5.3zM454.6 565.6h5.3v5.3h-5.3zM534.6 570.6h5.3v5.3h-5.3zM464.6 575.6h5.3v5.3h-5.3zM479.6 585.6h5.3v5.3h-5.3zM494.6 595.6h5.3v5.3h-5.3zM504.6 600.6h5.3v5.3h-5.3zM549.6 600.6h5.3v5.3h-5.3z"/>
<path fill="#ffc100" d="M449.6 485.6h15.3v5.3h-15.3zM439.6 490.6h5.3v5.3h-5.3zM474.6 490.6h5.3v5.3h-5.3zM434.6 495.6h5.3v5.3h-5.3zM489.6 500.6h5.3v5.3h-5.3zM429.6 505.6h5.3v5.3h-5.3zM504.6 515.6h5.3v5.3h-5.3zM429.6 525.6h5.3v5.3h-5.3zM439.6 545.6h5.3v5.3h-5.3zM444.6 550.6h5.3v5.3h-5.3zM529.6 560.6h5.3v5.3h-5.3zM459.6 570.6h5.3v5.3h-5.3zM539.6 575.6h5.3v5.3h-5.3zM549.6 580.6h5.3v5.3h-5.3z"/>
<path fill="#ffd800" d="M469.6 485.6h5.3v5.3h-5.3zM479.6 490.6h5.3v5.3h-5.3zM429.6 495.6h5.3v5.3h-5.3zM499.6 505.6h5.3v5.3h-5.3zM429.6 535.6h5.3v5.3h-5.3zM434.6 545.6h5.3v5.3h-5.3zM439.6 550.6h5.3v5.3h-5.3zM444.6 555.6h5.3v5.3h-5.3zM449.6 560.6h5.3v5.3h-5.3zM534.6 565.6h5.3v5.3h-5.3zM474.6 585.6h5.3v5.3h-5.3z"/>
<path fill="#ffb100" d="M444.6 490.6h5.3v5.3h-5.3zM469.6 490.6h5.3v5.3h-5.3zM479.6 495.6h5.3v5.3h-5.3zM434.6 535.6h5.3v5.3h-5.3zM484.6 585.6h5.3v5.3h-5.3zM499.6 595.6h5.3v5.3h-5.3zM509.6 600.6h5.3v5.3h-5.3z"/>
<path fill="#ffa200" d="M449.6 490.6h15.3v5.3h-15.3zM439.6 495.6h5.3v5.3h-5.3zM484.6 500.6h5.3v5.3h-5.3zM504.6 520.6h5.3v5.3h-5.3zM434.6 530.6h5.3v5.3h-5.3zM514.6 535.6h5.3v5.3h-5.3zM444.6 545.6h5.3v5.3h-5.3zM519.6 545.6h5.3v5.3h-5.3zM459.6 565.6h5.3v5.3h-5.3zM479.6 580.6h5.3v5.3h-5.3zM494.6 590.6h5.3v5.3h-5.3zM554.6 590.6h5.3v5.3h-5.3z"/>
<path fill="#ffa900" d="M464.6 490.6h5.3v5.3h-5.3zM434.6 500.6h5.3v5.3h-5.3zM509.6 525.6h5.3v5.3h-5.3zM439.6 540.6h5.3v5.3h-5.3zM524.6 555.6h5.3v5.3h-5.3zM454.6 560.6h5.3v5.3h-5.3zM529.6 565.6h5.3v5.3h-5.3zM469.6 575.6h5.3v5.3h-5.3zM544.6 600.6h5.3v5.3h-5.3z"/>
<path fill="#ff9100" d="M444.6 495.6h5.3v5.3h-5.3zM434.6 510.6h5.3v5.3h-5.3zM434.6 520.6h5.3v5.3h-5.3zM439.6 535.6h5.3v5.3h-5.3zM454.6 555.6h5.3v5.3h-5.3zM524.6 560.6h5.3v5.3h-5.3zM474.6 575.6h5.3v5.3h-5.3zM489.6 585.6h5.3v5.3h-5.3zM504.6 595.6h5.3v5.3h-5.3zM539.6 600.6h5.3v5.3h-5.3z"/>
<path fill="#fe7e00" d="M449.6 495.6h5.3v5.3h-5.3zM444.6 540.6h5.3v5.3h-5.3zM469.6 570.6h5.3v5.3h-5.3zM484.6 580.6h5.3v5.3h-5.3zM499.6 590.6h5.3v5.3h-5.3zM519.6 600.6h5.3v5.3h-5.3zM534.6 600.6h5.3v5.3h-5.3z"/>
<path fill="#fe7400" d="M454.6 495.6h15.3v5.3h-15.3zM439.6 505.6h5.3v5.3h-5.3zM484.6 505.6h5.3v5.3h-5.3zM504.6 525.6h5.3v5.3h-5.3zM439.6 530.6h5.3v5.3h-5.3zM449.6 545.6h5.3v5.3h-5.3zM459.6 560.6h5.3v5.3h-5.3zM524.6 565.6h5.3v5.3h-5.3zM494.6 585.6h5.3v5.3h-5.3zM524.6 600.6h10.3v5.3h-10.3z"/>
<path fill="#fe8800" d="M469.6 495.6h5.3v5.3h-5.3zM439.6 500.6h5.3v5.3h-5.3zM479.6 500.6h5.3v5.3h-5.3zM434.6 515.6h5.3v5.3h-5.3zM509.6 530.6h5.3v5.3h-5.3zM514.6 540.6h5.3v5.3h-5.3zM519.6 550.6h5.3v5.3h-5.3zM549.6 585.6h5.3v5.3h-5.3zM549.6 595.6h5.3v5.3h-5.3z"/>
<path fill="#ff9a00" d="M474.6 495.6h5.3v5.3h-5.3zM434.6 505.6h5.3v5.3h-5.3zM489.6 505.6h5.3v5.3h-5.3zM494.6 510.6h5.3v5.3h-5.3zM499.6 515.6h5.3v5.3h-5.3zM434.6 525.6h5.3v5.3h-5.3zM449.6 550.6h5.3v5.3h-5.3zM464.6 570.6h5.3v5.3h-5.3zM529.6 570.6h5.3v5.3h-5.3zM534.6 575.6h5.3v5.3h-5.3zM544.6 580.6h5.3v5.3h-5.3zM514.6 600.6h5.3v5.3h-5.3z"/>
<path fill="#fd6b00" d="M444.6 500.6h5.3v5.3h-5.3zM489.6 510.6h5.3v5.3h-5.3zM494.6 515.6h5.3v5.3h-5.3zM499.6 520.6h5.3v5.3h-5.3zM439.6 525.6h5.3v5.3h-5.3zM509.6 535.6h5.3v5.3h-5.3zM514.6 545.6h5.3v5.3h-5.3zM454.6 550.6h5.3v5.3h-5.3zM519.6 555.6h5.3v5.3h-5.3zM464.6 565.6h5.3v5.3h-5.3zM479.6 575.6h5.3v5.3h-5.3zM539.6 580.6h5.3v5.3h-5.3zM549.6 590.6h5.3v5.3h-5.3z"/>
<path fill="#fd5700" d="M449.6 500.6h5.3v5.3h-5.3zM439.6 515.6h5.3v5.3h-5.3zM439.6 520.6h5.3v5.3h-5.3zM459.6 555.6h5.3v5.3h-5.3zM474.6 570.6h5.3v5.3h-5.3zM524.6 570.6h5.3v5.3h-5.3zM509.6 595.6h5.3v5.3h-5.3zM544.6 595.6h5.3v5.3h-5.3z"/>
<path fill="#fc4e00" d="M454.6 500.6h5.3v5.3h-5.3zM469.6 500.6h5.3v5.3h-5.3zM444.6 505.6h5.3v5.3h-5.3zM479.6 505.6h5.3v5.3h-5.3zM504.6 530.6h5.3v5.3h-5.3zM449.6 540.6h5.3v5.3h-5.3zM509.6 540.6h5.3v5.3h-5.3zM514.6 550.6h5.3v5.3h-5.3zM519.6 560.6h5.3v5.3h-5.3zM484.6 575.6h5.3v5.3h-5.3zM544.6 585.6h5.3v5.3h-5.3z"/>
<path fill="#fc4400" d="M459.6 500.6h10.3v5.3h-10.3zM444.6 530.6h5.3v5.3h-5.3zM454.6 545.6h5.3v5.3h-5.3zM464.6 560.6h5.3v5.3h-5.3zM469.6 565.6h5.3v5.3h-5.3zM499.6 585.6h5.3v5.3h-5.3zM504.6 590.6h5.3v5.3h-5.3z"/>
<path fill="#fd6100" d="M474.6 500.6h5.3v5.3h-5.3zM439.6 510.6h5.3v5.3h-5.3zM444.6 535.6h5.3v5.3h-5.3zM529.6 575.6h5.3v5.3h-5.3zM489.6 580.6h5.3v5.3h-5.3z"/>
<path fill="#fb3b00" d="M449.6 505.6h5.3v5.3h-5.3zM444.6 510.6h5.3v5.3h-5.3zM484.6 510.6h5.3v5.3h-5.3zM499.6 525.6h5.3v5.3h-5.3zM459.6 550.6h5.3v5.3h-5.3zM514.6 555.6h5.3v5.3h-5.3zM479.6 570.6h5.3v5.3h-5.3zM494.6 580.6h5.3v5.3h-5.3zM534.6 580.6h5.3v5.3h-5.3zM544.6 590.6h5.3v5.3h-5.3z"/>
<path fill="#fb2700" d="M454.6 505.6h5.3v5.3h-5.3zM474.6 505.6h5.3v5.3h-5.3zM454.6 540.6h5.3v5.3h-5.3zM464.6 555.6h5.3v5.3h-5.3zM474.6 565.6h5.3v5.3h-5.3zM524.6 575.6h5.3v5.3h-5.3zM514.6 595.6h5.3v5.3h-5.3z"/>
<path fill="#fa1400" d="M459.6 505.6h15.3v5.3h-15.3zM499.6 530.6h5.3v5.3h-5.3zM454.6 535.6h5.3v5.3h-5.3zM509.6 550.6h5.3v5.3h-5.3zM499.6 580.6h5.3v5.3h-5.3zM504.6 585.6h5.3v5.3h-5.3zM539.6 590.6h5.3v5.3h-5.3zM534.6 595.6h5.3v5.3h-5.3z"/>
<path fill="#ffb900" d="M494.6 505.6h5.3v5.3h-5.3zM429.6 510.6h5.3v5.3h-5.3zM499.6 510.6h5.3v5.3h-5.3zM429.6 515.6h5.3v5.3h-5.3zM429.6 520.6h5.3v5.3h-5.3zM514.6 530.6h5.3v5.3h-5.3zM519.6 540.6h5.3v5.3h-5.3zM524.6 550.6h5.3v5.3h-5.3zM449.6 555.6h5.3v5.3h-5.3zM474.6 580.6h5.3v5.3h-5.3zM554.6 585.6h5.3v5.3h-5.3zM489.6 590.6h5.3v5.3h-5.3zM554.6 595.6h5.3v5.3h-5.3z"/>
<path fill="#fa1e00" d="M449.6 510.6h5.3v5.3h-5.3zM449.6 530.6h5.3v5.3h-5.3zM459.6 545.6h5.3v5.3h-5.3zM469.6 560.6h5.3v5.3h-5.3zM514.6 560.6h5.3v5.3h-5.3zM484.6 570.6h5.3v5.3h-5.3zM519.6 570.6h5.3v5.3h-5.3zM539.6 585.6h5.3v5.3h-5.3z"/>
<path fill="#f21200" d="M454.6 510.6h5.3v5.3h-5.3zM479.6 510.6h5.3v5.3h-5.3zM449.6 515.6h5.3v5.3h-5.3zM449.6 520.6h5.3v5.3h-5.3zM449.6 525.6h5.3v5.3h-5.3zM504.6 540.6h5.3v5.3h-5.3zM464.6 550.6h5.3v5.3h-5.3zM479.6 565.6h5.3v5.3h-5.3zM494.6 575.6h5.3v5.3h-5.3zM509.6 590.6h5.3v5.3h-5.3zM519.6 595.6h5.3v5.3h-5.3z"/>
<path fill="#e30f00" d="M459.6 510.6h5.3v5.3h-5.3zM454.6 515.6h5.3v5.3h-5.3zM489.6 520.6h5.3v5.3h-5.3zM469.6 555.6h5.3v5.3h-5.3zM489.6 570.6h5.3v5.3h-5.3zM504.6 580.6h5.3v5.3h-5.3zM524.6 595.6h5.3v5.3h-5.3z"/>
<path fill="#d40b00" d="M464.6 510.6h10.3v5.3h-10.3zM509.6 560.6h5.3v5.3h-5.3zM484.6 565.6h5.3v5.3h-5.3zM514.6 575.6h5.3v5.3h-5.3z"/>
<path fill="#db0d00" d="M474.6 510.6h5.3v5.3h-5.3zM454.6 520.6h5.3v5.3h-5.3zM454.6 525.6h5.3v5.3h-5.3zM459.6 535.6h5.3v5.3h-5.3zM499.6 535.6h5.3v5.3h-5.3zM464.6 545.6h5.3v5.3h-5.3zM504.6 545.6h5.3v5.3h-5.3zM514.6 570.6h5.3v5.3h-5.3zM499.6 575.6h5.3v5.3h-5.3zM534.6 585.6h5.3v5.3h-5.3zM534.6 590.6h5.3v5.3h-5.3z"/>
<path fill="#fb3100" d="M444.6 515.6h5.3v5.3h-5.3zM489.6 515.6h5.3v5.3h-5.3zM444.6 520.6h5.3v5.3h-5.3zM494.6 520.6h5.3v5.3h-5.3zM444.6 525.6h5.3v5.3h-5.3zM449.6 535.6h5.3v5.3h-5.3zM504.6 535.6h5.3v5.3h-5.3zM509.6 545.6h5.3v5.3h-5.3zM519.6 565.6h5.3v5.3h-5.3zM489.6 575.6h5.3v5.3h-5.3zM539.6 595.6h5.3v5.3h-5.3z"/>
<path fill="#cc0a00" d="M459.6 515.6h5.3v5.3h-5.3zM459.6 530.6h5.3v5.3h-5.3zM469.6 550.6h5.3v5.3h-5.3zM504.6 550.6h5.3v5.3h-5.3zM479.6 560.6h5.3v5.3h-5.3zM509.6 565.6h5.3v5.3h-5.3zM494.6 570.6h5.3v5.3h-5.3zM504.6 575.6h10.3v5.3h-10.3zM509.6 580.6h5.3v5.3h-5.3zM524.6 580.6h5.3v5.3h-5.3zM509.6 585.6h5.3v5.3h-5.3z"/>
<path fill="#bc0600" d="M464.6 515.6h5.3v5.3h-5.3zM484.6 520.6h5.3v5.3h-5.3zM489.6 525.6h5.3v5.3h-5.3zM499.6 540.6h5.3v5.3h-5.3zM504.6 555.6h5.3v5.3h-5.3zM489.6 565.6h5.3v5.3h-5.3zM499.6 570.6h10.3v5.3h-10.3zM514.6 580.6h10.3v5.3h-10.3zM529.6 585.6h5.3v5.3h-5.3z"/>
<path fill="#ad0300" d="M469.6 515.6h5.3v5.3h-5.3zM464.6 520.6h5.3v5.3h-5.3zM499.6 545.6h5.3v5.3h-5.3zM484.6 560.6h5.3v5.3h-5.3zM499.6 565.6h5.3v5.3h-5.3zM514.6 585.6h5.3v5.3h-5.3zM519.6 590.6h10.3v5.3h-10.3z"/>
<path fill="#b50500" d="M474.6 515.6h5.3v5.3h-5.3zM464.6 535.6h5.3v5.3h-5.3zM469.6 545.6h5.3v5.3h-5.3zM504.6 560.6h5.3v5.3h-5.3zM494.6 565.6h5.3v5.3h-5.3zM504.6 565.6h5.3v5.3h-5.3z"/>
<path fill="#c40800" d="M479.6 515.6h5.3v5.3h-5.3zM459.6 520.6h5.3v5.3h-5.3zM459.6 525.6h5.3v5.3h-5.3zM494.6 530.6h5.3v5.3h-5.3zM464.6 540.6h5.3v5.3h-5.3zM474.6 555.6h5.3v5.3h-5.3zM509.6 570.6h5.3v5.3h-5.3zM514.6 590.6h5.3v5.3h-5.3zM529.6 590.6h5.3v5.3h-5.3z"/>
<path fill="#eb1100" d="M484.6 515.6h5.3v5.3h-5.3zM494.6 525.6h5.3v5.3h-5.3zM454.6 530.6h5.3v5.3h-5.3zM459.6 540.6h5.3v5.3h-5.3zM509.6 555.6h5.3v5.3h-5.3zM474.6 560.6h5.3v5.3h-5.3zM514.6 565.6h5.3v5.3h-5.3zM519.6 575.6h5.3v5.3h-5.3zM529.6 580.6h5.3v5.3h-5.3zM529.6 595.6h5.3v5.3h-5.3z"/>
<path fill="#930000" d="M469.6 520.6h10.3v5.3h-10.3zM484.6 525.6h5.3v5.3h-5.3zM494.6 540.6h5.3v5.3h-5.3zM484.6 555.6h5.3v5.3h-5.3z"/>
<path fill="#9d0000" d="M479.6 520.6h5.3v5.3h-5.3zM489.6 530.6h5.3v5.3h-5.3zM469.6 540.6h5.3v5.3h-5.3zM499.6 555.6h5.3v5.3h-5.3zM489.6 560.6h10.3v5.3h-10.3zM519.6 585.6h10.3v5.3h-10.3z"/>
<path fill="#a50100" d="M464.6 525.6h5.3v5.3h-5.3zM464.6 530.6h5.3v5.3h-5.3zM494.6 535.6h5.3v5.3h-5.3zM474.6 550.6h5.3v5.3h-5.3zM499.6 550.6h5.3v5.3h-5.3zM479.6 555.6h5.3v5.3h-5.3zM499.6 560.6h5.3v5.3h-5.3z"/>
<path fill="#890000" d="M469.6 525.6h5.3v5.3h-5.3zM469.6 530.6h5.3v5.3h-5.3zM469.6 535.6h5.3v5.3h-5.3zM474.6 545.6h5.3v5.3h-5.3zM494.6 545.6h5.3v5.3h-5.3zM479.6 550.6h5.3v5.3h-5.3zM494.6 555.6h5.3v5.3h-5.3z"/>
<path fill="#800000" d="M474.6 525.6h10.3v5.3h-10.3zM489.6 535.6h5.3v5.3h-5.3zM474.6 540.6h5.3v5.3h-5.3zM494.6 550.6h5.3v5.3h-5.3zM489.6 555.6h5.3v5.3h-5.3z"/>
<path fill="#760000" d="M474.6 530.6h5.3v5.3h-5.3zM484.6 530.6h5.3v5.3h-5.3zM474.6 535.6h5.3v5.3h-5.3zM489.6 540.6h5.3v5.3h-5.3zM479.6 545.6h5.3v5.3h-5.3zM484.6 550.6h10.3v5.3h-10.3z"/>
<path fill="#6c0000" d="M479.6 530.6h5.3v5.3h-5.3zM479.6 535.6h10.3v5.3h-10.3zM479.6 540.6h10.3v5.3h-10.3zM484.6 545.6h10.3v5.3h-10.3z"/>
<path fill="#ffffd1" d="M379.6 535.6h5.3v5.3h-5.3zM564.6 580.6h5.3v5.3h-5.3zM564.6 600.6h5.3v5.3h-5.3z"/>
<path fill="#ffff38" d="M394.6 535.6h5.3v5.3h-5.3zM389.6 570.6h5.3v5.3h-5.3zM389.6 575.6h5.3v5.3h-5.3zM389.6 580.6h5.3v5.3h-5.3zM389.6 585.6h5.3v5.3h-5.3zM389.6 590.6h5.3v5.3h-5.3zM389.6 595.6h5.3v5.3h-5.3zM389.6 600.6h5.3v5.3h-5.3zM504.6 605.6h5.3v5.3h-5.3zM544.6 605.6h5.3v5.3h-5.3z"/>
</g>
<path d="M433.2 470.6 432.1 470.7 429.6 471 427.1 471.6 424.6 472.4 423 473.1 422.1 473.3 419.6 473.8 417.1 474.3 414.6 474.8 412.1 475.3 409.6 475.6 407.7 475.6 407.1 475.6 404.6 475.7 402.1 475.8 399.6 476 397.1 476.2 394.6 476.9 392.3 478.1 392.1 478.3 390.4 480.6 389.9 483.1 389.7 485.6 389.6 488.1 389.6 490.6 389.6 493.1 389.6 495.6 389.6 498.1 389.6 500.6 389.6 503.1 389.6 505.6 389.6 508.1 389.6 510.6 389.6 513.1 389.6 515.6 389.6 518.1 389.6 520.6 389.6 523.1 389.6 525.6 389.6 528.1 389.4 530.6 388.9 533.1 388.3 535.6 387.6 538.1 387.1 540.2 387 540.6 386.4 543.1 385.9 545.6 385.6 548.1 385.4 550.6 385.3 553.1 385.3 555.6 385.3 558.1 385.4 560.6 385.5 563.1 385.7 565.6 385.7 568.1 385.8 570.6 385.9 573.1 385.9 575.6 385.9 578.1 385.9 580.6 385.9 583.1 385.9 585.6 385.9 588.1 385.9 590.6 385.9 593.1 385.9 595.6 385.9 598.1 385.9 600.6 386.1 603.1 386.5 605.6 387.1 606.2 389.6 608.1 389.7 608.1 392.1 608.9 394.6 609.5 397.1 609.7 399.6 609.8 402.1 609.8 404.6 609.9 407.1 610 409.6 610.1 412.1 610.1 414.6 610 417.1 609.9 419.6 609.8 422.1 609.8 424.6 609.7 427.1 609.7 429.6 609.7 432.1 609.7 434.6 609.7 437.1 609.7 439.6 609.7 442.1 609.7 444.6 609.7 447.1 609.7 449.6 609.7 452.1 609.7 454.6 609.7 457.1 609.7 459.6 609.7 462.1 609.7 464.6 609.7 467.1 609.7 469.6 609.7 472.1 609.7 474.6 609.7 477.1 609.7 479.6 609.7 482.1 609.8 484.6 609.8 487.1 609.8 489.6 609.9 492.1 609.9 494.6 610 497.1 610.1 499.6 610.1 502.1 610.2 504.6 610.2 507.1 610.3 509.6 610.4 512.1 610.4 514.6 610.5 517.1 610.5 519.6 610.5 522.1 610.5 524.6 610.5 527.1 610.5 529.6 610.5 532.1 610.5 534.6 610.5 537.1 610.4 539.6 610.4 542.1 610.3 544.6 610.2 547.1 610.2 549.6 610.1 552.1 610 554.6 609.9 557.1 609.9 559.6 609.7 562.1 608.8 563.1 608.1 564.6 605.6 564.6 605.4 564.9 603.1 565.1 600.6 565.4 598.1 565.5 595.6 565.6 593.1 565.6 590.6 565.4 588.1 565.2 585.6 564.9 583.1 564.7 580.6 564.6 578.8 564.6 578.1 564.5 575.6 564.4 573.1 564.4 570.6 564.4 568.1 564.4 565.6 564.4 563.1 564.4 560.6 564.4 558.1 564.4 555.6 564.4 553.1 564.4 550.6 564.4 548.1 564.4 545.6 564.4 543.1 564.4 540.6 564.4 538.1 564.4 535.6 564.4 533.1 564.4 530.6 564.4 528.1 564.4 525.6 564.4 523.1 564.4 520.6 564.4 518.1 564.4 515.6 564.4 513.1 564.4 510.6 564.4 508.1 564.4 505.6 564.4 503.1 564.4 500.6 564.4 498.1 564.4 495.6 564.4 493.1 564.4 490.6 564.4 488.1 564.3 485.6 564.2 483.1 564 480.6 563.4 478.1 562.1 475.8 561.9 475.6 559.6 473.7 557.1 473.2 555.9 473.1 554.6 472.8 552.1 472.4 549.6 472 547.1 471.7 544.6 471.5 542.1 471.5 539.6 471.5 537.1 471.5 534.6 471.5 532.1 471.5 529.6 471.5 527.1 471.5 524.6 471.5 522.1 471.5 519.6 471.5 517.1 471.5 514.6 471.5 512.1 471.5 509.6 471.5 507.1 471.5 504.6 471.5 502.1 471.5 499.6 471.5 497.1 471.5 494.6 471.5 492.1 471.5 489.6 471.4 487.1 471.4 484.6 471.4 482.1 471.3 479.6 471.2 477.1 471.1 474.6 471 472.1 470.9 469.6 470.8 467.1 470.6 466.3 470.6M389.6 525.6 389.6 525.6M437.1 475.6 437 475.6 434.6 475.7 432.1 475.8 429.6 476.1 427.1 476.5 424.6 477 422.1 477.7 420.7 478.1 419.6 478.8 417.1 480.4 416.8 480.6 416.7 483.1 416.6 485.6 416.5 488.1 416.3 490.6 416.2 493.1 416.1 495.6 416.1 498.1 416 500.6 415.9 503.1 415.9 505.6 415.8 508.1 415.8 510.6 415.8 513.1 415.8 515.6 415.8 518.1 415.8 520.6 415.8 523.1 415.9 525.6 415.9 528.1 415.6 530.6 414.6 533.1 414.6 533.1 412.1 535.6 409.6 536.5 407.1 536.5 404.6 536.3 402.1 536.1 399.6 535.9 397.1 535.9 394.6 537.5 394.2 538.1 392.5 540.6 392.1 541.3 391.3 543.1 390.3 545.6 389.6 548.1 389.6 548.4 389.3 550.6 389.1 553.1 389.1 555.6 389.2 558.1 389.5 560.6 389.6 562 389.7 563.1 390 565.6 390.3 568.1 390.5 570.6 390.7 573.1 390.8 575.6 390.8 578.1 390.8 580.6 390.8 583.1 390.8 585.6 390.8 588.1 390.8 590.6 390.8 593.1 390.8 595.6 390.8 598.1 390.8 600.6 390.8 603.1 391.3 605.6 392.1 606.1 394.6 607.1 397.1 607.5 399.6 607.6 402.1 607.7 404.6 607.9 407.1 608.1 407.6 608.1 409.6 608.2 412.1 608.2 414.3 608.1 414.6 608.1 417.1 607.9 419.6 607.7 422.1 607.6 424.6 607.5 427.1 607.5 429.6 607.5 432.1 607.5 434.6 607.5 437.1 607.5 439.6 607.5 442.1 607.5 444.6 607.5 447.1 607.5 449.6 607.5 452.1 607.5 454.6 607.5 457.1 607.5 459.6 607.5 462.1 607.5 464.6 607.5 467.1 607.5 469.6 607.5 472.1 607.5 474.6 607.5 477.1 607.6 479.6 607.6 482.1 607.7 484.6 607.7 487.1 607.8 489.6 607.9 492.1 608 494 608.1 494.6 608.1 497.1 608.2 499.6 608.3 502.1 608.4 504.6 608.5 507.1 608.6 509.6 608.6 512.1 608.7 514.6 608.8 517.1 608.9 519.6 608.9 522.1 609 524.6 609 527.1 609 529.6 609 532.1 609 534.6 609 537.1 608.9 539.6 608.8 542.1 608.7 544.6 608.6 547.1 608.5 549.6 608.4 552.1 608.3 554.6 608.1 555.3 608.1 557.1 608 559.6 607.7 562.1 605.9 562.3 605.6 562.7 603.1 563.1 600.6 563.4 598.1 563.6 595.6 563.7 593.1 563.6 590.6 563.4 588.1 563.1 585.6 562.8 583.1 562.5 580.6 562.2 578.1 562.1 575.6 562.1 575.4 562 573.1 562 570.6 562 568.1 562 565.6 562 563.1 562 560.6 562 558.1 562 555.6 562 553.1 562 550.6 562 548.1 562 545.6 562 543.1 562 540.6 562 538.1 562 535.6 562 533.1 562 530.6 562 528.1 562 525.6 562 523.1 562 520.6 562 518.1 562 515.6 562 513.1 562 510.6 562 508.1 562 505.6 562 503.1 562 500.6 562 498.1 562 495.6 562 493.1 562 490.6 561.9 488.1 561.8 485.6 561.6 483.1 561.3 480.6 560.1 478.1 559.6 477.6 557.1 477.1 554.6 476.8 552.1 476.6 549.6 476.5 547.1 476.5 544.6 476.5 542.1 476.5 539.6 476.5 537.1 476.5 534.6 476.5 532.1 476.5 529.6 476.5 527.1 476.5 524.6 476.5 522.1 476.5 519.6 476.5 517.1 476.5 514.6 476.5 512.1 476.5 509.6 476.5 507.1 476.5 504.6 476.5 502.1 476.5 499.6 476.5 497.1 476.5 494.6 476.5 492.1 476.4 489.6 476.4 487.1 476.4 484.6 476.3 482.1 476.2 479.6 476.1 477.1 476 474.6 475.9 472.1 475.8 469.6 475.7 467.1 475.6 466.7 475.6 464.6 475.5 462.1 475.4 459.6 475.3 457.1 475.3 454.6 475.2 452.1 475.2 449.6 475.2 447.1 475.3 444.6 475.3 442.1 475.4 439.6 475.5 437.1 475.6M412.1 535.6 412.1 535.6M434.6 480.3 432.8 480.6 432.1 481.3 431.1 483.1 429.9 485.6 429.6 486.3 429 488.1 428.3 490.6 427.6 493.1 427.1 495.2 427 495.6 426.5 498.1 426.1 500.6 425.7 503.1 425.4 505.6 425.2 508.1 425 510.6 424.9 513.1 424.8 515.6 424.7 518.1 424.7 520.6 424.8 523.1 424.9 525.6 425.1 528.1 425.3 530.6 425.4 533.1 425.6 535.6 425.7 538.1 425.9 540.6 426.2 543.1 426.8 545.6 427.1 546.7 427.6 548.1 428.9 550.6 429.6 551.7 430.7 553.1 432.1 554.8 432.9 555.6 434.6 557.3 435.5 558.1 437.1 559.4 438.6 560.6 439.6 561.3 441.9 563.1 442.1 563.2 444.6 565.4 444.8 565.6 447.1 567.9 447.3 568.1 449.4 570.6 449.6 570.9 451.2 573.1 452.1 574.2 453.1 575.6 454.6 577.5 455.1 578.1 457.1 580.4 457.3 580.6 459.6 582.9 459.8 583.1 462.1 585.1 462.7 585.6 464.6 587.1 466.1 588.1 467.1 588.9 469.6 590.6 469.6 590.6 472.1 592.4 473.1 593.1 474.6 594.2 476.7 595.6 477.1 595.9 479.6 597.7 480.2 598.1 482.1 599.4 484 600.6 484.6 601 487.1 602.5 488.1 603.1 489.6 603.6 492.1 604.5 494.6 605.2 495.8 605.6 497.1 605.7 499.6 605.9 502.1 606 504.6 606.2 507.1 606.4 509.6 606.6 512.1 606.8 514.6 607 517.1 607.1 519.6 607.2 522.1 607.3 524.6 607.4 527.1 607.5 529.6 607.5 532.1 607.4 534.6 607.4 537.1 607.3 539.6 607.2 542.1 607 544.6 606.9 547.1 606.6 549.6 606.4 552.1 606.1 554.6 605.9 557 605.6 557.1 605.6 559.6 604.1 559.9 603.1 560.6 600.6 561.2 598.1 561.6 595.6 561.8 593.1 561.7 590.6 561.3 588.1 560.8 585.6 560.1 583.1 559.6 581.3 558.7 580.6 557.1 579.1 554.6 578.1 552.1 576.8 549.6 575.7 549.5 575.6 547.1 573.7 546.3 573.1 544.7 570.6 544.6 570.4 543.8 568.1 543 565.6 542.1 563.2 542.1 563.1 541.3 560.6 540.3 558.1 539.6 556.5 539.3 555.6 538.3 553.1 537.1 550.6 536.1 548.1 534.9 545.6 534.6 545 533.8 543.1 532.5 540.6 532.1 539.8 531.3 538.1 529.9 535.6 529.6 535.1 528.6 533.1 527.1 530.8 527 530.6 525.5 528.1 524.6 526.7 523.9 525.6 522.2 523.1 522.1 523 520.5 520.6 519.6 519.4 518.6 518.1 517.1 516.1 516.7 515.6 514.6 513.1 512.6 510.6 512.1 510 510.4 508.1 509.6 507.2 508.1 505.6 507.1 504.5 505.7 503.1 504.6 502 503.2 500.6 502.1 499.5 500.5 498.1 499.6 497.2 497.7 495.6 497.1 495.1 494.7 493.1 494.6 493 492.1 491 491.5 490.6 489.6 489.1 488.1 488.1 487.1 487.4 484.6 485.7 484.4 485.6 482.1 484.1 480.2 483.1 479.6 482.7 477.1 481.3 475.6 480.6 474.6 480.5 472.1 480.1 469.6 479.8 467.1 479.6 464.6 479.3 462.1 479.1 459.6 479 457.1 478.9 454.6 478.8 452.1 478.8 449.6 478.8 447.1 479 444.6 479.1 442.1 479.3 439.6 479.6 437.1 479.9 434.6 480.3M514.6 513.1 514.6 513.1M397.1 546.4 395 548.1 394.6 548.6 393.9 550.6 393.6 553.1 393.6 555.6 393.9 558.1 394.5 560.6 394.6 561 395.9 563.1 397.1 565 399.6 565.1 402.1 564.5 404.1 563.1 404.6 562.5 405.7 560.6 406.4 558.1 406.7 555.6 406.5 553.1 405.6 550.6 404.6 549.6 403 548.1 402.1 547.6 399.6 546.7 397.1 546.4M537.1 550.6 537.1 550.6M409.6 570 408.7 570.6 407.1 571.8 406.4 573.1 405.3 575.6 404.6 577.6 404.4 578.1 403.8 580.6 403.4 583.1 403.1 585.6 403 588.1 403.1 590.6 403.3 593.1 403.6 595.6 404.2 598.1 404.6 599.4 405 600.6 406.2 603.1 407.1 603.7 409.6 604.7 412.1 604.8 414.6 603.8 415.7 603.1 416.9 600.6 417.1 600 417.7 598.1 418.3 595.6 418.6 593.1 418.8 590.6 418.9 588.1 418.8 585.6 418.5 583.1 418 580.6 417.4 578.1 417.1 577.4 416.4 575.6 415 573.1 414.6 572.5 412.3 570.6 412.1 570.4 409.6 570M554.6 578.1 554.6 578.1M449.6 490.2 448.5 490.6 447.1 491.1 444.6 492.3 443.3 493.1 442.1 493.9 440.2 495.6 439.6 496.2 438 498.1 437.1 499.3 436.3 500.6 435 503.1 434.6 504 434 505.6 433.2 508.1 432.6 510.6 432.2 513.1 432.1 514.5 432 515.6 431.9 518.1 432 520.6 432.1 522.5 432.1 523.1 432.5 525.6 433 528.1 433.6 530.6 434.4 533.1 434.6 533.7 435.3 535.6 436.4 538.1 437.1 539.4 437.8 540.6 439.3 543.1 439.6 543.5 441.1 545.6 442.1 546.8 443.2 548.1 444.6 549.6 445.5 550.6 447.1 552.3 447.8 553.1 449.6 555 450.1 555.6 452.1 558 452.2 558.1 454 560.6 454.6 561.4 455.7 563.1 457.1 565.2 457.4 565.6 459.1 568.1 459.6 568.8 461 570.6 462.1 571.9 463.2 573.1 464.6 574.5 466 575.6 467.1 576.5 469.3 578.1 469.6 578.3 472.1 579.9 473.2 580.6 474.6 581.5 477.1 583.1 477.1 583.1 479.6 584.8 480.9 585.6 482.1 586.4 484.6 588 484.8 588.1 487.1 589.6 488.8 590.6 489.6 591.1 492.1 592.7 492.8 593.1 494.6 594.2 496.8 595.6 497.1 595.8 499.6 597.4 500.7 598.1 502.1 598.9 504.6 600.3 505.1 600.6 507.1 601.6 509.6 602.7 510.7 603.1 512.1 603.5 514.6 604.2 517.1 604.8 519.6 605.2 522.1 605.5 523.1 605.6 524.6 605.7 527.1 605.7 529.6 605.8 532.1 605.8 534.6 605.7 537.1 605.6 537.1 605.6 539.6 605.3 542.1 604.9 544.6 604.4 547.1 603.8 549.2 603.1 549.6 602.9 552.1 601.8 554.1 600.6 554.6 600.2 557.1 598.1 557.1 598.1 558.4 595.6 558.9 593.1 558.6 590.6 557.4 588.1 557.1 587.7 554.9 585.6 554.6 585.4 552.1 583.8 550.9 583.1 549.6 582.4 547.1 581.3 545.6 580.6 544.6 580.1 542.1 578.8 540.7 578.1 539.6 577.3 537.3 575.6 537.1 575.3 535.4 573.1 534.6 571.3 534.3 570.6 533.4 568.1 532.5 565.6 532.1 564.7 531.5 563.1 530.4 560.6 529.6 558.9 529.2 558.1 528.1 555.6 527.1 553.4 527 553.1 525.9 550.6 524.7 548.1 524.6 547.8 523.6 545.6 522.4 543.1 522.1 542.4 521.2 540.6 519.9 538.1 519.6 537.6 518.5 535.6 517.1 533.2 517 533.1 515.5 530.6 514.6 529.3 513.8 528.1 512.1 525.6 510.2 523.1 509.6 522.3 508.3 520.6 507.1 519.2 506.2 518.1 504.6 516.2 504 515.6 502.1 513.5 501.7 513.1 499.6 511 499.2 510.6 497.1 508.6 496.6 508.1 494.6 506.3 493.8 505.6 492.1 504.2 490.7 503.1 489.6 502.2 487.4 500.6 487.1 500.4 484.6 498.7 483.6 498.1 482.1 497.1 479.6 495.7 479.4 495.6 477.1 494.4 474.6 493.2 474.3 493.1 472.1 492.2 469.6 491.3 467.2 490.6 467.1 490.6 464.6 490 462.1 489.5 459.6 489.3 457.1 489.2 454.6 489.3 452.1 489.7 449.6 490.2M512.1 525.6 512.1 525.6M454.6 499.9 452.5 500.6 452.1 500.7 449.6 502 447.8 503.1 447.1 503.7 445.1 505.6 444.6 506.2 443.3 508.1 442.1 510.3 442 510.6 441.1 513.1 440.6 515.6 440.4 518.1 440.4 520.6 440.7 523.1 441.1 525.6 441.7 528.1 442.1 529.6 442.4 530.6 443.3 533.1 444.3 535.6 444.6 536.1 445.7 538.1 447.1 540.3 447.3 540.6 449.1 543.1 449.6 543.7 451.2 545.6 452.1 546.7 453.3 548.1 454.6 549.7 455.3 550.6 457.1 553.1 457.1 553.1 458.7 555.6 459.6 557.1 460.2 558.1 461.7 560.6 462.1 561.3 463.3 563.1 464.6 564.9 465.2 565.6 467.1 567.7 467.6 568.1 469.6 569.8 470.7 570.6 472.1 571.6 474.6 573.1 474.6 573.1 477.1 574.6 478.7 575.6 479.6 576.1 482.1 577.7 482.7 578.1 484.6 579.3 486.7 580.6 487.1 580.8 489.6 582.4 490.7 583.1 492.1 584 494.5 585.6 494.6 585.7 497.1 587.5 497.9 588.1 499.6 589.4 500.9 590.6 502.1 591.6 503.8 593.1 504.6 593.8 506.8 595.6 507.1 595.8 509.6 597.5 510.6 598.1 512.1 598.9 514.6 600.1 516.1 600.6 517.1 601 519.6 601.7 522.1 602.2 524.6 602.6 527.1 602.8 529.6 602.9 532.1 602.8 534.6 602.6 537.1 602.3 539.6 601.8 542.1 601.2 544 600.6 544.6 600.3 547.1 599.1 548.8 598.1 549.6 597.3 551.2 595.6 552 593.1 551.5 590.6 549.7 588.1 549.6 588 547.1 586.1 546.4 585.6 544.6 584.6 542.1 583.2 541.9 583.1 539.6 582 537.1 580.7 537 580.6 534.6 579.2 532.8 578.1 532.1 577.5 530.1 575.6 529.6 574.8 528.5 573.1 527.5 570.6 527.1 569.5 526.5 568.1 525.5 565.6 524.6 563.8 524.3 563.1 523 560.6 522.1 558.9 521.7 558.1 520.5 555.6 519.6 553.8 519.3 553.1 518.2 550.6 517.1 548.2 517.1 548.1 516 545.6 514.8 543.1 514.6 542.7 513.6 540.6 512.2 538.1 512.1 537.9 510.8 535.6 509.6 533.6 509.3 533.1 507.6 530.6 507.1 529.8 505.9 528.1 504.6 526.4 504 525.6 502.1 523.2 502 523.1 499.8 520.6 499.6 520.3 497.5 518.1 497.1 517.6 495.1 515.6 494.6 515.2 492.4 513.1 492.1 512.9 489.6 510.7 489.4 510.6 487.1 508.8 486.2 508.1 484.6 507 482.5 505.6 482.1 505.4 479.6 503.9 478 503.1 477.1 502.6 474.6 501.5 472.1 500.6 469.6 499.9 467.1 499.3 464.6 499 462.1 498.9 459.6 499 457.1 499.3 454.6 499.9M472.1 500.6 472.1 500.6M464.6 507.8 463.3 508.1 462.1 508.4 459.6 509.4 457.3 510.6 457.1 510.7 454.6 512.8 454.3 513.1 452.4 515.6 452.1 516.2 451.3 518.1 450.7 520.6 450.6 523.1 450.8 525.6 451.3 528.1 452.1 530.5 452.1 530.6 453.4 533.1 454.6 535.2 454.8 535.6 456.5 538.1 457.1 538.9 458.3 540.6 459.6 542.6 459.9 543.1 461.5 545.6 462.1 546.6 463 548.1 464.3 550.6 464.6 551.1 465.7 553.1 467.1 555.5 467.1 555.6 468.8 558.1 469.6 559.2 470.8 560.6 472.1 561.9 473.5 563.1 474.6 564 476.8 565.6 477.1 565.8 479.6 567.5 480.5 568.1 482.1 569.2 484.2 570.6 484.6 570.8 487.1 572.5 488.1 573.1 489.6 574.1 492 575.6 492.1 575.6 494.6 577.2 495.9 578.1 497.1 578.9 499.5 580.6 499.6 580.7 502.1 582.6 502.6 583.1 504.6 585.1 505.1 585.6 507 588.1 507.1 588.2 508.8 590.6 509.6 591.4 511.1 593.1 512.1 593.9 514.3 595.6 514.6 595.8 517.1 597 519.6 598 519.8 598.1 522.1 598.7 524.6 599.1 527.1 599.3 529.6 599.3 532.1 599 534.6 598.6 536.4 598.1 537.1 597.8 539.6 596.3 540.7 595.6 542.1 593.4 542.3 593.1 542.3 590.6 542.1 590.3 540.8 588.1 539.6 587.1 538 585.6 537.1 585.1 534.6 583.6 533.8 583.1 532.1 582.2 529.6 581 528.8 580.6 527.1 579.6 524.6 578.1 522.2 575.6 522.1 575.3 521 573.1 520.2 570.6 519.6 569.1 519.2 568.1 517.9 565.6 517.1 564 516.6 563.1 515.3 560.6 514.6 559.3 514 558.1 512.9 555.6 512.1 553.7 511.9 553.1 510.9 550.6 509.9 548.1 509.6 547.4 508.9 545.6 507.8 543.1 507.1 541.8 506.5 540.6 505.2 538.1 504.6 537.1 503.7 535.6 502.2 533.1 502.1 533 500.5 530.6 499.6 529.4 498.6 528.1 497.1 526.2 496.6 525.6 494.6 523.3 494.4 523.1 492.1 520.7 492 520.6 489.6 518.4 489.3 518.1 487.1 516.2 486.3 515.6 484.6 514.3 482.8 513.1 482.1 512.6 479.6 511.2 478.5 510.6 477.1 509.9 474.6 508.9 472.1 508.2 471.4 508.1 469.6 507.8 467.1 507.6 464.6 507.8M524.6 578.1 524.6 578.1M469.6 517.7 468.8 518.1 467.1 519.3 465.9 520.6 464.7 523.1 464.6 523.7 464.3 525.6 464.3 528.1 464.6 529.9 464.7 530.6 465.4 533.1 466.2 535.6 467.1 538 467.1 538.1 468.2 540.6 469.3 543.1 469.6 543.6 470.6 545.6 472 548.1 472.1 548.3 473.5 550.6 474.6 552.2 475.3 553.1 477.1 555.3 477.4 555.6 479.6 557.8 479.9 558.1 482.1 560 482.8 560.6 484.6 561.9 486.3 563.1 487.1 563.6 489.6 565.1 490.5 565.6 492.1 566.5 494.6 567.7 495.7 568.1 497.1 568.7 499.6 569.7 502.1 570.5 502.7 570.6 504.6 570.9 505.5 570.6 507.1 568.8 507.2 568.1 507.1 565.9 507.1 565.6 506.6 563.1 506 560.6 505.5 558.1 505 555.6 504.6 554.1 504.4 553.1 503.7 550.6 502.9 548.1 502.1 545.9 502 545.6 500.9 543.1 499.8 540.6 499.6 540.3 498.4 538.1 497.1 535.9 496.9 535.6 495.2 533.1 494.6 532.3 493.3 530.6 492.1 529.2 491.1 528.1 489.6 526.4 488.7 525.6 487.1 524.1 485.9 523.1 484.6 522 482.5 520.6 482.1 520.3 479.6 519 477.6 518.1 477.1 517.9 474.6 517.3 472.1 517.2 469.6 517.7M517.1 585.1 516.5 585.6 515.8 588.1 516.8 590.6 517.1 590.9 519.6 593 519.8 593.1 522.1 593.9 524.6 594.2 527.1 594 529.5 593.1 529.6 593 531.4 590.6 531.2 588.1 529.6 586.7 528.1 585.6 527.1 585.2 524.6 584.4 522.1 584.1 519.6 584.2 517.1 585.1" stroke="#333" stroke-width=".45" fill="none" opacity=".8" stroke-dasharray="3 1 1 1"/>
</g>
<rect x="369.6" y="470.6" width="203" height="146.1" fill="none" stroke="#666" stroke-width=".6"/>
<defs><g id="bC15_90"><circle r="1.6" fill="#888" stroke="#111" stroke-width=".55"/><ellipse rx="0.5" ry="1" fill="#ddd" transform="rotate(0)"/></g></defs>
<use href="#bC15_90" x="425.1" y="490.8"/>
<use href="#bC15_90" x="438.7" y="490.8"/>
<defs><g id="bC24_90"><circle r="2.4" fill="#888" stroke="#111" stroke-width=".55"/><ellipse rx="0.8" ry="1.5" fill="#ddd" transform="rotate(0)"/></g></defs>
<use href="#bC24_90" x="452.2" y="490.8"/>
<use href="#bC24_90" x="465.8" y="490.8"/>
<use href="#bC15_90" x="479.3" y="490.8"/>
<use href="#bC15_90" x="492.9" y="490.8"/>
<use href="#bC15_90" x="506.4" y="490.8"/>
<use href="#bC15_90" x="520" y="490.8"/>
<use href="#bC15_90" x="533.5" y="490.8"/>
<use href="#bC15_90" x="547" y="490.8"/>
<use href="#bC15_90" x="425.1" y="497.7"/>
<use href="#bC24_90" x="438.7" y="497.7"/>
<use href="#bC24_90" x="452.2" y="497.7"/>
<use href="#bC24_90" x="465.8" y="497.7"/>
<use href="#bC24_90" x="479.3" y="497.7"/>
<use href="#bC15_90" x="492.9" y="497.7"/>
<use href="#bC15_90" x="506.4" y="497.7"/>
<use href="#bC15_90" x="520" y="497.7"/>
<use href="#bC15_90" x="533.5" y="497.7"/>
<use href="#bC15_90" x="547" y="497.7"/>
<use href="#bC15_90" x="425.1" y="504.7"/>
<use href="#bC24_90" x="438.7" y="504.7"/>
<defs><g id="bC30_90"><circle r="3" fill="#fff" stroke="#1a1a1a" stroke-width=".55"/><path d="M-2.7 -1.3Q0 1.4 2.7 -1.3A3 3 0 0 0 -2.7 -1.3Z" fill="#d01010" opacity=".85"/></g></defs>
<use href="#bC30_90" x="452.2" y="504.7"/>
<use href="#bC30_90" x="465.8" y="504.7"/>
<use href="#bC30_90" x="479.3" y="504.7"/>
<use href="#bC15_90" x="492.9" y="504.7"/>
<use href="#bC15_90" x="506.4" y="504.7"/>
<use href="#bC15_90" x="520" y="504.7"/>
<use href="#bC15_90" x="533.5" y="504.7"/>
<use href="#bC15_90" x="547" y="504.7"/>
<use href="#bC15_90" x="425.1" y="511.6"/>
<use href="#bC24_90" x="438.7" y="511.6"/>
<defs><g id="bC35_90"><circle r="3.5" fill="#fff" stroke="#1a1a1a" stroke-width=".55"/><path d="M-3.2 -1.5Q0 1.6 3.2 -1.5A3.5 3.5 0 0 0 -3.2 -1.5Z" fill="#d01010" opacity=".85"/></g></defs>
<use href="#bC35_90" x="452.2" y="511.6"/>
<use href="#bC35_90" x="465.8" y="511.6"/>
<use href="#bC35_90" x="479.3" y="511.6"/>
<use href="#bC24_90" x="492.9" y="511.6"/>
<use href="#bC15_90" x="506.4" y="511.6"/>
<use href="#bC15_90" x="520" y="511.6"/>
<use href="#bC15_90" x="533.5" y="511.6"/>
<use href="#bC15_90" x="547" y="511.6"/>
<use href="#bC15_90" x="425.1" y="518.5"/>
<use href="#bC24_90" x="438.7" y="518.5"/>
<use href="#bC35_90" x="452.2" y="518.5"/>
<use href="#bC35_90" x="465.8" y="518.5"/>
<use href="#bC35_90" x="479.3" y="518.5"/>
<use href="#bC30_90" x="492.9" y="518.5"/>
<use href="#bC24_90" x="506.4" y="518.5"/>
<use href="#bC15_90" x="520" y="518.5"/>
<use href="#bC15_90" x="533.5" y="518.5"/>
<use href="#bC15_90" x="547" y="518.5"/>
<use href="#bC15_90" x="425.1" y="525.5"/>
<use href="#bC24_90" x="438.7" y="525.5"/>
<use href="#bC35_90" x="452.2" y="525.5"/>
<use href="#bC35_90" x="465.8" y="525.5"/>
<use href="#bC35_90" x="479.3" y="525.5"/>
<use href="#bC35_90" x="492.9" y="525.5"/>
<use href="#bC24_90" x="506.4" y="525.5"/>
<use href="#bC15_90" x="520" y="525.5"/>
<use href="#bC15_90" x="533.5" y="525.5"/>
<use href="#bC15_90" x="547" y="525.5"/>
<use href="#bC15_90" x="425.1" y="532.5"/>
<use href="#bC24_90" x="438.7" y="532.5"/>
<use href="#bC35_90" x="452.2" y="532.5"/>
<use href="#bC35_90" x="465.8" y="532.5"/>
<use href="#bC35_90" x="479.3" y="532.5"/>
<use href="#bC35_90" x="492.9" y="532.5"/>
<use href="#bC30_90" x="506.4" y="532.5"/>
<use href="#bC15_90" x="520" y="532.5"/>
<use href="#bC15_90" x="533.5" y="532.5"/>
<use href="#bC15_90" x="547" y="532.5"/>
<use href="#bC15_90" x="425.1" y="539.4"/>
<use href="#bC24_90" x="438.7" y="539.4"/>
<use href="#bC30_90" x="452.2" y="539.4"/>
<use href="#bC35_90" x="465.8" y="539.4"/>
<use href="#bC35_90" x="479.3" y="539.4"/>
<use href="#bC35_90" x="492.9" y="539.4"/>
<use href="#bC35_90" x="506.4" y="539.4"/>
<use href="#bC24_90" x="520" y="539.4"/>
<use href="#bC15_90" x="533.5" y="539.4"/>
<use href="#bC15_90" x="547" y="539.4"/>
<use href="#bC15_90" x="398" y="546.4"/>
<use href="#bC15_90" x="425.1" y="546.4"/>
<use href="#bC15_90" x="438.7" y="546.4"/>
<use href="#bC30_90" x="452.2" y="546.4"/>
<use href="#bC35_90" x="465.8" y="546.4"/>
<use href="#bC35_90" x="479.3" y="546.4"/>
<use href="#bC35_90" x="492.9" y="546.4"/>
<use href="#bC35_90" x="506.4" y="546.4"/>
<use href="#bC24_90" x="520" y="546.4"/>
<use href="#bC15_90" x="533.5" y="546.4"/>
<use href="#bC15_90" x="547" y="546.4"/>
<use href="#bC15_90" x="398" y="553.3"/>
<use href="#bC15_90" x="411.6" y="553.3"/>
<use href="#bC15_90" x="425.1" y="553.3"/>
<use href="#bC15_90" x="438.7" y="553.3"/>
<use href="#bC24_90" x="452.2" y="553.3"/>
<use href="#bC35_90" x="465.8" y="553.3"/>
<use href="#bC35_90" x="479.3" y="553.3"/>
<use href="#bC35_90" x="492.9" y="553.3"/>
<use href="#bC35_90" x="506.4" y="553.3"/>
<use href="#bC24_90" x="520" y="553.3"/>
<use href="#bC15_90" x="533.5" y="553.3"/>
<use href="#bC15_90" x="547" y="553.3"/>
<use href="#bC15_90" x="398" y="560.2"/>
<use href="#bC15_90" x="411.6" y="560.2"/>
<use href="#bC15_90" x="425.1" y="560.2"/>
<use href="#bC15_90" x="438.7" y="560.2"/>
<use href="#bC15_90" x="452.2" y="560.2"/>
<use href="#bC30_90" x="465.8" y="560.2"/>
<use href="#bC35_90" x="479.3" y="560.2"/>
<use href="#bC35_90" x="492.9" y="560.2"/>
<use href="#bC35_90" x="506.4" y="560.2"/>
<use href="#bC30_90" x="520" y="560.2"/>
<use href="#bC15_90" x="533.5" y="560.2"/>
<use href="#bC15_90" x="547" y="560.2"/>
<use href="#bC15_90" x="398" y="567.2"/>
<use href="#bC15_90" x="411.6" y="567.2"/>
<use href="#bC15_90" x="425.1" y="567.2"/>
<use href="#bC15_90" x="438.7" y="567.2"/>
<use href="#bC15_90" x="452.2" y="567.2"/>
<use href="#bC24_90" x="465.8" y="567.2"/>
<use href="#bC35_90" x="479.3" y="567.2"/>
<use href="#bC35_90" x="492.9" y="567.2"/>
<use href="#bC35_90" x="506.4" y="567.2"/>
<use href="#bC35_90" x="520" y="567.2"/>
<use href="#bC15_90" x="533.5" y="567.2"/>
<use href="#bC15_90" x="547" y="567.2"/>
<use href="#bC15_90" x="398" y="574.1"/>
<use href="#bC15_90" x="411.6" y="574.1"/>
<use href="#bC15_90" x="425.1" y="574.1"/>
<use href="#bC15_90" x="438.7" y="574.1"/>
<use href="#bC15_90" x="452.2" y="574.1"/>
<use href="#bC24_90" x="465.8" y="574.1"/>
<use href="#bC30_90" x="479.3" y="574.1"/>
<use href="#bC35_90" x="492.9" y="574.1"/>
<use href="#bC35_90" x="506.4" y="574.1"/>
<use href="#bC35_90" x="520" y="574.1"/>
<use href="#bC24_90" x="533.5" y="574.1"/>
<use href="#bC15_90" x="547" y="574.1"/>
<use href="#bC15_90" x="398" y="581.1"/>
<use href="#bC15_90" x="411.6" y="581.1"/>
<use href="#bC15_90" x="425.1" y="581.1"/>
<use href="#bC15_90" x="438.7" y="581.1"/>
<use href="#bC15_90" x="452.2" y="581.1"/>
<use href="#bC15_90" x="465.8" y="581.1"/>
<use href="#bC24_90" x="479.3" y="581.1"/>
<use href="#bC30_90" x="492.9" y="581.1"/>
<use href="#bC35_90" x="506.4" y="581.1"/>
<use href="#bC35_90" x="520" y="581.1"/>
<use href="#bC30_90" x="533.5" y="581.1"/>
<use href="#bC15_90" x="547" y="581.1"/>
<use href="#bC15_90" x="560.6" y="581.1"/>
<use href="#bC15_90" x="398" y="588"/>
<use href="#bC15_90" x="411.6" y="588"/>
<use href="#bC15_90" x="425.1" y="588"/>
<use href="#bC15_90" x="438.7" y="588"/>
<use href="#bC15_90" x="452.2" y="588"/>
<use href="#bC15_90" x="465.8" y="588"/>
<use href="#bC15_90" x="479.3" y="588"/>
<use href="#bC24_90" x="492.9" y="588"/>
<use href="#bC35_90" x="506.4" y="588"/>
<use href="#bC35_90" x="520" y="588"/>
<use href="#bC35_90" x="533.5" y="588"/>
<use href="#bC30_90" x="547" y="588"/>
<use href="#bC15_90" x="560.6" y="588"/>
<use href="#bC15_90" x="398" y="595"/>
<use href="#bC15_90" x="411.6" y="595"/>
<use href="#bC15_90" x="425.1" y="595"/>
<use href="#bC15_90" x="438.7" y="595"/>
<use href="#bC15_90" x="452.2" y="595"/>
<use href="#bC15_90" x="465.8" y="595"/>
<use href="#bC15_90" x="479.3" y="595"/>
<use href="#bC15_90" x="492.9" y="595"/>
<use href="#bC30_90" x="506.4" y="595"/>
<use href="#bC35_90" x="520" y="595"/>
<use href="#bC35_90" x="533.5" y="595"/>
<use href="#bC30_90" x="547" y="595"/>
<use href="#bC15_90" x="560.6" y="595"/>
<use href="#bC15_90" x="398" y="602"/>
<use href="#bC15_90" x="411.6" y="602"/>
<use href="#bC15_90" x="425.1" y="602"/>
<use href="#bC15_90" x="438.7" y="602"/>
<use href="#bC15_90" x="452.2" y="602"/>
<use href="#bC15_90" x="465.8" y="602"/>
<use href="#bC15_90" x="479.3" y="602"/>
<use href="#bC15_90" x="492.9" y="602"/>
<use href="#bC15_90" x="506.4" y="602"/>
<use href="#bC24_90" x="520" y="602"/>
<use href="#bC30_90" x="533.5" y="602"/>
<use href="#bC24_90" x="547" y="602"/>
<use href="#bC15_90" x="560.6" y="602"/>
<path d="M384.5 483.8h.01M398 483.8h.01M411.6 483.8h.01M425.1 483.8h.01M438.7 483.8h.01M452.2 483.8h.01M465.8 483.8h.01M479.3 483.8h.01M492.9 483.8h.01M506.4 483.8h.01M520 483.8h.01M533.5 483.8h.01M547 483.8h.01M560.6 483.8h.01M384.5 490.8h.01M398 490.8h.01M411.6 490.8h.01M560.6 490.8h.01M384.5 497.7h.01M398 497.7h.01M411.6 497.7h.01M560.6 497.7h.01M384.5 504.7h.01M398 504.7h.01M411.6 504.7h.01M560.6 504.7h.01M384.5 511.6h.01M398 511.6h.01M411.6 511.6h.01M560.6 511.6h.01M384.5 518.5h.01M398 518.5h.01M411.6 518.5h.01M560.6 518.5h.01M384.5 525.5h.01M398 525.5h.01M411.6 525.5h.01M560.6 525.5h.01M384.5 532.5h.01M398 532.5h.01M411.6 532.5h.01M560.6 532.5h.01M384.5 539.4h.01M398 539.4h.01M411.6 539.4h.01M560.6 539.4h.01M384.5 546.4h.01M411.6 546.4h.01M560.6 546.4h.01M384.5 553.3h.01M560.6 553.3h.01M384.5 560.2h.01M560.6 560.2h.01M384.5 567.2h.01M560.6 567.2h.01M384.5 574.1h.01M560.6 574.1h.01M384.5 581.1h.01M384.5 588h.01M384.5 595h.01M384.5 602h.01M384.5 608.9h.01M398 608.9h.01M411.6 608.9h.01M425.1 608.9h.01M438.7 608.9h.01M452.2 608.9h.01M465.8 608.9h.01M479.3 608.9h.01M492.9 608.9h.01M506.4 608.9h.01M520 608.9h.01M533.5 608.9h.01M547 608.9h.01M560.6 608.9h.01" stroke="#222" stroke-width="1.5" stroke-linecap="round"/>
<rect x="576" y="471.4" width="9" height="145.3" fill="url(#gHot)" stroke="#777" stroke-width=".5"/>
<line x1="585" y1="511.2" x2="587" y2="511.2" stroke="#333" stroke-width=".6"/>
<text x="587.6" y="514.4" font-size="9">0.8</text>
<line x1="585" y1="563.9" x2="587" y2="563.9" stroke="#333" stroke-width=".6"/>
<text x="587.6" y="567.1" font-size="9">0.4</text>
<line x1="585" y1="616.7" x2="587" y2="616.7" stroke="#333" stroke-width=".6"/>
<text x="587.6" y="619.9" font-size="9">0.0</text>
<text x="607" y="544" font-size="8.4" text-anchor="middle" transform="rotate(-90 607 544)">Potency Density (m)</text>
<line x1="367.1" y1="477.5" x2="369.6" y2="477.5" stroke="#333" stroke-width=".6"/>
<text x="366" y="481.1" font-size="10.2" text-anchor="end">20</text>
<line x1="367.1" y1="505.3" x2="369.6" y2="505.3" stroke="#333" stroke-width=".6"/>
<text x="366" y="508.9" font-size="10.2" text-anchor="end">30</text>
<line x1="367.1" y1="533.1" x2="369.6" y2="533.1" stroke="#333" stroke-width=".6"/>
<text x="366" y="536.7" font-size="10.2" text-anchor="end">40</text>
<line x1="367.1" y1="560.9" x2="369.6" y2="560.9" stroke="#333" stroke-width=".6"/>
<text x="366" y="564.5" font-size="10.2" text-anchor="end">50</text>
<line x1="367.1" y1="588.7" x2="369.6" y2="588.7" stroke="#333" stroke-width=".6"/>
<text x="366" y="592.3" font-size="10.2" text-anchor="end">60</text>
<line x1="367.1" y1="616.5" x2="369.6" y2="616.5" stroke="#333" stroke-width=".6"/>
<text x="366" y="620.1" font-size="10.2" text-anchor="end">70</text>
<text x="369.7" y="626.3" font-size="10.2" text-anchor="middle">−40</text>
<text x="424.7" y="626.3" font-size="10.2" text-anchor="middle">−20</text>
<text x="479.7" y="626.3" font-size="10.2" text-anchor="middle">0</text>
<text x="534.7" y="626.3" font-size="10.2" text-anchor="middle">20</text>
<text x="471" y="636.5" font-size="10.3" text-anchor="middle">N &lt;- Strike (km) -&gt; S</text>
<text x="352.5" y="543.5" font-size="10.1" text-anchor="middle" transform="rotate(-90 352.5 543.5)">Depth (km)</text>
<defs><clipPath id="hCl"><rect x="369.6" y="646" width="204.6" height="63.7"/></clipPath><filter id="hClf" x="-5%" y="-5%" width="110%" height="110%"><feGaussianBlur stdDeviation="1.6"/></filter></defs>
<g clip-path="url(#hCl)"><g filter="url(#hClf)">
<path fill="#ffffff" d="M366.1 642.5h217.3v3.8h-217.3zM366.1 646h217.3v3.8h-217.3zM366.1 649.5h10.8v3.8h-10.8zM569.1 649.5h14.3v3.8h-14.3zM366.1 653h10.8v3.8h-10.8zM569.1 653h14.3v3.8h-14.3zM366.1 656.5h10.8v3.8h-10.8zM569.1 656.5h14.3v3.8h-14.3zM366.1 660h10.8v3.8h-10.8zM569.1 660h14.3v3.8h-14.3zM366.1 663.5h10.8v3.8h-10.8zM569.1 663.5h14.3v3.8h-14.3zM366.1 667h10.8v3.8h-10.8zM569.1 667h14.3v3.8h-14.3zM366.1 670.5h10.8v3.8h-10.8zM569.1 670.5h14.3v3.8h-14.3zM366.1 674h10.8v3.8h-10.8zM569.1 674h14.3v3.8h-14.3zM366.1 677.5h10.8v3.8h-10.8zM569.1 677.5h14.3v3.8h-14.3zM366.1 681h14.3v3.8h-14.3zM569.1 681h14.3v3.8h-14.3zM366.1 684.5h52.8v3.8h-52.8zM562.1 684.5h21.3v3.8h-21.3zM366.1 688h52.8v3.8h-52.8zM562.1 688h21.3v3.8h-21.3zM366.1 691.5h52.8v3.8h-52.8zM562.1 691.5h21.3v3.8h-21.3zM366.1 695h52.8v3.8h-52.8zM562.1 695h21.3v3.8h-21.3zM366.1 698.5h80.8v3.8h-80.8zM562.1 698.5h21.3v3.8h-21.3zM366.1 702h87.8v3.8h-87.8zM562.1 702h21.3v3.8h-21.3zM366.1 705.5h217.3v3.8h-217.3zM366.1 709h217.3v3.8h-217.3zM366.1 712.5h217.3v3.8h-217.3zM366.1 716h217.3v3.8h-217.3z"/>
<path fill="#fffff5" d="M376.6 649.5h3.8v3.8h-3.8zM376.6 653h3.8v3.8h-3.8zM376.6 656.5h3.8v3.8h-3.8zM376.6 660h3.8v3.8h-3.8zM376.6 663.5h3.8v3.8h-3.8zM376.6 667h3.8v3.8h-3.8zM376.6 670.5h3.8v3.8h-3.8zM376.6 674h3.8v3.8h-3.8zM376.6 677.5h3.8v3.8h-3.8zM565.6 681h3.8v3.8h-3.8zM418.6 691.5h3.8v3.8h-3.8zM422.1 695h3.8v3.8h-3.8zM436.1 695h3.8v3.8h-3.8zM558.6 702h3.8v3.8h-3.8z"/>
<path fill="#ffffa7" d="M380.1 649.5h3.8v3.8h-3.8zM380.1 653h3.8v3.8h-3.8zM380.1 656.5h3.8v3.8h-3.8zM380.1 660h3.8v3.8h-3.8zM380.1 663.5h3.8v3.8h-3.8zM380.1 667h3.8v3.8h-3.8zM380.1 670.5h3.8v3.8h-3.8zM380.1 674h3.8v3.8h-3.8zM380.1 677.5h3.8v3.8h-3.8zM418.6 684.5h3.8v3.8h-3.8z"/>
<path fill="#ffff5f" d="M383.6 649.5h178.8v3.8h-178.8zM383.6 653h178.8v3.8h-178.8zM383.6 656.5h147.3v3.8h-147.3zM558.6 656.5h3.8v3.8h-3.8zM383.6 660h126.3v3.8h-126.3zM383.6 663.5h105.3v3.8h-105.3zM383.6 667h3.8v3.8h-3.8zM411.6 667h52.8v3.8h-52.8zM383.6 674h3.8v3.8h-3.8zM383.6 677.5h21.3v3.8h-21.3z"/>
<path fill="#ffff77" d="M562.1 649.5h3.8v3.8h-3.8zM562.1 653h3.8v3.8h-3.8zM562.1 656.5h3.8v3.8h-3.8zM562.1 660h3.8v3.8h-3.8zM562.1 663.5h3.8v3.8h-3.8zM562.1 667h3.8v3.8h-3.8zM562.1 670.5h3.8v3.8h-3.8zM562.1 674h3.8v3.8h-3.8zM562.1 677.5h3.8v3.8h-3.8zM555.1 688h3.8v3.8h-3.8zM555.1 691.5h3.8v3.8h-3.8zM555.1 695h3.8v3.8h-3.8zM555.1 698.5h3.8v3.8h-3.8z"/>
<path fill="#ffffdb" d="M565.6 649.5h3.8v3.8h-3.8zM565.6 653h3.8v3.8h-3.8zM565.6 656.5h3.8v3.8h-3.8zM565.6 660h3.8v3.8h-3.8zM565.6 663.5h3.8v3.8h-3.8zM565.6 667h3.8v3.8h-3.8zM565.6 670.5h3.8v3.8h-3.8zM565.6 674h3.8v3.8h-3.8zM565.6 677.5h3.8v3.8h-3.8zM558.6 681h3.8v3.8h-3.8zM453.6 702h3.8v3.8h-3.8z"/>
<path fill="#ffff57" d="M530.6 656.5h17.8v3.8h-17.8zM551.6 656.5h7.3v3.8h-7.3zM509.6 660h17.8v3.8h-17.8zM558.6 660h3.8v3.8h-3.8zM488.6 663.5h10.8v3.8h-10.8zM558.6 663.5h3.8v3.8h-3.8zM387.1 667h3.8v3.8h-3.8zM408.1 667h3.8v3.8h-3.8zM464.1 667h14.3v3.8h-14.3zM558.6 667h3.8v3.8h-3.8zM383.6 670.5h3.8v3.8h-3.8zM387.1 674h7.3v3.8h-7.3zM558.6 677.5h3.8v3.8h-3.8zM432.6 691.5h3.8v3.8h-3.8z"/>
<path fill="#ffff4f" d="M548.1 656.5h3.8v3.8h-3.8zM527.1 660h7.3v3.8h-7.3zM555.1 660h3.8v3.8h-3.8zM499.1 663.5h7.3v3.8h-7.3zM404.6 667h3.8v3.8h-3.8zM478.1 667h7.3v3.8h-7.3zM558.6 670.5h3.8v3.8h-3.8zM394.1 674h3.8v3.8h-3.8zM558.6 674h3.8v3.8h-3.8z"/>
<path fill="#ffff47" d="M534.1 660h3.8v3.8h-3.8zM506.1 663.5h7.3v3.8h-7.3zM555.1 663.5h3.8v3.8h-3.8zM390.6 667h3.8v3.8h-3.8zM485.1 667h3.8v3.8h-3.8zM404.6 677.5h3.8v3.8h-3.8z"/>
<path fill="#ffff3f" d="M537.6 660h3.8v3.8h-3.8zM513.1 663.5h7.3v3.8h-7.3zM394.1 667h10.8v3.8h-10.8zM488.6 667h3.8v3.8h-3.8zM555.1 667h3.8v3.8h-3.8zM387.1 670.5h3.8v3.8h-3.8zM450.1 698.5h3.8v3.8h-3.8z"/>
<path fill="#ffff38" d="M541.1 660h3.8v3.8h-3.8zM551.6 660h3.8v3.8h-3.8zM520.1 663.5h3.8v3.8h-3.8zM492.1 667h3.8v3.8h-3.8zM397.6 674h3.8v3.8h-3.8zM415.1 681h3.8v3.8h-3.8z"/>
<path fill="#ffff30" d="M544.6 660h7.3v3.8h-7.3zM523.6 663.5h3.8v3.8h-3.8zM408.1 677.5h3.8v3.8h-3.8zM443.1 695h3.8v3.8h-3.8z"/>
<path fill="#ffff28" d="M527.1 663.5h3.8v3.8h-3.8zM495.6 667h3.8v3.8h-3.8zM411.6 670.5h42.3v3.8h-42.3zM404.6 674h31.8v3.8h-31.8zM411.6 677.5h10.8v3.8h-10.8zM551.6 688h3.8v3.8h-3.8zM509.6 691.5h45.8v3.8h-45.8zM464.1 695h91.3v3.8h-91.3zM453.6 698.5h101.8v3.8h-101.8z"/>
<path fill="#ffff18" d="M530.6 663.5h3.8v3.8h-3.8zM502.6 667h3.8v3.8h-3.8zM408.1 670.5h3.8v3.8h-3.8zM460.6 670.5h3.8v3.8h-3.8zM555.1 670.5h3.8v3.8h-3.8zM555.1 674h3.8v3.8h-3.8zM527.1 688h14.3v3.8h-14.3zM488.6 691.5h10.8v3.8h-10.8z"/>
<path fill="#ffff10" d="M534.1 663.5h3.8v3.8h-3.8zM551.6 663.5h3.8v3.8h-3.8zM390.6 670.5h3.8v3.8h-3.8zM464.1 670.5h3.8v3.8h-3.8zM443.1 674h3.8v3.8h-3.8zM425.6 677.5h3.8v3.8h-3.8zM551.6 684.5h3.8v3.8h-3.8zM425.6 688h3.8v3.8h-3.8zM520.1 688h7.3v3.8h-7.3zM481.6 691.5h7.3v3.8h-7.3z"/>
<path fill="#ffff00" d="M537.6 663.5h3.8v3.8h-3.8zM509.6 667h7.3v3.8h-7.3zM467.6 670.5h3.8v3.8h-3.8zM429.1 677.5h3.8v3.8h-3.8zM548.1 684.5h3.8v3.8h-3.8zM509.6 688h3.8v3.8h-3.8zM474.6 691.5h3.8v3.8h-3.8z"/>
<path fill="#fff700" d="M541.1 663.5h3.8v3.8h-3.8zM516.6 667h3.8v3.8h-3.8zM404.6 670.5h3.8v3.8h-3.8zM471.1 670.5h3.8v3.8h-3.8zM450.1 674h3.8v3.8h-3.8zM432.6 677.5h3.8v3.8h-3.8zM544.6 684.5h3.8v3.8h-3.8zM506.1 688h3.8v3.8h-3.8zM471.1 691.5h3.8v3.8h-3.8z"/>
<path fill="#ffef00" d="M544.6 663.5h3.8v3.8h-3.8zM520.1 667h3.8v3.8h-3.8zM551.6 667h3.8v3.8h-3.8zM474.6 670.5h3.8v3.8h-3.8zM422.1 681h3.8v3.8h-3.8zM551.6 681h3.8v3.8h-3.8zM537.6 684.5h7.3v3.8h-7.3zM467.6 691.5h3.8v3.8h-3.8z"/>
<path fill="#ffe800" d="M548.1 663.5h3.8v3.8h-3.8zM523.6 667h3.8v3.8h-3.8zM394.1 670.5h3.8v3.8h-3.8zM401.1 670.5h3.8v3.8h-3.8zM534.1 684.5h3.8v3.8h-3.8zM502.6 688h3.8v3.8h-3.8zM464.1 691.5h3.8v3.8h-3.8z"/>
<path fill="#ffff20" d="M499.1 667h3.8v3.8h-3.8zM453.6 670.5h7.3v3.8h-7.3zM401.1 674h3.8v3.8h-3.8zM436.1 674h7.3v3.8h-7.3zM422.1 677.5h3.8v3.8h-3.8zM555.1 677.5h3.8v3.8h-3.8zM418.6 681h3.8v3.8h-3.8zM541.1 688h10.8v3.8h-10.8zM499.1 691.5h10.8v3.8h-10.8zM446.6 695h17.8v3.8h-17.8z"/>
<path fill="#ffff08" d="M506.1 667h3.8v3.8h-3.8zM446.6 674h3.8v3.8h-3.8zM513.1 688h7.3v3.8h-7.3zM478.1 691.5h3.8v3.8h-3.8z"/>
<path fill="#ffd800" d="M527.1 667h3.8v3.8h-3.8zM481.6 670.5h3.8v3.8h-3.8zM523.6 684.5h3.8v3.8h-3.8zM495.6 688h3.8v3.8h-3.8zM457.1 691.5h3.8v3.8h-3.8z"/>
<path fill="#ffc900" d="M530.6 667h3.8v3.8h-3.8zM485.1 670.5h3.8v3.8h-3.8zM457.1 674h3.8v3.8h-3.8zM551.6 677.5h3.8v3.8h-3.8zM516.6 684.5h3.8v3.8h-3.8zM488.6 688h3.8v3.8h-3.8zM439.6 691.5h10.8v3.8h-10.8z"/>
<path fill="#ffc100" d="M534.1 667h3.8v3.8h-3.8zM548.1 681h3.8v3.8h-3.8zM485.1 688h3.8v3.8h-3.8z"/>
<path fill="#ffb900" d="M537.6 667h3.8v3.8h-3.8zM551.6 674h3.8v3.8h-3.8zM425.6 681h3.8v3.8h-3.8zM513.1 684.5h3.8v3.8h-3.8zM481.6 688h3.8v3.8h-3.8z"/>
<path fill="#ffb100" d="M541.1 667h3.8v3.8h-3.8zM548.1 667h3.8v3.8h-3.8zM488.6 670.5h3.8v3.8h-3.8zM551.6 670.5h3.8v3.8h-3.8zM460.6 674h3.8v3.8h-3.8zM443.1 677.5h3.8v3.8h-3.8zM544.6 681h3.8v3.8h-3.8z"/>
<path fill="#ffa900" d="M544.6 667h3.8v3.8h-3.8zM541.1 681h3.8v3.8h-3.8zM509.6 684.5h3.8v3.8h-3.8zM478.1 688h3.8v3.8h-3.8z"/>
<path fill="#ffe000" d="M397.6 670.5h3.8v3.8h-3.8zM478.1 670.5h3.8v3.8h-3.8zM453.6 674h3.8v3.8h-3.8zM436.1 677.5h3.8v3.8h-3.8zM527.1 684.5h7.3v3.8h-7.3zM499.1 688h3.8v3.8h-3.8zM460.6 691.5h3.8v3.8h-3.8z"/>
<path fill="#ffa200" d="M492.1 670.5h3.8v3.8h-3.8zM429.1 681h3.8v3.8h-3.8zM537.6 681h3.8v3.8h-3.8z"/>
<path fill="#fe8800" d="M495.6 670.5h3.8v3.8h-3.8zM520.1 681h3.8v3.8h-3.8z"/>
<path fill="#fe7e00" d="M499.1 670.5h3.8v3.8h-3.8zM467.6 674h3.8v3.8h-3.8zM548.1 677.5h3.8v3.8h-3.8zM502.6 684.5h3.8v3.8h-3.8zM429.1 688h3.8v3.8h-3.8z"/>
<path fill="#fd6b00" d="M502.6 670.5h10.8v3.8h-10.8zM523.6 670.5h7.3v3.8h-7.3zM450.1 677.5h3.8v3.8h-3.8zM544.6 677.5h3.8v3.8h-3.8zM499.1 684.5h3.8v3.8h-3.8z"/>
<path fill="#fe7400" d="M513.1 670.5h10.8v3.8h-10.8zM471.1 674h3.8v3.8h-3.8zM436.1 681h3.8v3.8h-3.8zM516.6 681h3.8v3.8h-3.8zM425.6 684.5h3.8v3.8h-3.8zM471.1 688h3.8v3.8h-3.8z"/>
<path fill="#fd6100" d="M530.6 670.5h3.8v3.8h-3.8zM548.1 670.5h3.8v3.8h-3.8zM474.6 674h7.3v3.8h-7.3zM548.1 674h3.8v3.8h-3.8zM541.1 677.5h3.8v3.8h-3.8zM513.1 681h3.8v3.8h-3.8zM429.1 684.5h3.8v3.8h-3.8zM432.6 688h7.3v3.8h-7.3z"/>
<path fill="#fd5700" d="M534.1 670.5h3.8v3.8h-3.8zM481.6 674h3.8v3.8h-3.8zM520.1 674h10.8v3.8h-10.8zM520.1 677.5h21.3v3.8h-21.3zM439.6 681h3.8v3.8h-3.8zM432.6 684.5h3.8v3.8h-3.8zM495.6 684.5h3.8v3.8h-3.8zM439.6 688h3.8v3.8h-3.8zM467.6 688h3.8v3.8h-3.8z"/>
<path fill="#fc4e00" d="M537.6 670.5h10.8v3.8h-10.8zM516.6 674h3.8v3.8h-3.8zM530.6 674h7.3v3.8h-7.3zM541.1 674h7.3v3.8h-7.3zM516.6 677.5h3.8v3.8h-3.8zM436.1 684.5h3.8v3.8h-3.8zM492.1 684.5h3.8v3.8h-3.8z"/>
<path fill="#ff9a00" d="M464.1 674h3.8v3.8h-3.8zM530.6 681h7.3v3.8h-7.3z"/>
<path fill="#fc4400" d="M485.1 674h3.8v3.8h-3.8zM513.1 674h3.8v3.8h-3.8zM537.6 674h3.8v3.8h-3.8zM509.6 681h3.8v3.8h-3.8zM488.6 684.5h3.8v3.8h-3.8zM443.1 688h3.8v3.8h-3.8z"/>
<path fill="#fb3100" d="M488.6 674h3.8v3.8h-3.8zM509.6 674h3.8v3.8h-3.8zM481.6 684.5h3.8v3.8h-3.8zM450.1 688h3.8v3.8h-3.8zM460.6 688h3.8v3.8h-3.8z"/>
<path fill="#fa1e00" d="M492.1 674h3.8v3.8h-3.8zM506.1 674h3.8v3.8h-3.8zM443.1 684.5h3.8v3.8h-3.8zM478.1 684.5h3.8v3.8h-3.8z"/>
<path fill="#f21200" d="M495.6 674h10.8v3.8h-10.8z"/>
<path fill="#ffd000" d="M439.6 677.5h3.8v3.8h-3.8zM422.1 684.5h3.8v3.8h-3.8zM520.1 684.5h3.8v3.8h-3.8zM492.1 688h3.8v3.8h-3.8zM436.1 691.5h3.8v3.8h-3.8zM450.1 691.5h7.3v3.8h-7.3z"/>
<path fill="#ff9100" d="M446.6 677.5h3.8v3.8h-3.8zM432.6 681h3.8v3.8h-3.8zM523.6 681h7.3v3.8h-7.3zM506.1 684.5h3.8v3.8h-3.8zM474.6 688h3.8v3.8h-3.8z"/>
<path fill="#fb3b00" d="M453.6 677.5h3.8v3.8h-3.8zM513.1 677.5h3.8v3.8h-3.8zM443.1 681h3.8v3.8h-3.8zM439.6 684.5h3.8v3.8h-3.8zM485.1 684.5h3.8v3.8h-3.8zM446.6 688h3.8v3.8h-3.8zM464.1 688h3.8v3.8h-3.8z"/>
<path fill="#fa1400" d="M457.1 677.5h3.8v3.8h-3.8zM506.1 677.5h3.8v3.8h-3.8zM446.6 681h3.8v3.8h-3.8zM502.6 681h3.8v3.8h-3.8z"/>
<path fill="#db0d00" d="M460.6 677.5h3.8v3.8h-3.8zM492.1 677.5h10.8v3.8h-10.8zM450.1 681h3.8v3.8h-3.8zM478.1 681h3.8v3.8h-3.8z"/>
<path fill="#cc0a00" d="M464.1 677.5h10.8v3.8h-10.8zM471.1 684.5h3.8v3.8h-3.8z"/>
<path fill="#d40b00" d="M474.6 677.5h3.8v3.8h-3.8zM450.1 684.5h3.8v3.8h-3.8z"/>
<path fill="#e30f00" d="M478.1 677.5h3.8v3.8h-3.8zM488.6 677.5h3.8v3.8h-3.8zM502.6 677.5h3.8v3.8h-3.8zM481.6 681h3.8v3.8h-3.8zM488.6 681h10.8v3.8h-10.8z"/>
<path fill="#eb1100" d="M481.6 677.5h7.3v3.8h-7.3zM485.1 681h3.8v3.8h-3.8zM499.1 681h3.8v3.8h-3.8zM446.6 684.5h3.8v3.8h-3.8zM474.6 684.5h3.8v3.8h-3.8z"/>
<path fill="#fb2700" d="M509.6 677.5h3.8v3.8h-3.8zM506.1 681h3.8v3.8h-3.8zM453.6 688h7.3v3.8h-7.3z"/>
<path fill="#ffffeb" d="M380.1 681h3.8v3.8h-3.8z"/>
<path fill="#ffffe0" d="M383.6 681h28.3v3.8h-28.3z"/>
<path fill="#ffffbe" d="M411.6 681h3.8v3.8h-3.8z"/>
<path fill="#bc0600" d="M453.6 681h3.8v3.8h-3.8zM453.6 684.5h3.8v3.8h-3.8zM467.6 684.5h3.8v3.8h-3.8z"/>
<path fill="#a50100" d="M457.1 681h3.8v3.8h-3.8zM467.6 681h3.8v3.8h-3.8zM460.6 684.5h3.8v3.8h-3.8z"/>
<path fill="#9d0000" d="M460.6 681h7.3v3.8h-7.3z"/>
<path fill="#b50500" d="M471.1 681h3.8v3.8h-3.8z"/>
<path fill="#c40800" d="M474.6 681h3.8v3.8h-3.8z"/>
<path fill="#ffff67" d="M555.1 681h3.8v3.8h-3.8z"/>
<path fill="#ffffe6" d="M562.1 681h3.8v3.8h-3.8z"/>
<path fill="#ad0300" d="M457.1 684.5h3.8v3.8h-3.8zM464.1 684.5h3.8v3.8h-3.8z"/>
<path fill="#ffff6f" d="M555.1 684.5h3.8v3.8h-3.8z"/>
<path fill="#fffff0" d="M558.6 684.5h3.8v3.8h-3.8zM418.6 688h3.8v3.8h-3.8zM558.6 688h3.8v3.8h-3.8zM558.6 691.5h3.8v3.8h-3.8zM425.6 695h10.8v3.8h-10.8zM558.6 695h3.8v3.8h-3.8zM558.6 698.5h3.8v3.8h-3.8z"/>
<path fill="#ffffaf" d="M422.1 688h3.8v3.8h-3.8zM425.6 691.5h7.3v3.8h-7.3z"/>
<path fill="#ffffd1" d="M422.1 691.5h3.8v3.8h-3.8z"/>
<path fill="#fffffa" d="M418.6 695h3.8v3.8h-3.8z"/>
<path fill="#ffffb7" d="M439.6 695h3.8v3.8h-3.8zM555.1 702h3.8v3.8h-3.8z"/>
<path fill="#ffffc6" d="M446.6 698.5h3.8v3.8h-3.8z"/>
<path fill="#ffff8f" d="M457.1 702h3.8v3.8h-3.8z"/>
<path fill="#ffff87" d="M460.6 702h94.8v3.8h-94.8z"/>
</g>
<path d="M384.6 650.5 383.2 651 382.6 653.5 382.6 656 382.6 658.5 382.6 661 382.6 663.5 382.6 666 382.6 668.5 382.6 671 382.6 673.5 382.6 676 382.6 678.5 383 681 384.6 681.5 387.1 681.6 389.6 681.6 392.1 681.6 394.6 681.6 397.1 681.6 399.6 681.6 402.1 681.6 404.6 681.6 407.1 681.6 409.6 681.7 412.1 681.9 414.6 682.6 415.9 683.5 417.1 684.2 419.6 685.3 420.3 686 422.1 687.5 423.4 688.5 424.6 690.4 425.8 691 427.1 692 429.6 692.9 432.1 693.1 433.3 693.5 434.6 694.1 437.1 694.9 439.6 695.6 440.4 696 442.1 696.9 444.6 697.7 446 698.5 447.1 699.1 449.6 700 451.1 701 452.1 701.6 454.6 702.3 457.1 703.1 458.2 703.5 459.6 703.9 462.1 703.9 464.6 703.9 467.1 703.9 469.6 703.9 472.1 703.9 474.6 703.9 477.1 703.9 479.6 703.9 482.1 703.9 484.6 703.9 487.1 703.9 489.6 703.9 492.1 703.9 494.6 703.9 497.1 703.9 499.6 703.9 502.1 703.9 504.6 703.9 507.1 703.9 509.6 703.9 512.1 703.9 514.6 703.9 517.1 703.9 519.6 703.9 522.1 703.9 524.6 703.9 527.1 703.9 529.6 703.9 532.1 703.9 534.6 703.9 537.1 703.9 539.6 703.9 542.1 703.9 544.6 703.9 547.1 703.9 549.6 703.9 552.1 703.9 554.6 703.9 555.5 703.5 557.1 701.7 557.4 701 557.4 698.5 557.4 696 557.4 693.5 557.5 691 557.5 688.5 557.6 686 557.7 683.5 559.6 681.9 562.1 681.6 564.4 681 564.6 680.1 564.8 678.5 564.8 676 564.8 673.5 564.8 671 564.8 668.5 564.8 666 564.7 663.5 564.7 661 564.7 658.5 564.7 656 564.7 653.5 564.6 652.7 564.1 651 562.1 650.5 559.6 650.5 557.1 650.5 554.6 650.5 552.1 650.5 549.6 650.5 547.1 650.5 544.6 650.5 542.1 650.5 539.6 650.5 537.1 650.5 534.6 650.5 532.1 650.5 529.6 650.5 527.1 650.5 524.6 650.5 522.1 650.5 519.6 650.5 517.1 650.5 514.6 650.5 512.1 650.5 509.6 650.5 507.1 650.5 504.6 650.5 502.1 650.5 499.6 650.5 497.1 650.5 494.6 650.5 492.1 650.5 489.6 650.5 487.1 650.5 484.6 650.5 482.1 650.5 479.6 650.5 477.1 650.5 474.6 650.5 472.1 650.5 469.6 650.5 467.1 650.5 464.6 650.5 462.1 650.5 459.6 650.5 457.1 650.5 454.6 650.5 452.1 650.5 449.6 650.5 447.1 650.5 444.6 650.5 442.1 650.5 439.6 650.5 437.1 650.5 434.6 650.5 432.1 650.5 429.6 650.5 427.1 650.5 424.6 650.5 422.1 650.5 419.6 650.5 417.1 650.5 414.6 650.5 412.1 650.5 409.6 650.5 407.1 650.5 404.6 650.5 402.1 650.5 399.6 650.5 397.1 650.5 394.6 650.5 392.1 650.5 389.6 650.5 387.1 650.5 384.6 650.5M549.6 663.4 548.9 663.5 547.1 663.6 544.6 663.9 542.1 664.2 539.6 664.6 537.1 664.9 534.6 665.3 532.1 665.8 531 666 529.6 666.2 527.1 666.6 524.6 667 522.1 667.3 519.6 667.6 517.1 667.8 514.6 668 512.1 668.2 509.6 668.5 509.4 668.5 507.1 668.6 504.6 668.8 502.1 668.9 499.6 669.1 497.1 669.4 494.6 669.6 492.1 669.9 489.6 670.2 487.1 670.5 484.6 670.8 482.8 671 482.1 671.1 479.6 671.2 477.1 671.4 474.6 671.6 472.1 671.8 469.6 672 467.1 672.2 464.6 672.5 462.1 672.8 459.6 673.2 457.9 673.5 457.1 673.6 454.6 673.9 452.1 674.3 449.6 674.8 447.1 675.4 445.1 676 444.6 676.1 442.1 676.4 439.6 676.8 437.1 677.2 434.6 677.7 432.1 678.4 431.6 678.5 429.6 678.7 427.1 679.1 424.6 680.1 423.4 681 422.1 682.2 421.1 683.5 422.1 684.6 422.5 686 424.6 687.5 425.5 688.5 427.1 689.7 429.6 690.7 430 691 432.1 691.9 434.6 692.5 436.8 693.5 437.1 693.6 439.6 694.2 442.1 694.8 444.6 695.9 447.1 695.8 449.6 695.8 452.1 695.7 454.6 695.7 457.1 695.6 459.6 695.5 462.1 695.4 464.6 695.3 467.1 695.1 469.6 694.9 472.1 694.6 474.6 694.3 477.1 693.9 479.6 693.5 479.6 693.5 482.1 693.3 484.6 693.2 487.1 693 489.6 692.9 492.1 692.8 494.6 692.6 497.1 692.5 499.6 692.3 502.1 692.1 504.6 691.8 507.1 691.4 509.4 691 509.6 691 512.1 690.8 514.6 690.5 517.1 690.3 519.6 690 522.1 689.8 524.6 689.6 527.1 689.4 529.6 689.2 532.1 689 534.6 688.8 537.1 688.6 537.6 688.5 539.6 688.4 542.1 688.2 544.6 688.1 547.1 687.9 549.6 687.6 552.1 686.6 552.7 686 554.6 683.8 554.7 683.5 555.6 681 556.3 678.5 556.5 676 556.5 673.5 555.9 671 554.6 668.6 554.5 668.5 553.6 666 552.1 664.3 549.8 663.5 549.6 663.4M394.6 670.5 392.7 671 394.6 673 394.9 673.5 397.1 674.2 399.6 674.6 402.1 674.8 404.6 674.7 407.1 673.8 407.6 673.5 407.1 673 405.6 671 404.6 670.8 402.1 670.4 399.6 670.3 397.1 670.3 394.6 670.5M529.6 670.8 527.7 671 527.1 671.1 524.6 671.4 522.1 671.6 519.6 671.7 517.1 671.7 514.6 671.7 512.1 671.6 509.6 671.6 507.1 671.6 504.6 671.7 502.1 671.9 499.6 672.1 497.1 672.3 494.6 672.6 492.1 673 489.6 673.3 488.1 673.5 487.1 673.7 484.6 674 482.1 674.3 479.6 674.5 477.1 674.7 474.6 674.9 472.1 675 469.6 675.3 467.1 675.6 464.6 675.9 464.3 676 462.1 676.3 459.6 676.7 457.1 677.2 454.6 677.7 452.1 678.3 451.2 678.5 449.6 678.9 447.1 679.5 444.6 680.1 442.1 680.7 441 681 439.6 681.4 437.1 682.1 434.6 682.6 432.1 683 429.6 683.4 429.3 683.5 427.1 684.5 425.9 686 427.1 687.3 428 688.5 429.6 689.1 432.1 689.9 433.7 691 434.6 691.2 437.1 691.4 439.6 691.7 442.1 691.7 444.6 691.8 447.1 691.8 449.6 691.9 452.1 691.9 454.6 691.9 457.1 691.9 459.6 691.8 462.1 691.6 464.6 691.4 467.1 691.1 468 691 469.6 690.8 472.1 690.5 474.6 690.1 477.1 689.8 479.6 689.4 482.1 689 484.6 688.7 486.8 688.5 487.1 688.5 489.6 688.3 492.1 688.1 494.6 687.9 497.1 687.8 499.6 687.5 502.1 687.2 504.6 686.9 507.1 686.5 509.4 686 509.6 685.9 512.1 685.4 514.6 684.8 517.1 684.3 519.6 683.9 522.1 683.5 522.2 683.5 524.6 683.1 527.1 682.9 529.6 682.7 532.1 682.6 534.6 682.5 537.1 682.3 539.6 682.1 542.1 681.9 544.6 681.6 547.1 681.3 548.4 681 549.6 680.6 551.3 678.5 552.1 676 552.1 675.3 552.2 673.5 552.1 673.3 550.9 671 549.6 669.9 547.1 669.6 544.6 669.6 542.1 669.7 539.6 669.9 537.1 670.1 534.6 670.3 532.1 670.6 529.6 670.8M494.6 676 494.4 676 492.1 676.7 489.6 677.3 487.1 677.8 484.6 678 482.1 678 479.6 677.9 477.1 677.8 474.6 677.8 472.1 677.8 469.6 677.8 467.1 678 464.6 678.2 462.7 678.5 462.1 678.6 459.6 679.2 457.1 679.8 454.6 680.4 452.3 681 452.1 681.1 449.6 682.5 447.2 683.5 447.1 683.7 446.1 686 447.1 687.1 448.9 688.5 449.6 688.6 452.1 689 454.6 689.2 457.1 689.3 459.6 689.3 462.1 689.2 464.6 689 467.1 688.8 469.1 688.5 469.6 688.4 472.1 687.8 474.6 687.2 477.1 686.6 479.6 686.1 480 686 482.1 685.2 484.6 684.6 487.1 684.3 489.6 684.3 492.1 684.2 494.6 684.2 497.1 684.1 499.6 683.9 502.1 683.5 504.6 682.4 507.1 681.3 507.6 681 508.6 678.5 507.1 676.1 507 676 504.6 675.6 502.1 675.4 499.6 675.4 497.1 675.7 494.6 676M502.1 683.5 502.1 683.5" stroke="#333" stroke-width=".45" fill="none" opacity=".8" stroke-dasharray="3 1 1 1"/>
</g>
<rect x="369.6" y="646" width="204.6" height="63.7" fill="none" stroke="#666" stroke-width=".6"/>
<rect x="576" y="646" width="8.8" height="63.7" fill="url(#gHot)" stroke="#777" stroke-width=".5"/>
<text x="586" y="647.8" font-size="5.2" fill="#222">0.36</text>
<text x="586" y="679.6" font-size="5.2" fill="#222">0.18</text>
<text x="586" y="711.5" font-size="5.2" fill="#222">0.00</text>
<text x="601.3" y="678" font-size="5" text-anchor="middle" fill="#222" transform="rotate(-90 601.3 678)">Potency-rate Density (m/s)</text>
<line x1="367.1" y1="709.7" x2="369.6" y2="709.7" stroke="#333" stroke-width=".6"/>
<text x="366" y="713.3" font-size="10.2" text-anchor="end">0</text>
<line x1="367.1" y1="682.7" x2="369.6" y2="682.7" stroke="#333" stroke-width=".6"/>
<text x="366" y="686.3" font-size="10.2" text-anchor="end">5</text>
<line x1="367.1" y1="655.7" x2="369.6" y2="655.7" stroke="#333" stroke-width=".6"/>
<text x="366" y="659.3" font-size="10.2" text-anchor="end">10</text>
<text x="426" y="718" font-size="10.2" text-anchor="middle">−20</text>
<text x="480.4" y="718" font-size="10.2" text-anchor="middle">0</text>
<text x="534.8" y="718" font-size="10.2" text-anchor="middle">20</text>
<text x="471" y="729.4" font-size="10.3" text-anchor="middle">Strike (km)</text>
<text x="352.5" y="678" font-size="10.1" text-anchor="middle" transform="rotate(-90 352.5 678)">Time (s)</text>
<path d="M608.6 540.5 609.1 540.5 609.6 540.5 610.1 540.5 610.5 540.5 611 540.5 611.5 540.5 612 540.5 612.5 540.5 613 540.5 613.4 540.5 613.9 540.5 614.4 540.5 614.9 540.5 615.4 540.5 615.9 540.5 616.3 540.5 616.8 540.5 617.3 540.5 617.8 540.5 618.3 540.5 618.8 541.5 619.2 539.2 619.7 537.5 620.2 540.5 620.7 541.7 621.2 544 621.7 538.5 622.1 544.1 622.6 536.6 623.1 540.5 623.6 544 624.1 542.9 624.6 540.4 625 539.3 625.5 535 626 534.4 626.5 539.9 627 533.7 627.5 535.9 627.9 536.3 628.4 534.5 628.9 541.3 629.4 539.7 629.9 539.6 630.4 544.1 630.8 545.8 631.3 536.1 631.8 535.9 632.3 534.8 632.8 535.8 633.3 539 633.7 534.9 634.2 543.4 634.7 540.4 635.2 540 635.7 550 636.2 551.5 636.6 552.2 637.1 553.1 637.6 547.2 638.1 538.7 638.6 536 639.1 529.7 639.5 520.4 640 526.1 640.5 532.4 641 537.3 641.5 540.4 642 549.4 642.4 552.9 642.9 554.9 643.4 553.5 643.9 554 644.4 541.2 644.9 534 645.3 537.7 645.8 534.6 646.3 534.5 646.8 537.3 647.3 536 647.8 534 648.2 537.9 648.7 537.6 649.2 541.3 649.7 543.8 650.2 544.7 650.7 546.5 651.1 545.5 651.6 543.1 652.1 538.6 652.6 536.8 653.1 539.3 653.6 535.3 654 533.5 654.5 540.2 655 537 655.5 540.2 656 543.5 656.5 546.9 657 547 657.4 543.1 657.9 544.5 658.4 542.4 658.9 540 659.4 542.5 659.9 543.4 660.3 540 660.8 542.8 661.3 541.7 661.8 539.8 662.3 535 662.8 536.4 663.2 538.3 663.7 538.6 664.2 536 664.7 541.1 665.2 540.2 665.7 543.4 666.1 542.9 666.6 546.5 667.1 541.7 667.6 540.7 668.1 542.3 668.6 546.7 669 544.2 669.5 541.7 670 538.7 670.5 537.3 671 530.8 671.5 532.4 671.9 531.2 672.4 534.3 672.9 537 673.4 538 673.9 543.6 674.4 549.2 674.8 549.1 675.3 549.5 675.8 551.4 676.3 543.6 676.8 542.3 677.3 535.8 677.7 535 678.2 531.1 678.7 531.1 679.2 535.8 679.7 540 680.2 543.5 680.6 546.1 681.1 549" stroke="#1a1a1a" stroke-width=".8" fill="none"/>
<path d="M608.6 540.5 609.1 540.5 609.6 540.5 610.1 540.5 610.5 540.5 611 540.5 611.5 540.5 612 540.5 612.5 540.5 613 540.5 613.4 540.5 613.9 540.5 614.4 540.5 614.9 540.5 615.4 540.5 615.9 540.5 616.3 540.5 616.8 540.5 617.3 540.5 617.8 540.5 618.3 540.1 618.8 539.6 619.2 539.4 619.7 539.8 620.2 540.3 620.7 541 621.2 542.1 621.7 542.5 622.1 542.2 622.6 542.4 623.1 543.1 623.6 543 624.1 543.4 624.6 542.7 625 541.2 625.5 539.5 626 538 626.5 536.5 627 536.3 627.5 536.5 627.9 537 628.4 538.4 628.9 540.4 629.4 542.1 629.9 543.7 630.4 543.6 630.8 542.2 631.3 540.6 631.8 539.1 632.3 537.2 632.8 536.4 633.3 537.2 633.7 537.6 634.2 538.2 634.7 540.6 635.2 543.7 635.7 546 636.2 549.1 636.6 550.5 637.1 548.9 637.6 545.7 638.1 540.9 638.6 534 639.1 529.1 639.5 527.2 640 528 640.5 530.2 641 535.8 641.5 542.2 642 547.3 642.4 549.5 642.9 552.4 643.4 551.8 643.9 548.5 644.4 544.8 644.9 542 645.3 538.5 645.8 537 646.3 535.6 646.8 535.3 647.3 535.9 647.8 536.1 648.2 536.2 648.7 538.3 649.2 540.1 649.7 541.7 650.2 543.5 650.7 544.4 651.1 544 651.6 542.6 652.1 540.7 652.6 538.3 653.1 536.6 653.6 536.3 654 536.6 654.5 537 655 539.1 655.5 542 656 543.2 656.5 544.4 657 545.4 657.4 544.9 657.9 542.9 658.4 541.8 658.9 540.9 659.4 540.6 659.9 540.8 660.3 541.3 660.8 541.5 661.3 540.4 661.8 538.8 662.3 537.9 662.8 537.4 663.2 536.9 663.7 538 664.2 539.7 664.7 540.8 665.2 541.5 665.7 542.8 666.1 542.9 666.6 542.6 667.1 542.4 667.6 543.2 668.1 542.9 668.6 542.7 669 541.9 669.5 540.9 670 538 670.5 536 671 534.3 671.5 534 671.9 533.8 672.4 535.4 672.9 537.6 673.4 540.6 673.9 543.1 674.4 545.8 674.8 547.7 675.3 548.5 675.8 547.5 676.3 545.2 676.8 541.7 677.3 538 677.7 534.7 678.2 533.1 678.7 533.8 679.2 536 679.7 539.2 680.2 542.5 680.6 544.6 681.1 546" stroke="#ee2a24" stroke-width=".75" fill="none"/>
<text x="627.1" y="525" font-size="4.6" fill="#222">COLA BHZ</text>
<path d="M608.6 576.7 609 576.7 609.5 576.7 609.9 576.7 610.4 576.7 610.8 576.7 611.3 576.7 611.7 576.7 612.2 576.7 612.6 576.7 613 576.7 613.5 576.7 613.9 576.7 614.4 576.7 614.8 576.7 615.3 576.7 615.7 576.7 616.2 576.7 616.6 576.7 617.1 576.7 617.5 576.7 617.9 575 618.4 572 618.8 571.1 619.3 575.5 619.7 574.5 620.2 573.6 620.6 575.7 621.1 575.1 621.5 578.3 621.9 575.1 622.4 578.2 622.8 582.5 623.3 580.5 623.7 579.6 624.2 582.8 624.6 576.1 625.1 569.6 625.5 573.9 625.9 567.7 626.4 569.8 626.8 577.1 627.3 580.4 627.7 579.7 628.2 582.5 628.6 574.1 629.1 578.1 629.5 570.9 630 576.2 630.4 572.4 630.8 577 631.3 576.2 631.7 570.6 632.2 571.7 632.6 581.3 633.1 581.1 633.5 581 634 578.5 634.4 586.8 634.8 579.9 635.3 580.3 635.7 582.4 636.2 580.4 636.6 578.6 637.1 581.7 637.5 582.6 638 582.6 638.4 573.8 638.8 574.1 639.3 575.4 639.7 567.1 640.2 567 640.6 572.3 641.1 565.9 641.5 566.2 642 577.5 642.4 580.6 642.9 581.8 643.3 586.2 643.7 585.2 644.2 585.1 644.6 577.3 645.1 573 645.5 573.7 646 571 646.4 567.2 646.9 568.9 647.3 569.1 647.7 575.8 648.2 577.2 648.6 583.4 649.1 585.2 649.5 582.3 650 576.9 650.4 573.5 650.9 579.5 651.3 576.1 651.7 575.9 652.2 576.5 652.6 574 653.1 572.5 653.5 575 654 575.9 654.4 580.4 654.9 577.2 655.3 575.5 655.8 578.5 656.2 581 656.6 577.8 657.1 578.7 657.5 582.6 658 578 658.4 573.7 658.9 570.3 659.3 570.6 659.8 566.6 660.2 567.2 660.6 571 661.1 576.7 661.5 576.3 662 577.4 662.4 581.8 662.9 584.3 663.3 585.9 663.8 581.6 664.2 580.1 664.6 578 665.1 574.4 665.5 568.2 666 568.4 666.4 573.5 666.9 572.1 667.3 574.8 667.8 575.6 668.2 584.2 668.7 586.4 669.1 587.6 669.5 580.3 670 581.5 670.4 579.7 670.9 574.6 671.3 570.7 671.8 573.9 672.2 570.9 672.7 572.9 673.1 573 673.5 577.8 674 576.3 674.4 578.6 674.9 575.4 675.3 575.8" stroke="#1a1a1a" stroke-width=".8" fill="none"/>
<path d="M608.6 576.7 609 576.7 609.5 576.7 609.9 576.7 610.4 576.7 610.8 576.7 611.3 576.7 611.7 576.7 612.2 576.7 612.6 576.7 613 576.7 613.5 576.7 613.9 576.7 614.4 576.7 614.8 576.7 615.3 576.7 615.7 576.7 616.2 576.7 616.6 576.7 617.1 576.3 617.5 574.7 617.9 573.5 618.4 572.9 618.8 571.8 619.3 571.3 619.7 572.8 620.2 573.5 620.6 574.2 621.1 575.3 621.5 576.5 621.9 577.6 622.4 579.1 622.8 579.8 623.3 581.5 623.7 581.3 624.2 579.2 624.6 577.2 625.1 575.2 625.5 572.5 625.9 572 626.4 574.6 626.8 576.1 627.3 578.1 627.7 578.5 628.2 578.4 628.6 576.3 629.1 575 629.5 574 630 574.2 630.4 574.3 630.8 574.3 631.3 574.1 631.7 574.6 632.2 575.8 632.6 576.1 633.1 577.5 633.5 580 634 580.4 634.4 580.3 634.8 580.7 635.3 581 635.7 580.4 636.2 580.4 636.6 580.8 637.1 581.6 637.5 580.6 638 578.6 638.4 577.7 638.8 574.8 639.3 571.8 639.7 570.7 640.2 570.3 640.6 569.1 641.1 570.6 641.5 572.7 642 575.2 642.4 578.2 642.9 581.2 643.3 583.3 643.7 582.7 644.2 580.4 644.6 578.2 645.1 575.2 645.5 571.6 646 570.5 646.4 570.4 646.9 570.8 647.3 573 647.7 576.1 648.2 579.5 648.6 582.5 649.1 582.8 649.5 581.5 650 580.7 650.4 578.2 650.9 576.3 651.3 576.3 651.7 576.3 652.2 575.2 652.6 575.3 653.1 575.2 653.5 575.6 654 576.1 654.4 576.5 654.9 577.2 655.3 577.9 655.8 578 656.2 578.8 656.6 580.3 657.1 580 657.5 579.3 658 577.2 658.4 575 658.9 571.8 659.3 569.5 659.8 568.6 660.2 569.8 660.6 571.3 661.1 573.5 661.5 577 662 579.9 662.4 582.1 662.9 583.2 663.3 583.9 663.8 582.5 664.2 579.9 664.6 576.1 665.1 573.2 665.5 571.5 666 571.1 666.4 571.7 666.9 573.7 667.3 577 667.8 579.3 668.2 581.6 668.7 583 669.1 583.8 669.5 582.7 670 581.1 670.4 578.5 670.9 577 671.3 575.2 671.8 573.8 672.2 572.7 672.7 573.1 673.1 573.8 673.5 574.5 674 575 674.4 576 674.9 576.1 675.3 575.5" stroke="#ee2a24" stroke-width=".75" fill="none"/>
<text x="627.1" y="561.2" font-size="4.6" fill="#222">CTAO BHZ</text>
<path d="M608.6 613.4 609.1 613.4 609.6 613.4 610 613.4 610.5 613.4 611 613.4 611.5 613.4 611.9 613.4 612.4 613.4 612.9 613.4 613.4 613.4 613.9 613.4 614.3 613.4 614.8 613.4 615.3 613.4 615.8 613.4 616.3 613.4 616.7 613.4 617.2 613.4 617.7 613.4 618.2 612.5 618.6 611.9 619.1 619.7 619.6 620.1 620.1 606.9 620.6 605 621 601.5 621.5 599.4 622 607.8 622.5 613.6 623 612.3 623.4 617.5 623.9 621 624.4 627.7 624.9 621 625.3 626.3 625.8 627.9 626.3 623.3 626.8 611.2 627.3 613.6 627.7 612.3 628.2 611.5 628.7 607.8 629.2 611.8 629.6 607.8 630.1 604.5 630.6 602 631.1 607.5 631.6 613 632 612.8 632.5 611.8 633 613.7 633.5 616.6 634 618.8 634.4 614.5 634.9 619.7 635.4 621 635.9 615.5 636.3 615.8 636.8 619 637.3 614 637.8 613.7 638.3 618.1 638.7 619.6 639.2 619.8 639.7 619 640.2 607.4 640.7 610.9 641.1 614.2 641.6 602.7 642.1 599.2 642.6 612.7 643 611.3 643.5 613.3 644 615.1 644.5 623.8 645 620.7 645.4 620.9 645.9 611.8 646.4 617.7 646.9 616.7 647.4 616.1 647.8 606.8 648.3 609.6 648.8 607.5 649.3 614.7 649.7 610.2 650.2 613.3 650.7 614.8 651.2 609 651.7 610 652.1 607.1 652.6 616.2 653.1 614.2 653.6 619.4 654 614.9 654.5 617 655 615.1 655.5 614 656 606.2 656.4 612.9 656.9 612.3 657.4 606.6 657.9 610 658.4 610.7 658.8 611.3 659.3 614.6 659.8 616.1 660.3 616.4 660.7 617.9 661.2 617.5 661.7 617.1 662.2 615.4 662.7 619.7 663.1 623.4 663.6 616.8 664.1 617 664.6 618.4 665.1 611.6 665.5 603.6 666 604.5 666.5 598.7 667 599.5 667.4 602.4 667.9 606.1 668.4 611.8 668.9 624.1 669.4 618.4 669.8 618.4 670.3 622.5 670.8 616.5 671.3 611.3 671.7 613.3 672.2 613.8 672.7 610.1 673.2 615.1 673.7 615.6 674.1 617.6 674.6 618.2 675.1 612.6 675.6 618 676.1 614.6 676.5 610 677 607.8 677.5 609.6 678 608.7 678.4 605.8 678.9 608 679.4 615.3 679.9 613.3 680.4 613.9" stroke="#1a1a1a" stroke-width=".8" fill="none"/>
<path d="M608.6 613.4 609.1 613.4 609.6 613.4 610 613.4 610.5 613.4 611 613.4 611.5 613.4 611.9 613.4 612.4 613.4 612.9 613.4 613.4 613.4 613.9 613.4 614.3 613.4 614.8 613.4 615.3 613.4 615.8 613.4 616.3 613.4 616.7 613.4 617.2 613.2 617.7 613.3 618.2 614.1 618.6 614.8 619.1 614.4 619.6 613.2 620.1 611 620.6 607.7 621 605.4 621.5 605.3 622 607.1 622.5 610.2 623 613.4 623.4 618 623.9 620.9 624.4 622.5 624.9 623.9 625.3 624.1 625.8 620.6 626.3 618.2 626.8 615.5 627.3 612.6 627.7 610.3 628.2 610.2 628.7 608.7 629.2 607.9 629.6 606.1 630.1 606.4 630.6 606.1 631.1 607.1 631.6 608.6 632 611.1 632.5 613.2 633 614.7 633.5 615.7 634 616.7 634.4 618.1 634.9 617.2 635.4 616.7 635.9 617 636.3 615.9 636.8 614.9 637.3 615.3 637.8 616.2 638.3 616.4 638.7 617.2 639.2 615.7 639.7 614.5 640.2 613.2 640.7 610.3 641.1 606.6 641.6 607.6 642.1 607.9 642.6 607.9 643 610.5 643.5 615.3 644 616.9 644.5 619 645 619.3 645.4 619.5 645.9 618.5 646.4 616.8 646.9 613.9 647.4 613 647.8 611 648.3 609.5 648.8 609.2 649.3 610.2 649.7 611 650.2 611.9 650.7 611.6 651.2 611 651.7 611.2 652.1 611.6 652.6 613.3 653.1 614.5 653.6 615.9 654 616.4 654.5 616 655 613.7 655.5 613 656 611.8 656.4 610.2 656.9 609.1 657.4 609.5 657.9 609.6 658.4 611.2 658.8 613 659.3 615 659.8 616.7 660.3 617.7 660.7 617.6 661.2 617.4 661.7 617.5 662.2 618.7 662.7 618.9 663.1 619 663.6 619.5 664.1 618.3 664.6 613.8 665.1 610.8 665.5 607.6 666 604 666.5 602 667 602.8 667.4 604.2 667.9 608.4 668.4 612.1 668.9 615.6 669.4 619.1 669.8 620.6 670.3 618.2 670.8 617.2 671.3 615.9 671.7 614.3 672.2 613.7 672.7 614.4 673.2 615.6 673.7 616.4 674.1 616.2 674.6 616.5 675.1 616.9 675.6 614.8 676.1 612.7 676.5 611.8 677 609.8 677.5 607.9 678 607.8 678.4 608.6 678.9 609.7 679.4 611.3 679.9 612.5 680.4 613.9" stroke="#ee2a24" stroke-width=".75" fill="none"/>
<text x="627.1" y="597.9" font-size="4.6" fill="#222">CASY BHZ</text>
<path d="M608.6 650.5 609 650.5 609.5 650.5 609.9 650.5 610.4 650.5 610.8 650.5 611.2 650.5 611.7 650.5 612.1 650.5 612.6 650.5 613 650.5 613.4 650.5 613.9 650.5 614.3 650.5 614.8 650.5 615.2 650.5 615.6 650.5 616.1 650.9 616.5 649.9 617 654.2 617.4 652.7 617.9 654.6 618.3 647.4 618.7 640.3 619.2 632.1 619.6 644.4 620.1 645.1 620.5 655.5 620.9 657.6 621.4 666.5 621.8 661.1 622.3 663.1 622.7 660.8 623.1 660.2 623.6 654.3 624 655.4 624.5 648.2 624.9 646.3 625.3 642.3 625.8 643.7 626.2 638.9 626.7 646.4 627.1 648.5 627.5 642.5 628 644.8 628.4 656 628.9 651.1 629.3 650.3 629.7 646.5 630.2 645.7 630.6 651 631.1 655.1 631.5 658.4 632 660.9 632.4 657.8 632.8 655.1 633.3 650.9 633.7 646.3 634.2 642.1 634.6 638.9 635 636.6 635.5 639.9 635.9 647.3 636.4 653 636.8 654.3 637.2 659.2 637.7 665.6 638.1 654.2 638.6 658.1 639 652.8 639.4 652.6 639.9 644.8 640.3 649 640.8 645.3 641.2 644 641.6 647.6 642.1 648.1 642.5 646.1 643 652.3 643.4 654 643.8 658.4 644.3 656.2 644.7 655.7 645.2 650.7 645.6 653.8 646.1 655.1 646.5 648.4 646.9 646 647.4 646 647.8 640.5 648.3 636.6 648.7 645.8 649.1 645.9 649.6 650.8 650 654.9 650.5 655.2 650.9 658.2 651.3 657.1 651.8 659 652.2 659.5 652.7 654.8 653.1 650.3 653.5 642 654 645.2 654.4 645.2 654.9 648.6 655.3 655.1 655.7 651.6 656.2 656.4 656.6 653.2 657.1 652.4 657.5 642.2 657.9 648.5 658.4 646.3 658.8 643.1 659.3 643.3 659.7 644.2 660.2 644.2 660.6 654.5 661 655.4 661.5 652.9 661.9 656.1 662.4 653.9 662.8 653.1 663.2 657 663.7 653.9 664.1 654.1 664.6 649.9 665 648.2 665.4 648.7 665.9 652.4 666.3 650.6 666.8 647.3 667.2 646.7 667.6 645.1 668.1 643.6 668.5 644.2 669 648.1 669.4 650.7 669.8 653.9 670.3 655.6 670.7 651.8 671.2 648.6 671.6 648.4 672 649.6 672.5 649 672.9 648.4 673.4 648.9 673.8 651.8 674.2 652.5 674.7 655.9" stroke="#1a1a1a" stroke-width=".8" fill="none"/>
<path d="M608.6 650.5 609 650.5 609.5 650.5 609.9 650.5 610.4 650.5 610.8 650.5 611.2 650.5 611.7 650.5 612.1 650.5 612.6 650.5 613 650.5 613.4 650.5 613.9 650.5 614.3 650.5 614.8 650.5 615.2 650.4 615.6 650.3 616.1 650.8 616.5 651.6 617 651.9 617.4 650.8 617.9 648.8 618.3 644.4 618.7 642.2 619.2 640.9 619.6 642.9 620.1 646.3 620.5 652.9 620.9 656.7 621.4 660.7 621.8 662 622.3 662.7 622.7 661.1 623.1 659.8 623.6 655.9 624 652.9 624.5 650 624.9 647.1 625.3 643.8 625.8 643.9 626.2 644.1 626.7 643.3 627.1 644.2 627.5 647.1 628 648.2 628.4 649.1 628.9 650.6 629.3 650.4 629.7 650.3 630.2 650.7 630.6 651.2 631.1 653.8 631.5 656.4 632 657.2 632.4 657.1 632.8 656.3 633.3 652.5 633.7 649.1 634.2 645.1 634.6 642.4 635 641.2 635.5 643.4 635.9 645.7 636.4 650.4 636.8 655.2 637.2 657.4 637.7 657.8 638.1 657.9 638.6 655.7 639 651.8 639.4 650.4 639.9 648.6 640.3 647.2 640.8 646.5 641.2 647.1 641.6 646.3 642.1 647.5 642.5 649.5 643 652 643.4 653.3 643.8 655.2 644.3 655.2 644.7 654.4 645.2 653.2 645.6 651.8 646.1 650.4 646.5 649.7 646.9 646.9 647.4 643.5 647.8 643.4 648.3 643.3 648.7 643.7 649.1 647 649.6 651.4 650 653.2 650.5 655.7 650.9 657.1 651.3 657.3 651.8 657.4 652.2 656.3 652.7 652.9 653.1 649.9 653.5 647.7 654 646 654.4 647.1 654.9 648.9 655.3 651.8 655.7 653.3 656.2 653.6 656.6 651.5 657.1 650.6 657.5 648.1 657.9 646.1 658.4 644.5 658.8 643.9 659.3 644.3 659.7 646.6 660.2 648.4 660.6 650.4 661 653 661.5 653.9 661.9 653.7 662.4 654.8 662.8 655.8 663.2 655.4 663.7 654.5 664.1 653.6 664.6 652.1 665 651.1 665.4 650.3 665.9 650.3 666.3 649.8 666.8 649 667.2 647.6 667.6 646.6 668.1 646.5 668.5 647.2 669 648.7 669.4 650.4 669.8 652 670.3 652.3 670.7 652 671.2 650.9 671.6 649.9 672 649.4 672.5 649.5 672.9 649.7 673.4 650 673.8 651.6 674.2 652 674.7 652.5" stroke="#ee2a24" stroke-width=".75" fill="none"/>
<text x="627.1" y="635" font-size="4.6" fill="#222">ATD BHZ</text>
<path d="M608.6 687.5 609.1 687.5 609.6 687.5 610 687.5 610.5 687.5 611 687.5 611.5 687.5 612 687.5 612.5 687.5 612.9 687.5 613.4 687.5 613.9 687.5 614.4 687.5 614.9 687.5 615.4 687.5 615.8 687.5 616.3 687.5 616.8 687.5 617.3 686.9 617.8 689 618.3 691.2 618.7 688.5 619.2 681.5 619.7 688.2 620.2 680.6 620.7 682.9 621.2 684.7 621.6 678.9 622.1 679.9 622.6 691.1 623.1 680.5 623.6 687.8 624.1 684.1 624.5 688.1 625 686.8 625.5 688.2 626 685 626.5 688.7 626.9 681.2 627.4 689.6 627.9 694.2 628.4 689.2 628.9 689.2 629.4 691.3 629.8 690.8 630.3 691 630.8 694.5 631.3 692.7 631.8 690.7 632.3 680.6 632.7 686.2 633.2 686.6 633.7 681.4 634.2 678.3 634.7 685 635.2 679.7 635.6 685.7 636.1 682.6 636.6 685.2 637.1 691.8 637.6 698.8 638.1 703.5 638.5 704.9 639 700.6 639.5 687.4 640 684.8 640.5 677.5 640.9 681.8 641.4 672.6 641.9 680.4 642.4 685.2 642.9 684.3 643.4 693.3 643.8 703.1 644.3 694.2 644.8 691.2 645.3 684.7 645.8 680.6 646.3 674.8 646.7 683.2 647.2 683.4 647.7 690.1 648.2 690.6 648.7 694.6 649.2 688.8 649.6 695.8 650.1 691.5 650.6 687.6 651.1 687.2 651.6 685 652.1 682.4 652.5 686.4 653 687 653.5 686.5 654 686.9 654.5 683.4 655 681.2 655.4 687.2 655.9 686.4 656.4 689.5 656.9 696 657.4 694.3 657.8 691.6 658.3 694.2 658.8 690.9 659.3 689.9 659.8 691.8 660.3 691.3 660.7 679 661.2 687.2 661.7 688 662.2 685.7 662.7 684.5 663.2 685.8 663.6 681.8 664.1 684.3 664.6 688.3 665.1 686.7 665.6 687.5 666.1 691.3 666.5 689.4 667 688.8 667.5 689.7 668 682.4 668.5 678 669 674.5 669.4 681.4 669.9 681 670.4 690.2 670.9 697.2 671.4 698.3 671.8 696.3 672.3 691.4 672.8 689.7 673.3 694.1 673.8 692.5 674.3 688 674.7 684.9 675.2 682.9 675.7 683.3 676.2 680.5 676.7 679.8 677.2 682.1 677.6 682.2 678.1 691 678.6 686.2 679.1 689 679.6 689 680.1 689.1 680.5 691.1 681 690.6" stroke="#1a1a1a" stroke-width=".8" fill="none"/>
<path d="M608.6 687.5 609.1 687.5 609.6 687.5 610 687.5 610.5 687.5 611 687.5 611.5 687.5 612 687.5 612.5 687.5 612.9 687.5 613.4 687.5 613.9 687.5 614.4 687.5 614.9 687.5 615.4 687.5 615.8 687.5 616.3 687.9 616.8 688.3 617.3 689.1 617.8 689.4 618.3 688.7 618.7 688.2 619.2 686.9 619.7 685.1 620.2 683.5 620.7 682.4 621.2 681.9 621.6 683.2 622.1 683.2 622.6 684.1 623.1 685.8 623.6 685.9 624.1 685.2 624.5 686.4 625 686.5 625.5 686.8 626 686.8 626.5 688.1 626.9 689 627.4 690 627.9 690.3 628.4 691.7 628.9 691.4 629.4 690.9 629.8 691.8 630.3 692 630.8 691.6 631.3 690.9 631.8 689.9 632.3 687.3 632.7 685.3 633.2 682.4 633.7 681.6 634.2 680.4 634.7 681 635.2 681.7 635.6 684 636.1 685.2 636.6 689.1 637.1 692.4 637.6 696.1 638.1 698.7 638.5 698.7 639 695.6 639.5 691.6 640 686.5 640.5 680.6 640.9 678.9 641.4 678.9 641.9 679.4 642.4 681.8 642.9 687.8 643.4 690.6 643.8 691.8 644.3 692 644.8 690.2 645.3 685.2 645.8 683.1 646.3 681.7 646.7 682.4 647.2 684.6 647.7 688 648.2 689.8 648.7 692.6 649.2 693.1 649.6 691.9 650.1 690.6 650.6 688.8 651.1 686.2 651.6 685 652.1 685 652.5 684.8 653 685.2 653.5 684.8 654 684 654.5 684.1 655 684.1 655.4 684.9 655.9 687.5 656.4 690.3 656.9 691.6 657.4 693.3 657.8 693.4 658.3 692.3 658.8 691.6 659.3 690.9 659.8 688.4 660.3 687.8 660.7 687.9 661.2 687.1 661.7 686.2 662.2 687 662.7 685.7 663.2 684.4 663.6 683.8 664.1 684.5 664.6 685.2 665.1 687.3 665.6 688.7 666.1 689.8 666.5 690.6 667 689.5 667.5 686.7 668 683.9 668.5 681.5 669 679.7 669.4 681.2 669.9 684.7 670.4 689.3 670.9 693.3 671.4 695.6 671.8 695.5 672.3 695.6 672.8 694.4 673.3 692.5 673.8 690.9 674.3 688.9 674.7 685.9 675.2 683.6 675.7 681.8 676.2 681 676.7 681.5 677.2 682.6 677.6 683.5 678.1 685.8 678.6 687.1 679.1 688.7 679.6 689.1 680.1 690 680.5 689.9 681 690.4" stroke="#ee2a24" stroke-width=".75" fill="none"/>
<text x="627.1" y="672" font-size="4.6" fill="#222">BFO BHZ</text>
<path d="M608.6 706H681.5" stroke="#444" stroke-width=".5"/>
<path d="M608.6 706v-1.2" stroke="#444" stroke-width=".5"/>
<text x="608.6" y="711.2" font-size="4.6" text-anchor="middle" fill="#222">0</text>
<path d="M633.4 706v-1.2" stroke="#444" stroke-width=".5"/>
<text x="633.4" y="711.2" font-size="4.6" text-anchor="middle" fill="#222">20</text>
<path d="M657.1 706v-1.2" stroke="#444" stroke-width=".5"/>
<text x="657.1" y="711.2" font-size="4.6" text-anchor="middle" fill="#222">40</text>
<path d="M680.5 706v-1.2" stroke="#444" stroke-width=".5"/>
<text x="680.5" y="711.2" font-size="4.6" text-anchor="middle" fill="#222">60</text>
<text x="644.4" y="717.2" font-size="4.8" text-anchor="middle" fill="#222">Time (s)</text>
</svg>
</body></html>
